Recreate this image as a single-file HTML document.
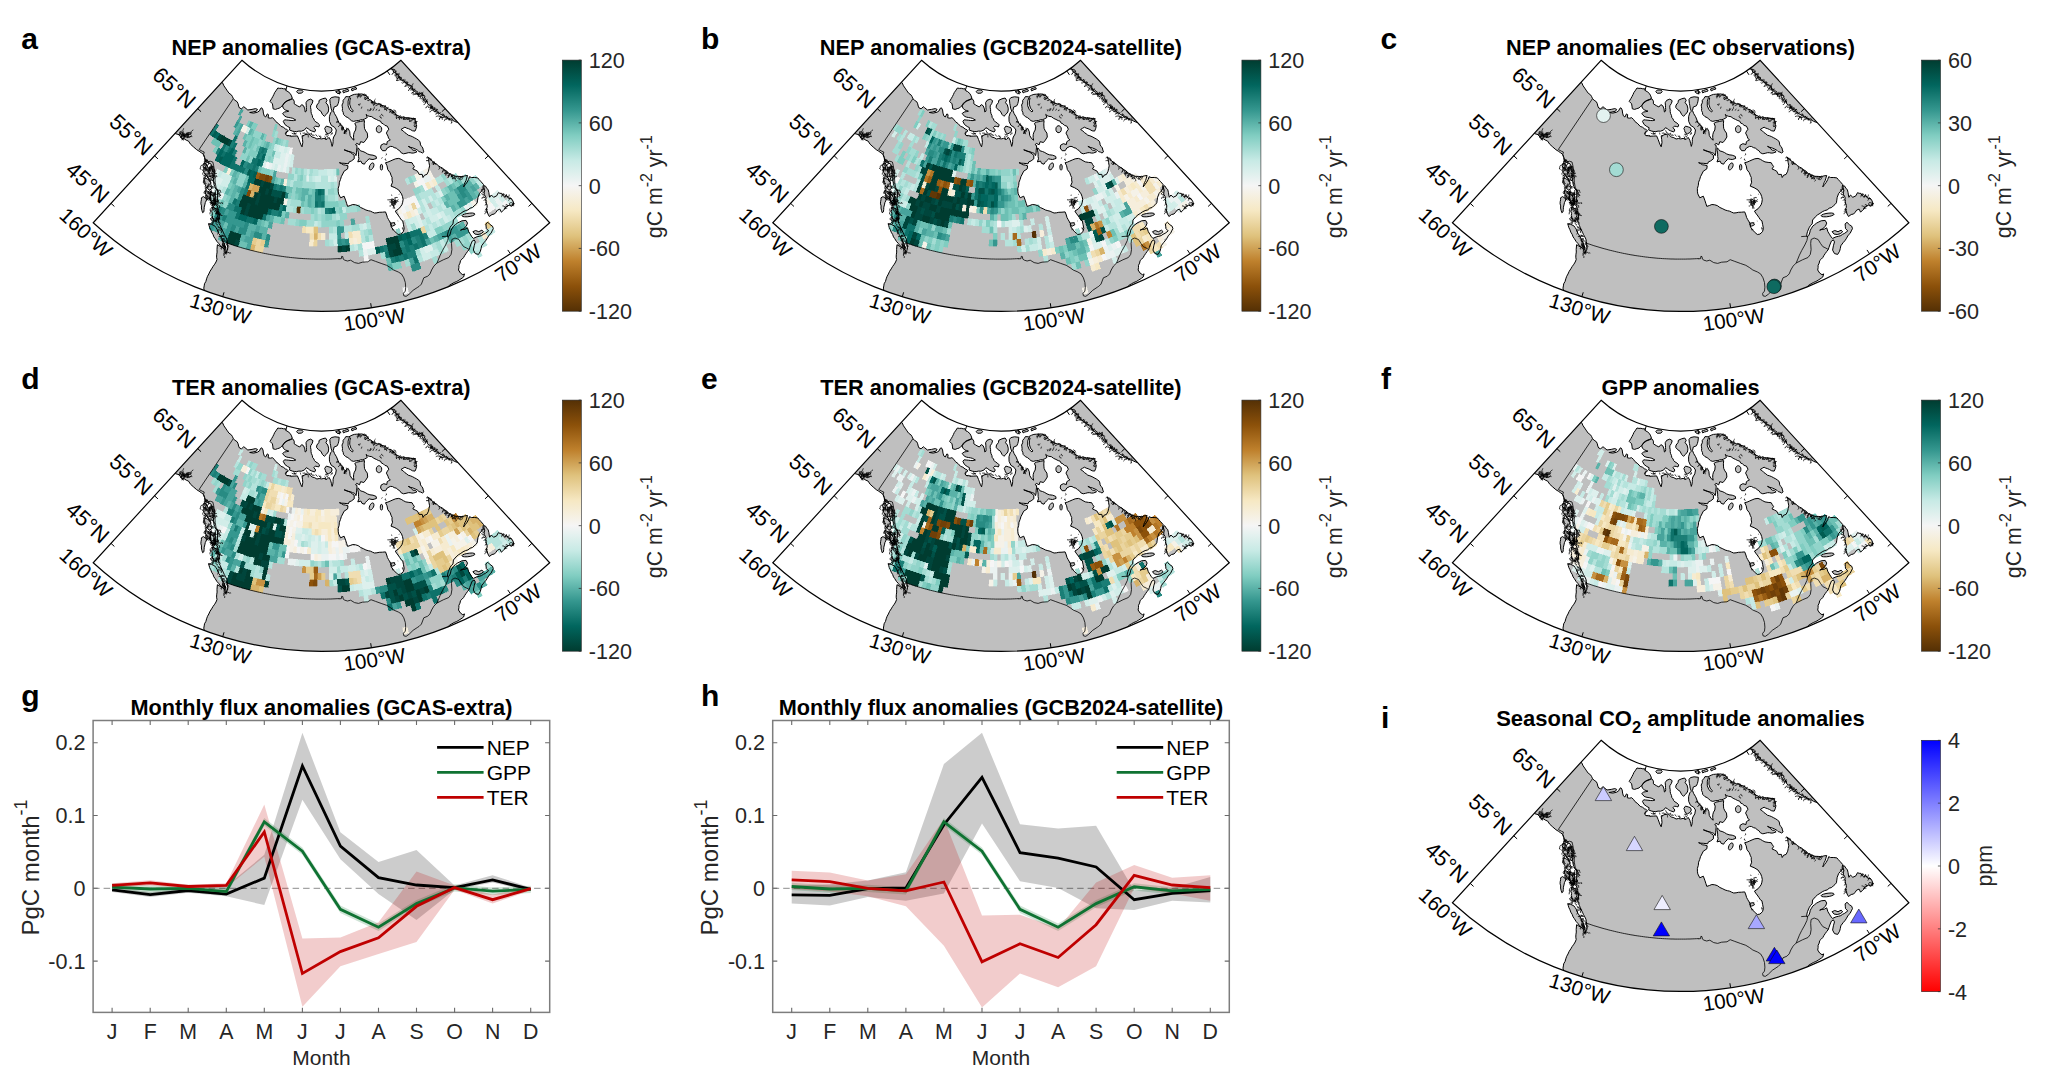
<!DOCTYPE html>
<html lang="en"><head><meta charset="utf-8"><title>Figure</title>
<style>html,body{margin:0;padding:0;background:#fff}body{width:2048px;height:1076px;overflow:hidden}svg{display:block}</style></head>
<body>
<svg width="2048" height="1076" viewBox="0 0 2048 1076" font-family="'Liberation Sans', Arial, sans-serif">
<rect width="2048" height="1076" fill="#fff"/>
<defs>
<clipPath id="fc"><path d="M93.21 222.78A338.09 338.09 0 0 0 549.69 222.78L400.96 60.24A117.78 117.78 0 0 1 241.94 60.24Z"/></clipPath>
<path id="ld" d="M214.5 75.6L216.7 77.2L218.4 79.3L220.4 81.0L222.5 82.7L223.9 85.8L225.5 88.1L227.4 90.9L229.0 93.2L231.3 94.8L232.5 96.7L233.3 98.7L234.9 100.2L237.2 101.8L238.1 103.8L238.6 106.1L239.5 108.0L241.5 108.8L243.8 106.7L245.0 107.7L247.8 110.0L252.0 109.4L255.6 108.6L257.5 109.4L256.3 111.2L252.8 112.0L249.7 112.5L253.6 113.1L257.5 112.2L259.5 110.8L260.6 108.4L261.8 107.8L263.0 110.0L263.4 113.1L264.2 115.9L265.7 117.0L267.3 113.9L268.5 114.7L268.1 117.8L270.4 118.2L272.4 117.7L274.3 119.4L275.9 121.7L278.6 123.7L281.0 126.4L283.3 127.2L285.6 129.1L286.4 129.2L288.4 130.8L285.3 133.5L286.4 135.5L288.8 135.7L291.1 136.2L294.2 136.1L297.4 135.9L298.9 139.4L299.9 142.1L300.9 144.8L302.0 146.8L302.8 142.5L302.5 139.4L302.0 136.2L305.2 134.7L309.1 133.9L310.5 135.6L312.2 137.0L314.7 137.7L316.9 139.0L319.2 138.5L321.6 138.9L323.9 138.4L327.0 139.4L329.0 137.4L330.6 140.2L331.4 143.3L332.1 146.4L332.8 144.1L333.1 141.7L333.1 139.3L333.7 137.0L335.6 133.9L336.3 130.0L334.5 127.3L331.3 125.3L329.5 121.4L329.4 119.1L329.4 116.7L330.6 112.8L332.1 111.2L331.0 108.1L330.7 105.8L330.2 103.4L329.8 99.5L331.3 97.6L334.9 96.8L339.2 97.3L338.8 101.1L338.2 103.5L337.2 105.8L334.1 107.0L333.3 110.5L334.5 113.6L336.4 116.7L338.0 120.6L339.5 123.8L340.9 125.5L342.7 126.9L343.6 129.0L345.0 130.8L344.2 133.9L345.8 130.0L348.1 128.4L349.7 131.6L350.1 135.5L352.0 138.6L354.0 140.2L353.5 137.4L353.6 134.7L354.3 132.2L355.6 130.0L356.0 126.1L354.8 123.4L356.7 122.2L360.6 121.4L364.5 120.6L364.2 123.8L364.3 126.1L364.5 128.4L365.7 130.9L367.3 133.1L367.7 137.0L365.7 140.2L363.8 142.5L360.6 141.7L359.5 144.8L356.7 143.3L355.6 144.8L357.0 145.5L356.9 147.8L356.6 150.2L356.5 152.9L356.0 155.6L354.6 153.3L352.5 152.6L350.3 151.7L347.1 151.1L344.1 149.8L346.2 150.4L348.3 151.4L350.3 152.3L352.3 153.8L354.2 155.2L354.2 158.8L351.5 160.9L349.2 161.9L348.4 163.8L344.1 163.3L341.7 163.2L339.4 162.7L341.4 163.6L343.3 164.8L345.7 165.1L348.0 165.8L347.6 168.9L344.1 171.2L342.7 174.0L341.3 176.7L340.5 179.5L339.4 182.2L339.1 185.4L338.2 188.4L338.2 191.2L338.6 193.9L340.6 197.8L344.1 196.2L345.6 200.2L346.6 203.3L347.6 206.4L350.2 205.5L352.7 204.5L355.5 204.8L358.1 205.6L360.7 207.5L363.6 208.8L365.9 210.0L368.3 210.7L370.5 211.2L372.5 212.2L374.5 213.0L376.9 212.8L379.2 212.3L382.4 212.2L385.5 211.9L386.7 215.0L387.4 217.5L388.6 219.7L389.8 221.8L391.0 224.0L391.3 227.0L393.7 230.2L395.1 231.9L396.8 233.3L398.1 234.5L400.7 234.1L403.3 231.7L404.2 228.6L403.5 224.7L402.7 220.8L401.1 219.7L399.6 217.3L398.0 215.0L396.5 213.1L395.3 211.1L398.8 208.8L400.4 206.8L401.9 204.8L402.7 202.2L403.1 199.4L402.5 196.6L401.5 193.9L400.1 192.0L398.8 190.0L396.8 188.8L394.9 187.7L391.0 186.1L392.5 182.2L392.0 179.9L392.1 177.5L391.0 175.2L390.2 172.8L387.8 169.7L387.0 165.8L385.5 162.7L387.9 162.1L390.2 161.1L392.9 159.9L395.6 158.8L398.8 158.4L401.2 159.3L403.4 160.7L405.8 161.9L408.9 162.4L412.0 162.7L413.1 164.7L414.4 166.6L412.8 168.9L415.2 170.0L417.5 171.2L419.1 174.4L422.2 174.4L423.0 177.5L424.5 175.2L426.9 174.4L428.5 171.2L429.0 168.5L429.6 165.8L429.0 162.7L428.5 159.5L427.7 156.8L429.9 159.1L432.4 161.1L434.4 162.7L436.6 164.2L438.6 165.8L440.4 167.1L442.4 168.1L444.1 169.7L446.1 170.7L447.6 172.4L449.5 173.6L451.5 174.8L453.7 175.5L455.8 176.3L458.9 176.4L462.0 176.7L464.7 175.9L467.5 175.5L466.7 178.1L466.0 180.6L464.9 182.6L464.2 184.7L463.6 186.9L465.4 184.5L467.1 182.2L468.5 179.6L469.5 176.7L471.4 177.5L474.6 177.5L477.7 177.9L479.2 179.7L480.8 181.4L483.5 184.5L483.0 187.0L483.1 189.5L481.3 191.4L479.5 193.4L478.0 197.3L477.6 200.1L477.2 202.8L475.8 204.5L474.1 205.9L472.5 207.5L470.0 208.2L468.0 209.9L465.5 210.6L463.0 211.8L460.8 213.4L458.3 214.9L456.1 216.9L453.4 220.0L453.0 223.9L451.2 225.7L449.9 227.8L448.3 231.7L447.7 234.0L447.5 236.4L447.7 236.8L449.5 235.6L450.5 233.0L451.1 230.2L452.3 228.2L453.5 226.2L455.4 224.7L457.4 223.1L459.7 221.9L462.0 220.8L466.0 220.4L467.5 223.1L466.3 226.2L463.6 228.6L460.5 230.2L462.8 229.4L465.2 229.2L467.5 227.8L468.7 231.7L470.6 234.8L471.8 236.8L473.4 238.4L476.9 236.8L479.2 236.3L481.6 235.6L483.4 234.3L485.5 233.3L488.6 230.9L486.3 228.6L486.1 226.2L485.9 223.9L487.8 222.3L490.2 224.7L492.5 226.2L493.3 228.6L492.1 230.9L491.0 233.3L489.0 235.2L487.0 238.8L485.6 240.8L483.9 242.7L481.6 245.8L481.1 248.5L480.4 251.2L478.5 254.4L475.3 253.6L473.4 250.1L474.2 245.8L475.3 241.9L474.2 239.9L472.2 241.1L470.6 245.0L469.8 247.3L469.1 249.5L467.5 251.5L466.0 253.6L464.7 255.5L463.6 257.5L462.1 259.1L460.5 260.6L460.0 263.1L458.9 265.3L458.9 267.7L458.5 270.0L460.5 273.1L462.8 274.7L464.5 273.9L463.6 277.0L462.0 278.2L458.9 280.2L456.7 281.5L454.2 282.5L451.9 283.8L449.5 285.2L447.2 287.6L446.0 289.7L445.1 292.0L444.1 294.2L443.3 296.6L442.9 298.8L443.1 301.1L442.5 303.4L442.5 305.7L442.7 308.0L442.6 310.3L442.4 312.6L441.7 314.8L441.9 317.2L441.8 319.4L441.3 321.7L441.3 324.0L441.3 326.3L441.1 328.6L440.7 330.9L440.8 333.2L440.5 335.4L440.0 337.7L440.0 340.0L437.8 340.2L435.6 340.5L433.4 340.6L431.2 341.1L429.0 341.0L426.8 341.2L424.6 341.5L422.4 341.8L420.1 341.4L418.0 341.8L415.8 342.2L413.5 342.1L411.3 342.2L409.2 342.9L407.0 343.1L404.8 343.2L402.5 343.0L400.4 343.6L398.1 343.4L395.9 343.6L393.7 343.9L391.5 344.3L389.3 343.9L387.1 344.2L384.9 344.6L382.7 345.0L380.5 344.9L378.3 345.3L376.1 345.3L373.9 345.7L371.7 345.6L369.5 346.2L367.3 346.3L365.0 346.0L362.8 346.2L360.7 346.8L358.4 346.6L356.3 347.2L354.0 346.9L351.8 347.2L349.7 347.7L347.5 348.0L345.3 348.3L343.0 347.9L340.9 348.7L338.6 348.3L336.4 348.4L334.2 348.8L332.0 349.3L329.8 349.0L327.6 349.1L325.4 349.5L323.2 349.8L321.0 350.0L318.8 349.7L316.6 349.4L314.4 349.1L312.2 348.4L310.0 348.2L307.8 348.0L305.6 347.7L303.4 347.0L301.2 346.9L299.0 346.4L296.8 346.1L294.6 345.4L292.4 345.0L290.1 345.2L288.0 344.8L285.8 344.3L283.7 343.5L281.4 343.3L279.2 343.2L277.0 342.9L274.8 342.2L272.6 341.8L270.4 341.3L268.2 341.4L266.0 340.6L263.8 340.4L261.6 340.2L259.5 339.5L257.2 339.6L255.0 338.9L252.8 339.0L250.6 338.6L248.4 337.7L246.2 337.8L244.0 337.1L241.8 336.8L239.6 336.3L237.4 336.3L235.2 335.9L233.0 335.6L230.8 334.8L228.6 334.7L226.5 334.0L224.2 333.7L222.0 333.9L219.8 333.2L217.6 333.2L215.3 332.9L213.2 332.5L211.0 331.6L208.8 331.3L206.6 330.9L204.4 330.8L202.2 330.3L200.0 330.0L200.4 327.8L200.3 325.6L200.7 323.4L200.7 321.2L200.8 319.0L201.1 316.8L201.8 314.6L201.8 312.4L202.2 310.2L202.1 308.0L202.2 305.8L202.8 303.6L203.0 301.4L202.7 299.1L203.4 297.0L203.2 294.7L203.4 292.5L204.2 290.4L203.8 288.1L204.2 285.9L204.5 283.8L205.9 281.4L206.6 278.8L207.5 276.3L208.8 274.0L210.0 271.3L211.6 268.9L213.0 266.5L214.7 264.2L216.0 262.0L217.0 259.5L216.6 257.2L216.7 254.8L217.1 252.1L217.0 249.4L217.2 247.0L217.4 244.7L221.0 246.9L224.1 248.6L226.4 250.9L225.6 253.7L227.4 250.2L227.8 247.4L227.6 244.7L227.2 241.6L226.7 239.1L225.6 236.9L224.3 234.6L223.3 232.2L222.0 229.9L221.0 227.5L220.2 225.4L219.1 223.4L218.6 221.2L219.1 218.1L219.4 215.0L218.5 212.7L217.9 210.4L218.0 207.9L217.0 205.6L217.0 203.0L217.4 200.4L217.4 197.8L217.5 195.2L217.6 192.6L217.8 190.0L216.7 190.3L214.7 186.4L213.8 183.7L213.5 180.9L213.6 177.8L213.1 174.7L213.1 171.5L212.4 168.4L211.9 166.0L210.8 163.8L207.7 162.6L205.3 161.4L204.5 157.5L203.4 154.4L201.4 152.8L199.1 151.2L196.7 149.7L193.6 147.0L190.5 144.2L188.5 141.1L186.3 140.2L184.2 138.8L181.1 138.0L179.5 134.8L175.6 133.7L173.8 132.4L172.2 130.7L170.6 129.0L168.6 127.8L170.1 126.1L171.7 124.5L173.1 122.8L174.4 121.0L176.0 119.4L177.4 117.6L178.9 115.9L180.2 114.2L181.8 112.6L183.7 111.2L184.9 109.3L186.5 107.7L188.0 106.0L189.6 104.4L190.8 102.5L192.2 100.8L193.7 99.1L195.2 97.4L197.0 96.0L198.5 94.3L199.6 92.4L201.1 90.7L202.7 89.1L204.2 87.4L205.7 85.8L207.0 83.9L208.4 82.1L210.0 80.6L211.4 78.8L213.1 77.3ZM277.8 88.0L279.8 88.4L281.7 88.3L283.6 88.8L285.5 88.8L286.4 90.9L288.0 91.6L290.3 93.6L291.5 95.9L292.3 98.3L290.3 99.8L287.2 101.0L284.5 103.0L282.5 105.7L281.0 106.7L279.8 108.0L277.6 108.6L275.5 109.4L273.1 108.8L272.8 106.1L272.4 103.8L270.0 101.4L271.6 98.7L272.8 96.6L273.9 94.4L274.7 92.5L275.9 90.9ZM283.7 103.4L285.6 101.5L288.8 99.9L290.7 99.3L292.7 98.8L294.2 101.1L294.2 103.8L295.8 104.8L297.4 105.8L299.7 107.0L301.7 104.6L303.6 105.8L304.8 108.9L305.2 112.0L306.3 111.2L306.5 109.4L306.3 107.6L306.3 105.8L306.0 102.7L307.5 100.3L310.6 99.1L313.0 100.7L312.2 103.4L310.6 105.8L310.6 107.8L311.0 109.7L311.0 111.7L311.4 113.6L312.3 115.5L312.6 117.5L313.8 118.9L314.5 120.6L315.9 122.0L317.7 123.0L319.6 124.9L318.8 126.9L317.1 126.5L315.3 126.1L313.8 127.7L315.7 130.0L314.5 132.0L311.4 130.8L309.7 130.0L308.3 128.8L306.3 127.7L304.4 130.0L301.3 131.2L298.9 131.1L296.6 131.6L294.6 131.5L292.7 131.2L289.5 130.0L289.9 127.7L287.6 126.5L284.9 124.5L283.3 121.4L284.5 119.8L286.6 120.0L288.8 120.2L291.1 120.5L293.5 120.6L295.8 120.0L292.7 118.3L290.7 117.8L288.8 117.5L286.8 117.1L284.9 116.3L283.8 114.9L282.5 113.6L284.5 112.0L286.6 111.7L288.8 111.2L287.1 110.5L285.3 110.1L283.3 108.1L282.5 105.8ZM316.9 105.0L318.8 102.7L319.2 100.3L322.4 98.8L325.5 98.0L327.0 100.3L325.9 102.7L327.8 105.0L328.6 108.1L328.6 110.1L328.2 112.0L326.3 114.4L324.3 116.3L322.4 114.4L320.8 111.2L318.5 109.7L316.5 107.3ZM324.7 128.4L326.3 126.1L329.0 126.9L331.3 127.7L332.1 130.0L331.0 132.3L328.2 133.9L325.9 132.3L325.4 130.4ZM345.8 96.6L348.9 96.8L352.0 95.2L354.3 94.4L356.7 94.2L359.1 94.2L361.4 93.9L364.5 94.8L367.3 96.8L369.2 99.5L371.0 100.1L372.4 101.5L374.3 102.6L376.3 103.4L378.1 104.2L380.1 104.1L381.7 105.4L384.3 105.9L386.4 107.3L388.5 109.1L391.1 109.7L392.8 110.9L394.6 112.0L395.8 115.2L397.9 115.5L399.7 116.7L401.4 117.7L403.4 116.8L405.2 117.5L407.0 117.8L408.8 117.8L410.6 118.3L412.8 118.7L415.0 118.6L415.4 120.5L415.8 122.5L416.3 124.4L416.6 126.4L416.0 128.8L415.0 131.1L412.5 130.8L410.3 129.5L408.5 128.7L406.6 128.1L404.9 127.2L402.9 128.3L401.0 129.5L403.1 130.8L404.9 132.7L406.6 133.8L408.2 135.2L410.3 135.8L412.5 136.7L414.5 137.8L416.6 138.9L418.2 140.0L419.7 141.2L420.3 143.0L420.5 144.9L421.6 146.4L422.8 148.0L423.2 150.0L423.9 151.9L422.4 153.0L420.8 152.1L419.0 151.6L417.7 150.3L415.4 149.0L413.0 148.0L410.6 147.4L408.3 146.4L410.1 147.2L411.4 148.8L413.0 150.2L415.3 150.3L416.9 151.9L413.8 153.0L411.9 153.1L410.1 152.7L408.3 152.7L406.0 153.3L403.6 153.8L401.2 152.8L399.7 150.7L397.9 149.6L396.3 148.2L394.2 147.6L392.4 146.5L390.3 146.4L387.2 148.0L385.6 150.7L382.5 150.7L380.6 148.0L381.0 145.2L383.7 143.7L386.8 144.5L387.2 141.7L388.7 140.7L390.3 139.8L388.6 138.4L388.0 136.2L386.4 133.1L387.4 131.1L388.8 129.2L387.2 126.1L384.9 125.4L383.3 123.8L381.5 123.1L380.5 121.1L378.6 120.6L376.3 119.4L373.9 118.3L371.8 116.7L369.2 116.3L367.5 115.6L366.1 114.4L367.3 117.5L364.5 119.1L362.7 119.7L360.6 119.8L358.8 120.6L356.7 120.6L353.6 121.4L351.4 120.7L349.7 119.1L347.9 117.6L345.8 116.7L343.5 114.4L343.2 112.3L342.3 110.5L342.5 108.6L342.3 106.8L342.0 105.0L343.1 102.8L343.1 100.3L344.6 98.6ZM381.7 129.2L381.5 130.7L380.7 132.0L379.6 132.6L378.4 132.6L377.3 132.0L376.5 130.7L376.3 129.2L376.5 127.7L377.3 126.5L378.4 125.8L379.6 125.8L380.7 126.5L381.5 127.7ZM358.1 147.8L359.4 149.3L360.5 150.9L362.9 151.5L365.2 152.5L367.4 153.9L369.9 154.8L373.0 155.2L376.1 156.4L376.5 158.4L374.8 159.0L373.0 159.5L371.0 159.3L369.1 158.8L366.7 161.1L365.4 162.5L364.4 164.2L362.0 163.4L360.9 161.1L357.8 161.9L358.9 158.8L358.5 156.4L358.5 154.1L358.3 152.1L357.8 150.2ZM373.4 167.2L372.5 168.6L371.4 169.6L370.4 169.9L369.6 169.5L369.2 168.5L369.3 167.1L369.8 165.6L370.7 164.2L371.7 163.2L372.7 162.9L373.5 163.3L373.9 164.3L373.9 165.7ZM382.6 167.2L382.5 168.5L382.2 169.5L381.7 170.1L381.2 170.1L380.7 169.5L380.4 168.5L380.3 167.2L380.4 165.9L380.7 164.9L381.2 164.3L381.7 164.3L382.2 164.9L382.5 165.9ZM391.0 223.1L394.1 222.7L395.3 224.7L392.5 226.2L390.6 225.1ZM475.0 214.0L474.5 214.8L472.7 215.7L470.2 216.4L467.2 216.8L464.5 216.8L462.6 216.5L461.9 215.8L462.4 215.0L464.2 214.2L466.8 213.5L469.7 213.1L472.4 213.0L474.3 213.4ZM472.9 231.7L475.6 230.5L478.8 231.7L481.9 230.2L483.5 231.7L481.1 233.7L478.0 234.5L474.9 234.1ZM484.2 185.6L483.8 188.0L484.7 190.3L484.2 192.7L484.2 194.5L485.3 196.1L486.0 197.8L485.8 199.7L486.0 201.6L486.4 203.4L487.0 205.2L487.2 207.2L486.2 209.1L487.2 211.3L487.8 213.8L489.3 216.5L492.0 214.5L494.4 214.0L496.0 212.2L497.5 210.1L499.9 209.1L501.4 212.2L503.8 209.8L505.2 208.5L506.1 206.7L509.2 205.2L511.6 206.3L513.9 204.4L513.1 201.2L511.6 198.9L508.5 198.1L506.9 195.8L504.5 196.6L502.8 195.3L501.8 193.4L500.0 193.3L498.3 192.7L496.7 195.8L493.6 197.3L491.3 195.0L489.7 197.3L489.2 195.0L488.9 192.7L488.1 189.5L486.6 188.3L485.8 186.4ZM208.5 223.6L209.1 225.5L209.6 227.5L210.8 229.8L211.6 232.2L213.0 234.4L213.9 236.9L215.0 238.4L216.0 240.0L217.0 241.6L218.7 243.4L220.2 245.5L221.9 246.7L223.3 248.2L225.6 247.8L224.7 245.5L224.1 243.1L222.9 240.8L221.7 238.4L220.8 236.9L220.1 235.2L219.0 233.8L217.8 231.5L217.0 229.1L215.9 227.5L214.7 225.9L211.6 224.4ZM203.4 196.6L205.3 197.9L206.9 199.4L205.3 202.5L204.8 204.9L204.2 207.2L204.1 209.5L203.8 211.9L202.6 212.7L201.9 210.3L201.4 208.0L201.5 205.9L200.9 203.8L201.0 201.7L201.4 199.8L201.4 197.8ZM390.8 68.2L392.9 69.4L393.5 72.0L395.5 73.3L396.8 74.5L398.6 75.2L399.2 77.3L401.0 78.0L401.9 79.8L403.6 80.8L405.0 82.2L406.4 83.4L408.1 84.8L410.2 85.3L411.9 86.6L412.7 89.1L414.2 91.2L416.2 92.4L417.4 94.4L419.8 94.0L422.0 92.8L423.1 94.8L424.4 96.7L424.8 98.6L426.4 100.1L427.1 101.8L427.5 103.8L428.9 104.8L430.4 105.9L431.7 107.1L433.0 108.4L434.3 109.9L436.4 110.4L437.5 112.2L439.2 113.1L440.7 114.4L442.6 115.2L443.9 116.6L445.5 117.8L447.3 118.3L448.9 119.2L450.6 120.0L452.5 120.2L454.2 121.2L456.1 122.0L458.0 122.5L461.1 120.9L460.4 119.1L459.1 117.7L457.7 116.3L457.2 114.3L455.5 113.2L454.5 111.5L453.2 110.1L451.8 108.7L451.3 106.7L449.9 105.3L448.6 103.9L447.5 102.4L446.3 100.9L445.5 99.1L444.1 97.9L443.4 96.1L441.8 95.1L440.8 93.5L439.5 92.3L438.1 91.1L437.0 89.7L436.3 87.9L434.9 86.7L433.5 85.5L432.4 84.0L431.5 82.5L429.9 81.5L428.6 80.2L427.4 78.9L426.5 77.2L425.1 76.0L423.6 75.0L423.1 72.9L421.0 72.5L419.9 70.9L418.9 69.5L418.3 67.6L416.7 66.5L415.2 65.5L414.2 63.9L412.5 62.9L411.0 61.4L408.9 60.9L407.1 59.8L405.3 58.8L403.4 58.0L401.7 56.9L400.2 57.9L398.8 59.2L396.9 59.6L395.3 60.4L394.3 62.3L392.2 62.4L390.7 63.5L389.2 64.7L390.2 66.4ZM296.6 91.7L298.1 90.0L301.7 90.0L303.0 91.6L301.7 93.1L298.1 93.3ZM335.6 91.7L338.8 90.5L341.1 92.5L338.0 93.7ZM342.7 90.9L344.5 90.5L346.3 89.7L348.1 89.4L348.9 90.9L347.1 91.6L345.2 92.0L343.5 92.9ZM351.3 89.0L353.6 88.2L356.0 87.4L356.7 89.0L354.3 89.7L352.0 90.9ZM203.4 163.8L205.7 163.0L206.7 164.9L207.7 166.9L208.1 168.9L207.7 171.1L208.5 173.1L207.9 175.4L207.7 177.8L207.0 175.8L205.3 174.7L204.2 172.5L203.8 170.0L204.2 167.9L202.9 165.9ZM204.2 177.8L206.0 178.4L207.7 179.4L209.5 180.7L210.8 182.5L210.8 184.6L211.7 186.6L211.6 188.8L209.2 190.3L207.9 188.5L206.1 187.2L205.4 184.7L204.2 182.5L203.9 180.2ZM209.2 166.9L211.6 168.4L212.5 170.4L211.9 172.6L212.4 174.7L212.1 176.8L213.3 178.8L212.8 180.9L210.8 179.4L211.1 177.4L210.2 175.7L209.6 173.9L209.0 171.6L209.6 169.2ZM205.3 190.3L207.3 191.1L209.2 191.9L210.9 193.4L212.4 195.0L213.7 197.3L214.7 199.7L215.7 201.7L215.5 204.0L212.4 202.8L211.4 201.0L209.5 199.9L208.5 198.1L207.1 196.2L205.7 194.2L205.2 192.3ZM210.0 191.6L212.2 192.9L214.7 193.1L214.9 195.2L214.9 197.3L215.5 199.4L215.8 201.5L215.0 203.6L214.7 205.6L211.6 204.1L211.3 202.0L210.6 199.9L210.4 197.8L210.4 195.7L210.4 193.6ZM211.6 207.2L213.9 207.9L216.3 208.8L217.3 210.4L216.6 212.4L216.9 214.1L217.8 215.8L216.8 217.5L216.9 219.4L216.7 221.2L213.5 219.7L212.6 217.7L212.1 215.6L212.4 213.4L211.7 211.4L212.4 209.2Z"/><path id="wt" d="M349.3 97.6L348.1 101.1L348.1 105.8L349.7 109.7L352.4 112.0L353.2 110.9L350.9 108.1L349.7 104.2L349.9 100.3L350.5 98.0Z"/><path id="bd" d="M233.3 98.7L199.1 149.5L202.2 151.2L204.2 152.0L203.6 154.4L204.7 157.5L205.5 161.4L207.7 162.0L210.2 161.2L212.8 162.0L213.6 165.3L214.4 170.0L214.8 176.2L215.2 182.5L216.0 187.2L217.5 190.3L218.0 195.0L217.7 197.8M227.2 243.8L226.7 243.0L228.7 243.7L230.7 244.3L232.7 245.0L234.7 245.7L236.8 246.3L238.8 246.9L240.8 247.5L242.8 248.1L244.9 248.7L246.9 249.2L249.0 249.8L251.0 250.3L253.1 250.8L255.1 251.3L257.2 251.8L259.3 252.3L261.3 252.7L263.4 253.2L265.5 253.6L267.6 254.0L269.6 254.4L271.7 254.8L273.8 255.1L275.9 255.5L278.0 255.8L280.1 256.1L282.2 256.4L284.3 256.7L286.4 257.0L288.5 257.2L290.6 257.5L292.7 257.7L294.8 257.9L296.9 258.1L299.0 258.3L301.1 258.4L303.2 258.6L305.4 258.7L307.5 258.8L309.6 258.9L311.7 259.0L313.8 259.0L315.9 259.1L318.1 259.1L320.2 259.1L322.3 259.1L324.4 259.1L326.5 259.1L328.6 259.0L330.8 259.0L332.9 258.9L335.0 258.8L337.1 258.7L339.2 258.6L338.9 258.8L341.3 258.7L341.7 256.3L342.8 256.6L343.2 259.1L344.8 260.2L347.5 261.0L350.6 260.2L354.5 262.6L358.5 263.4L362.4 262.2L367.8 261.8L371.0 259.7L375.6 261.4L381.1 263.4L386.6 265.3L390.5 267.7L393.6 270.0L398.3 272.0L401.4 273.9L403.8 277.8L405.3 282.5L405.7 287.2L405.3 291.1L403.4 293.4L403.8 295.8L406.1 296.4L409.2 294.2L413.1 290.3L417.8 287.2L419.1 286.4L421.4 284.1L423.8 277.8L427.7 276.2L430.0 273.9L431.6 270.0L433.9 266.1L437.0 263.0L438.6 259.1L440.2 255.2L442.5 250.5L445.6 245.0L447.7 240.5L448.5 236.8M437.0 263.0L443.3 259.8L448.8 257.5L451.1 254.4L451.9 249.7L451.5 243.4L451.9 239.5L455.0 238.0L458.9 239.5L461.3 243.4L463.6 246.6L466.7 248.1L469.1 249.5M442.0 236.6L447.7 236.2"/><path id="sc" d="M212.2 192.0L211.0 192.4L211.6 193.0L210.7 193.4M206.2 191.5L205.5 192.2L205.2 193.3L205.9 193.6L206.6 194.3M213.1 167.0L211.6 166.9L211.5 167.7L212.0 168.7L212.8 169.5M207.2 195.5L208.1 195.9L209.3 196.9L209.9 197.8L210.3 199.0L210.9 200.1M206.1 195.6L205.6 196.5L205.8 197.4L206.5 198.5L207.5 199.0L208.3 199.4M207.1 194.6L206.4 194.9L205.3 195.3L206.1 196.4L206.2 197.1L205.7 197.7M213.9 201.7L214.8 202.1L214.1 202.8L212.8 203.4L213.0 204.7L213.1 205.7L213.8 206.6M210.2 173.2L211.1 173.9L212.3 173.4L212.8 174.1L213.7 175.0L215.3 175.1M209.8 193.5L210.6 194.4L210.5 195.7L210.5 196.6L210.1 197.8L209.2 198.8M210.7 165.2L210.8 166.4L210.7 167.9L210.2 168.8L209.5 169.6L208.7 169.6L208.2 170.7M205.1 190.9L205.4 191.6L204.4 191.5L204.0 192.6L204.4 193.8M208.2 173.8L206.9 174.0L205.8 173.9L205.8 175.4L205.8 176.1L205.4 177.2L205.1 178.1M209.8 166.8L211.2 167.0L212.3 166.6L213.5 166.3M208.2 177.6L209.1 178.3L209.0 179.4L209.2 180.3L210.6 180.0L210.3 180.6M212.8 202.2L212.8 202.8L213.3 204.0L213.3 204.9M206.9 185.8L207.7 185.8L207.4 187.1L208.4 187.3M213.2 166.4L213.4 167.9L213.4 169.3L214.0 170.4L213.4 171.5L213.9 172.4L214.1 173.5M207.2 165.2L206.1 165.5L206.0 166.8L206.3 167.4L205.5 167.9L206.3 168.5L206.9 169.3M216.5 203.7L217.4 204.5L218.2 205.0L218.9 205.4L219.9 206.2L219.2 206.7L219.6 207.7M204.6 186.8L205.5 187.4L205.1 188.2L205.9 189.0L207.0 189.6M203.7 163.3L204.0 164.7L205.0 165.3L205.6 166.7L205.9 167.9M210.1 167.3L210.3 168.3L210.0 169.2L211.0 170.0L210.2 171.0L210.0 172.1L209.4 172.7M202.7 166.9L203.3 167.7L204.8 167.7L205.9 167.8L206.3 168.9L206.5 170.0L207.8 169.5M214.2 172.2L214.9 173.4L216.0 173.1L216.8 173.7M205.4 158.7L206.1 159.8L206.3 160.8L207.8 160.5M205.5 159.5L206.2 159.9L206.4 161.0L205.4 161.4L206.1 162.1L206.2 162.8M206.1 159.8L207.5 159.9L207.6 161.4L208.8 161.8M205.2 168.4L206.0 169.1L206.7 170.1L206.3 171.1M214.5 181.8L214.4 182.8L214.5 183.6L215.2 183.9M204.3 161.3L204.3 162.6L205.3 162.8L205.6 164.2M214.5 175.2L213.4 175.7L213.0 176.9L212.2 178.0M213.4 169.9L213.0 170.8L213.7 171.6L214.5 172.4L215.1 173.4L214.2 173.8L213.5 174.0M204.2 166.9L204.6 168.1L205.8 168.2L205.7 169.6L205.6 170.6M209.2 178.0L208.7 179.2L209.7 179.9L210.9 180.3L210.5 181.7M208.5 167.5L209.5 168.1L209.5 169.5L209.3 170.9L210.4 170.8M204.5 168.6L205.2 169.0L204.8 170.1L205.8 171.0M212.2 194.7L213.4 194.9L213.2 196.1L213.4 197.1M210.9 189.6L211.3 190.5L211.4 191.7L212.0 192.1M207.9 184.5L208.3 185.3L207.8 186.3L207.0 187.5L206.1 188.6L205.8 189.6L205.0 190.2M210.9 175.8L212.2 175.9L213.4 175.7L214.8 175.7L215.8 176.4L216.6 175.7L216.9 177.1M203.4 176.7L204.2 177.7L204.8 178.3L205.7 178.9M208.9 161.4L209.1 162.1L208.5 162.8L208.9 164.0L207.9 164.4L207.4 165.8M207.3 197.0L206.3 197.8L205.8 198.7L206.6 199.2L205.9 200.1M207.4 193.3L208.6 193.6L209.4 194.1L208.9 194.9M207.7 192.0L209.1 192.2L208.8 193.1L210.1 193.6L209.8 194.3L210.6 194.9M209.1 167.7L208.5 168.2L208.9 169.6L208.3 170.8L208.7 172.0L209.5 172.8M209.5 175.3L208.9 176.1L210.0 176.3L210.0 177.4M202.6 164.9L201.2 165.5L200.7 166.3L200.7 167.6L199.8 168.4L200.9 168.9L201.1 169.7M208.1 175.8L208.8 176.6L209.6 176.4L210.6 176.0L210.5 176.7M215.5 202.2L215.6 203.1L215.5 204.5L216.2 205.0L216.6 205.8M216.6 199.0L217.7 199.4L218.2 200.5L217.4 201.1L218.2 202.1L219.2 202.7M208.9 180.9L209.9 181.2L210.3 181.9L210.8 182.9L210.0 183.5L209.4 184.9M203.4 178.4L204.3 179.3L204.4 180.3L205.0 181.0L204.7 182.3L205.8 183.0L206.1 184.0M204.5 163.3L204.9 164.4L205.8 164.8L206.8 165.3M204.4 159.9L205.0 160.6L204.8 161.3L204.5 162.5M212.0 186.0L212.3 187.1L213.5 186.8L214.3 187.9M206.6 176.3L207.2 176.9L207.9 177.8L208.8 178.0L208.4 178.6L209.0 179.2L209.4 180.0M204.4 180.3L203.6 180.6L203.7 181.7L202.9 182.1L203.7 182.7L204.1 183.5L204.3 184.6M210.0 190.5L210.4 191.1L210.4 192.4L211.8 192.2M205.0 173.1L205.0 173.8L206.0 174.5L205.3 174.9M214.9 199.2L215.1 200.1L214.3 201.0L214.1 201.9M203.4 175.2L204.5 175.0L204.1 176.0L205.3 176.3L206.0 176.9M212.4 200.2L213.1 200.4L213.7 201.6L214.1 202.4M214.1 169.4L214.9 169.9L214.7 171.4L215.5 171.6M209.4 186.3L208.4 186.7L207.2 187.1L206.7 187.8L207.5 188.6M215.7 198.2L215.7 199.1L215.8 200.1L215.4 200.8L214.9 201.5L216.2 202.0M206.7 195.7L207.3 196.7L206.9 197.9L207.7 198.3L207.0 199.5L208.0 199.8L208.8 200.6M215.5 187.8L215.6 188.6L216.3 189.3L217.1 189.9L218.2 190.0M215.1 194.0L215.0 195.0L214.9 195.8L215.8 196.9L215.8 197.7L214.9 198.5M209.7 186.2L211.0 186.7L211.5 187.4L212.4 187.8L212.9 188.5M207.0 191.4L206.9 192.4L207.6 192.9L209.0 193.1L209.4 194.2M203.7 168.3L203.1 169.4L202.6 170.6L203.7 171.1L203.3 172.4L202.8 173.2L202.7 174.6M212.3 166.0L211.2 166.7L211.6 168.1L211.1 169.2L211.8 170.3L212.5 171.1L212.5 172.0M208.5 183.5L208.6 184.8L209.1 185.6L208.1 186.0M213.9 176.4L215.0 176.8L215.4 177.9L214.8 178.5M217.6 217.6L218.4 217.8L217.4 218.4L218.5 218.5L217.6 219.4L218.7 219.8M216.9 212.3L216.3 212.8L215.4 213.6L216.1 214.2M212.3 222.0L211.4 222.8L210.8 223.7L209.6 224.2L208.6 224.8M213.8 202.0L215.0 201.7L216.0 201.7L217.5 201.6L218.6 201.2M212.7 220.4L213.1 221.2L212.7 222.0L212.5 222.7L212.7 223.5L212.4 224.5M217.5 202.8L218.6 203.3L219.8 202.9L221.0 203.3L221.6 202.6L222.5 202.9L222.4 203.9M218.5 210.6L218.8 211.8L219.6 212.6L220.3 213.4L220.7 214.3L221.2 215.5L222.6 215.6M215.8 222.4L216.2 223.8L217.0 224.8L217.9 224.8M217.7 216.9L218.0 217.8L219.0 218.4L220.1 218.7M214.1 220.2L213.8 221.0L213.5 222.3L213.1 223.0L212.7 223.8M213.9 208.8L213.4 209.6L213.8 210.5L214.5 211.2M213.9 202.5L213.0 203.2L213.7 203.7L215.0 204.4L213.8 204.8M210.4 208.4L210.4 209.3L209.8 210.2L211.0 210.7L210.3 212.0L210.1 212.8L209.9 214.3M215.2 190.2L215.6 191.0L215.5 192.6L215.0 193.8L214.2 194.6L213.2 195.2L212.7 195.8M210.3 202.3L210.6 203.4L210.7 204.5L211.4 205.2L211.9 205.8M218.9 215.2L218.6 216.2L219.5 217.2L218.9 218.1L219.6 219.2L218.4 219.6L217.9 220.5M209.6 202.3L210.8 202.6L211.5 203.5L212.3 202.9M214.1 198.9L214.6 199.8L215.3 201.1L215.4 202.4L214.6 202.9L215.8 203.2M211.1 193.6L210.7 194.7L210.1 195.7L209.0 196.3M218.1 220.2L218.1 221.2L218.8 221.3L218.8 221.9L219.5 222.2L219.9 222.9L220.6 223.5M217.4 206.4L217.0 207.7L217.2 208.5L218.0 208.7L217.9 209.8L219.2 209.9M216.3 194.2L215.4 194.9L214.9 195.5L215.7 196.5L215.7 198.1M211.3 202.5L212.1 203.2L213.3 202.9L213.0 203.6L214.3 203.7L214.7 204.9M213.2 218.0L213.5 219.4L213.5 220.9L214.8 221.5L215.9 221.3L216.8 221.8L217.8 222.4M212.7 216.9L212.3 217.9L211.0 218.1L210.1 218.9L211.3 219.5L211.0 220.1M209.4 197.0L210.2 197.4L209.7 198.5L210.3 198.7L210.1 199.7M214.3 211.5L215.5 212.0L216.9 212.1L217.3 213.5L218.5 213.7L218.8 214.9M213.0 216.4L211.9 216.7L212.5 217.7L212.8 218.7M210.1 193.8L210.9 194.0L211.6 194.6L211.8 195.9M217.1 199.5L216.5 200.0L217.6 200.3L218.8 200.8L218.0 201.5L217.6 202.2M213.4 206.4L214.0 207.2L214.2 208.3L214.2 209.4L215.0 210.4L216.3 210.9M211.6 217.6L212.3 218.4L211.7 219.5L212.4 219.9L211.5 220.9L212.4 220.9M213.8 200.2L213.8 201.4L214.6 202.1L215.4 202.9L216.0 204.1L215.6 205.0M214.4 218.8L215.4 219.5L215.6 220.6L216.5 221.0M214.3 192.4L215.6 192.6L215.2 194.0L215.3 195.4M216.7 190.1L218.1 190.3L219.4 190.2L220.1 190.1L220.5 191.5L221.0 192.8M210.4 191.7L211.2 192.2L212.3 192.8L213.1 193.2L213.8 193.9L213.3 195.3M216.3 211.5L216.7 212.5L217.1 213.7L218.1 214.5M211.5 209.1L212.2 208.6L213.0 208.6L213.8 209.5M214.5 204.6L213.2 204.6L212.5 205.2L212.5 206.3L212.8 207.2M217.2 211.9L217.9 212.6L218.6 213.3L219.1 214.4L219.7 215.0L220.8 214.9M209.4 197.1L209.8 197.9L209.5 198.5L210.0 199.8M212.1 200.8L210.9 201.1L211.5 201.8L212.7 202.3L212.8 203.1L211.7 203.6M215.2 217.9L215.9 218.3L216.9 218.1L217.1 218.8L217.4 219.6M217.8 191.3L219.0 191.9L219.2 193.3L220.0 194.2L219.9 195.5L219.3 196.6L220.1 197.4M215.3 220.9L216.1 220.7L215.9 221.8L216.7 222.0M213.4 199.5L214.1 199.8L214.1 201.3L214.7 201.9M218.5 211.4L217.4 211.8L216.9 212.7L216.2 213.8M215.2 197.6L214.4 198.1L213.4 198.4L214.1 199.4L214.8 200.4L213.4 200.7M213.7 194.2L215.1 194.1L215.8 193.9L216.7 194.6M217.5 192.4L218.1 193.2L218.9 193.7L219.2 194.8L220.1 195.0L221.0 196.0M217.6 211.2L217.4 212.0L217.9 212.8L217.8 213.8M216.8 208.4L215.6 208.8L215.8 209.9L216.4 210.9L217.5 211.7L217.8 212.3L218.4 213.2M212.2 200.0L212.7 200.6L214.2 200.2L214.9 200.5L215.8 201.2L217.2 201.2M211.8 197.4L211.7 198.7L211.3 199.6L210.7 200.0M210.9 196.0L210.5 197.0L210.0 198.3L208.6 198.3L207.7 198.3M218.3 213.8L219.7 213.9L218.8 214.4L219.5 214.5L220.3 215.0M214.4 198.4L214.7 199.4L213.5 199.5L213.6 200.6L212.6 201.2L211.2 201.1M215.5 219.0L216.2 219.3L217.3 219.3L218.7 219.4M212.3 205.1L212.9 206.0L213.8 206.9L213.3 207.8L212.0 208.3M219.0 229.1L218.5 229.9L217.8 230.3L217.9 231.4M227.3 244.1L227.2 245.6L228.5 245.9L229.2 246.4M222.4 244.3L222.8 245.4L223.3 246.4L222.8 247.1M221.3 235.1L222.3 235.5L223.3 235.7L223.2 236.9M223.9 242.9L224.6 243.3L224.4 244.5L225.0 245.6L225.3 247.0L226.1 247.8L225.9 248.7M221.3 229.6L220.6 230.8L221.5 231.4L220.8 232.1L221.6 232.4L222.1 233.1M227.4 246.0L227.8 247.4L227.6 248.4L228.1 249.2M220.6 227.8L221.3 228.0L221.6 229.3L221.5 230.2M219.3 235.8L219.0 236.8L219.7 236.5L221.1 236.5L222.4 236.0L223.5 235.8L224.7 236.8M219.6 229.6L219.0 230.8L218.3 231.3L218.4 232.2L218.1 233.7L217.3 234.2M222.7 235.1L221.8 235.3L222.1 236.1L221.3 237.2L221.0 238.6L221.9 239.6M225.1 247.8L225.6 248.5L224.7 249.2L224.5 250.0L224.0 250.7M222.8 243.0L223.9 243.3L223.3 244.0L223.1 245.4L224.3 245.8L225.3 246.5M224.5 252.4L223.5 253.0L224.3 253.9L223.5 255.0L224.1 255.8L224.7 256.5L224.6 257.9M217.2 225.7L218.2 226.7L219.3 227.2L220.3 227.8L221.1 228.8L221.8 230.1L222.9 230.1M225.1 252.4L226.5 252.2L228.0 252.2L229.2 253.0L230.3 252.9L231.1 253.2M222.1 238.1L222.9 238.9L224.2 238.5L224.3 239.4L224.4 240.7L224.8 241.9M221.8 240.5L222.5 240.8L222.8 242.2L222.8 242.9L222.3 244.1L222.7 245.1M217.9 227.8L219.4 227.7L219.9 228.5L220.3 229.7M223.4 244.7L222.6 245.0L223.1 246.2L222.7 247.5L221.4 247.7L220.9 248.7L222.0 249.2M222.7 246.0L223.7 245.7L223.5 246.9L225.0 246.8L225.7 246.9M221.0 240.1L222.4 239.9L222.9 240.7L223.2 242.0M226.6 248.9L226.1 249.7L225.9 251.1L225.5 252.0L225.0 253.3L224.5 254.5M225.3 246.6L225.6 247.7L224.6 247.6L225.0 248.5L225.1 249.6M223.3 238.8L223.0 240.0L222.3 240.6L222.7 241.8M223.9 245.5L224.6 246.1L224.3 247.5L224.0 248.5L223.8 249.5L224.6 250.1M225.6 240.3L225.9 241.3L226.4 242.1L226.1 242.9L226.1 244.3L227.1 245.2M224.2 252.5L225.2 252.4L226.6 252.3L226.4 252.9L226.7 253.7L226.2 254.5M225.0 248.9L224.5 250.3L223.8 251.3L225.1 251.4M224.7 244.5L224.3 245.3L225.0 245.9L225.0 246.9M180.5 137.0L181.6 136.8L181.0 135.9L182.1 135.2L182.8 134.2M184.6 135.0L184.3 136.2L184.6 137.0L185.3 137.4M181.4 137.9L182.0 138.8L182.8 139.9L183.8 140.1M180.6 137.5L181.9 136.9L182.5 136.3L183.2 135.8L184.3 135.9L184.3 135.2M182.8 133.2L184.0 132.8L184.6 133.5L185.0 134.8L185.6 133.9L187.0 133.7L187.3 134.7M183.5 131.6L182.8 130.5L183.3 129.3L183.7 128.3M182.8 136.6L183.3 136.0L184.1 135.9L183.5 134.7L184.6 135.0L185.6 135.2M185.5 135.2L186.3 135.2L187.3 135.8L188.4 135.1L189.0 135.7M179.7 131.9L180.9 131.9L181.5 131.3L182.6 131.9M186.6 132.7L187.8 132.7L189.2 132.4L190.5 132.9L191.2 131.6L192.2 130.6L193.3 129.9M187.4 133.5L187.6 134.6L186.9 135.3L187.5 136.3L187.2 137.5M185.3 136.7L185.6 135.5L186.0 134.8L186.9 135.0M187.6 135.3L188.1 134.5L189.1 134.3L190.2 134.6L190.9 134.3L191.0 133.2L191.6 132.5M179.4 132.6L180.7 131.9L181.2 132.6L182.3 133.1M188.2 136.6L189.2 137.3L190.0 136.8L191.0 136.5M186.8 133.9L187.5 134.2L187.3 133.5L188.2 133.8L188.9 134.3L188.9 133.1M182.3 133.0L183.6 133.8L183.7 134.7L184.5 134.9M185.3 136.2L186.7 136.6L188.0 137.2L189.4 136.9L190.6 136.5L191.5 135.7L191.9 137.1M182.2 132.8L182.6 133.5L183.3 133.7L183.4 135.0L183.9 135.8M180.0 132.5L180.4 133.6L181.4 134.3L182.7 135.1L184.2 135.3M182.5 131.8L182.8 133.3L182.3 134.4L181.9 135.9L181.6 136.5M184.3 135.0L185.5 134.6L186.7 134.5L187.6 134.7L188.5 134.0M186.1 133.9L187.2 134.1L188.1 134.7L188.4 135.4M187.5 137.5L188.1 136.7L188.2 135.4L188.5 134.0L189.8 134.0L190.5 133.8L191.3 132.9M184.5 135.1L183.6 135.3L184.2 136.6L183.6 137.5L183.0 138.4L183.3 139.1L183.0 139.9M183.3 136.9L184.4 136.8L185.6 136.8L186.8 137.3L187.8 137.7L188.7 137.1M182.8 135.3L181.6 136.1L181.3 137.2L182.2 138.1L182.8 138.6L182.2 139.4L181.7 140.2M180.6 133.0L180.5 134.3L181.5 133.9L182.0 134.9M184.3 135.6L184.9 136.1L184.5 137.3L183.9 137.8L184.9 138.1M179.5 133.1L179.8 134.0L179.7 135.1L178.8 136.1M393.6 69.1L392.7 69.6L391.9 70.1M394.1 70.8L393.6 71.7L393.4 72.7L392.8 73.4L392.2 74.3M395.2 71.0L395.7 71.8L395.4 72.8M396.7 72.1L395.9 71.6L395.8 70.6L395.1 69.8L394.2 69.7M393.4 73.3L392.5 73.8L391.9 74.5M390.4 69.0L391.3 69.4L392.3 69.6L393.3 69.7M391.1 68.1L390.7 67.2L389.7 67.3M395.3 71.3L395.0 72.2L395.7 73.0L396.2 73.8M392.1 67.2L391.5 68.0L391.1 68.9M395.0 70.3L394.1 69.9L393.5 69.1M391.7 67.8L390.7 67.6L389.9 66.9M394.7 74.6L395.0 75.5L395.3 76.5M398.6 77.8L397.6 77.9L397.2 78.9L397.2 79.9L396.4 80.5M398.8 75.9L397.9 76.3L397.2 77.0L396.3 77.4L396.4 78.4M396.8 73.0L397.0 73.9L397.6 74.7M399.5 74.4L398.5 74.7L397.6 75.0L396.6 74.9L395.7 75.3M399.7 76.5L399.5 77.5L398.5 77.7L397.5 77.8M396.8 73.3L396.9 74.3L396.0 74.9L395.0 74.7M397.8 73.5L398.7 73.9L399.5 73.3M396.9 73.9L396.5 74.8L396.2 75.8L396.4 76.8M400.1 78.5L400.7 79.3L401.5 80.0M398.6 77.4L397.9 78.0L397.5 79.0M398.5 76.4L398.6 77.4L399.4 78.0M406.4 81.5L405.8 82.3L405.3 83.2M404.1 81.3L404.1 82.3L403.2 82.8L402.3 83.2L401.5 82.6M399.7 79.5L398.9 80.0L398.0 80.5L397.0 80.6L396.1 80.1M405.5 83.0L404.7 82.4L404.3 81.5M401.0 79.1L400.0 79.0L399.1 78.5L398.6 77.6M401.8 77.4L400.8 77.5L400.0 77.0L399.2 76.3M407.1 81.4L407.2 82.4L407.5 83.4L407.7 84.4L408.6 84.8M400.4 78.9L400.7 79.8L401.1 80.7M405.2 79.6L404.9 80.5L405.1 81.5L405.3 82.5M404.4 79.4L403.4 79.6L403.0 80.5L402.9 81.5M401.4 80.0L402.1 80.8L403.1 80.6M401.0 78.8L400.4 79.6L399.9 80.5M404.2 80.5L404.3 81.4L403.9 82.3M407.0 82.6L406.3 83.4L405.8 84.2M411.4 86.2L410.9 87.0L410.1 87.6M408.1 82.2L407.5 83.1L406.5 83.0L406.0 82.1M410.4 87.6L410.2 88.6L410.1 89.6M409.1 84.1L408.6 85.0L409.1 85.9L410.0 86.4M408.1 86.4L408.4 87.3L409.0 88.2L409.8 88.7M407.3 84.1L407.6 85.1L407.1 85.9L406.1 85.8L405.5 86.6M410.8 88.1L409.9 88.4L409.4 89.2L408.7 90.0L408.5 91.0M406.4 83.7L406.4 84.7L405.6 85.3L404.9 86.0L405.0 87.0M410.8 84.9L410.9 85.9L410.0 86.4M412.7 86.7L411.9 86.1L412.2 85.1L412.8 84.3L413.2 83.4M414.0 90.7L413.8 91.7L412.9 92.1L412.5 93.0L411.5 93.1M412.2 89.8L411.2 89.6L410.6 90.4M415.2 88.9L414.4 89.5L413.5 89.1L412.7 89.6L412.1 90.4M413.2 88.9L412.2 88.9L411.4 88.4M412.3 88.4L412.3 89.4L412.9 90.1L413.0 91.1M414.9 89.0L414.0 89.5L413.9 90.5M412.8 88.6L411.8 88.6L411.1 87.9L411.5 87.0L412.5 86.9M417.0 91.6L416.3 90.9L415.4 90.4L414.9 89.5M416.0 90.7L416.7 91.4L417.6 91.8L417.8 92.8L417.4 93.7M418.2 93.4L417.3 94.0L416.4 94.2L415.8 93.4L414.8 93.3M413.4 92.4L412.4 92.7L411.7 93.3M416.9 93.0L416.6 93.9L415.7 94.4M414.3 94.0L413.6 94.7L412.7 94.6M416.1 93.9L415.2 94.4L414.2 94.3L413.7 93.5L413.1 92.6M418.1 96.2L419.0 96.7L420.0 96.5L420.8 97.1M419.8 91.8L419.9 92.8L420.2 93.8L420.0 94.7L419.1 95.2M420.5 95.4L420.3 96.4L420.6 97.4L420.1 98.2L420.2 99.2M417.4 94.2L418.4 94.3L418.8 93.4L419.6 92.8M419.0 92.9L419.0 93.9L418.1 94.4L417.2 94.7M417.8 95.2L418.8 95.3L419.7 94.8M421.4 92.8L421.0 93.7L421.6 94.5L422.3 95.2L423.2 95.8M417.9 93.1L418.0 94.1L418.4 95.0L418.4 96.0L417.7 96.6M421.9 95.6L422.2 96.6L422.5 97.5L423.3 98.2L423.4 99.2M422.4 95.4L421.6 95.9L420.6 95.9L419.8 96.6M422.8 93.7L422.6 94.7L421.8 95.4L422.1 96.3M421.6 93.7L422.0 94.6L422.6 95.4L423.3 96.1M422.6 97.5L421.8 98.0L421.8 99.0L422.4 99.8M423.4 92.1L422.5 92.6L422.4 93.6M422.6 95.2L421.6 95.0L420.8 94.4M425.3 102.6L425.2 103.6L424.6 104.4L423.6 104.6M424.3 101.0L423.9 100.1L423.3 99.3L423.0 98.3L423.0 97.3M427.4 99.4L426.8 100.2L425.9 100.5L425.4 101.4L424.4 101.4M424.5 101.8L423.6 102.2L422.8 101.5L422.2 100.7M425.2 96.5L424.5 95.7L424.0 94.9M425.0 98.7L424.3 99.4L423.7 100.2L423.1 101.0M427.3 101.9L426.4 101.4L425.4 101.3M427.2 101.4L426.2 101.6L425.4 102.2L425.5 103.2M426.9 100.4L426.0 100.8L425.9 101.8L426.1 102.8M424.7 100.4L423.9 99.8L422.9 99.9M427.9 100.9L427.1 101.4L426.1 101.1M425.4 98.7L424.8 99.5L424.9 100.5M427.7 106.5L428.3 107.3L429.0 108.0M428.2 105.4L427.5 106.1L426.6 106.7L426.4 107.6L425.4 107.8M431.2 106.8L431.3 107.8L430.4 108.2M432.3 106.2L432.7 107.1L433.3 108.0L434.3 108.1L434.9 107.3M431.2 106.3L430.6 107.2L430.5 108.1L429.7 108.8M428.4 106.7L429.3 107.1L430.2 107.5M432.3 108.6L431.4 108.2L431.3 107.2L431.5 106.3L431.1 105.3M431.6 105.4L432.2 106.2L433.2 106.4M433.0 106.4L432.2 107.0L432.4 108.0M431.0 107.3L431.0 108.3L430.4 109.2L429.6 109.7M430.8 106.4L431.2 107.4L431.5 108.3L432.5 108.6M431.7 104.7L430.7 104.7L429.8 104.2M432.3 109.3L431.8 110.2L431.0 110.8L430.5 111.7L429.5 111.9M433.8 109.9L433.5 110.9L434.1 111.7L435.1 111.4L436.0 110.8M433.1 108.4L432.1 108.3L431.3 107.6L431.3 106.6L430.8 105.7M438.8 111.8L438.0 112.3L437.6 113.3L436.7 113.6L436.1 114.4M434.3 108.0L435.1 108.6L435.8 109.3L436.7 109.5L437.7 109.4M437.8 112.3L438.1 113.2L439.1 113.4L440.1 113.2L440.5 112.3M434.3 108.6L433.6 109.3L432.8 109.8L432.6 110.8M436.8 110.9L435.8 111.0L435.2 111.8L434.2 111.6M436.9 111.7L436.8 112.7L436.2 113.5L435.6 114.3M436.8 109.8L436.3 110.7L435.7 111.5L435.9 112.4M434.9 107.9L434.9 108.9L434.6 109.9M438.1 110.4L437.3 109.7L436.6 109.0M434.6 109.6L433.6 109.6L433.2 108.7M442.5 117.2L442.1 118.1L442.5 119.1L442.1 119.9M445.0 116.6L444.1 116.2L443.2 115.8M444.0 117.4L443.0 117.5L442.1 117.1L441.2 117.4L440.2 117.2M443.1 113.8L443.3 114.7L444.3 114.9L444.6 115.9M446.1 116.1L446.7 116.9L447.4 117.6L448.2 118.2M439.7 113.5L438.9 114.2L438.0 114.0M442.9 113.6L442.8 114.6L442.7 115.6L442.0 116.3M442.1 117.5L441.1 117.7L440.1 117.9L439.3 118.5M439.6 115.7L438.6 116.0L437.6 116.0L436.7 116.3L435.8 116.7M442.4 117.7L441.8 116.9L440.8 116.7L439.9 116.3M440.6 116.1L439.6 116.4L438.9 117.1M441.1 116.7L440.3 117.4L439.7 118.1L439.3 119.0L439.3 120.0M446.6 116.3L445.7 116.7L444.7 116.4M447.5 117.0L447.3 117.9L446.9 118.8M451.3 121.5L451.6 122.5L451.0 123.3M445.1 119.6L444.6 120.5L443.9 121.2M450.2 118.9L449.3 118.5L448.3 118.3L447.6 117.7M447.7 117.5L448.0 118.4L448.7 119.2L449.6 119.6M452.2 117.9L451.4 118.6L450.6 119.1L449.7 118.5L448.8 118.8M447.5 119.1L446.5 119.4L445.5 119.3L444.5 119.3M451.9 121.4L451.8 122.4L451.5 123.4M450.2 119.5L449.3 120.1L448.3 119.8M446.1 116.1L446.3 117.1L447.3 117.3L448.0 116.6M452.8 118.8L452.4 119.7L451.6 120.3M358.8 94.3L358.6 95.3L358.1 96.1L358.3 97.1M359.1 93.6L358.5 94.4L358.9 95.3L358.5 96.2L357.9 96.9M358.5 93.5L359.0 94.4L359.8 94.9L360.8 95.1M358.9 95.1L359.2 96.0L360.2 96.3L360.7 95.4M357.4 95.4L357.2 96.4L357.6 97.3L357.6 98.3M362.8 94.8L363.5 95.4L364.5 95.5L365.5 95.3L365.8 94.4M362.7 95.2L361.7 95.2L361.2 96.0L360.9 97.0L359.9 97.2M364.6 93.8L363.7 94.4L362.9 93.8M364.7 96.6L364.8 97.6L364.5 98.6L365.0 99.4L366.0 99.6M366.3 95.0L365.3 95.0L364.3 95.1M365.6 95.4L366.6 95.6L367.0 96.5L367.8 97.0L368.8 97.0M366.6 97.9L365.6 98.0L365.2 97.1M367.9 97.5L367.1 98.1L366.3 98.8M368.2 97.8L367.5 98.4L366.5 98.7L365.5 98.8L365.1 99.7M371.3 102.0L371.9 102.8L372.9 102.8M369.6 99.6L369.1 100.5L368.1 100.6L367.2 100.1M372.4 101.0L372.3 102.0L372.7 102.9L373.0 103.8L373.3 104.8M371.8 100.6L371.8 101.6L371.5 102.5M373.8 103.2L373.0 102.7L372.0 102.7L371.2 103.2M372.6 101.9L371.6 101.8L370.7 102.1M375.4 101.9L374.5 101.7L373.6 102.2M374.8 102.5L374.2 101.6L374.5 100.7L374.8 99.7L375.5 99.0M375.1 102.9L374.3 103.5L374.1 104.5L373.6 105.4L374.1 106.3M376.4 103.3L375.5 103.7L374.5 103.9L374.1 104.8M379.0 103.2L379.7 103.9L380.5 104.4L381.5 104.3M380.4 104.8L380.4 105.8L381.0 106.7L381.6 107.4M377.9 104.7L377.0 105.1L376.0 105.3L375.7 106.2M379.3 104.1L378.4 103.9L378.3 102.9M380.6 103.7L380.8 104.7L381.4 105.5L382.2 106.0M384.8 106.0L385.4 106.8L385.9 107.7M386.0 105.8L385.0 105.8L384.3 106.4M384.5 106.4L384.4 107.3L385.0 108.2L384.8 109.1L384.4 110.1M383.9 107.2L382.9 107.0L382.0 106.5L381.3 105.8M382.1 105.1L381.1 105.3L380.5 106.1L380.7 107.1M389.9 110.6L390.2 111.6L390.9 112.3L391.7 112.9L392.4 113.6M388.5 107.3L387.6 107.8L386.8 108.4L386.1 109.1L385.2 109.6M388.2 108.0L387.3 108.5L386.6 109.1L386.7 110.1L386.5 111.1M386.2 108.3L385.4 109.0L384.5 108.5M390.3 108.9L389.8 109.7L390.2 110.7M391.8 110.4L392.2 111.3L393.2 111.6L393.3 112.6L394.3 112.9M393.3 110.9L393.0 111.9L393.5 112.8M393.2 112.7L392.5 112.0L391.5 112.1L390.8 111.3M393.3 110.9L392.9 111.8L393.5 112.6L393.1 113.5L393.5 114.4M391.1 110.5L390.8 111.4L389.9 111.8L389.7 112.8M395.3 113.6L395.7 114.6L396.7 114.9L397.4 115.6M396.5 113.8L396.0 114.7L395.0 114.8L394.0 114.7M396.1 112.5L395.7 111.6L395.4 110.6L394.5 110.4L393.9 109.5M393.8 112.4L392.8 112.5L391.9 113.0M400.0 115.8L399.2 116.4L398.9 117.4L398.0 117.7M397.3 115.9L396.3 116.3L396.1 117.2L396.6 118.0L396.5 119.0M398.2 116.9L398.7 117.8L399.7 117.7L400.6 117.5L401.6 117.7M397.8 117.2L397.0 117.7L396.1 118.2M400.8 116.6L400.2 117.4L399.4 118.0L399.3 119.0L399.7 119.9M400.4 115.4L401.1 116.2L401.1 117.2L401.1 118.2L401.6 119.1M403.2 116.7L403.6 117.7L403.4 118.6L403.4 119.6M402.4 117.7L403.0 118.5L404.0 118.7L404.6 117.9L404.3 116.9M404.3 118.3L405.0 119.0L405.4 120.0M406.7 118.7L407.6 119.0L408.6 119.0L409.3 118.3L410.2 117.9M408.9 118.9L408.9 119.9L409.7 120.6L410.4 121.2L411.4 121.6M407.8 117.2L408.5 118.0L408.1 118.9L407.3 119.4L406.3 119.1M407.1 118.9L406.2 118.5L405.3 118.9L404.4 119.4L403.4 119.5M410.5 118.3L409.7 118.9L408.7 119.0M414.9 119.8L415.0 120.8L414.9 121.8L414.5 122.7L413.5 122.8M411.0 119.6L410.8 120.6L410.1 121.3L409.1 121.5M412.4 119.0L413.2 119.4L414.2 119.1L415.0 118.5L416.0 118.7M413.2 119.0L412.3 119.2L411.7 120.0L412.1 121.0M414.8 119.3L413.9 119.0L412.9 118.9M416.5 121.8L415.7 122.4L415.2 123.2M416.2 120.9L416.0 121.9L415.9 122.9L416.1 123.9M414.5 118.7L413.8 118.1L412.9 118.4L411.9 118.3L410.9 118.2M415.0 123.1L414.6 124.1L415.1 125.0M415.5 125.8L414.5 125.9L413.6 125.4M416.0 123.5L416.0 122.5L416.5 121.7L417.5 121.5M416.7 125.6L416.0 126.3L415.0 126.5L414.0 126.3M429.7 159.8L428.7 159.9L428.0 160.6L427.0 160.6L426.0 160.7M431.0 159.0L431.3 159.9L430.9 160.8M431.5 159.1L430.6 158.7L429.9 158.1L428.9 158.2M427.7 156.9L426.9 157.6L426.1 158.0M434.3 162.8L433.9 163.7L433.5 164.6M436.6 164.1L435.6 164.3L434.8 163.6L434.4 162.7L433.7 162.0M434.1 161.8L434.4 162.8L434.0 163.7M434.2 163.6L433.7 164.5L432.7 164.4M432.8 161.1L432.8 162.1L432.5 163.1L431.7 163.7M434.5 161.7L433.7 162.3L433.7 163.3L434.2 164.1M438.6 166.5L439.2 167.3L439.9 168.0L439.4 168.9L438.5 169.4M441.0 167.2L441.7 167.9L441.6 168.9M443.8 169.7L443.1 170.4L442.6 171.3M443.1 169.3L443.8 170.1L444.8 170.3M446.1 170.6L446.9 171.3L447.4 172.2M444.3 169.5L443.4 169.2L442.4 168.8M446.8 172.5L447.2 173.4L448.1 173.9M447.2 172.4L446.3 172.9L446.0 173.9L445.0 174.0L444.2 173.3M447.5 171.9L447.5 172.9L448.1 173.7M452.1 174.5L451.5 175.3L451.6 176.3L451.2 177.2M450.2 173.3L449.5 174.0L449.2 175.0L448.3 175.2L447.7 176.1M449.8 173.2L450.5 173.9L451.5 174.2M452.5 175.9L451.9 176.7L450.9 176.5M453.5 175.7L452.8 176.5L451.8 176.2M458.1 176.1L458.5 177.0L459.0 177.9L458.9 178.9L459.3 179.8M462.1 175.9L462.9 176.5L462.8 177.4L462.2 178.2L462.4 179.2M461.8 176.4L461.6 177.4L460.6 177.7L459.8 178.3M460.7 177.4L460.1 178.2L459.9 179.2L460.6 179.8L461.6 179.5M446.5 172.8L445.5 173.1L444.6 173.5M446.7 172.5L445.7 172.5L444.7 172.2M444.4 170.5L445.2 171.0L445.4 172.0M443.7 170.6L442.8 171.0L442.7 172.0L441.8 172.4M447.2 173.5L446.3 173.7L446.0 174.7L445.8 175.7M450.2 175.0L449.5 175.7L448.7 176.4L448.0 177.0L448.1 178.0M452.0 175.9L451.9 176.9L452.7 177.4L453.2 178.2L452.6 179.1M454.3 176.9L453.4 177.4L452.7 178.1L452.4 179.1M450.0 174.3L449.2 174.9L448.4 175.5L448.6 176.5L448.1 177.3M451.0 175.1L451.9 175.5L452.8 175.2L453.8 175.1M455.9 176.3L456.4 177.1L457.2 177.7L457.8 178.6M454.8 176.7L455.1 177.6L454.8 178.6L453.9 179.1M455.3 178.0L455.3 179.0L456.0 179.7L456.1 180.7L455.4 181.4M454.8 176.2L454.6 177.2L453.9 177.9L453.2 178.6M289.0 135.2L288.1 135.7L287.1 135.7M290.2 135.2L290.6 136.1L291.4 136.6M286.7 133.8L285.8 133.5L285.8 132.5L286.5 131.8L286.2 130.8M296.5 133.0L295.8 133.6L294.8 133.6L293.9 134.2M296.4 134.0L295.4 134.0L294.5 133.7L294.2 132.8L294.2 131.8M295.1 133.5L294.2 133.9L293.2 133.8L292.2 133.5L291.5 132.8M302.6 133.1L303.6 133.2L304.6 133.0M300.2 132.6L300.5 133.5L300.7 134.5M301.9 135.2L302.6 135.9L303.0 136.8M304.8 132.7L305.1 133.6L305.5 134.5M308.5 132.8L307.5 132.8L306.9 132.0L306.9 131.0L306.3 130.3M311.3 133.9L310.3 133.9L309.4 133.4M306.8 133.5L306.0 134.0L305.0 134.3M307.5 134.7L308.2 135.4L308.3 136.4L308.3 137.4M313.2 134.8L312.4 135.3L311.6 134.7L311.4 133.7L311.5 132.8M315.7 134.4L316.1 135.3L317.0 135.9L317.6 136.6M312.7 134.7L313.5 135.3L314.5 135.4M324.5 136.3L325.3 137.0L325.4 138.0L325.8 138.9L325.8 139.9M318.6 135.4L319.3 136.0L319.9 136.9M320.1 135.6L320.2 136.6L320.5 137.6M319.9 136.6L320.5 137.4L321.5 137.1M325.7 135.9L326.7 136.2L327.6 136.6L327.7 137.6M325.0 134.1L325.9 134.5L326.9 134.4M326.3 133.7L327.1 134.2L327.8 135.0L328.3 135.8M331.5 133.3L331.4 134.3L330.6 134.8M332.2 132.3L332.4 133.2L332.2 134.2M338.7 123.0L338.1 122.2L337.1 121.9L336.3 122.5M338.8 122.0L338.1 121.2L337.1 121.3L336.4 121.9M341.2 124.4L340.2 124.6L339.7 125.4L338.8 126.0L338.4 126.9M340.5 122.9L340.5 123.9L341.2 124.6M342.8 126.6L342.3 125.7L341.3 125.7L340.4 125.3M342.2 126.7L341.9 127.7L342.5 128.4L342.3 129.4M343.3 127.6L342.8 128.4L343.2 129.3L342.8 130.3M343.4 126.9L343.5 127.9L343.1 128.8L342.5 129.6L342.1 130.5M345.8 130.2L345.1 130.9L344.5 131.7L343.7 132.3M343.0 127.2L342.0 127.2L341.4 128.0L341.7 129.0L341.5 129.9M345.2 131.4L345.7 132.2L345.8 133.2L346.1 134.2M346.8 130.0L346.6 131.0L346.5 132.0M346.0 130.3L346.8 129.7L346.5 128.7L346.3 127.7M358.0 104.6L358.9 104.7L359.4 105.6M361.9 106.7L361.6 107.7L361.3 108.6M360.7 103.8L359.9 104.3L358.9 104.2M371.8 108.7L371.1 109.5L370.5 110.3L369.9 111.1M370.9 108.0L370.5 108.9L370.3 109.9L369.5 110.4L368.7 109.8M367.6 109.4L367.9 110.3L368.1 111.3M380.0 110.0L379.0 110.2L378.6 111.1M374.3 107.3L374.4 108.3L373.6 108.9L373.3 109.9L372.9 110.8M377.2 109.0L376.4 109.6L376.0 110.5M381.7 113.9L381.7 114.9L382.6 115.5L383.4 116.0M380.4 115.5L379.9 116.3L380.3 117.2L380.9 118.0L381.9 118.0M504.3 194.4L503.4 194.8L502.4 194.6L501.5 195.1M503.1 193.5L503.0 194.5L502.3 195.3L502.1 196.2L501.3 196.8M506.9 195.1L505.9 195.2L505.5 196.1L505.2 197.0L504.7 197.9M503.6 193.5L503.7 194.5L504.6 195.0L505.5 195.4M507.6 196.4L506.7 196.2L506.2 195.3L506.4 194.3M509.7 196.9L510.2 197.8L510.7 198.6L511.7 198.8M508.7 198.0L509.3 198.8L509.2 199.8L508.6 200.6M507.0 196.8L508.0 197.1L508.8 196.5L509.1 195.6L509.2 194.6M512.5 202.0L511.7 202.6L510.7 202.8L509.8 202.3M512.4 202.9L513.0 203.8L514.0 203.8L514.6 203.0M511.3 199.1L510.7 198.3L509.7 198.4M513.8 203.4L512.8 203.7L512.3 204.6L512.9 205.4L513.5 206.2M513.6 205.3L513.0 204.5L513.3 203.5M511.8 205.3L510.8 205.4L509.9 205.1L509.6 204.2L509.4 203.2M513.6 205.1L512.8 204.5L512.0 203.9M513.3 204.7L513.4 203.7L513.3 202.7M508.0 205.7L507.2 205.0L506.4 204.5L505.6 205.0M507.9 207.0L507.2 206.2L507.1 205.3M505.6 209.1L505.4 208.1L505.2 207.1M507.2 208.2L506.2 208.1L505.4 207.5L504.5 208.0L504.5 209.0M506.1 207.0L505.1 206.9L504.3 206.4L503.4 206.0L502.4 205.9M484.7 197.5L483.7 197.6L482.8 197.3L481.9 197.8L482.1 198.8M484.2 192.5L483.2 192.4L482.3 192.0L481.7 191.2L481.6 190.2M484.0 189.6L484.1 190.6L483.7 191.5M484.2 194.6L484.2 195.6L483.8 196.5L484.3 197.4L485.0 198.1M484.3 194.0L483.6 194.7L482.6 194.7L481.8 194.1L482.0 193.1M484.1 188.1L483.8 189.1L482.9 189.3L482.0 189.8L481.0 189.7M486.0 201.0L486.1 200.0L485.3 199.4L484.4 199.8L483.8 200.6M486.2 203.9L485.4 204.6L485.1 205.5M486.7 201.5L486.0 202.2L485.7 203.1L486.5 203.7L486.8 204.7M487.7 209.1L486.9 209.7L486.5 210.6L485.6 211.1L484.6 211.2M487.2 209.3L486.2 209.6L485.2 209.3M487.6 213.4L487.0 212.6L487.4 211.7M486.9 211.0L486.6 212.0L485.7 212.4L485.1 213.2L484.8 214.2M391.9 203.1L391.6 203.7L392.6 203.9L392.4 204.7L392.4 205.8M395.4 199.5L395.9 200.0L396.1 200.6L396.6 200.6L397.5 200.4L398.1 201.0M394.2 200.5L395.0 200.7L395.6 201.2L396.5 201.5L397.3 201.7L397.8 201.2L398.5 201.9M393.5 201.9L394.4 202.1L395.3 202.6L394.8 203.4L395.0 204.0L394.8 204.7L394.5 205.4M392.4 201.1L392.4 202.0L391.6 202.1L390.6 202.3L389.8 202.7M394.0 204.3L393.4 204.9L393.6 205.7L393.9 206.7M391.8 199.5L391.1 199.6L390.1 199.7L389.0 199.9L388.4 199.8L387.4 199.8M391.7 200.4L391.8 201.1L392.0 202.0L391.4 202.5M394.8 200.2L395.0 200.8L395.6 201.3L395.6 202.3M392.7 203.3L392.4 204.0L391.3 203.9L391.5 204.4L391.2 205.3L390.4 206.0L389.5 206.0M393.1 203.8L393.2 204.3L392.8 204.7L392.1 205.0M393.3 205.1L393.6 205.9L393.5 206.7L393.3 207.2L393.5 208.1L393.2 208.6M394.4 202.1L394.2 203.1L393.9 204.1L393.4 203.8M392.3 198.8L392.1 199.5L391.6 199.9L391.5 200.9L390.8 201.3L390.2 201.2L389.4 201.8M391.7 198.7L392.1 199.1L392.8 199.4L393.4 199.5L394.1 200.3L394.0 201.2M392.7 199.3L393.6 199.4L394.4 200.2L395.0 200.4L395.8 200.3M393.0 202.2L393.8 201.8L394.6 201.6L395.2 201.8L395.8 202.2L396.1 202.8L396.5 202.0M395.1 203.2L394.8 204.0L395.3 204.8L394.3 204.9M395.7 203.4L394.8 203.7L394.2 203.0L393.3 203.1L392.6 202.9L391.8 202.6M395.4 201.3L394.9 202.1L394.9 202.6L394.3 202.8L393.9 203.5L393.9 204.0M391.4 199.9L391.9 200.2L392.8 200.3L392.9 200.9L393.5 201.6L394.5 201.5L395.0 201.1M393.9 202.4L393.2 202.1L392.2 202.3L392.3 202.9L391.7 202.7M394.3 198.6L395.0 197.9L396.0 197.5L396.8 197.4L397.1 197.9L397.7 197.4M391.8 200.7L391.9 201.4L392.0 202.5L391.5 202.8M393.7 204.5L393.4 205.4L393.3 206.1L393.8 206.6L394.4 207.1L394.7 207.8L394.7 208.8M394.8 199.5L395.1 200.3L395.4 201.0L395.2 201.7L395.7 201.8L395.9 202.5L396.4 203.2M394.7 197.5L394.9 197.9L395.4 198.5M398.8 194.4L399.4 194.2M398.4 199.5L397.8 199.6M391.0 195.3L391.7 195.1L392.2 195.4M402.8 229.4L403.1 230.2M402.3 227.9L402.7 228.2L403.3 228.6M392.4 228.6L392.5 229.5L392.4 230.2M389.9 222.0L390.5 222.2L390.3 222.7M401.9 228.0L402.7 228.0L403.1 228.8M391.7 225.9L391.2 226.5M394.5 222.2L394.7 223.1M394.1 229.9L393.6 230.1M397.7 220.9L398.2 221.1M382.5 157.6L381.8 158.1L381.3 158.4M385.9 153.4L386.4 153.8L386.4 154.8M385.6 158.8L385.0 159.1M385.1 159.1L385.3 160.0L386.0 160.3L386.4 160.4M386.3 154.7L385.8 155.4"/>
</defs>
<g transform="translate(0 0)">
<g clip-path="url(#fc)">
<use href="#ld" fill="#bfbfbf"/><use href="#wt" fill="#fff"/>
<g shape-rendering="crispEdges"><path d="M209.4 134.4l2.4 1.7 3.6-5.4 -2.3-1.6zM221 149.3l2.6 1.5 3.1-5.7 -2.5-1.4zM220.5 156.3l2.8 1.5 3-5.6 -2.7-1.4zM226.3 152.2l2.6 1.4 3-5.7 -2.6-1.4zM232.3 140.9l2.5 1.3 2.9-5.7 -2.4-1.3zM231.9 147.9l2.5 1.3 2.9-5.8 -2.5-1.2zM228.8 167.8l2.9 1.3 2.7-5.8 -2.8-1.3zM231.6 162l2.8 1.3 2.6-5.8 -2.7-1.3zM231.7 169.1l2.9 1.3 2.6-5.8 -2.8-1.3zM234.6 170.4l2.9 1.3 2.5-5.9 -2.8-1.2zM237.5 171.7l3 1.2 2.4-5.9 -2.9-1.2zM240.5 172.9l3 1.2 2.3-6 -2.9-1.1zM231.9 203.8l3.4 1.3 2.3-5.9 -3.4-1.3zM233.1 211.1l3.5 1.3 2.2-6 -3.5-1.3zM250.9 163.3l2.8 1 2.2-6.1 -2.8-.9zM234.5 218.5l3.6 1.2 2.1-6 -3.6-1.3zM236.6 212.4l3.6 1.3 2-6.1 -3.4-1.2zM245.2 188.3l3.2 1.2 2-6.1 -3.1-1.1zM251.6 170.3l2.9 1 2.1-6 -2.9-1zM253.7 164.3l2.9 1 2-6.1 -2.7-1zM255.9 158.2l2.7 1 2.1-6.1 -2.7-.9zM260.7 153.1l2.6 .9 2-6.1 -2.6-.9zM259.4 166.2l2.9 .9 1.8-6.1 -2.7-.9zM245.5 222.1l3.7 1.1 1.8-6.2 -3.6-1zM249.2 223.2l3.7 1 1.7-6.2 -3.6-1zM261.9 219.9l3.6 .9 1.4-6.3 -3.5-.8zM272.6 189.6l3.2 .7 1.3-6.2 -3.1-.7zM279 191l3.2 .6 1.1-6.3 -3.1-.6zM277.7 216.7l3.6 .6 1.1-6.3 -3.6-.6zM314.5 207.8l3.5 0 .1-6.4 -3.4 0zM321.4 207.9l3.5-.1 -.1-6.4 -3.4 .1zM321.4 195.1l3.3 0 -.1-6.4 -3.2 0zM328.6 214.1l3.6-.1 -.3-6.4 -3.5 .2zM380.3 253l4.2-.9 -1.5-6.3 -4 .9zM385.9 258.4l4.2-1 -1.5-6.3 -4.1 1zM395.9 262.6l4.3-1.1 -1.7-6.2 -4.2 1.1zM404.5 260.3l4.2-1.2 -1.9-6.2 -4.1 1.2zM406.8 252.9l4.1-1.3 -1.9-6.2 -4.1 1.3zM404.9 246.7l4.1-1.3 -2-6.1 -4 1.2zM414.9 263.9l4.3-1.4 -2.1-6.2 -4.2 1.4zM415.1 250.2l4.1-1.4 -2.2-6.1 -4 1.4zM410.9 238l3.9-1.4 -2.1-6.1 -3.8 1.4zM414.8 236.6l3.9-1.4 -2.2-6 -3.8 1.3zM423.2 247.3l4.1-1.5 -2.4-6.1 -3.9 1.5zM421 241.2l3.9-1.5 -2.3-6 -3.9 1.5zM418.7 235.2l3.9-1.5 -2.3-6 -3.8 1.5z" fill="#0e726a" stroke="#0e726a" stroke-width="0.35"/><path d="M213.1 129.1l2.3 1.6 3.6-5.3 -2.2-1.5zM215.2 153.3l2.6 1.5 3.2-5.5 -2.6-1.5zM229.3 146.5l2.6 1.4 2.9-5.7 -2.5-1.3zM231.6 154.9l2.7 1.3 2.8-5.7 -2.7-1.3zM216.6 211.3l3.5 1.6 2.5-5.9 -3.4-1.5zM221.3 220.3l3.7 1.4 2.3-5.9 -3.6-1.5zM245.8 168.1l2.9 1.1 2.2-5.9 -2.8-1.1zM235.3 205.1l3.5 1.3 2.1-6 -3.3-1.2zM248.7 169.2l2.9 1.1 2.1-6 -2.8-1zM243 194.4l3.3 1.1 2.1-6 -3.2-1.2zM258 152.2l2.7 .9 2-6.1 -2.5-.9zM254.5 171.3l3 1 1.9-6.1 -2.8-.9zM258.6 159.2l2.8 .9 1.9-6.1 -2.6-.9zM263.3 154l2.7 .8 1.9-6.1 -2.6-.8zM270.5 215.3l3.6 .7 1.2-6.2 -3.5-.7zM275.8 190.3l3.2 .7 1.2-6.3 -3.1-.6zM274.1 216l3.6 .7 1.1-6.3 -3.5-.6zM278.8 210.4l3.6 .6 1-6.3 -3.4-.5zM282.2 191.6l3.3 .6 1-6.3 -3.2-.6zM284.4 198.4l3.4 .6 .9-6.3 -3.2-.5zM314.7 201.4l3.4 0 .1-6.3 -3.3-.1zM314.9 195l3.3 .1 .1-6.4 -3.2-.1zM318 207.8l3.4 .1 0-6.4 -3.3-.1zM318.1 201.4l3.3 .1 0-6.4 -3.2 0zM325 214.2l3.6-.1 -.2-6.3 -3.5 0zM384.5 252.1l4.1-1 -1.5-6.2 -4.1 .9zM391.6 263.7l4.3-1.1 -1.6-6.2 -4.2 1zM400.2 261.5l4.3-1.2 -1.8-6.2 -4.2 1.2zM402.7 254.1l4.1-1.2 -1.9-6.2 -4 1.2zM408.7 259.1l4.2-1.4 -2-6.1 -4.1 1.3zM412.9 257.7l4.2-1.4 -2-6.1 -4.2 1.4zM410.9 251.6l4.2-1.4 -2.1-6.1 -4 1.3zM419.2 248.8l4-1.5 -2.2-6.1 -4 1.5zM417 242.7l4-1.5 -2.3-6 -3.9 1.4zM424.9 239.7l4-1.5 -2.5-6 -3.8 1.5z" fill="#1b7e76" stroke="#1b7e76" stroke-width="0.35"/><path d="M211.8 136.1l2.5 1.6 3.5-5.4 -2.4-1.6zM217.5 161.9l2.8 1.6 3-5.7 -2.8-1.5zM246.4 175.2l3 1.1 2.2-6 -2.9-1.1zM252.5 177.4l3 1 2-6.1 -3-1zM376.2 253.8l4.1-.8 -1.3-6.3 -4.1 .8zM399.1 241.7l3.9-1.2 -1.8-6.2 -3.9 1.2zM407 239.3l3.9-1.3 -2-6.1 -3.9 1.2z" fill="#015c52" stroke="#015c52" stroke-width="0.35"/><path d="M210.8 143l2.5 1.6 3.4-5.4 -2.4-1.5zM213.3 144.6l2.5 1.6 3.4-5.4 -2.5-1.6zM215.8 146.2l2.6 1.6 3.3-5.5 -2.5-1.5zM242.6 138.9l2.4 1.1 2.7-5.8 -2.3-1.1zM213.1 209.8l3.5 1.5 2.6-5.8 -3.5-1.6zM219.2 205.5l3.4 1.5 2.5-5.9 -3.3-1.5zM229.5 182.1l3.1 1.4 2.5-5.9 -3.1-1.3zM250.1 135.2l2.4 1.1 2.5-6 -2.3-1zM227.6 195.2l3.3 1.4 2.4-5.9 -3.2-1.4zM230.1 189.3l3.2 1.4 2.4-6 -3.1-1.2zM235.1 177.6l3 1.2 2.4-5.9 -3-1.2zM247.5 148.1l2.6 1.1 2.4-5.9 -2.5-1.1zM250 142.2l2.5 1.1 2.5-6 -2.5-1zM216.5 232.2l3.8 1.5 2.3-6 -3.7-1.5zM245.3 161.1l2.8 1.1 2.3-6 -2.7-1.1zM222.6 227.7l3.8 1.5 2.2-6.1 -3.6-1.4zM234.2 197.9l3.4 1.3 2.2-6 -3.3-1.3zM244.2 181.2l3.1 1.1 2.1-6 -3-1.1zM255.4 151.2l2.6 1 2.2-6.1 -2.6-.9zM262.7 147l2.6 .9 2-6.1 -2.5-.9zM257.5 172.3l2.9 .9 1.9-6.1 -2.9-.9zM238 246.7l4 1.2 1.8-6.2 -3.9-1.2zM242 247.9l4.1 1.1 1.7-6.2 -4-1.1zM271.4 156.4l2.7 .7 1.6-6.2 -2.6-.7zM274.8 144l2.5 .7 1.7-6.3 -2.5-.6zM260.4 226.1l3.7 .9 1.4-6.2 -3.6-.9zM274 183.4l3.1 .7 1.3-6.3 -3-.6zM280.3 223.7l3.7 .5 .9-6.3 -3.6-.6zM285.5 192.2l3.2 .5 .9-6.3 -3.1-.5zM288.7 192.7l3.3 .4 .8-6.3 -3.2-.4zM295.2 193.5l3.3 .4 .6-6.3 -3.1-.4zM297.8 200.2l3.4 .4 .6-6.4 -3.3-.3zM298.5 193.9l3.3 .3 .5-6.3 -3.2-.3zM300.6 206.9l3.5 .3 .5-6.4 -3.4-.2zM311 207.6l3.5 .2 .2-6.4 -3.4-.2zM311.3 201.2l3.4 .2 .2-6.4 -3.3-.1zM311.6 194.9l3.3 .1 .2-6.4 -3.2-.1zM336.4 175.4l3-.3 -.5-6.3 -2.9 .2zM387.3 264.7l4.3-1 -1.5-6.3 -4.2 1zM431.3 244.2l4-1.7 -2.5-5.9 -3.9 1.6zM450.1 206.7l3.5-1.9 -3.2-5.6 -3.4 1.9zM456.8 210.3l3.4-2 -3.2-5.5 -3.4 2zM453.6 204.8l3.4-2 -3.3-5.5 -3.3 1.9zM450.4 199.2l3.3-1.9 -3.2-5.5 -3.3 1.8zM457 202.8l3.4-2 -3.4-5.5 -3.3 2zM453.7 197.3l3.3-2 -3.3-5.5 -3.2 2zM453.7 189.8l3.2-2 -3.4-5.4 -3.1 2zM460 185.8l3.2-2.1 -3.6-5.3 -3 2.1zM477.3 197.4l3.3-2.3 -3.8-5.3 -3.2 2.3z" fill="#6dc0b4" stroke="#6dc0b4" stroke-width="0.35"/><path d="M214.3 137.7l2.4 1.5 3.4-5.4 -2.3-1.5zM214.7 160.4l2.8 1.5 3-5.6 -2.7-1.5zM217.8 154.8l2.7 1.5 3.1-5.5 -2.6-1.5zM220.3 163.5l2.8 1.4 2.9-5.6 -2.7-1.5zM223.3 157.8l2.7 1.5 2.9-5.7 -2.6-1.4zM223.1 164.9l2.8 1.5 2.9-5.7 -2.8-1.4zM226 159.3l2.8 1.4 2.8-5.8 -2.7-1.3zM228.9 153.6l2.7 1.3 2.8-5.7 -2.5-1.3zM225.9 166.4l2.9 1.4 2.8-5.8 -2.8-1.3zM228.8 160.7l2.8 1.3 2.7-5.8 -2.7-1.3zM240 165.8l2.9 1.2 2.4-5.9 -2.8-1.2zM247.3 182.3l3.1 1.1 2.1-6 -3.1-1.1zM249.4 176.3l3.1 1.1 2-6.1 -2.9-1zM238.1 219.7l3.7 1.2 2-6.1 -3.6-1.1zM250.4 183.4l3.1 1 2-6 -3-1zM256.6 165.3l2.8 .9 2-6.1 -2.8-.9zM241.8 220.9l3.7 1.2 1.9-6.1 -3.6-1.2zM261.4 160.1l2.7 .9 1.9-6.2 -2.7-.8zM252.9 224.2l3.7 1 1.6-6.2 -3.6-1zM266.9 214.5l3.6 .8 1.3-6.2 -3.5-.8zM282.4 211l3.5 .6 .9-6.3 -3.4-.6zM318.2 195.1l3.2 0 0-6.4 -3.1 0zM332.2 214l3.5-.2 -.4-6.4 -3.4 .2zM403 240.5l4-1.2 -2-6.2 -3.8 1.2zM409 245.4l4-1.3 -2.1-6.1 -3.9 1.3z" fill="#01665e" stroke="#01665e" stroke-width="0.35"/><path d="M216.7 139.2l2.5 1.6 3.3-5.5 -2.4-1.5zM226.7 145.1l2.6 1.4 3-5.6 -2.5-1.4zM233.9 245.4l4.1 1.3 1.9-6.2 -4-1.2zM243.8 214.8l3.6 1.2 1.8-6.2 -3.5-1.1zM245.7 208.7l3.5 1.1 1.9-6.1 -3.4-1zM254.5 204.7l3.4 1 1.7-6.1 -3.3-1zM256.3 198.6l3.3 1 1.7-6.2 -3.2-.9zM259.8 186.4l3.2 .8 1.7-6.1 -3.1-.9zM264.6 194.3l3.3 .8 1.5-6.2 -3.2-.8zM269.4 188.9l3.2 .7 1.4-6.2 -3.1-.7zM273.1 202.8l3.4 .7 1.3-6.2 -3.3-.7zM342.1 251.9l4.2-.3 -.6-6.4 -4 .3zM390.1 257.4l4.2-1 -1.6-6.3 -4.1 1zM388.6 251.1l4.1-1 -1.6-6.2 -4 1zM392.7 250.1l4.1-1.1 -1.7-6.2 -4 1.1z" fill="#00463c" stroke="#00463c" stroke-width="0.35"/><path d="M212.5 151.7l2.7 1.6 3.2-5.5 -2.6-1.6zM223.1 172.1l3 1.4 2.7-5.7 -2.9-1.4zM245.9 126.1l2.2 1.1 2.8-5.8 -2.2-1.1zM210.4 215.6l3.6 1.6 2.6-5.9 -3.5-1.5zM229 174.9l3 1.4 2.6-5.9 -2.9-1.3zM245 140l2.5 1.1 2.6-5.9 -2.4-1zM250.4 128.3l2.3 1 2.6-5.9 -2.2-1zM226.9 187.9l3.2 1.4 2.5-5.8 -3.1-1.4zM244.9 147l2.6 1.1 2.5-5.9 -2.5-1.1zM247.5 141.1l2.5 1.1 2.5-5.9 -2.4-1.1zM252.7 129.3l2.3 1 2.6-5.9 -2.3-1zM225.1 201.1l3.4 1.4 2.4-5.9 -3.3-1.4zM247.7 155.1l2.7 1.1 2.3-6 -2.6-1zM250.1 149.2l2.6 1 2.4-5.9 -2.6-1zM252.5 143.3l2.6 1 2.3-6 -2.4-1zM250.4 156.2l2.7 1.1 2.3-6.1 -2.7-1zM255.1 144.3l2.5 .9 2.2-6 -2.4-.9zM253.1 157.3l2.8 .9 2.1-6 -2.6-1zM260.2 146.1l2.5 .9 2.1-6.1 -2.5-.8zM262.3 140.1l2.5 .8 2-6.1 -2.3-.8zM260.4 173.2l3 .9 1.8-6.1 -2.9-.9zM267.9 148.7l2.6 .8 1.8-6.2 -2.5-.8zM273.6 130.2l2.3 .7 1.8-6.3 -2.3-.6zM263.4 174.1l3 .8 1.6-6.1 -2.8-.8zM266.9 161.8l2.8 .8 1.7-6.2 -2.7-.8zM266.4 174.9l3 .8 1.5-6.2 -2.9-.7zM277.3 144.7l2.6 .6 1.5-6.3 -2.4-.6zM264.1 227l3.8 .8 1.3-6.2 -3.7-.8zM277.1 184.1l3.1 .6 1.2-6.2 -3-.7zM272.9 222.3l3.7 .7 1.1-6.3 -3.6-.7zM276.6 223l3.7 .7 1-6.4 -3.6-.6zM281.3 217.3l3.6 .6 1-6.3 -3.5-.6zM287.8 199l3.3 .4 .9-6.3 -3.3-.4zM294.5 199.9l3.3 .3 .7-6.3 -3.3-.4zM299.8 181.2l3.1 .3 .6-6.4 -3-.3zM298.9 226l3.8 .3 .4-6.4 -3.6-.3zM302.7 226.3l3.7 .3 .4-6.4 -3.7-.3zM304.1 207.2l3.5 .2 .3-6.3 -3.3-.3zM304.6 200.8l3.3 .3 .4-6.4 -3.3-.2zM308.3 194.7l3.3 .2 .3-6.4 -3.2-.2zM310.7 214l3.6 .1 .2-6.3 -3.5-.2zM325.1 220.6l3.7-.1 -.2-6.4 -3.6 .1zM324.9 207.8l3.5 0 -.2-6.4 -3.4 0zM328.8 220.5l3.6-.1 -.2-6.4 -3.6 .1zM328.4 207.8l3.5-.2 -.3-6.4 -3.4 .2zM331.9 207.6l3.4-.2 -.3-6.3 -3.4 .1zM336.5 226.6l3.7-.3 -.4-6.4 -3.7 .3zM335.3 207.4l3.5-.2 -.5-6.4 -3.3 .3zM339.3 213.6l3.5-.3 -.5-6.4 -3.5 .3zM393.2 270l4.3-1.1 -1.6-6.3 -4.3 1.1zM397.5 268.9l4.4-1.1 -1.7-6.3 -4.3 1.1zM436.7 234.9l3.8-1.8 -2.7-5.8 -3.7 1.7zM440.5 233.1l3.9-1.8 -2.8-5.8 -3.8 1.8zM443.6 202.9l3.4-1.8 -3.1-5.6 -3.3 1.8zM447.2 193.6l3.3-1.8 -3.3-5.5 -3.2 1.8zM456.9 187.8l3.1-2 -3.4-5.3 -3.1 1.9z" fill="#80cdc1" stroke="#80cdc1" stroke-width="0.35"/><path d="M219.2 140.8l2.5 1.5 3.2-5.6 -2.4-1.4zM221.7 142.3l2.5 1.4 3.2-5.5 -2.5-1.5zM224.2 143.7l2.5 1.4 3.1-5.6 -2.4-1.3zM225.9 242.7l4 1.4 2.1-6.1 -3.9-1.4zM228.1 236.6l3.9 1.4 2-6.1 -3.8-1.4zM238.8 206.4l3.4 1.2 2.1-6.1 -3.4-1.1zM240.9 200.4l3.4 1.1 2-6 -3.3-1.1zM229.9 244.1l4 1.3 2-6.1 -3.9-1.3zM232 238l3.9 1.3 2-6.2 -3.9-1.2zM240.2 213.7l3.6 1.1 1.9-6.1 -3.5-1.1zM242.2 207.6l3.5 1.1 2-6 -3.4-1.2zM244.3 201.5l3.4 1.2 1.9-6.1 -3.3-1.1zM235.9 239.3l4 1.2 1.8-6.2 -3.8-1.2zM247.7 202.7l3.4 1 1.8-6.1 -3.3-1zM253.5 184.4l3.2 1 1.8-6.1 -3-.9zM247.4 216l3.6 1 1.7-6.1 -3.5-1.1zM249.2 209.8l3.5 1.1 1.8-6.2 -3.4-1zM251.1 203.7l3.4 1 1.8-6.1 -3.4-1zM252.9 197.6l3.4 1 1.8-6.1 -3.3-1zM256.7 185.4l3.1 1 1.8-6.2 -3.1-.9zM251 217l3.6 1 1.7-6.1 -3.6-1zM252.7 210.9l3.6 1 1.6-6.2 -3.4-1zM258.1 192.5l3.2 .9 1.7-6.2 -3.2-.8zM254.6 218l3.6 1 1.6-6.2 -3.5-.9zM256.3 211.9l3.5 .9 1.6-6.2 -3.5-.9zM257.9 205.7l3.5 .9 1.6-6.1 -3.4-.9zM259.6 199.6l3.4 .9 1.6-6.2 -3.3-.9zM261.3 193.4l3.3 .9 1.6-6.2 -3.2-.9zM263 187.2l3.2 .9 1.6-6.2 -3.1-.8zM258.2 219l3.7 .9 1.5-6.2 -3.6-.9zM259.8 212.8l3.6 .9 1.5-6.2 -3.5-.9zM261.4 206.6l3.5 .9 1.5-6.2 -3.4-.8zM263 200.5l3.4 .8 1.5-6.2 -3.3-.8zM266.2 188.1l3.2 .8 1.5-6.2 -3.1-.8zM263.4 213.7l3.5 .8 1.4-6.2 -3.4-.8zM264.9 207.5l3.4 .8 1.4-6.2 -3.3-.8zM266.4 201.3l3.3 .8 1.5-6.2 -3.3-.8zM267.9 195.1l3.3 .8 1.4-6.3 -3.2-.7zM268.3 208.3l3.5 .8 1.3-6.3 -3.4-.7zM269.7 202.1l3.4 .7 1.4-6.2 -3.3-.7zM271.8 209.1l3.5 .7 1.2-6.3 -3.4-.7zM275.3 209.8l3.5 .6 1.2-6.2 -3.5-.7zM276.5 203.5l3.5 .7 1.1-6.3 -3.3-.6zM280 204.2l3.4 .5 1-6.3 -3.3-.5zM281.1 197.9l3.3 .5 1.1-6.2 -3.3-.6zM338 252.2l4.1-.3 -.4-6.4 -4.1 .3zM346.3 251.6l4.1-.4 -.7-6.4 -4 .4zM387.1 244.9l4-1 -1.6-6.3 -3.9 1zM394.3 256.4l4.2-1.1 -1.7-6.3 -4.1 1.1zM391.1 243.9l4-1.1 -1.7-6.2 -3.9 1zM398.5 255.3l4.2-1.2 -1.8-6.2 -4.1 1.1zM396.8 249l4.1-1.1 -1.8-6.2 -4 1.1zM395.1 242.8l4-1.1 -1.8-6.2 -3.9 1.1z" fill="#003c30" stroke="#003c30" stroke-width="0.35"/><path d="M238 114.5l2.2 1.3 3.2-5.7 -2-1.2zM236.9 121.4l2.2 1.2 3.2-5.7 -2.1-1.1zM235.3 135.2l2.4 1.3 3-5.8 -2.4-1.2zM238.3 129.5l2.4 1.2 2.9-5.7 -2.2-1.2zM211.4 223.1l3.7 1.6 2.5-5.9 -3.6-1.6zM212.6 230.6l3.9 1.6 2.4-6 -3.8-1.5zM215.1 224.7l3.8 1.5 2.4-5.9 -3.7-1.5zM218.9 226.2l3.7 1.5 2.4-6 -3.7-1.4zM223.7 214.3l3.6 1.5 2.3-6 -3.5-1.4zM220.3 233.7l3.9 1.5 2.2-6 -3.8-1.5zM236.5 191.9l3.3 1.3 2.2-6 -3.2-1.2zM234 231.9l3.9 1.2 1.9-6.1 -3.7-1.2zM243.8 241.7l4 1.1 1.7-6.2 -3.9-1.1zM246.1 249l4.1 1.1 1.6-6.2 -4-1.1zM247.8 242.8l4 1.1 1.6-6.3 -3.9-1zM249.5 236.6l3.9 1 1.6-6.2 -3.8-1zM255 231.4l3.8 1 1.6-6.3 -3.8-.9zM270.9 182.7l3.1 .7 1.4-6.2 -3-.7zM272.4 176.5l3 .7 1.4-6.3 -2.9-.6zM265.5 220.8l3.7 .8 1.3-6.3 -3.6-.8zM267.9 227.8l3.8 .8 1.2-6.3 -3.7-.7zM351.5 225.2l3.7-.4 -.9-6.4 -3.6 .5zM410.6 265.3l4.3-1.4 -2-6.2 -4.2 1.4zM427.3 245.8l4-1.6 -2.4-6 -4 1.5zM439.3 240.8l3.9-1.8 -2.7-5.9 -3.8 1.8zM449.9 243l4-1.9 -2.8-5.8 -3.9 1.9zM458.8 231.3l3.8-2 -3.2-5.7 -3.7 2zM457 195.3l3.3-2.1 -3.4-5.4 -3.2 2zM467.2 204.1l3.4-2.2 -3.6-5.4 -3.3 2.2zM473.6 192.1l3.2-2.3 -3.7-5.2 -3.2 2.3z" fill="#48a49c" stroke="#48a49c" stroke-width="0.35"/><path d="M233.7 127l2.3 1.3 3.1-5.7 -2.2-1.2zM208.8 229l3.8 1.6 2.5-5.9 -3.7-1.6zM217.6 218.8l3.7 1.5 2.4-6 -3.6-1.4zM225 221.7l3.6 1.4 2.3-6 -3.6-1.3zM227.3 215.8l3.6 1.3 2.2-6 -3.5-1.3zM221.9 241.2l4 1.5 2.2-6.1 -3.9-1.4zM224.2 235.2l3.9 1.4 2.1-6.1 -3.8-1.3zM226.4 229.2l3.8 1.3 2.2-6 -3.8-1.4zM228.6 223.1l3.8 1.4 2.1-6 -3.6-1.4zM230.9 217.1l3.6 1.4 2.1-6.1 -3.5-1.3zM232.4 224.5l3.7 1.3 2-6.1 -3.6-1.2zM236.1 225.8l3.7 1.2 2-6.1 -3.7-1.2zM239.8 227l3.8 1.2 1.9-6.1 -3.7-1.2zM263.9 246.7l4.1 .8 1.2-6.3 -4-.8zM337.2 239.4l4-.3 -.5-6.4 -3.8 .3zM336.9 233l3.8-.3 -.5-6.4 -3.7 .3zM341.7 245.5l4-.3 -.6-6.4 -3.9 .3zM340.7 232.7l3.8-.3 -.5-6.4 -3.8 .3zM443.2 239l4-1.8 -2.8-5.9 -3.9 1.8zM451.1 235.3l3.8-2 -2.9-5.7 -3.8 1.9zM457.9 239.1l3.9-2 -3-5.8 -3.9 2zM454.9 233.3l3.9-2 -3.1-5.7 -3.7 2zM461.8 237.1l3.9-2.2 -3.1-5.6 -3.8 2zM465.7 234.9l3.9-2.1 -3.3-5.7 -3.7 2.2zM460.2 208.3l3.5-2.1 -3.3-5.4 -3.4 2zM463.7 206.2l3.5-2.1 -3.5-5.4 -3.3 2.1zM460.4 200.8l3.3-2.1 -3.4-5.5 -3.3 2.1zM470.6 201.9l3.3-2.2 -3.6-5.3 -3.3 2.1zM467 196.5l3.3-2.1 -3.5-5.4 -3.3 2.2z" fill="#35978f" stroke="#35978f" stroke-width="0.35"/><path d="M223.6 150.8l2.7 1.4 3-5.7 -2.6-1.4zM214 217.2l3.6 1.6 2.5-5.9 -3.5-1.6zM220.1 212.9l3.6 1.4 2.4-5.9 -3.5-1.4zM226.1 208.4l3.5 1.4 2.3-6 -3.4-1.3zM242.9 167l2.9 1.1 2.3-5.9 -2.8-1.1zM229.6 209.8l3.5 1.3 2.2-6 -3.4-1.3zM243.5 174.1l2.9 1.1 2.3-6 -2.9-1.1zM237.6 199.2l3.3 1.2 2.1-6 -3.2-1.2zM239.8 193.2l3.2 1.2 2.2-6.1 -3.2-1.1zM230.2 230.5l3.8 1.4 2.1-6.1 -3.7-1.3zM237.9 233.1l3.8 1.2 1.9-6.1 -3.8-1.2zM241.7 234.3l3.9 1.2 1.8-6.2 -3.8-1.1zM243.6 228.2l3.8 1.1 1.8-6.1 -3.7-1.1zM253.4 237.6l3.9 1 1.5-6.2 -3.8-1zM257.3 238.6l4 .9 1.4-6.2 -3.9-.9zM265.2 240.4l4 .8 1.2-6.3 -3.8-.8zM321.4 201.5l3.4-.1 -.1-6.3 -3.3 0zM337.6 245.8l4.1-.3 -.5-6.4 -4 .3zM345.7 245.2l4-.4 -.7-6.4 -3.9 .4zM400.9 247.9l4-1.2 -1.9-6.2 -3.9 1.2zM412.5 271.5l4.4-1.4 -2-6.2 -4.3 1.4zM416.9 270.1l4.4-1.4 -2.1-6.2 -4.3 1.4zM413 244.1l4-1.4 -2.2-6.1 -3.9 1.4zM447.2 237.2l3.9-1.9 -2.9-5.8 -3.8 1.8zM463.7 198.7l3.3-2.2 -3.5-5.3 -3.2 2zM460.3 193.2l3.2-2 -3.5-5.4 -3.1 2zM463.5 191.2l3.3-2.2 -3.6-5.3 -3.2 2.1z" fill="#288b83" stroke="#288b83" stroke-width="0.35"/><path d="M232.9 133.9l2.4 1.3 3-5.7 -2.3-1.2zM236 128.3l2.3 1.2 3.1-5.7 -2.3-1.2zM248.1 127.2l2.3 1.1 2.7-5.9 -2.2-1zM242.4 145.9l2.5 1.1 2.6-5.9 -2.5-1.1zM247.7 134.2l2.4 1 2.6-5.9 -2.3-1zM224.3 193.8l3.3 1.4 2.5-5.9 -3.2-1.4zM232 176.3l3.1 1.3 2.4-5.9 -2.9-1.3zM242.4 152.9l2.6 1.1 2.5-5.9 -2.6-1.1zM232.6 183.5l3.1 1.2 2.4-5.9 -3-1.2zM228.5 202.5l3.4 1.3 2.3-5.9 -3.3-1.3zM230.9 196.6l3.3 1.3 2.3-6 -3.2-1.2zM233.3 190.7l3.2 1.2 2.3-5.9 -3.1-1.3zM218 239.7l3.9 1.5 2.3-6 -3.9-1.5zM242 187.2l3.2 1.1 2.1-6 -3.1-1.1zM259.8 139.2l2.5 .9 2.2-6.1 -2.4-.9zM265.3 147.9l2.6 .8 1.9-6.2 -2.5-.7zM239.9 240.5l3.9 1.2 1.8-6.2 -3.9-1.2zM245.6 235.5l3.9 1.1 1.7-6.2 -3.8-1.1zM247.4 229.3l3.8 1.1 1.7-6.2 -3.7-1zM251.2 230.4l3.8 1 1.6-6.2 -3.7-1zM256.6 225.2l3.8 .9 1.5-6.2 -3.7-.9zM258.8 232.4l3.9 .9 1.4-6.3 -3.7-.9zM261.3 239.5l3.9 .9 1.4-6.3 -3.9-.8zM262.7 233.3l3.9 .8 1.3-6.3 -3.8-.8zM269.2 221.6l3.7 .7 1.2-6.3 -3.6-.7zM280.2 184.7l3.1 .6 1.2-6.3 -3.1-.5zM284.9 217.9l3.7 .5 .8-6.3 -3.5-.5zM301.2 200.6l3.4 .2 .4-6.3 -3.2-.3zM301.8 194.2l3.2 .3 .5-6.4 -3.2-.2zM305 194.5l3.3 .2 .4-6.4 -3.2-.2zM307.6 207.4l3.4 .2 .3-6.4 -3.4-.1zM307.9 201.1l3.4 .1 .3-6.3 -3.3-.2zM388.8 271.1l4.4-1.1 -1.6-6.3 -4.3 1zM435.3 242.5l4-1.7 -2.6-5.9 -3.9 1.7zM453.9 241.1l4-2 -3-5.8 -3.8 2zM446.7 208.6l3.4-1.9 -3.1-5.6 -3.4 1.8zM462.6 229.3l3.7-2.2 -3.2-5.6 -3.7 2.1zM453.2 212.3l3.6-2 -3.2-5.5 -3.5 1.9zM447 201.1l3.4-1.9 -3.2-5.6 -3.3 1.9zM450.5 191.8l3.2-2 -3.3-5.4 -3.2 1.9zM473.9 199.7l3.4-2.3 -3.7-5.3 -3.3 2.3zM470.3 194.4l3.3-2.3 -3.7-5.2 -3.1 2.1zM466.8 189l3.1-2.1 -3.6-5.3 -3.1 2.1zM469.9 186.9l3.2-2.3 -3.7-5.2 -3.1 2.2zM476.8 189.8l3.2-2.3 -3.8-5.1 -3.1 2.2z" fill="#5ab2a8" stroke="#5ab2a8" stroke-width="0.35"/><path d="M211.3 180.4l3.1 1.6 2.9-5.7 -3-1.6zM214.3 174.7l3 1.6 2.9-5.7 -2.9-1.5zM211.4 187.6l3.2 1.7 2.9-5.8 -3.1-1.5zM214.4 182l3.1 1.5 2.8-5.7 -3-1.5zM217.5 183.5l3.1 1.6 2.7-5.8 -3-1.5zM262.3 167.1l2.9 .9 1.7-6.2 -2.8-.8zM270.9 169.5l3 .8 1.5-6.3 -2.9-.7zM272.5 163.3l2.9 .7 1.5-6.2 -2.8-.7zM275.4 164l2.8 .7 1.4-6.2 -2.7-.7zM278.4 151.6l2.6 .6 1.4-6.3 -2.5-.6zM278.2 164.7l2.8 .6 1.4-6.2 -2.8-.6zM279.6 158.5l2.8 .6 1.3-6.3 -2.7-.6zM281 152.2l2.7 .6 1.3-6.3 -2.6-.6zM279.7 171.6l3 .6 1.2-6.3 -2.9-.6zM281 165.3l2.9 .6 1.2-6.3 -2.7-.5zM282.4 159.1l2.7 .5 1.2-6.3 -2.6-.5zM286.3 153.3l2.7 .5 1.2-6.3 -2.6-.5zM286.7 166.4l2.9 .5 1-6.3 -2.7-.5zM287.9 160.1l2.7 .5 1.1-6.3 -2.7-.5zM306 181.8l3.1 .2 .3-6.4 -2.9-.2zM327.6 182.2l3.1-.1 -.2-6.4 -3 .1zM333.8 182l3.1-.2 -.5-6.4 -2.9 .2zM367.8 255.3l4.2-.7 -1.1-6.3 -4.1 .7zM372 254.6l4.2-.8 -1.3-6.3 -4 .8zM425.5 253.4l4.1-1.6 -2.3-6 -4.1 1.5zM429.6 251.8l4.1-1.6 -2.4-6 -4 1.6zM420.3 227.7l3.7-1.5 -2.4-5.9 -3.7 1.4zM417.9 221.7l3.7-1.4 -2.4-6 -3.6 1.5zM438.8 219.7l3.7-1.8 -2.9-5.7 -3.5 1.7zM440.6 197.3l3.3-1.8 -3-5.6 -3.3 1.7zM470.6 209.5l3.5-2.2 -3.5-5.4 -3.4 2.2zM494.9 200.5l3.3-2.6 -4-5.1 -3.2 2.6zM498.2 197.9l3.3-2.7 -4-5 -3.3 2.6z" fill="#def0ed" stroke="#def0ed" stroke-width="0.35"/><path d="M217.3 176.3l3 1.5 2.8-5.7 -2.9-1.5zM209 200.7l3.3 1.7 2.8-5.8 -3.3-1.6zM215.1 196.6l3.3 1.5 2.7-5.8 -3.3-1.5zM217.8 190.8l3.3 1.5 2.6-5.8 -3.1-1.4zM273.1 150.2l2.6 .7 1.6-6.2 -2.5-.7zM274.1 157.1l2.8 .7 1.5-6.2 -2.7-.7zM276.9 157.8l2.7 .7 1.4-6.3 -2.6-.6zM306.5 175.4l2.9 .2 .4-6.4 -2.9-.2zM312.2 182.1l3.1 .1 .1-6.4 -3-.1zM313.9 226.9l3.8 .1 .1-6.4 -3.7-.1zM318.4 175.9l3 0 0-6.4 -2.9 0zM321.4 175.9l3.1 0 -.1-6.4 -3 0zM324.5 175.9l3-.1 -.2-6.4 -2.9 .1zM329.3 239.7l4-.1 -.3-6.4 -3.8 .1zM333.3 239.6l3.9-.2 -.3-6.4 -3.9 .2zM333.5 175.6l2.9-.2 -.4-6.4 -2.9 .2zM345.1 238.8l3.9-.4 -.6-6.4 -3.9 .4zM342.8 213.3l3.6-.4 -.7-6.3 -3.4 .3zM354.5 250.7l4.1-.5 -.9-6.4 -4 .5zM359.9 230.6l3.8-.6 -1.1-6.3 -3.7 .5zM408.9 231.9l3.8-1.4 -2.2-6 -3.7 1.3zM406.8 225.8l3.7-1.3 -2.1-6 -3.6 1.2zM432 257.9l4.2-1.7 -2.5-6 -4.1 1.6zM436.2 256.2l4.2-1.7 -2.6-6 -4.1 1.7zM428.9 238.2l3.9-1.6 -2.5-6 -3.9 1.6zM424 226.2l3.8-1.5 -2.5-5.9 -3.7 1.5zM432.8 236.6l3.9-1.7 -2.6-5.9 -3.8 1.6zM430.3 230.6l3.8-1.6 -2.6-5.9 -3.7 1.6zM425.3 218.8l3.6-1.6 -2.6-5.9 -3.5 1.6zM444.5 252.7l4.1-1.9 -2.7-5.9 -4 1.8zM441.9 246.7l4-1.8 -2.7-5.9 -3.9 1.8zM437.8 227.3l3.8-1.8 -2.8-5.8 -3.6 1.7zM432.5 215.6l3.6-1.7 -2.8-5.8 -3.5 1.7zM436.1 213.9l3.5-1.7 -2.8-5.8 -3.5 1.7zM436.8 206.4l3.4-1.7 -2.9-5.7 -3.4 1.7zM449 221.9l3.7-2 -3-5.6 -3.6 1.8zM443.2 210.4l3.5-1.8 -3.1-5.7 -3.4 1.8zM437.3 199l3.3-1.7 -3-5.7 -3.2 1.7zM437.6 191.6l3.3-1.7 -3.1-5.6 -3.2 1.7zM475.1 252.1l4.2-2.3 -3.3-5.7 -4 2.3zM472 246.4l4-2.3 -3.2-5.7 -4 2.2zM479.3 249.8l4-2.4 -3.3-5.6 -4 2.3zM491.8 234.5l3.8-2.6 -3.6-5.4 -3.8 2.5zM480 187.5l3.2-2.4 -3.9-5.1 -3.1 2.4z" fill="#c7eae5" stroke="#c7eae5" stroke-width="0.35"/><path d="M240.7 130.7l2.3 1.2 2.9-5.8 -2.3-1.1zM243 131.9l2.4 1.2 2.7-5.9 -2.2-1.1zM283.4 204.7l3.4 .6 1-6.3 -3.4-.6zM399.1 214.8l3.6-1.1 -2-6.1 -3.5 1.1zM409.8 211.1l3.5-1.3 -2.3-6 -3.4 1.3zM415.6 215.8l3.6-1.5 -2.4-5.9 -3.5 1.4zM416 187.9l3.2-1.4 -2.7-5.8 -3.1 1.4zM416.5 180.7l3.1-1.4 -2.8-5.8 -2.9 1.4zM419.6 179.3l3-1.5 -2.8-5.7 -3 1.4zM425.6 176.3l3-1.6 -3-5.6 -2.9 1.5zM431.6 180.4l3.1-1.7 -3.1-5.6 -3 1.6zM428.6 174.7l3-1.6 -3.1-5.6 -2.9 1.6zM474.1 207.3l3.4-2.3 -3.6-5.3 -3.3 2.2zM488.1 205.5l3.4-2.5 -3.8-5.2 -3.4 2.5z" fill="#f5f2e8" stroke="#f5f2e8" stroke-width="0.35"/><path d="M211.8 195l3.3 1.6 2.7-5.8 -3.2-1.5zM214.6 189.3l3.2 1.5 2.8-5.7 -3.1-1.6zM220.3 177.8l3 1.5 2.8-5.8 -3-1.4zM212.3 202.4l3.4 1.5 2.7-5.8 -3.3-1.5zM220.6 185.1l3.1 1.4 2.7-5.8 -3.1-1.4zM223.3 179.3l3.1 1.4 2.6-5.8 -2.9-1.4zM245.4 133.1l2.3 1.1 2.7-5.9 -2.3-1.1zM223.7 186.5l3.2 1.4 2.6-5.8 -3.1-1.4zM226.4 180.7l3.1 1.4 2.5-5.8 -3-1.4zM275.7 150.9l2.7 .7 1.5-6.3 -2.6-.6zM273.9 170.3l2.9 .6 1.4-6.2 -2.8-.7zM283.7 152.8l2.6 .5 1.3-6.3 -2.6-.5zM285.6 172.7l3 .5 1-6.3 -2.9-.5zM289.6 166.9l2.9 .5 .9-6.4 -2.8-.4zM290.6 160.6l2.8 .4 1-6.3 -2.7-.4zM315.3 182.2l3.1 .1 0-6.4 -3-.1zM318.4 182.3l3 0 0-6.4 -3 0zM327.5 175.8l3-.1 -.3-6.4 -2.9 .1zM333.6 246l4-.2 -.4-6.4 -3.9 .2zM330.7 182.1l3.1-.1 -.3-6.4 -3 .1zM330.5 175.7l3-.1 -.4-6.4 -2.9 .1zM363.7 230l3.8-.7 -1.2-6.3 -3.7 .7zM423.5 261l4.2-1.5 -2.2-6.1 -4.2 1.5zM421.3 254.9l4.2-1.5 -2.3-6.1 -4 1.5zM410.5 224.5l3.8-1.4 -2.3-6 -3.6 1.4zM427.7 259.5l4.3-1.6 -2.4-6.1 -4.1 1.6zM416.5 229.2l3.8-1.5 -2.4-6 -3.6 1.4zM414.3 223.1l3.6-1.4 -2.3-5.9 -3.6 1.3zM419.2 214.3l3.6-1.4 -2.5-5.9 -3.5 1.4zM431.5 223.1l3.7-1.7 -2.7-5.8 -3.6 1.6zM428.9 217.2l3.6-1.6 -2.7-5.8 -3.5 1.5zM426.3 211.3l3.5-1.5 -2.6-5.9 -3.5 1.6zM423.7 205.5l3.5-1.6 -2.7-5.8 -3.4 1.5zM435.2 221.4l3.6-1.7 -2.7-5.8 -3.6 1.7zM430.6 202.4l3.3-1.7 -2.8-5.7 -3.3 1.6zM445.3 223.7l3.7-1.8 -2.9-5.8 -3.6 1.8zM442.5 217.9l3.6-1.8 -2.9-5.7 -3.6 1.8zM495.3 208.2l3.5-2.6 -3.9-5.1 -3.4 2.5zM491.5 203l3.4-2.5 -3.9-5.1 -3.3 2.4zM502.2 203l3.4-2.7 -4.1-5.1 -3.3 2.7zM509.7 205.3l3.4-2.8 -4.1-5 -3.4 2.8z" fill="#d2ede9" stroke="#d2ede9" stroke-width="0.35"/><path d="M226.1 173.5l2.9 1.4 2.7-5.8 -2.9-1.3zM283.3 185.3l3.2 .6 1-6.3 -3-.6zM353.7 244.3l4-.5 -.8-6.3 -3.9 .5zM404.8 219.7l3.6-1.2 -2.1-6.1 -3.6 1.3zM412 217.1l3.6-1.3 -2.3-6 -3.5 1.3zM431.5 187.6l3.1-1.6 -3-5.6 -3.1 1.6z" fill="#f6eedc" stroke="#f6eedc" stroke-width="0.35"/><path d="M215.7 203.9l3.5 1.6 2.6-5.9 -3.4-1.5zM221.8 199.6l3.3 1.5 2.5-5.9 -3.3-1.4zM239.8 158.7l2.7 1.2 2.5-5.9 -2.6-1.1zM222.6 207l3.5 1.4 2.4-5.9 -3.4-1.4zM242.5 159.9l2.8 1.2 2.4-6 -2.7-1.1zM245 154l2.7 1.1 2.4-5.9 -2.6-1.1zM252.5 136.3l2.5 1 2.4-6 -2.4-1zM235.7 184.7l3.1 1.3 2.4-6 -3.1-1.2zM238.1 178.8l3.1 1.2 2.3-5.9 -3-1.2zM255 137.3l2.4 1 2.3-6.1 -2.3-.9zM238.8 186l3.2 1.2 2.2-6 -3-1.2zM241.2 180l3 1.2 2.2-6 -2.9-1.1zM248.1 162.2l2.8 1.1 2.2-6 -2.7-1.1zM252.7 150.2l2.7 1 2.2-6 -2.5-.9zM257.4 138.3l2.4 .9 2.3-6.1 -2.4-.9zM257.6 145.2l2.6 .9 2.1-6 -2.5-.9zM264.1 161l2.8 .8 1.8-6.2 -2.7-.8zM266 154.8l2.7 .8 1.8-6.1 -2.6-.8zM271.7 136.4l2.4 .7 1.8-6.2 -2.3-.7zM268.7 155.6l2.7 .8 1.7-6.2 -2.6-.7zM270.5 149.5l2.6 .7 1.7-6.2 -2.5-.7zM272.3 143.3l2.5 .7 1.7-6.2 -2.4-.7zM269.7 162.6l2.8 .7 1.6-6.2 -2.7-.7zM269.4 175.7l3 .8 1.5-6.2 -3-.8zM279.9 145.3l2.5 .6 1.5-6.3 -2.5-.6zM285 146.5l2.6 .5 1.2-6.3 -2.5-.6zM287.5 179.6l3.1 .4 .9-6.3 -2.9-.5zM290.6 180l3.1 .5 .8-6.4 -3-.4zM291.1 199.4l3.4 .5 .7-6.4 -3.2-.4zM292 193.1l3.2 .4 .8-6.3 -3.2-.4zM292.8 186.8l3.2 .4 .7-6.3 -3-.4zM294.5 174.1l3 .4 .7-6.3 -2.8-.4zM296 187.2l3.1 .4 .7-6.4 -3.1-.3zM296.7 180.9l3.1 .3 .7-6.4 -3-.3zM295.2 225.7l3.7 .3 .6-6.4 -3.7-.3zM299.1 187.6l3.2 .3 .6-6.4 -3.1-.3zM300.5 174.8l3 .3 .5-6.3 -2.9-.3zM303.6 213.6l3.6 .2 .4-6.4 -3.5-.2zM307.2 213.8l3.5 .2 .3-6.4 -3.4-.2zM314.1 220.5l3.7 .1 .1-6.4 -3.6-.1zM314.3 214.1l3.6 .1 .1-6.4 -3.5 0zM321.4 227l3.8 0 -.1-6.4 -3.7 0zM321.4 220.6l3.7 0 -.1-6.4 -3.6 0zM325.2 227l3.8-.1 -.2-6.4 -3.7 .1zM324.8 201.4l3.4 0 -.2-6.4 -3.3 .1zM329 226.9l3.7-.1 -.3-6.4 -3.6 .1zM328 195l3.3-.1 -.3-6.4 -3.2 .1zM332.7 226.8l3.8-.2 -.4-6.4 -3.7 .2zM331.3 194.9l3.3-.2 -.4-6.4 -3.2 .2zM335.7 213.8l3.6-.2 -.5-6.4 -3.5 .2zM340.2 226.3l3.8-.3 -.6-6.4 -3.6 .3zM339.8 219.9l3.6-.3 -.6-6.3 -3.5 .3zM338.8 207.2l3.5-.3 -.6-6.3 -3.4 .2zM343.4 219.6l3.7-.3 -.7-6.4 -3.6 .4zM342.3 206.9l3.4-.3 -.6-6.4 -3.4 .4zM357 211.6l3.5-.6 -1-6.3 -3.4 .6zM365.7 242.6l4-.7 -1.1-6.3 -3.9 .7zM368.6 235.6l3.9-.7 -1.3-6.3 -3.7 .7zM397.3 235.5l3.9-1.2 -1.9-6.1 -3.8 1.1zM415.3 195.2l3.3-1.4 -2.6-5.9 -3.2 1.4zM410.3 183.5l3.1-1.4 -2.5-5.8 -3.1 1.3zM418.6 193.8l3.2-1.5 -2.6-5.8 -3.2 1.4zM444.4 231.3l3.8-1.8 -2.9-5.8 -3.7 1.8zM448.2 229.5l3.8-1.9 -3-5.7 -3.7 1.8zM463.8 250.7l4.1-2.1 -3-5.8 -4.1 2.1zM452 227.6l3.7-2 -3-5.7 -3.7 2zM471 254.3l4.1-2.2 -3.1-5.7 -4.1 2.2zM467.9 248.6l4.1-2.2 -3.2-5.8 -3.9 2.2zM464.9 242.8l3.9-2.2 -3.1-5.7 -3.9 2.2zM443.9 195.5l3.3-1.9 -3.2-5.5 -3.1 1.8zM463.5 213.9l3.6-2.2 -3.4-5.5 -3.5 2.1zM444 180.8l3-1.9 -3.3-5.4 -3 1.8zM453.5 182.4l3.1-1.9 -3.5-5.4 -3 1.9zM473.1 184.6l3.1-2.2 -3.8-5.2 -3 2.2z" fill="#92d4ca" stroke="#92d4ca" stroke-width="0.35"/><path d="M218.4 198.1l3.4 1.5 2.5-5.8 -3.2-1.5zM268 168.8l2.9 .7 1.6-6.2 -2.8-.7zM276.8 170.9l2.9 .7 1.3-6.3 -2.8-.6zM282.7 172.2l2.9 .5 1.1-6.3 -2.8-.5zM283.9 165.9l2.8 .5 1.2-6.3 -2.8-.5zM285.1 159.6l2.8 .5 1.1-6.3 -2.7-.5zM363.7 256l4.1-.7 -1-6.3 -4.1 .6zM406.3 212.4l3.5-1.3 -2.2-6 -3.5 1.3zM425.4 183.5l3.1-1.5 -2.9-5.7 -3 1.5zM422.6 177.8l3-1.5 -2.9-5.7 -2.9 1.5zM428.5 182l3.1-1.6 -3-5.7 -3 1.6zM467.1 211.7l3.5-2.2 -3.4-5.4 -3.5 2.1zM499.2 213.4l3.5-2.6 -3.9-5.2 -3.5 2.6zM502.7 210.8l3.5-2.7 -4-5.1 -3.4 2.6zM498.8 205.6l3.4-2.6 -4-5.1 -3.3 2.6z" fill="#eaf2f1" stroke="#eaf2f1" stroke-width="0.35"/><path d="M221.1 192.3l3.2 1.5 2.6-5.9 -3.2-1.4zM285.9 211.6l3.5 .5 .9-6.3 -3.5-.5zM286.8 205.3l3.5 .5 .8-6.4 -3.3-.4zM289.6 186.4l3.2 .4 .9-6.3 -3.1-.5zM291.5 173.7l3 .4 .9-6.3 -2.9-.4zM289.4 212.1l3.6 .4 .7-6.3 -3.4-.4zM293.7 180.5l3 .4 .8-6.4 -3-.4zM303.5 175.1l3 .3 .4-6.4 -2.9-.2zM309.1 182l3.1 .1 .2-6.4 -3-.1zM312.4 175.7l3 .1 .2-6.4 -2.9-.1zM315.1 188.6l3.2 .1 .1-6.4 -3.1-.1zM315.4 175.8l3 .1 .1-6.4 -2.9-.1zM317.7 227l3.7 0 0-6.4 -3.6 0zM317.9 214.2l3.5 0 0-6.3 -3.4-.1zM318.3 188.7l3.1 0 0-6.4 -3 0zM321.4 188.7l3.2 0 -.1-6.4 -3.1 0zM321.4 182.3l3.1 0 0-6.4 -3.1 0zM324.7 195.1l3.3-.1 -.2-6.4 -3.2 .1zM324.6 188.7l3.2-.1 -.2-6.4 -3.1 .1zM324.5 182.3l3.1-.1 -.1-6.4 -3 .1zM329.5 246.1l4.1-.1 -.3-6.4 -4 .1zM327.8 188.6l3.2-.1 -.3-6.4 -3.1 .1zM333 233.2l3.9-.2 -.4-6.4 -3.8 .2zM336.1 220.2l3.7-.3 -.5-6.3 -3.6 .2zM335 201.1l3.3-.3 -.4-6.3 -3.3 .2zM334.2 188.3l3.2-.2 -.5-6.3 -3.1 .2zM344.5 232.4l3.9-.4 -.7-6.3 -3.7 .3zM350.4 251.2l4.1-.5 -.8-6.4 -4 .5zM348.4 232l3.8-.4 -.7-6.4 -3.8 .5zM359.5 256.6l4.2-.6 -1-6.4 -4.1 .6zM361.7 243.3l4-.7 -1-6.3 -3.9 .6zM360.8 236.9l3.9-.6 -1-6.3 -3.8 .6zM369.7 241.9l4-.7 -1.2-6.3 -3.9 .7zM367.5 229.3l3.7-.7 -1.2-6.3 -3.7 .7zM419.2 262.5l4.3-1.5 -2.2-6.1 -4.2 1.4zM433.7 250.2l4.1-1.7 -2.5-6 -4 1.7zM426.4 232.2l3.9-1.6 -2.5-5.9 -3.8 1.5zM407.2 184.7l3.1-1.2 -2.5-5.9 -3 1.2zM427.8 224.7l3.7-1.6 -2.6-5.9 -3.6 1.6zM422.8 212.9l3.5-1.6 -2.6-5.8 -3.4 1.5zM420.3 207l3.4-1.5 -2.6-5.9 -3.3 1.5zM434.1 229l3.7-1.7 -2.6-5.9 -3.7 1.7zM421.1 199.6l3.4-1.5 -2.7-5.8 -3.2 1.5zM427.2 203.9l3.4-1.5 -2.8-5.8 -3.3 1.5zM424.5 198.1l3.3-1.5 -2.7-5.8 -3.3 1.5zM441.6 225.5l3.7-1.8 -2.8-5.8 -3.7 1.8zM433.3 208.1l3.5-1.7 -2.9-5.7 -3.3 1.7zM427.8 196.6l3.3-1.6 -2.8-5.7 -3.2 1.5zM439.6 212.2l3.6-1.8 -3-5.7 -3.4 1.7zM433.9 200.7l3.4-1.7 -2.9-5.7 -3.3 1.7zM431.1 195l3.3-1.7 -2.9-5.7 -3.2 1.7zM446.1 216.1l3.6-1.8 -3-5.7 -3.5 1.8zM440.2 204.7l3.4-1.8 -3-5.6 -3.3 1.7zM452.7 219.9l3.6-1.9 -3.1-5.7 -3.5 2zM449.7 214.3l3.5-2 -3.1-5.6 -3.4 1.9zM478.3 257.8l4.2-2.3 -3.2-5.7 -4.2 2.3zM437.8 184.3l3.1-1.8 -3.2-5.5 -3 1.7zM440.9 182.5l3.1-1.7 -3.3-5.5 -3 1.7zM483.3 247.4l4.1-2.4 -3.4-5.6 -4 2.4zM480 241.8l4-2.4 -3.4-5.6 -3.9 2.4zM450.4 184.4l3.1-2 -3.4-5.4 -3.1 1.9zM487.9 237l3.9-2.5 -3.6-5.5 -3.8 2.4zM476.2 182.4l3.1-2.4 -3.9-5 -3 2.2z" fill="#b5e3dc" stroke="#b5e3dc" stroke-width="0.35"/><path d="M246.3 195.5l3.3 1.1 2-6.1 -3.2-1zM258.5 179.3l3.1 .9 1.8-6.1 -3-.9zM261.6 180.2l3.1 .9 1.7-6.2 -3-.8zM267.8 181.9l3.1 .8 1.5-6.2 -3-.8z" fill="#7e4909" stroke="#7e4909" stroke-width="0.35"/><path d="M248.4 189.5l3.2 1 1.9-6.1 -3.1-1zM249.6 196.6l3.3 1 1.9-6.1 -3.2-1zM250.2 250.1l4.1 1 1.5-6.2 -4-1zM313.6 239.7l3.9 .1 .1-6.4 -3.9-.1z" fill="#d7b269" stroke="#d7b269" stroke-width="0.35"/><path d="M251.6 190.5l3.2 1 1.9-6.1 -3.2-1zM254.8 191.5l3.3 1 1.7-6.1 -3.1-1z" fill="#cfa255" stroke="#cfa255" stroke-width="0.35"/><path d="M255.5 178.4l3 .9 1.9-6.1 -2.9-.9z" fill="#995d13" stroke="#995d13" stroke-width="0.35"/><path d="M265.2 168l2.8 .8 1.7-6.2 -2.8-.8zM289 153.8l2.7 .5 1-6.4 -2.5-.4zM364.6 262.4l4.3-.7 -1.1-6.4 -4.1 .7zM362.7 249.6l4.1-.6 -1.1-6.4 -4 .7zM366.8 249l4.1-.7 -1.2-6.4 -4 .7zM370.9 248.3l4-.8 -1.2-6.3 -4 .7zM404.1 294.4l4.7-1.3 -1.7-6.4 -4.7 1.3zM401.1 220.9l3.7-1.2 -2.1-6 -3.6 1.1zM397.2 208.7l3.5-1.1 -2.1-6.1 -3.4 1.2zM402.7 213.7l3.6-1.3 -2.2-6 -3.4 1.2zM400.7 207.6l3.4-1.2 -2.1-6 -3.4 1.1zM404.1 206.4l3.5-1.3 -2.3-5.9 -3.3 1.2zM407.6 205.1l3.4-1.3 -2.3-5.9 -3.4 1.3zM411 203.8l3.4-1.3 -2.4-5.9 -3.3 1.3zM416.8 208.4l3.5-1.4 -2.5-5.9 -3.4 1.4zM414.4 202.5l3.4-1.4 -2.5-5.9 -3.3 1.4zM419.2 186.5l3.1-1.4 -2.7-5.8 -3.1 1.4zM425.1 190.8l3.2-1.5 -2.9-5.8 -3.1 1.6zM422.3 185.1l3.1-1.6 -2.8-5.7 -3 1.5zM488.3 213.3l3.5-2.5 -3.7-5.3 -3.5 2.5zM491.8 210.8l3.5-2.6 -3.8-5.2 -3.4 2.5zM506.2 208.1l3.5-2.8 -4.1-5 -3.4 2.7z" fill="#f5f5f5" stroke="#f5f5f5" stroke-width="0.35"/><path d="M274.1 137.1l2.4 .7 1.7-6.3 -2.3-.6zM282.4 145.9l2.6 .6 1.3-6.4 -2.4-.5zM286.5 185.9l3.1 .5 1-6.4 -3.1-.4zM287.7 224.8l3.7 .4 .8-6.3 -3.6-.5zM290.3 205.8l3.4 .4 .8-6.3 -3.4-.5zM291.4 225.2l3.8 .5 .6-6.4 -3.6-.4zM293 212.5l3.5 .4 .7-6.3 -3.5-.4zM293.7 206.2l3.5 .4 .6-6.4 -3.3-.3zM297.5 174.5l3 .3 .6-6.3 -2.9-.3zM297.2 206.6l3.4 .3 .6-6.3 -3.4-.4zM300.1 213.3l3.5 .3 .5-6.4 -3.5-.3zM302.3 187.9l3.2 .2 .5-6.3 -3.1-.3zM302.9 181.5l3.1 .3 .5-6.4 -3-.3zM305.5 188.1l3.2 .2 .4-6.3 -3.1-.2zM306.4 226.6l3.8 .2 .3-6.4 -3.7-.2zM308.7 188.3l3.2 .2 .3-6.4 -3.1-.1zM309.4 175.6l3 .1 .3-6.4 -2.9-.1zM310.2 226.8l3.7 .1 .2-6.4 -3.6-.1zM310.5 220.4l3.6 .1 .2-6.4 -3.6-.1zM311.9 188.5l3.2 .1 .2-6.4 -3.1-.1zM317.8 220.6l3.6 0 0-6.4 -3.5 0zM321.4 214.2l3.6 0 -.1-6.4 -3.5 .1zM325.5 246.2l4-.1 -.2-6.4 -3.9 .1zM329.2 233.3l3.8-.1 -.3-6.4 -3.7 .1zM328.2 201.4l3.4-.2 -.3-6.3 -3.3 .1zM332.4 220.4l3.7-.2 -.4-6.4 -3.5 .2zM331.6 201.2l3.4-.1 -.4-6.4 -3.3 .2zM331 188.5l3.2-.2 -.4-6.3 -3.1 .1zM334.6 194.7l3.3-.2 -.5-6.4 -3.2 .2zM346.4 212.9l3.5-.4 -.7-6.3 -3.5 .4zM352.2 231.6l3.8-.5 -.8-6.3 -3.7 .4zM349.9 212.5l3.6-.4 -.9-6.3 -3.4 .4zM358.6 250.2l4.1-.6 -1-6.3 -4 .5zM356 231.1l3.9-.5 -1-6.4 -3.7 .6zM353.5 212.1l3.5-.5 -.9-6.3 -3.5 .5zM364.7 236.3l3.9-.7 -1.1-6.3 -3.8 .7zM366.3 223l3.7-.7 -1.2-6.3 -3.6 .7zM381.7 259.3l4.2-.9 -1.4-6.3 -4.2 .9zM406.3 266.6l4.3-1.3 -1.9-6.2 -4.2 1.2zM417.1 256.3l4.2-1.4 -2.1-6.1 -4.1 1.4zM412.7 230.5l3.8-1.3 -2.2-6.1 -3.8 1.4zM434.3 263.9l4.3-1.7 -2.4-6 -4.2 1.7zM440.4 254.5l4.1-1.8 -2.6-6 -4.1 1.8zM437.8 248.5l4.1-1.8 -2.6-5.9 -4 1.7zM417.8 201.1l3.3-1.5 -2.5-5.8 -3.3 1.4zM413.4 182.1l3.1-1.4 -2.6-5.8 -3 1.4zM445.9 244.9l4-1.9 -2.7-5.8 -4 1.8zM421.8 192.3l3.3-1.5 -2.8-5.7 -3.1 1.4zM456.8 246.9l4-2 -2.9-5.8 -4 2zM460.8 244.9l4.1-2.1 -3.1-5.7 -3.9 2zM455.7 225.6l3.7-2 -3.1-5.6 -3.6 1.9zM468.8 240.6l4-2.2 -3.2-5.6 -3.9 2.1zM456.3 218l3.6-2.1 -3.1-5.6 -3.6 2zM459.9 215.9l3.6-2 -3.3-5.6 -3.4 2zM447.2 186.3l3.2-1.9 -3.4-5.5 -3 1.9zM456.6 180.5l3-2.1 -3.6-5.3 -2.9 2zM463.2 183.7l3.1-2.1 -3.7-5.2 -3 2zM466.3 181.6l3.1-2.2 -3.8-5.2 -3 2.2z" fill="#a4dcd3" stroke="#a4dcd3" stroke-width="0.35"/><path d="M264.7 181.1l3.1 .8 1.6-6.2 -3-.8z" fill="#704008" stroke="#704008" stroke-width="0.35"/><path d="M251.8 243.9l4 1 1.5-6.3 -3.9-1zM259.9 245.8l4 .9 1.3-6.3 -3.9-.9zM488.2 229l3.8-2.5 -3.6-5.4 -3.7 2.4z" fill="#e5cc8e" stroke="#e5cc8e" stroke-width="0.35"/><path d="M254.3 251.1l4.1 1 1.5-6.3 -4.1-.9zM255.8 244.9l4.1 .9 1.4-6.3 -4-.9zM258.4 252.1l4.2 .9 1.3-6.3 -4-.9zM313.4 246.1l4 .1 .1-6.4 -3.9-.1zM422.6 233.7l3.8-1.5 -2.4-6 -3.7 1.5zM413.3 209.8l3.5-1.4 -2.4-5.9 -3.4 1.3z" fill="#ead5a0" stroke="#ead5a0" stroke-width="0.35"/><path d="M271.2 195.9l3.3 .7 1.3-6.3 -3.2-.7zM274.5 196.6l3.3 .7 1.2-6.3 -3.2-.7zM277.8 197.3l3.3 .6 1.1-6.3 -3.2-.6z" fill="#005147" stroke="#005147" stroke-width="0.35"/><path d="M296.5 212.9l3.6 .4 .5-6.4 -3.4-.3z" fill="#543005" stroke="#543005" stroke-width="0.35"/><path d="M302.2 232.7l3.8 .3 .4-6.4 -3.7-.3zM309.6 239.6l4 .1 .1-6.4 -3.8-.1zM317.5 239.8l3.9 0 0-6.4 -3.8 0zM349 238.4l4-.4 -.8-6.4 -3.8 .4z" fill="#f0deb2" stroke="#f0deb2" stroke-width="0.35"/><path d="M306 233l3.9 .2 .3-6.4 -3.8-.2zM309.9 233.2l3.8 .1 .2-6.4 -3.7-.1zM408.4 218.5l3.6-1.4 -2.2-6 -3.5 1.3zM428.3 189.3l3.2-1.7 -3-5.6 -3.1 1.5z" fill="#f6e8c3" stroke="#f6e8c3" stroke-width="0.35"/><path d="M309.3 246l4.1 .1 .2-6.4 -4-.1zM321.4 239.8l4 0 -.1-6.4 -3.9 0zM349.7 244.8l4-.5 -.7-6.3 -4 .4zM353 238l3.9-.5 -.9-6.4 -3.8 .5zM357.7 243.8l4-.5 -.9-6.4 -3.9 .6zM356.9 237.5l3.9-.6 -.9-6.3 -3.9 .5zM434.6 186l3.2-1.7 -3.1-5.6 -3.1 1.7zM484 239.4l3.9-2.4 -3.5-5.6 -3.8 2.4z" fill="#f6ebd0" stroke="#f6ebd0" stroke-width="0.35"/><path d="M313.7 233.3l3.9 .1 .1-6.4 -3.8-.1z" fill="#dfc27d" stroke="#dfc27d" stroke-width="0.35"/></g>
<g fill="none" stroke="#000" stroke-width="1" stroke-linejoin="round"><use href="#ld"/><use href="#wt"/><use href="#bd" stroke-width="0.8"/><use href="#sc" stroke-width="0.8"/></g>
</g></g>
<path d="M93.21 222.78A338.09 338.09 0 0 0 549.69 222.78L400.96 60.24A117.78 117.78 0 0 1 241.94 60.24Z" fill="none" stroke="#000" stroke-width="1.15"/>
<path d="M110.99 203.35l3.39 3.11M531.91 203.35l-3.39 3.11M154.52 155.78l3.39 3.11M488.38 155.78l-3.39 3.11M197.67 108.62l3.39 3.11M445.23 108.62l-3.39 3.11M222.69 296.7l1.34 -4.4M287.04 86l-1.34 4.4M371.38 307.74l-0.68 -4.55M338.84 89.84l0.68 4.55M510.35 253.75l-2.57 -3.82M387.26 71.03l2.57 3.82" fill="none" stroke="#000" stroke-width="1"/>
<text transform="translate(105.98 198.76) rotate(42.46)" text-anchor="end" dy="0.36em" font-size="22" fill="#000">45°N</text>
<text transform="translate(149.5 151.19) rotate(42.46)" text-anchor="end" dy="0.36em" font-size="22" fill="#000">55°N</text>
<text transform="translate(192.66 104.03) rotate(42.46)" text-anchor="end" dy="0.36em" font-size="22" fill="#000">65°N</text>
<text transform="translate(86.14 232.44) rotate(42.46)" text-anchor="middle" dy="0.36em" font-size="20.7" fill="#000">160°W</text>
<text transform="translate(220.46 308.46) rotate(16.98)" text-anchor="middle" dy="0.36em" font-size="20.7" fill="#000">130°W</text>
<text transform="translate(374.42 319.31) rotate(-8.49)" text-anchor="middle" dy="0.36em" font-size="20.7" fill="#000">100°W</text>
<text transform="translate(518.08 262.89) rotate(-33.97)" text-anchor="middle" dy="0.36em" font-size="20.7" fill="#000">70°W</text>
<text x="321.3" y="55.3" text-anchor="middle" font-size="21.75" font-weight="bold" fill="#000">NEP anomalies (GCAS-extra)</text>
<g transform="translate(679.6 0)">
<g clip-path="url(#fc)">
<use href="#ld" fill="#bfbfbf"/><use href="#wt" fill="#fff"/>
<g shape-rendering="crispEdges"><path d="M213.1 129.1l2.3 1.6 3.6-5.3 -2.2-1.5zM216.7 139.2l2.5 1.6 3.3-5.5 -2.4-1.5zM212.5 151.7l2.7 1.6 3.2-5.5 -2.6-1.6zM215.8 146.2l2.6 1.6 3.3-5.5 -2.5-1.5zM215.2 153.3l2.6 1.5 3.2-5.5 -2.6-1.5zM238 114.5l2.2 1.3 3.2-5.7 -2-1.2zM214.7 160.4l2.8 1.5 3-5.6 -2.7-1.5zM229.3 146.5l2.6 1.4 2.9-5.7 -2.5-1.3zM232.3 140.9l2.5 1.3 2.9-5.7 -2.4-1.3zM228.9 153.6l2.7 1.3 2.8-5.7 -2.5-1.3zM217.5 183.5l3.1 1.6 2.7-5.8 -3-1.5zM228.8 160.7l2.8 1.3 2.7-5.8 -2.7-1.3zM231.6 154.9l2.7 1.3 2.8-5.7 -2.7-1.3zM226.1 173.5l2.9 1.4 2.7-5.8 -2.9-1.3zM215.7 203.9l3.5 1.6 2.6-5.9 -3.4-1.5zM223.7 186.5l3.2 1.4 2.6-5.8 -3.1-1.4zM229 174.9l3 1.4 2.6-5.9 -2.9-1.3zM250.4 128.3l2.3 1 2.6-5.9 -2.2-1zM232 176.3l3.1 1.3 2.4-5.9 -2.9-1.3zM237.2 164.6l2.8 1.2 2.5-5.9 -2.7-1.2zM247.5 141.1l2.5 1.1 2.5-5.9 -2.4-1.1zM250.1 135.2l2.4 1.1 2.5-6 -2.3-1zM252.7 129.3l2.3 1 2.6-5.9 -2.3-1zM225.1 201.1l3.4 1.4 2.4-5.9 -3.3-1.4zM237.5 171.7l3 1.2 2.4-5.9 -2.9-1.2zM255 137.3l2.4 1 2.3-6.1 -2.3-.9zM259.8 139.2l2.5 .9 2.2-6.1 -2.4-.9zM273.6 130.2l2.3 .7 1.8-6.3 -2.3-.6zM251.8 243.9l4 1 1.5-6.3 -3.9-1zM282.4 145.9l2.6 .6 1.3-6.4 -2.4-.5zM266.6 234.1l3.8 .8 1.3-6.3 -3.8-.8zM283.7 152.8l2.6 .5 1.3-6.3 -2.6-.5zM285 146.5l2.6 .5 1.2-6.3 -2.5-.6zM282.7 172.2l2.9 .5 1.1-6.3 -2.8-.5zM283.9 165.9l2.8 .5 1.2-6.3 -2.8-.5zM285.1 159.6l2.8 .5 1.1-6.3 -2.7-.5zM286.3 153.3l2.7 .5 1.2-6.3 -2.6-.5zM288.6 173.2l2.9 .5 1-6.3 -2.9-.5zM289.6 166.9l2.9 .5 .9-6.4 -2.8-.4zM302.2 232.7l3.8 .3 .4-6.4 -3.7-.3zM306 233l3.9 .2 .3-6.4 -3.8-.2zM310.2 226.8l3.7 .1 .2-6.4 -3.6-.1zM321.4 182.3l3.1 0 0-6.4 -3.1 0zM324.5 182.3l3.1-.1 -.1-6.4 -3 .1zM327.6 182.2l3.1-.1 -.2-6.4 -3 .1zM333.6 246l4-.2 -.4-6.4 -3.9 .2zM332.4 220.4l3.7-.2 -.4-6.4 -3.5 .2zM331 188.5l3.2-.2 -.4-6.3 -3.1 .1zM330.7 182.1l3.1-.1 -.3-6.4 -3 .1zM330.5 175.7l3-.1 -.4-6.4 -2.9 .1zM338 252.2l4.1-.3 -.4-6.4 -4.1 .3zM340.7 232.7l3.8-.3 -.5-6.4 -3.8 .3zM336.4 175.4l3-.3 -.5-6.3 -2.9 .2zM346.3 251.6l4.1-.4 -.7-6.4 -4 .4zM349.7 244.8l4-.5 -.7-6.3 -4 .4zM393.2 270l4.3-1.1 -1.6-6.3 -4.3 1.1zM397.3 235.5l3.9-1.2 -1.9-6.1 -3.8 1.1zM424 226.2l3.8-1.5 -2.5-5.9 -3.7 1.5zM439.3 240.8l3.9-1.8 -2.7-5.9 -3.8 1.8zM436.7 234.9l3.8-1.8 -2.7-5.8 -3.7 1.7zM428.9 217.2l3.6-1.6 -2.7-5.8 -3.5 1.5zM443.2 239l4-1.8 -2.8-5.9 -3.9 1.8zM451.1 235.3l3.8-2 -2.9-5.7 -3.8 1.9z" fill="#a4dcd3" stroke="#a4dcd3" stroke-width="0.35"/><path d="M211.8 136.1l2.5 1.6 3.5-5.4 -2.4-1.6zM236 128.3l2.3 1.2 3.1-5.7 -2.3-1.2zM211.3 180.4l3.1 1.6 2.9-5.7 -3-1.6zM214.3 174.7l3 1.6 2.9-5.7 -2.9-1.5zM222.6 207l3.5 1.4 2.4-5.9 -3.4-1.4zM325.2 227l3.8-.1 -.2-6.4 -3.7 .1zM329.2 233.3l3.8-.1 -.3-6.4 -3.7 .1zM329 226.9l3.7-.1 -.3-6.4 -3.6 .1zM342.1 251.9l4.2-.3 -.6-6.4 -4 .3zM348.4 232l3.8-.4 -.7-6.4 -3.8 .5zM358.6 250.2l4.1-.6 -1-6.3 -4 .5zM357.7 243.8l4-.5 -.9-6.4 -3.9 .6zM367.5 229.3l3.7-.7 -1.2-6.3 -3.7 .7zM366.3 223l3.7-.7 -1.2-6.3 -3.6 .7zM413 244.1l4-1.4 -2.2-6.1 -3.9 1.4zM407.6 205.1l3.4-1.3 -2.3-5.9 -3.4 1.3zM434.3 263.9l4.3-1.7 -2.4-6 -4.2 1.7zM411 203.8l3.4-1.3 -2.4-5.9 -3.3 1.3zM425.3 218.8l3.6-1.6 -2.6-5.9 -3.5 1.6zM410.3 183.5l3.1-1.4 -2.5-5.8 -3.1 1.3zM418.6 193.8l3.2-1.5 -2.6-5.8 -3.2 1.4zM413.4 182.1l3.1-1.4 -2.6-5.8 -3 1.4zM440.5 233.1l3.9-1.8 -2.8-5.8 -3.8 1.8zM437.8 227.3l3.8-1.8 -2.8-5.8 -3.6 1.7zM435.2 221.4l3.6-1.7 -2.7-5.8 -3.6 1.7zM427.2 203.9l3.4-1.5 -2.8-5.8 -3.3 1.5zM421.8 192.3l3.3-1.5 -2.8-5.7 -3.1 1.4zM438.8 219.7l3.7-1.8 -2.9-5.7 -3.5 1.7zM433.3 208.1l3.5-1.7 -2.9-5.7 -3.3 1.7zM430.6 202.4l3.3-1.7 -2.8-5.7 -3.3 1.6zM433.9 200.7l3.4-1.7 -2.9-5.7 -3.3 1.7zM431.1 195l3.3-1.7 -2.9-5.7 -3.2 1.7zM422.6 177.8l3-1.5 -2.9-5.7 -2.9 1.5zM449 221.9l3.7-2 -3-5.6 -3.6 1.8zM443.2 210.4l3.5-1.8 -3.1-5.7 -3.4 1.8zM452.7 219.9l3.6-1.9 -3.1-5.7 -3.5 2zM431.6 180.4l3.1-1.7 -3.1-5.6 -3 1.6zM491.8 210.8l3.5-2.6 -3.8-5.2 -3.4 2.5zM488.1 205.5l3.4-2.5 -3.8-5.2 -3.4 2.5zM495.3 208.2l3.5-2.6 -3.9-5.1 -3.4 2.5zM498.2 197.9l3.3-2.7 -4-5 -3.3 2.6z" fill="#d2ede9" stroke="#d2ede9" stroke-width="0.35"/><path d="M215.4 130.7l2.4 1.6 3.5-5.4 -2.3-1.5zM217.8 132.3l2.3 1.5 3.5-5.4 -2.3-1.5zM218.4 147.8l2.6 1.5 3.2-5.6 -2.5-1.4zM236.9 121.4l2.2 1.2 3.2-5.7 -2.1-1.1zM226.3 152.2l2.6 1.4 3-5.7 -2.6-1.4zM226 159.3l2.8 1.4 2.8-5.8 -2.7-1.3zM223.1 172.1l3 1.4 2.7-5.7 -2.9-1.4zM217.8 190.8l3.3 1.5 2.6-5.8 -3.1-1.4zM234.3 156.2l2.7 1.3 2.7-5.8 -2.6-1.2zM218.4 198.1l3.4 1.5 2.5-5.8 -3.2-1.5zM245 140l2.5 1.1 2.6-5.9 -2.4-1zM208.8 229l3.8 1.6 2.5-5.9 -3.7-1.6zM234.6 170.4l2.9 1.3 2.5-5.9 -2.8-1.2zM226.1 208.4l3.5 1.4 2.3-6 -3.4-1.3zM257.4 138.3l2.4 .9 2.3-6.1 -2.4-.9zM262.3 140.1l2.5 .8 2-6.1 -2.3-.8zM267.9 148.7l2.6 .8 1.8-6.2 -2.5-.8zM243.8 241.7l4 1.1 1.7-6.2 -3.9-1.1zM274.1 137.1l2.4 .7 1.7-6.3 -2.3-.6zM251.2 230.4l3.8 1 1.6-6.2 -3.7-1zM274.8 144l2.5 .7 1.7-6.3 -2.5-.6zM250.2 250.1l4.1 1 1.5-6.2 -4-1zM258.4 252.1l4.2 .9 1.3-6.3 -4-.9zM259.9 245.8l4 .9 1.3-6.3 -3.9-.9zM289 153.8l2.7 .5 1-6.4 -2.5-.4zM290.6 160.6l2.8 .4 1-6.3 -2.7-.4zM294.5 174.1l3 .4 .7-6.3 -2.8-.4zM298.9 226l3.8 .3 .4-6.4 -3.6-.3zM315.4 175.8l3 .1 .1-6.4 -2.9-.1zM321.4 214.2l3.6 0 -.1-6.4 -3.5 .1zM321.4 188.7l3.2 0 -.1-6.4 -3.1 0zM321.4 175.9l3.1 0 -.1-6.4 -3 0zM324.6 188.7l3.2-.1 -.2-6.4 -3.1 .1zM324.5 175.9l3-.1 -.2-6.4 -2.9 .1zM327.5 175.8l3-.1 -.3-6.4 -2.9 .1zM333.8 182l3.1-.2 -.5-6.4 -2.9 .2zM359.5 256.6l4.2-.6 -1-6.4 -4.1 .6zM353.5 212.1l3.5-.5 -.9-6.3 -3.5 .5zM385.9 258.4l4.2-1 -1.5-6.3 -4.1 1zM395.9 262.6l4.3-1.1 -1.7-6.2 -4.2 1.1zM406.3 266.6l4.3-1.3 -1.9-6.2 -4.2 1.2zM431.3 244.2l4-1.7 -2.5-5.9 -3.9 1.6zM427.8 224.7l3.7-1.6 -2.6-5.9 -3.6 1.6zM415.3 195.2l3.3-1.4 -2.6-5.9 -3.2 1.4z" fill="#92d4ca" stroke="#92d4ca" stroke-width="0.35"/><path d="M219.2 140.8l2.5 1.5 3.2-5.6 -2.4-1.4zM222.5 135.3l2.4 1.4 3.3-5.5 -2.3-1.4zM211.4 187.6l3.2 1.7 2.9-5.8 -3.1-1.5zM234.8 142.2l2.5 1.2 2.8-5.7 -2.4-1.2zM214.6 189.3l3.2 1.5 2.8-5.7 -3.1-1.6zM220.3 177.8l3 1.5 2.8-5.8 -3-1.4zM225.9 166.4l2.9 1.4 2.8-5.8 -2.8-1.3zM220.6 185.1l3.1 1.4 2.7-5.8 -3.1-1.4zM248.1 127.2l2.3 1.1 2.7-5.9 -2.2-1zM221.1 192.3l3.2 1.5 2.6-5.9 -3.2-1.4zM234.4 163.3l2.8 1.3 2.6-5.9 -2.8-1.2zM221.8 199.6l3.3 1.5 2.5-5.9 -3.3-1.4zM226.9 187.9l3.2 1.4 2.5-5.8 -3.1-1.4zM235.1 177.6l3 1.2 2.4-5.9 -3-1.2zM233.3 190.7l3.2 1.2 2.3-5.9 -3.1-1.3zM235.7 184.7l3.1 1.3 2.4-6 -3.1-1.2zM285.6 172.7l3 .5 1-6.3 -2.9-.5zM286.7 166.4l2.9 .5 1-6.3 -2.7-.5zM287.9 160.1l2.7 .5 1.1-6.3 -2.7-.5zM287.7 224.8l3.7 .4 .8-6.3 -3.6-.5zM295.2 225.7l3.7 .3 .6-6.4 -3.7-.3zM302.7 226.3l3.7 .3 .4-6.4 -3.7-.3zM313.7 233.3l3.9 .1 .1-6.4 -3.8-.1zM313.9 226.9l3.8 .1 .1-6.4 -3.7-.1zM321.4 239.8l4 0 -.1-6.4 -3.9 0zM321.4 227l3.8 0 -.1-6.4 -3.7 0zM325.5 246.2l4-.1 -.2-6.4 -3.9 .1zM329.5 246.1l4.1-.1 -.3-6.4 -4 .1zM327.8 188.6l3.2-.1 -.3-6.4 -3.1 .1zM337.2 239.4l4-.3 -.5-6.4 -3.8 .3zM336.9 233l3.8-.3 -.5-6.4 -3.7 .3zM340.2 226.3l3.8-.3 -.6-6.4 -3.6 .3zM345.7 245.2l4-.4 -.7-6.4 -3.9 .4zM353.7 244.3l4-.5 -.8-6.3 -3.9 .5zM364.6 262.4l4.3-.7 -1.1-6.4 -4.1 .7zM359.9 230.6l3.8-.6 -1.1-6.3 -3.7 .5zM366.8 249l4.1-.7 -1.2-6.4 -4 .7zM365.7 242.6l4-.7 -1.1-6.3 -3.9 .7zM403 240.5l4-1.2 -2-6.2 -3.8 1.2zM407 239.3l3.9-1.3 -2-6.1 -3.9 1.2zM417.9 221.7l3.7-1.4 -2.4-6 -3.6 1.5zM415.6 215.8l3.6-1.5 -2.4-5.9 -3.5 1.4zM407.2 184.7l3.1-1.2 -2.5-5.9 -3 1.2zM430.3 230.6l3.8-1.6 -2.6-5.9 -3.7 1.6zM434.1 229l3.7-1.7 -2.6-5.9 -3.7 1.7zM426.3 211.3l3.5-1.5 -2.6-5.9 -3.5 1.6zM432.5 215.6l3.6-1.7 -2.8-5.8 -3.5 1.7zM449.9 243l4-1.9 -2.8-5.8 -3.9 1.9zM444.4 231.3l3.8-1.8 -2.9-5.8 -3.7 1.8zM427.8 196.6l3.3-1.6 -2.8-5.7 -3.2 1.5zM452 227.6l3.7-2 -3-5.7 -3.7 2zM502.2 203l3.4-2.7 -4.1-5.1 -3.3 2.7z" fill="#b5e3dc" stroke="#b5e3dc" stroke-width="0.35"/><path d="M227.4 138.2l2.4 1.3 3.1-5.6 -2.4-1.3zM229.8 139.5l2.5 1.4 3-5.7 -2.4-1.3zM211.8 195l3.3 1.6 2.7-5.8 -3.2-1.5zM219.2 205.5l3.4 1.5 2.5-5.9 -3.3-1.5zM224.3 193.8l3.3 1.4 2.5-5.9 -3.2-1.4zM239.8 158.7l2.7 1.2 2.5-5.9 -2.6-1.1zM244.9 147l2.6 1.1 2.5-5.9 -2.5-1.1zM230.1 189.3l3.2 1.4 2.4-6 -3.1-1.2zM272.3 143.3l2.5 .7 1.7-6.2 -2.4-.7zM291.4 225.2l3.8 .5 .6-6.4 -3.6-.4zM329.3 239.7l4-.1 -.3-6.4 -3.8 .1zM333 233.2l3.9-.2 -.4-6.4 -3.8 .2zM350.4 251.2l4.1-.5 -.8-6.4 -4 .5zM354.5 250.7l4.1-.5 -.9-6.4 -4 .5zM351.5 225.2l3.7-.4 -.9-6.4 -3.6 .5zM370.9 248.3l4-.8 -1.2-6.3 -4 .7zM368.6 235.6l3.9-.7 -1.3-6.3 -3.7 .7zM402.7 213.7l3.6-1.3 -2.2-6 -3.4 1.2zM400.7 207.6l3.4-1.2 -2.1-6 -3.4 1.1zM427.3 245.8l4-1.6 -2.4-6 -4 1.5zM426.4 232.2l3.9-1.6 -2.5-5.9 -3.8 1.5zM420.3 207l3.4-1.5 -2.6-5.9 -3.3 1.5zM444.5 252.7l4.1-1.9 -2.7-5.9 -4 1.8zM431.5 223.1l3.7-1.7 -2.7-5.8 -3.6 1.6zM419.2 186.5l3.1-1.4 -2.7-5.8 -3.1 1.4zM441.6 225.5l3.7-1.8 -2.8-5.8 -3.7 1.8zM436.1 213.9l3.5-1.7 -2.8-5.8 -3.5 1.7zM419.6 179.3l3-1.5 -2.8-5.7 -3 1.4zM448.2 229.5l3.8-1.9 -3-5.7 -3.7 1.8zM445.3 223.7l3.7-1.8 -2.9-5.8 -3.6 1.8zM439.6 212.2l3.6-1.8 -3-5.7 -3.4 1.7zM436.8 206.4l3.4-1.7 -2.9-5.7 -3.4 1.7zM440.2 204.7l3.4-1.8 -3-5.6 -3.3 1.7z" fill="#c7eae5" stroke="#c7eae5" stroke-width="0.35"/><path d="M233.7 127l2.3 1.3 3.1-5.7 -2.2-1.2zM240.2 115.8l2.1 1.1 3.1-5.6 -2-1.2zM217.5 161.9l2.8 1.6 3-5.7 -2.8-1.5zM220.5 156.3l2.8 1.5 3-5.6 -2.7-1.4zM220.3 163.5l2.8 1.4 2.9-5.6 -2.7-1.5zM245.9 126.1l2.2 1.1 2.8-5.8 -2.2-1.1zM212.3 202.4l3.4 1.5 2.7-5.8 -3.3-1.5zM231.6 162l2.8 1.3 2.6-5.8 -2.7-1.3zM242.6 138.9l2.4 1.1 2.7-5.8 -2.3-1.1zM252.5 136.3l2.5 1 2.4-6 -2.4-1zM238.1 178.8l3.1 1.2 2.3-5.9 -3-1.2zM221.9 241.2l4 1.5 2.2-6.1 -3.9-1.4zM237.9 233.1l3.8 1.2 1.9-6.1 -3.8-1.2zM247.8 242.8l4 1.1 1.6-6.3 -3.9-1zM254.3 251.1l4.1 1 1.5-6.3 -4.1-.9zM255.8 244.9l4.1 .9 1.4-6.3 -4-.9zM279.9 145.3l2.5 .6 1.5-6.3 -2.5-.6zM263.9 246.7l4.1 .8 1.2-6.3 -4-.8zM279.7 171.6l3 .6 1.2-6.3 -2.9-.6zM291.7 154.3l2.7 .4 .9-6.4 -2.6-.4zM296.5 212.9l3.6 .4 .5-6.4 -3.4-.3zM300.5 174.8l3 .3 .5-6.3 -2.9-.3zM303.5 175.1l3 .3 .4-6.4 -2.9-.2zM306.4 226.6l3.8 .2 .3-6.4 -3.7-.2zM309.4 175.6l3 .1 .3-6.4 -2.9-.1zM312.4 175.7l3 .1 .2-6.4 -2.9-.1zM313.6 239.7l3.9 .1 .1-6.4 -3.9-.1zM314.1 220.5l3.7 .1 .1-6.4 -3.6-.1zM318.4 175.9l3 0 0-6.4 -2.9 0zM328.8 220.5l3.6-.1 -.2-6.4 -3.6 .1zM328.6 214.1l3.6-.1 -.3-6.4 -3.5 .2zM328 195l3.3-.1 -.3-6.4 -3.2 .1zM335.3 207.4l3.5-.2 -.5-6.4 -3.3 .3zM335 201.1l3.3-.3 -.4-6.3 -3.3 .2zM334.2 188.3l3.2-.2 -.5-6.3 -3.1 .2zM339.8 219.9l3.6-.3 -.6-6.3 -3.5 .3zM339.3 213.6l3.5-.3 -.5-6.4 -3.5 .3zM342.8 213.3l3.6-.4 -.7-6.3 -3.4 .3zM376.2 253.8l4.1-.8 -1.3-6.3 -4.1 .8zM384.5 252.1l4.1-1 -1.5-6.2 -4.1 .9zM391.6 263.7l4.3-1.1 -1.6-6.2 -4.2 1zM390.1 257.4l4.2-1 -1.6-6.3 -4.1 1zM399.1 241.7l3.9-1.2 -1.8-6.2 -3.9 1.2zM406.8 252.9l4.1-1.3 -1.9-6.2 -4.1 1.3zM435.3 242.5l4-1.7 -2.6-5.9 -3.9 1.7zM447.2 237.2l3.9-1.9 -2.9-5.8 -3.8 1.8z" fill="#80cdc1" stroke="#80cdc1" stroke-width="0.35"/><path d="M214.4 182l3.1 1.5 2.8-5.7 -3-1.5zM317.7 227l3.7 0 0-6.4 -3.6 0zM410.9 251.6l4.2-1.4 -2.1-6.1 -4 1.3zM423.5 261l4.2-1.5 -2.2-6.1 -4.2 1.5zM423.2 247.3l4.1-1.5 -2.4-6.1 -3.9 1.5zM437.8 248.5l4.1-1.8 -2.6-5.9 -4 1.7zM460.4 200.8l3.3-2.1 -3.4-5.5 -3.3 2.1zM460 185.8l3.2-2.1 -3.6-5.3 -3 2.1zM509.7 205.3l3.4-2.8 -4.1-5 -3.4 2.8z" fill="#f5f5f5" stroke="#f5f5f5" stroke-width="0.35"/><path d="M245.4 133.1l2.3 1.1 2.7-5.9 -2.3-1.1zM241.2 180l3 1.2 2.2-6 -2.9-1.1zM228.6 223.1l3.8 1.4 2.1-6 -3.6-1.4zM248.7 169.2l2.9 1.1 2.1-6 -2.8-1zM240.2 213.7l3.6 1.1 1.9-6.1 -3.5-1.1zM246.3 195.5l3.3 1.1 2-6.1 -3.2-1zM263.3 154l2.7 .8 1.9-6.1 -2.6-.8zM251 217l3.6 1 1.7-6.1 -3.6-1zM254.5 204.7l3.4 1 1.7-6.1 -3.3-1zM252.9 224.2l3.7 1 1.6-6.2 -3.6-1zM272.6 189.6l3.2 .7 1.3-6.2 -3.1-.7zM274.5 196.6l3.3 .7 1.2-6.3 -3.2-.7zM275.8 190.3l3.2 .7 1.2-6.3 -3.1-.6zM275.3 209.8l3.5 .6 1.2-6.2 -3.5-.7zM277.8 197.3l3.3 .6 1.1-6.3 -3.2-.6zM284.4 198.4l3.4 .6 .9-6.3 -3.2-.5zM297.2 206.6l3.4 .3 .6-6.3 -3.4-.4zM298.5 193.9l3.3 .3 .5-6.3 -3.2-.3zM301.8 194.2l3.2 .3 .5-6.4 -3.2-.2zM311 207.6l3.5 .2 .2-6.4 -3.4-.2zM311.6 194.9l3.3 .1 .2-6.4 -3.2-.1zM408.9 231.9l3.8-1.4 -2.2-6 -3.7 1.3zM417 242.7l4-1.5 -2.3-6 -3.9 1.4zM422.6 233.7l3.8-1.5 -2.4-6 -3.7 1.5z" fill="#005147" stroke="#005147" stroke-width="0.35"/><path d="M210.4 215.6l3.6 1.6 2.6-5.9 -3.5-1.5zM211.4 223.1l3.7 1.6 2.5-5.9 -3.6-1.6zM216.6 211.3l3.5 1.6 2.5-5.9 -3.4-1.5zM215.1 224.7l3.8 1.5 2.4-5.9 -3.7-1.5zM217.6 218.8l3.7 1.5 2.4-6 -3.6-1.4zM221.3 220.3l3.7 1.4 2.3-5.9 -3.6-1.5zM234 231.9l3.9 1.2 1.9-6.1 -3.7-1.2zM236.1 225.8l3.7 1.2 2-6.1 -3.7-1.2zM245.6 235.5l3.9 1.1 1.7-6.2 -3.8-1.1zM247.4 229.3l3.8 1.1 1.7-6.2 -3.7-1zM249.5 236.6l3.9 1 1.6-6.2 -3.8-1zM255 231.4l3.8 1 1.6-6.3 -3.8-.9zM258.8 232.4l3.9 .9 1.4-6.3 -3.7-.9zM292.8 186.8l3.2 .4 .7-6.3 -3-.4zM293.7 180.5l3 .4 .8-6.4 -3-.4zM297.5 174.5l3 .3 .6-6.3 -2.9-.3zM299.8 181.2l3.1 .3 .6-6.4 -3-.3zM306.5 175.4l2.9 .2 .4-6.4 -2.9-.2zM310.5 220.4l3.6 .1 .2-6.4 -3.6-.1zM324.9 207.8l3.5 0 -.2-6.4 -3.4 0zM324.7 195.1l3.3-.1 -.2-6.4 -3.2 .1zM334.6 194.7l3.3-.2 -.5-6.4 -3.2 .2zM343.4 219.6l3.7-.3 -.7-6.4 -3.6 .4zM381.7 259.3l4.2-.9 -1.4-6.3 -4.2 .9zM398.5 255.3l4.2-1.2 -1.8-6.2 -4.1 1.1zM402.7 254.1l4.1-1.2 -1.9-6.2 -4 1.2zM400.9 247.9l4-1.2 -1.9-6.2 -3.9 1.2zM442.5 217.9l3.6-1.8 -2.9-5.7 -3.6 1.8zM434.6 186l3.2-1.7 -3.1-5.6 -3.1 1.7z" fill="#5ab2a8" stroke="#5ab2a8" stroke-width="0.35"/><path d="M213.1 209.8l3.5 1.5 2.6-5.8 -3.5-1.6zM218 239.7l3.9 1.5 2.3-6 -3.9-1.5zM239.8 227l3.8 1.2 1.9-6.1 -3.7-1.2zM238 246.7l4 1.2 1.8-6.2 -3.9-1.2zM239.9 240.5l3.9 1.2 1.8-6.2 -3.9-1.2zM243.6 228.2l3.8 1.1 1.8-6.1 -3.7-1.1zM246.1 249l4.1 1.1 1.6-6.2 -4-1.1zM253.4 237.6l3.9 1 1.5-6.2 -3.8-1zM277.3 144.7l2.6 .6 1.5-6.3 -2.4-.6zM262.7 233.3l3.9 .8 1.3-6.3 -3.8-.8zM276.8 170.9l2.9 .7 1.3-6.3 -2.8-.6zM267.9 227.8l3.8 .8 1.2-6.3 -3.7-.7zM287.5 179.6l3.1 .4 .9-6.3 -2.9-.5zM291.5 173.7l3 .4 .9-6.3 -2.9-.4zM292.5 167.4l2.9 .4 .8-6.4 -2.8-.4zM309.3 246l4.1 .1 .2-6.4 -4-.1zM309.9 233.2l3.8 .1 .2-6.4 -3.7-.1zM317.9 214.2l3.5 0 0-6.3 -3.4-.1zM321.4 220.6l3.7 0 -.1-6.4 -3.6 0zM325.1 220.6l3.7-.1 -.2-6.4 -3.6 .1zM325 214.2l3.6-.1 -.2-6.3 -3.5 0zM328.4 207.8l3.5-.2 -.3-6.4 -3.4 .2zM332.2 214l3.5-.2 -.4-6.4 -3.4 .2zM331.9 207.6l3.4-.2 -.3-6.3 -3.4 .1zM331.6 201.2l3.4-.1 -.4-6.4 -3.3 .2zM331.3 194.9l3.3-.2 -.4-6.4 -3.2 .2zM335.7 213.8l3.6-.2 -.5-6.4 -3.5 .2zM333.5 175.6l2.9-.2 -.4-6.4 -2.9 .2zM338.8 207.2l3.5-.3 -.6-6.3 -3.4 .2zM342.3 206.9l3.4-.3 -.6-6.4 -3.4 .4zM346.4 212.9l3.5-.4 -.7-6.3 -3.5 .4zM349.9 212.5l3.6-.4 -.9-6.3 -3.4 .4zM357 211.6l3.5-.6 -1-6.3 -3.4 .6zM380.3 253l4.2-.9 -1.5-6.3 -4 .9zM387.3 264.7l4.3-1 -1.5-6.3 -4.2 1zM397.5 268.9l4.4-1.1 -1.7-6.3 -4.3 1.1zM394.3 256.4l4.2-1.1 -1.7-6.3 -4.1 1.1zM400.2 261.5l4.3-1.2 -1.8-6.2 -4.2 1.2zM396.8 249l4.1-1.1 -1.8-6.2 -4 1.1zM404.5 260.3l4.2-1.2 -1.9-6.2 -4.1 1.2zM404.9 246.7l4.1-1.3 -2-6.1 -4 1.2zM432.8 236.6l3.9-1.7 -2.6-5.9 -3.8 1.6z" fill="#6dc0b4" stroke="#6dc0b4" stroke-width="0.35"/><path d="M247.7 134.2l2.4 1 2.6-5.9 -2.3-1zM268.7 155.6l2.7 .8 1.7-6.2 -2.6-.7zM278.2 164.7l2.8 .6 1.4-6.2 -2.8-.6zM285.5 192.2l3.2 .5 .9-6.3 -3.1-.5zM297.8 200.2l3.4 .4 .6-6.4 -3.3-.3zM300.6 206.9l3.5 .3 .5-6.4 -3.4-.2zM306 181.8l3.1 .2 .3-6.4 -2.9-.2zM308.3 194.7l3.3 .2 .3-6.4 -3.2-.2zM315.1 188.6l3.2 .1 .1-6.4 -3.1-.1zM414.8 236.6l3.9-1.4 -2.2-6 -3.8 1.3zM428.3 189.3l3.2-1.7 -3-5.6 -3.1 1.5z" fill="#015c52" stroke="#015c52" stroke-width="0.35"/><path d="M214 217.2l3.6 1.6 2.5-5.9 -3.5-1.6zM212.6 230.6l3.9 1.6 2.4-6 -3.8-1.5zM247.5 148.1l2.6 1.1 2.4-5.9 -2.5-1.1zM247.7 155.1l2.7 1.1 2.3-6 -2.6-1zM250.4 156.2l2.7 1.1 2.3-6.1 -2.7-1zM258 152.2l2.7 .9 2-6.1 -2.5-.9zM260.7 153.1l2.6 .9 2-6.1 -2.6-.9zM265.2 168l2.8 .8 1.7-6.2 -2.8-.8zM269.7 162.6l2.8 .7 1.6-6.2 -2.7-.7zM271.4 156.4l2.7 .7 1.6-6.2 -2.6-.7zM257.3 238.6l4 .9 1.4-6.2 -3.9-.9zM275.4 164l2.8 .7 1.4-6.2 -2.7-.7zM281 152.2l2.7 .6 1.3-6.3 -2.6-.6zM272.9 222.3l3.7 .7 1.1-6.3 -3.6-.7zM300.1 213.3l3.5 .3 .5-6.4 -3.5-.3zM310.7 214l3.6 .1 .2-6.3 -3.5-.2zM312.2 182.1l3.1 .1 .1-6.4 -3-.1zM321.4 201.5l3.4-.1 -.1-6.3 -3.3 0zM391.1 243.9l4-1.1 -1.7-6.2 -3.9 1zM395.1 242.8l4-1.1 -1.8-6.2 -3.9 1.1z" fill="#288b83" stroke="#288b83" stroke-width="0.35"/><path d="M220.1 212.9l3.6 1.4 2.4-5.9 -3.5-1.4zM245 154l2.7 1.1 2.4-5.9 -2.6-1.1zM218.9 226.2l3.7 1.5 2.4-6 -3.7-1.4zM223.7 214.3l3.6 1.5 2.3-6 -3.5-1.4zM242.9 167l2.9 1.1 2.3-5.9 -2.8-1.1zM250.1 149.2l2.6 1 2.4-5.9 -2.6-1zM227.3 215.8l3.6 1.3 2.2-6 -3.5-1.3zM255.1 144.3l2.5 .9 2.2-6 -2.4-.9zM250.9 163.3l2.8 1 2.2-6.1 -2.8-.9zM255.4 151.2l2.6 1 2.2-6.1 -2.6-.9zM253.7 164.3l2.9 1 2-6.1 -2.7-1zM255.9 158.2l2.7 1 2.1-6.1 -2.7-.9zM260.2 146.1l2.5 .9 2.1-6.1 -2.5-.8zM241.7 234.3l3.9 1.2 1.8-6.2 -3.8-1.1zM268 168.8l2.9 .7 1.6-6.2 -2.8-.7zM265.2 240.4l4 .8 1.2-6.3 -3.8-.8zM296.7 180.9l3.1 .3 .7-6.4 -3-.3zM307.2 213.8l3.5 .2 .3-6.4 -3.4-.2zM318.1 201.4l3.3 .1 0-6.4 -3.2 0zM328.2 201.4l3.4-.2 -.3-6.3 -3.3 .1zM388.6 251.1l4.1-1 -1.6-6.2 -4 1zM387.1 244.9l4-1 -1.6-6.3 -3.9 1zM392.7 250.1l4.1-1.1 -1.7-6.2 -4 1.1zM446.1 216.1l3.6-1.8 -3-5.7 -3.5 1.8zM449.7 214.3l3.5-2 -3.1-5.6 -3.4 1.9zM446.7 208.6l3.4-1.9 -3.1-5.6 -3.4 1.8zM478.3 257.8l4.2-2.3 -3.2-5.7 -4.2 2.3z" fill="#48a49c" stroke="#48a49c" stroke-width="0.35"/><path d="M240 165.8l2.9 1.2 2.4-5.9 -2.8-1.2zM224.2 235.2l3.9 1.4 2.1-6.1 -3.8-1.3zM226.4 229.2l3.8 1.3 2.2-6 -3.8-1.4zM230.2 230.5l3.8 1.4 2.1-6.1 -3.7-1.3zM261.4 160.1l2.7 .9 1.9-6.2 -2.7-.8zM262.3 167.1l2.9 .9 1.7-6.2 -2.8-.8zM266.9 161.8l2.8 .8 1.7-6.2 -2.7-.8zM274.1 157.1l2.8 .7 1.5-6.2 -2.7-.7zM281 165.3l2.9 .6 1.2-6.3 -2.7-.5zM280.3 223.7l3.7 .5 .9-6.3 -3.6-.6zM294.5 199.9l3.3 .3 .7-6.3 -3.3-.4zM295.2 193.5l3.3 .4 .6-6.3 -3.1-.4zM296 187.2l3.1 .4 .7-6.4 -3.1-.3zM302.3 187.9l3.2 .2 .5-6.3 -3.1-.3zM305 194.5l3.3 .2 .4-6.4 -3.2-.2zM307.6 207.4l3.4 .2 .3-6.4 -3.4-.1zM307.9 201.1l3.4 .1 .3-6.3 -3.3-.2zM308.7 188.3l3.2 .2 .3-6.4 -3.1-.1zM309.1 182l3.1 .1 .2-6.4 -3-.1zM311.3 201.2l3.4 .2 .2-6.4 -3.3-.1z" fill="#0e726a" stroke="#0e726a" stroke-width="0.35"/><path d="M250 142.2l2.5 1.1 2.5-6 -2.5-1zM225.9 242.7l4 1.4 2.1-6.1 -3.9-1.4zM228.1 236.6l3.9 1.4 2-6.1 -3.8-1.4zM235.9 239.3l4 1.2 1.8-6.2 -3.8-1.2zM264.1 161l2.8 .8 1.8-6.2 -2.7-.8zM273.9 170.3l2.9 .6 1.4-6.2 -2.8-.7zM301.2 200.6l3.4 .2 .4-6.3 -3.2-.3zM304.1 207.2l3.5 .2 .3-6.3 -3.3-.3zM304.6 200.8l3.3 .3 .4-6.4 -3.3-.2zM305.5 188.1l3.2 .2 .4-6.3 -3.1-.2zM311.9 188.5l3.2 .1 .2-6.4 -3.1-.1zM314.5 207.8l3.5 0 .1-6.4 -3.4 0zM314.7 201.4l3.4 0 .1-6.3 -3.3-.1zM314.9 195l3.3 .1 .1-6.4 -3.2-.1z" fill="#01665e" stroke="#01665e" stroke-width="0.35"/><path d="M216.5 232.2l3.8 1.5 2.3-6 -3.7-1.5zM245.3 161.1l2.8 1.1 2.3-6 -2.7-1.1zM252.5 143.3l2.6 1 2.3-6 -2.4-1zM220.3 233.7l3.9 1.5 2.2-6 -3.8-1.5zM252.7 150.2l2.7 1 2.2-6 -2.5-.9zM253.1 157.3l2.8 .9 2.1-6 -2.6-1zM262.7 147l2.6 .9 2-6.1 -2.5-.9zM259.4 166.2l2.9 .9 1.8-6.1 -2.7-.9zM265.3 147.9l2.6 .8 1.9-6.2 -2.5-.7zM270.5 149.5l2.6 .7 1.7-6.2 -2.5-.7zM270.9 169.5l3 .8 1.5-6.3 -2.9-.7zM261.3 239.5l3.9 .9 1.4-6.3 -3.9-.8zM290.6 180l3.1 .5 .8-6.4 -3-.4zM291.1 199.4l3.4 .5 .7-6.4 -3.2-.4zM293.7 206.2l3.5 .4 .6-6.4 -3.3-.3zM302.9 181.5l3.1 .3 .5-6.4 -3-.3zM313.4 246.1l4 .1 .1-6.4 -3.9-.1zM314.3 214.1l3.6 .1 .1-6.4 -3.5 0zM315.3 182.2l3.1 .1 0-6.4 -3-.1zM318 207.8l3.4 .1 0-6.4 -3.3-.1zM318.3 188.7l3.1 0 0-6.4 -3 0zM318.4 182.3l3 0 0-6.4 -3 0zM321.4 207.9l3.5-.1 -.1-6.4 -3.4 .1zM321.4 195.1l3.3 0 -.1-6.4 -3.2 0zM324.8 201.4l3.4 0 -.2-6.4 -3.3 .1z" fill="#35978f" stroke="#35978f" stroke-width="0.35"/><path d="M228.5 202.5l3.4 1.3 2.3-5.9 -3.3-1.3zM229.6 209.8l3.5 1.3 2.2-6 -3.4-1.3zM231.9 203.8l3.4 1.3 2.3-5.9 -3.4-1.3zM236.5 191.9l3.3 1.3 2.2-6 -3.2-1.2zM245.8 168.1l2.9 1.1 2.2-5.9 -2.8-1.1zM230.9 217.1l3.6 1.4 2.1-6.1 -3.5-1.3zM233.1 211.1l3.5 1.3 2.2-6 -3.5-1.3zM237.6 199.2l3.3 1.2 2.1-6 -3.2-1.2zM238.8 206.4l3.4 1.2 2.1-6.1 -3.4-1.1zM243 194.4l3.3 1.1 2.1-6 -3.2-1.2zM251.6 170.3l2.9 1 2.1-6 -2.9-1zM229.9 244.1l4 1.3 2-6.1 -3.9-1.3zM244.3 201.5l3.4 1.2 1.9-6.1 -3.3-1.1zM248.4 189.5l3.2 1 1.9-6.1 -3.1-1zM250.4 183.4l3.1 1 2-6 -3-1zM252.5 177.4l3 1 2-6.1 -3-1zM254.5 171.3l3 1 1.9-6.1 -2.8-.9zM241.8 220.9l3.7 1.2 1.9-6.1 -3.6-1.2zM247.7 202.7l3.4 1 1.8-6.1 -3.3-1zM251.6 190.5l3.2 1 1.9-6.1 -3.2-1zM253.5 184.4l3.2 1 1.8-6.1 -3-.9zM255.5 178.4l3 .9 1.9-6.1 -2.9-.9zM257.5 172.3l2.9 .9 1.9-6.1 -2.9-.9zM245.5 222.1l3.7 1.1 1.8-6.2 -3.6-1zM249.2 209.8l3.5 1.1 1.8-6.2 -3.4-1zM258.5 179.3l3.1 .9 1.8-6.1 -3-.9zM260.4 173.2l3 .9 1.8-6.1 -2.9-.9zM252.7 210.9l3.6 1 1.6-6.2 -3.4-1zM261.6 180.2l3.1 .9 1.7-6.2 -3-.8zM263.4 174.1l3 .8 1.6-6.1 -2.8-.8zM254.6 218l3.6 1 1.6-6.2 -3.5-.9zM257.9 205.7l3.5 .9 1.6-6.1 -3.4-.9zM259.6 199.6l3.4 .9 1.6-6.2 -3.3-.9zM261.3 193.4l3.3 .9 1.6-6.2 -3.2-.9zM264.7 181.1l3.1 .8 1.6-6.2 -3-.8zM266.4 174.9l3 .8 1.5-6.2 -2.9-.7zM258.2 219l3.7 .9 1.5-6.2 -3.6-.9zM259.8 212.8l3.6 .9 1.5-6.2 -3.5-.9zM263 200.5l3.4 .8 1.5-6.2 -3.3-.8zM264.6 194.3l3.3 .8 1.5-6.2 -3.2-.8zM267.8 181.9l3.1 .8 1.5-6.2 -3-.8zM269.4 175.7l3 .8 1.5-6.2 -3-.8zM260.4 226.1l3.7 .9 1.4-6.2 -3.6-.9zM261.9 219.9l3.6 .9 1.4-6.3 -3.5-.8zM263.4 213.7l3.5 .8 1.4-6.2 -3.4-.8zM266.4 201.3l3.3 .8 1.5-6.2 -3.3-.8zM270.9 182.7l3.1 .7 1.4-6.2 -3-.7zM265.5 220.8l3.7 .8 1.3-6.3 -3.6-.8zM266.9 214.5l3.6 .8 1.3-6.2 -3.5-.8zM269.7 202.1l3.4 .7 1.4-6.2 -3.3-.7zM270.5 215.3l3.6 .7 1.2-6.2 -3.5-.7zM271.8 209.1l3.5 .7 1.2-6.3 -3.4-.7zM274.1 216l3.6 .7 1.1-6.3 -3.5-.6zM276.5 203.5l3.5 .7 1.1-6.3 -3.3-.6zM279 191l3.2 .6 1.1-6.3 -3.1-.6zM280.2 184.7l3.1 .6 1.2-6.3 -3.1-.5zM277.7 216.7l3.6 .6 1.1-6.3 -3.6-.6zM281.1 197.9l3.3 .5 1.1-6.2 -3.3-.6zM283.3 185.3l3.2 .6 1-6.3 -3-.6zM281.3 217.3l3.6 .6 1-6.3 -3.5-.6zM284.9 217.9l3.7 .5 .8-6.3 -3.5-.5zM285.9 211.6l3.5 .5 .9-6.3 -3.5-.5zM286.8 205.3l3.5 .5 .8-6.4 -3.3-.4zM287.8 199l3.3 .4 .9-6.3 -3.3-.4zM290.3 205.8l3.4 .4 .8-6.3 -3.4-.5zM401.1 220.9l3.7-1.2 -2.1-6 -3.6 1.1zM404.8 219.7l3.6-1.2 -2.1-6.1 -3.6 1.3zM408.4 218.5l3.6-1.4 -2.2-6 -3.5 1.3zM412 217.1l3.6-1.3 -2.3-6 -3.5 1.3z" fill="#003c30" stroke="#003c30" stroke-width="0.35"/><path d="M240.5 172.9l3 1.2 2.3-6 -2.9-1.1zM222.6 227.7l3.8 1.5 2.2-6.1 -3.6-1.4zM225 221.7l3.6 1.4 2.3-6 -3.6-1.3zM238.8 186l3.2 1.2 2.2-6 -3-1.2zM243.5 174.1l2.9 1.1 2.3-6 -2.9-1.1zM235.3 205.1l3.5 1.3 2.1-6 -3.3-1.2zM232.4 224.5l3.7 1.3 2-6.1 -3.6-1.2zM234.5 218.5l3.6 1.2 2.1-6 -3.6-1.3zM236.6 212.4l3.6 1.3 2-6.1 -3.4-1.2zM240.9 200.4l3.4 1.1 2-6 -3.3-1.1zM245.2 188.3l3.2 1.2 2-6.1 -3.1-1.1zM232 238l3.9 1.3 2-6.2 -3.9-1.2zM238.1 219.7l3.7 1.2 2-6.1 -3.6-1.1zM242.2 207.6l3.5 1.1 2-6 -3.4-1.2zM233.9 245.4l4.1 1.3 1.9-6.2 -4-1.2zM243.8 214.8l3.6 1.2 1.8-6.2 -3.5-1.1zM245.7 208.7l3.5 1.1 1.9-6.1 -3.4-1zM247.4 216l3.6 1 1.7-6.1 -3.5-1.1zM251.1 203.7l3.4 1 1.8-6.1 -3.4-1zM254.8 191.5l3.3 1 1.7-6.1 -3.1-1zM266 154.8l2.7 .8 1.8-6.1 -2.6-.8zM249.2 223.2l3.7 1 1.7-6.2 -3.6-1zM256.3 211.9l3.5 .9 1.6-6.2 -3.5-.9zM273.1 150.2l2.6 .7 1.6-6.2 -2.5-.7zM256.6 225.2l3.8 .9 1.5-6.2 -3.7-.9zM261.4 206.6l3.5 .9 1.5-6.2 -3.4-.8zM275.7 150.9l2.7 .7 1.5-6.3 -2.6-.6zM264.9 207.5l3.4 .8 1.4-6.2 -3.3-.8zM278.4 151.6l2.6 .6 1.4-6.3 -2.5-.6zM264.1 227l3.8 .8 1.3-6.2 -3.7-.8zM268.3 208.3l3.5 .8 1.3-6.3 -3.4-.7zM273.1 202.8l3.4 .7 1.3-6.2 -3.3-.7zM278.8 210.4l3.6 .6 1-6.3 -3.4-.5zM280 204.2l3.4 .5 1-6.3 -3.3-.5zM282.2 191.6l3.3 .6 1-6.3 -3.2-.6zM283.4 204.7l3.4 .6 1-6.3 -3.4-.6zM406.8 225.8l3.7-1.3 -2.1-6 -3.6 1.2zM410.5 224.5l3.8-1.4 -2.3-6 -3.6 1.4zM421 241.2l3.9-1.5 -2.3-6 -3.9 1.5zM431.5 187.6l3.1-1.6 -3-5.6 -3.1 1.6z" fill="#00463c" stroke="#00463c" stroke-width="0.35"/><path d="M248.1 162.2l2.8 1.1 2.2-6 -2.7-1.1zM257.6 145.2l2.6 .9 2.1-6 -2.5-.9zM256.6 165.3l2.8 .9 2-6.1 -2.8-.9zM258.6 159.2l2.8 .9 1.9-6.1 -2.6-.9zM272.5 163.3l2.9 .7 1.5-6.2 -2.8-.7zM276.9 157.8l2.7 .7 1.4-6.3 -2.6-.6zM279.6 158.5l2.8 .6 1.3-6.3 -2.7-.6zM269.2 221.6l3.7 .7 1.2-6.3 -3.6-.7zM282.4 159.1l2.7 .5 1.2-6.3 -2.6-.5zM276.6 223l3.7 .7 1-6.4 -3.6-.6zM299.1 187.6l3.2 .3 .6-6.4 -3.1-.3zM318.2 195.1l3.2 0 0-6.4 -3.1 0z" fill="#1b7e76" stroke="#1b7e76" stroke-width="0.35"/><path d="M239.8 193.2l3.2 1.2 2.2-6.1 -3.2-1.1zM259.8 186.4l3.2 .8 1.7-6.1 -3.1-.9zM333.3 239.6l3.9-.2 -.3-6.4 -3.9 .2zM337.6 245.8l4.1-.3 -.5-6.4 -4 .3z" fill="#a6691c" stroke="#a6691c" stroke-width="0.35"/><path d="M242 187.2l3.2 1.1 2.1-6 -3.1-1.1zM267.9 195.1l3.3 .8 1.4-6.3 -3.2-.7zM363.7 256l4.1-.7 -1-6.3 -4.1 .6zM372 254.6l4.2-.8 -1.3-6.3 -4 .8zM412.5 271.5l4.4-1.4 -2-6.2 -4.3 1.4zM419.2 262.5l4.3-1.5 -2.2-6.1 -4.2 1.4zM464.9 242.8l3.9-2.2 -3.1-5.7 -3.9 2.2zM443.6 202.9l3.4-1.8 -3.1-5.6 -3.3 1.8zM440.6 197.3l3.3-1.8 -3-5.6 -3.3 1.7zM456.3 218l3.6-2.1 -3.1-5.6 -3.6 2zM450.4 199.2l3.3-1.9 -3.2-5.5 -3.3 1.8zM457 202.8l3.4-2 -3.4-5.5 -3.3 2zM450.5 191.8l3.2-2 -3.3-5.4 -3.2 1.9zM444 180.8l3-1.9 -3.3-5.4 -3 1.8zM470.6 209.5l3.5-2.2 -3.5-5.4 -3.4 2.2zM460.3 193.2l3.2-2 -3.5-5.4 -3.1 2zM456.9 187.8l3.1-2 -3.4-5.3 -3.1 1.9zM488.2 229l3.8-2.5 -3.6-5.4 -3.7 2.4zM470.6 201.9l3.3-2.2 -3.6-5.3 -3.3 2.1zM473.9 199.7l3.4-2.3 -3.7-5.3 -3.3 2.3zM463.2 183.7l3.1-2.1 -3.7-5.2 -3 2zM473.1 184.6l3.1-2.2 -3.8-5.2 -3 2.2zM480 187.5l3.2-2.4 -3.9-5.1 -3.1 2.4z" fill="#f6ebd0" stroke="#f6ebd0" stroke-width="0.35"/><path d="M244.2 181.2l3.1 1.1 2.1-6 -3-1.1zM249.4 176.3l3.1 1.1 2-6.1 -2.9-1zM416.5 229.2l3.8-1.5 -2.4-6 -3.6 1.4zM463.8 250.7l4.1-2.1 -3-5.8 -4.1 2.1z" fill="#b27524" stroke="#b27524" stroke-width="0.35"/><path d="M246.4 175.2l3 1.1 2.2-6 -2.9-1.1zM420.3 227.7l3.7-1.5 -2.4-5.9 -3.7 1.4zM467.9 248.6l4.1-2.2 -3.2-5.8 -3.9 2.2z" fill="#c79141" stroke="#c79141" stroke-width="0.35"/><path d="M247.3 182.3l3.1 1.1 2.1-6 -3.1-1.1zM256.7 185.4l3.1 1 1.8-6.2 -3.1-.9zM266.2 188.1l3.2 .8 1.5-6.2 -3.1-.8zM286.5 185.9l3.1 .5 1-6.4 -3.1-.4zM418.7 235.2l3.9-1.5 -2.3-6 -3.8 1.5z" fill="#995d13" stroke="#995d13" stroke-width="0.35"/><path d="M249.6 196.6l3.3 1 1.9-6.1 -3.2-1zM252.9 197.6l3.4 1 1.8-6.1 -3.3-1z" fill="#623806" stroke="#623806" stroke-width="0.35"/><path d="M242 247.9l4.1 1.1 1.7-6.2 -4-1.1zM269.4 188.9l3.2 .7 1.4-6.2 -3.1-.7zM289.4 212.1l3.6 .4 .7-6.3 -3.4-.4zM404.1 294.4l4.7-1.3 -1.7-6.4 -4.7 1.3zM410.6 265.3l4.3-1.4 -2-6.2 -4.2 1.4zM409 245.4l4-1.3 -2.1-6.1 -3.9 1.3zM437.6 191.6l3.3-1.7 -3.1-5.6 -3.2 1.7zM447 201.1l3.4-1.9 -3.2-5.6 -3.3 1.9zM483.3 247.4l4.1-2.4 -3.4-5.6 -4 2.4zM453.7 197.3l3.3-2 -3.3-5.5 -3.2 2zM484 239.4l3.9-2.4 -3.5-5.6 -3.8 2.4zM457 195.3l3.3-2.1 -3.4-5.4 -3.2 2zM487.9 237l3.9-2.5 -3.6-5.5 -3.8 2.4zM467.2 204.1l3.4-2.2 -3.6-5.4 -3.3 2.2zM453.5 182.4l3.1-1.9 -3.5-5.4 -3 1.9zM491.8 234.5l3.8-2.6 -3.6-5.4 -3.8 2.5zM463.5 191.2l3.3-2.2 -3.6-5.3 -3.2 2.1zM456.6 180.5l3-2.1 -3.6-5.3 -2.9 2zM477.3 197.4l3.3-2.3 -3.8-5.3 -3.2 2.3zM476.8 189.8l3.2-2.3 -3.8-5.1 -3.1 2.2zM476.2 182.4l3.1-2.4 -3.9-5 -3 2.2zM502.7 210.8l3.5-2.7 -4-5.1 -3.4 2.6zM506.2 208.1l3.5-2.8 -4.1-5 -3.4 2.7z" fill="#f5f2e8" stroke="#f5f2e8" stroke-width="0.35"/><path d="M256.3 198.6l3.3 1 1.7-6.2 -3.2-.9zM353 238l3.9-.5 -.9-6.4 -3.8 .5z" fill="#543005" stroke="#543005" stroke-width="0.35"/><path d="M258.1 192.5l3.2 .9 1.7-6.2 -3.2-.8zM263 187.2l3.2 .9 1.6-6.2 -3.1-.8zM274 183.4l3.1 .7 1.3-6.3 -3-.6zM289.6 186.4l3.2 .4 .9-6.3 -3.1-.5zM406.3 212.4l3.5-1.3 -2.2-6 -3.5 1.3z" fill="#8c510a" stroke="#8c510a" stroke-width="0.35"/><path d="M272.4 176.5l3 .7 1.4-6.3 -2.9-.6zM332.7 226.8l3.8-.2 -.4-6.4 -3.7 .2zM336.5 226.6l3.7-.3 -.4-6.4 -3.7 .3zM344.5 232.4l3.9-.4 -.7-6.3 -3.7 .3zM369.7 241.9l4-.7 -1.2-6.3 -3.9 .7zM408.7 259.1l4.2-1.4 -2-6.1 -4.1 1.3zM415.1 250.2l4.1-1.4 -2.2-6.1 -4 1.4zM419.2 248.8l4-1.5 -2.2-6.1 -4 1.5zM404.1 206.4l3.5-1.3 -2.3-5.9 -3.3 1.2zM429.6 251.8l4.1-1.6 -2.4-6 -4 1.6zM413.3 209.8l3.5-1.4 -2.4-5.9 -3.4 1.3zM436.2 256.2l4.2-1.7 -2.6-6 -4.1 1.7zM419.2 214.3l3.6-1.4 -2.5-5.9 -3.5 1.4zM416.8 208.4l3.5-1.4 -2.5-5.9 -3.4 1.4zM414.4 202.5l3.4-1.4 -2.5-5.9 -3.3 1.4zM440.4 254.5l4.1-1.8 -2.6-6 -4.1 1.8zM422.8 212.9l3.5-1.6 -2.6-5.8 -3.4 1.5zM416 187.9l3.2-1.4 -2.7-5.8 -3.1 1.4zM424.5 198.1l3.3-1.5 -2.7-5.8 -3.3 1.5zM425.1 190.8l3.2-1.5 -2.9-5.8 -3.1 1.6zM422.3 185.1l3.1-1.6 -2.8-5.7 -3 1.5zM425.4 183.5l3.1-1.5 -2.9-5.7 -3 1.5zM428.5 182l3.1-1.6 -3-5.7 -3 1.6zM425.6 176.3l3-1.6 -3-5.6 -2.9 1.5zM437.8 184.3l3.1-1.8 -3.2-5.5 -3 1.7zM488.3 213.3l3.5-2.5 -3.7-5.3 -3.5 2.5z" fill="#def0ed" stroke="#def0ed" stroke-width="0.35"/><path d="M271.2 195.9l3.3 .7 1.3-6.3 -3.2-.7zM282.4 211l3.5 .6 .9-6.3 -3.4-.6zM293 212.5l3.5 .4 .7-6.3 -3.5-.4zM360.8 236.9l3.9-.6 -1-6.3 -3.8 .6zM367.8 255.3l4.2-.7 -1.1-6.3 -4.1 .7zM414.9 263.9l4.3-1.4 -2.1-6.2 -4.2 1.4zM453.2 212.3l3.6-2 -3.2-5.5 -3.5 1.9zM450.1 206.7l3.5-1.9 -3.2-5.6 -3.4 1.9zM459.9 215.9l3.6-2 -3.3-5.6 -3.4 2zM456.8 210.3l3.4-2 -3.2-5.5 -3.4 2zM453.6 204.8l3.4-2 -3.3-5.5 -3.3 1.9zM447.2 193.6l3.3-1.8 -3.3-5.5 -3.2 1.8zM440.9 182.5l3.1-1.7 -3.3-5.5 -3 1.7zM480 241.8l4-2.4 -3.4-5.6 -3.9 2.4zM460.2 208.3l3.5-2.1 -3.3-5.4 -3.4 2zM447.2 186.3l3.2-1.9 -3.4-5.5 -3 1.9zM463.7 206.2l3.5-2.1 -3.5-5.4 -3.3 2.1zM450.4 184.4l3.1-2 -3.4-5.4 -3.1 1.9zM463.7 198.7l3.3-2.2 -3.5-5.3 -3.2 2zM474.1 207.3l3.4-2.3 -3.6-5.3 -3.3 2.2zM467 196.5l3.3-2.1 -3.5-5.4 -3.3 2.2zM466.3 181.6l3.1-2.2 -3.8-5.2 -3 2.2zM480.6 195.1l3.2-2.4 -3.8-5.2 -3.2 2.3z" fill="#f6eedc" stroke="#f6eedc" stroke-width="0.35"/><path d="M277.1 184.1l3.1 .6 1.2-6.2 -3-.7z" fill="#7e4909" stroke="#7e4909" stroke-width="0.35"/><path d="M303.6 213.6l3.6 .2 .4-6.4 -3.5-.2zM412.9 257.7l4.2-1.4 -2-6.1 -4.2 1.4zM457.9 239.1l3.9-2 -3-5.8 -3.9 2zM454.9 233.3l3.9-2 -3.1-5.7 -3.7 2zM458.8 231.3l3.8-2 -3.2-5.7 -3.7 2zM472 246.4l4-2.3 -3.2-5.7 -4 2.2zM443.9 195.5l3.3-1.9 -3.2-5.5 -3.1 1.8zM479.3 249.8l4-2.4 -3.3-5.6 -4 2.3zM467.1 211.7l3.5-2.2 -3.4-5.4 -3.5 2.1zM470.3 194.4l3.3-2.3 -3.7-5.2 -3.1 2.1zM466.8 189l3.1-2.1 -3.6-5.3 -3.1 2.1zM473.6 192.1l3.2-2.3 -3.7-5.2 -3.2 2.3zM469.9 186.9l3.2-2.3 -3.7-5.2 -3.1 2.2z" fill="#f0deb2" stroke="#f0deb2" stroke-width="0.35"/><path d="M416.9 270.1l4.4-1.4 -2.1-6.2 -4.3 1.4zM475.1 252.1l4.2-2.3 -3.3-5.7 -4 2.3zM468.8 240.6l4-2.2 -3.2-5.6 -3.9 2.1zM462.6 229.3l3.7-2.2 -3.2-5.6 -3.7 2.1zM463.5 213.9l3.6-2.2 -3.4-5.5 -3.5 2.1zM453.7 189.8l3.2-2 -3.4-5.4 -3.1 2z" fill="#f6e8c3" stroke="#f6e8c3" stroke-width="0.35"/><path d="M417.1 256.3l4.2-1.4 -2.1-6.1 -4.1 1.4zM460.8 244.9l4.1-2.1 -3.1-5.7 -3.9 2zM471 254.3l4.1-2.2 -3.1-5.7 -4.1 2.2zM461.8 237.1l3.9-2.2 -3.1-5.6 -3.8 2z" fill="#ead5a0" stroke="#ead5a0" stroke-width="0.35"/><path d="M410.9 238l3.9-1.4 -2.1-6.1 -3.8 1.4zM427.7 259.5l4.3-1.6 -2.4-6.1 -4.1 1.6zM425.5 253.4l4.1-1.6 -2.3-6 -4.1 1.5zM432 257.9l4.2-1.7 -2.5-6 -4.1 1.6zM433.7 250.2l4.1-1.7 -2.5-6 -4 1.7zM417.8 201.1l3.3-1.5 -2.5-5.8 -3.3 1.4zM421.1 199.6l3.4-1.5 -2.7-5.8 -3.2 1.5zM416.5 180.7l3.1-1.4 -2.8-5.8 -2.9 1.4zM437.3 199l3.3-1.7 -3-5.7 -3.2 1.7zM428.6 174.7l3-1.6 -3.1-5.6 -2.9 1.6zM499.2 213.4l3.5-2.6 -3.9-5.2 -3.5 2.6zM491.5 203l3.4-2.5 -3.9-5.1 -3.3 2.4zM498.8 205.6l3.4-2.6 -4-5.1 -3.3 2.6zM494.9 200.5l3.3-2.6 -4-5.1 -3.2 2.6z" fill="#eaf2f1" stroke="#eaf2f1" stroke-width="0.35"/><path d="M421.3 254.9l4.2-1.5 -2.3-6.1 -4 1.5zM412.7 230.5l3.8-1.3 -2.2-6.1 -3.8 1.4z" fill="#d7b269" stroke="#d7b269" stroke-width="0.35"/><path d="M428.9 238.2l3.9-1.6 -2.5-6 -3.9 1.6z" fill="#bf812d" stroke="#bf812d" stroke-width="0.35"/><path d="M456.8 246.9l4-2 -2.9-5.8 -4 2zM453.9 241.1l4-2 -3-5.8 -3.8 2z" fill="#dfc27d" stroke="#dfc27d" stroke-width="0.35"/><path d="M465.7 234.9l3.9-2.1 -3.3-5.7 -3.7 2.2z" fill="#e5cc8e" stroke="#e5cc8e" stroke-width="0.35"/></g>
<g fill="none" stroke="#000" stroke-width="1" stroke-linejoin="round"><use href="#ld"/><use href="#wt"/><use href="#bd" stroke-width="0.8"/><use href="#sc" stroke-width="0.8"/></g>
</g></g>
<path d="M772.81 222.78A338.09 338.09 0 0 0 1229.29 222.78L1080.56 60.24A117.78 117.78 0 0 1 921.54 60.24Z" fill="none" stroke="#000" stroke-width="1.15"/>
<path d="M790.59 203.35l3.39 3.11M1211.51 203.35l-3.39 3.11M834.12 155.78l3.39 3.11M1167.98 155.78l-3.39 3.11M877.27 108.62l3.39 3.11M1124.83 108.62l-3.39 3.11M902.29 296.7l1.34 -4.4M966.64 86l-1.34 4.4M1050.98 307.74l-0.68 -4.55M1018.44 89.84l0.68 4.55M1189.95 253.75l-2.57 -3.82M1066.86 71.03l2.57 3.82" fill="none" stroke="#000" stroke-width="1"/>
<text transform="translate(785.58 198.76) rotate(42.46)" text-anchor="end" dy="0.36em" font-size="22" fill="#000">45°N</text>
<text transform="translate(829.1 151.19) rotate(42.46)" text-anchor="end" dy="0.36em" font-size="22" fill="#000">55°N</text>
<text transform="translate(872.26 104.03) rotate(42.46)" text-anchor="end" dy="0.36em" font-size="22" fill="#000">65°N</text>
<text transform="translate(765.74 232.44) rotate(42.46)" text-anchor="middle" dy="0.36em" font-size="20.7" fill="#000">160°W</text>
<text transform="translate(900.06 308.46) rotate(16.98)" text-anchor="middle" dy="0.36em" font-size="20.7" fill="#000">130°W</text>
<text transform="translate(1054.02 319.31) rotate(-8.49)" text-anchor="middle" dy="0.36em" font-size="20.7" fill="#000">100°W</text>
<text transform="translate(1197.68 262.89) rotate(-33.97)" text-anchor="middle" dy="0.36em" font-size="20.7" fill="#000">70°W</text>
<text x="1000.9" y="55.3" text-anchor="middle" font-size="21.75" font-weight="bold" fill="#000">NEP anomalies (GCB2024-satellite)</text>
<g transform="translate(1359.2 0)">
<g clip-path="url(#fc)">
<use href="#ld" fill="#bfbfbf"/><use href="#wt" fill="#fff"/>
<g fill="none" stroke="#000" stroke-width="1" stroke-linejoin="round"><use href="#ld"/><use href="#wt"/><use href="#bd" stroke-width="0.8"/><use href="#sc" stroke-width="0.8"/></g>
<circle cx="244.3" cy="115.6" r="6.9" fill="#e3f2f0" stroke="#111" stroke-width="0.6"/>
<circle cx="257.2" cy="169.7" r="6.9" fill="#a3dbd3" stroke="#111" stroke-width="0.6"/>
<circle cx="302.2" cy="226.4" r="6.9" fill="#0f6b61" stroke="#111" stroke-width="0.6"/>
<circle cx="415.3" cy="286.0" r="6.9" fill="#0f6b61" stroke="#111" stroke-width="0.6"/>
<circle cx="414.6" cy="286.7" r="6.9" fill="#0e6a60" stroke="#111" stroke-width="0.6"/>
</g></g>
<path d="M1452.41 222.78A338.09 338.09 0 0 0 1908.89 222.78L1760.16 60.24A117.78 117.78 0 0 1 1601.14 60.24Z" fill="none" stroke="#000" stroke-width="1.15"/>
<path d="M1470.19 203.35l3.39 3.11M1891.11 203.35l-3.39 3.11M1513.72 155.78l3.39 3.11M1847.58 155.78l-3.39 3.11M1556.87 108.62l3.39 3.11M1804.43 108.62l-3.39 3.11M1581.89 296.7l1.34 -4.4M1646.24 86l-1.34 4.4M1730.58 307.74l-0.68 -4.55M1698.04 89.84l0.68 4.55M1869.55 253.75l-2.57 -3.82M1746.46 71.03l2.57 3.82" fill="none" stroke="#000" stroke-width="1"/>
<text transform="translate(1465.18 198.76) rotate(42.46)" text-anchor="end" dy="0.36em" font-size="22" fill="#000">45°N</text>
<text transform="translate(1508.7 151.19) rotate(42.46)" text-anchor="end" dy="0.36em" font-size="22" fill="#000">55°N</text>
<text transform="translate(1551.86 104.03) rotate(42.46)" text-anchor="end" dy="0.36em" font-size="22" fill="#000">65°N</text>
<text transform="translate(1445.34 232.44) rotate(42.46)" text-anchor="middle" dy="0.36em" font-size="20.7" fill="#000">160°W</text>
<text transform="translate(1579.66 308.46) rotate(16.98)" text-anchor="middle" dy="0.36em" font-size="20.7" fill="#000">130°W</text>
<text transform="translate(1733.62 319.31) rotate(-8.49)" text-anchor="middle" dy="0.36em" font-size="20.7" fill="#000">100°W</text>
<text transform="translate(1877.28 262.89) rotate(-33.97)" text-anchor="middle" dy="0.36em" font-size="20.7" fill="#000">70°W</text>
<text x="1680.5" y="55.3" text-anchor="middle" font-size="21.75" font-weight="bold" fill="#000">NEP anomalies (EC observations)</text>
<g transform="translate(0 340)">
<g clip-path="url(#fc)">
<use href="#ld" fill="#bfbfbf"/><use href="#wt" fill="#fff"/>
<g shape-rendering="crispEdges"><path d="M209.4 134.4l2.4 1.7 3.6-5.4 -2.3-1.6zM214.3 137.7l2.4 1.5 3.4-5.4 -2.3-1.5zM217.8 154.8l2.7 1.5 3.1-5.5 -2.6-1.5zM221 149.3l2.6 1.5 3.1-5.7 -2.5-1.4zM220.5 156.3l2.8 1.5 3-5.6 -2.7-1.4zM223.3 157.8l2.7 1.5 2.9-5.7 -2.6-1.4zM231.9 147.9l2.5 1.3 2.9-5.8 -2.5-1.2zM231.7 169.1l2.9 1.3 2.6-5.8 -2.8-1.3zM232.6 183.5l3.1 1.2 2.4-5.9 -3-1.2zM235.1 177.6l3 1.2 2.4-5.9 -3-1.2zM228.5 202.5l3.4 1.3 2.3-5.9 -3.3-1.3zM225 221.7l3.6 1.4 2.3-6 -3.6-1.3zM229.6 209.8l3.5 1.3 2.2-6 -3.4-1.3zM230.9 217.1l3.6 1.4 2.1-6.1 -3.5-1.3zM255.4 151.2l2.6 1 2.2-6.1 -2.6-.9zM255.9 158.2l2.7 1 2.1-6.1 -2.7-.9zM260.7 153.1l2.6 .9 2-6.1 -2.6-.9zM263.3 154l2.7 .8 1.9-6.1 -2.6-.8zM380.3 253l4.2-.9 -1.5-6.3 -4 .9zM387.3 264.7l4.3-1 -1.5-6.3 -4.2 1zM384.5 252.1l4.1-1 -1.5-6.2 -4.1 .9zM417 242.7l4-1.5 -2.3-6 -3.9 1.4zM421 241.2l3.9-1.5 -2.3-6 -3.9 1.5zM428.9 238.2l3.9-1.6 -2.5-6 -3.9 1.6zM444.5 252.7l4.1-1.9 -2.7-5.9 -4 1.8zM445.9 244.9l4-1.9 -2.7-5.8 -4 1.8zM449.9 243l4-1.9 -2.8-5.8 -3.9 1.9zM456.8 246.9l4-2 -2.9-5.8 -4 2zM454.9 233.3l3.9-2 -3.1-5.7 -3.7 2zM479.3 249.8l4-2.4 -3.3-5.6 -4 2.3z" fill="#288b83" stroke="#288b83" stroke-width="0.35"/><path d="M213.1 129.1l2.3 1.6 3.6-5.3 -2.2-1.5zM211.8 136.1l2.5 1.6 3.5-5.4 -2.4-1.6zM226.1 173.5l2.9 1.4 2.7-5.8 -2.9-1.3zM229 174.9l3 1.4 2.6-5.9 -2.9-1.3zM229.5 182.1l3.1 1.4 2.5-5.9 -3.1-1.3zM233.3 190.7l3.2 1.2 2.3-5.9 -3.1-1.3zM414.8 236.6l3.9-1.4 -2.2-6 -3.8 1.3zM427.7 259.5l4.3-1.6 -2.4-6.1 -4.1 1.6zM429.6 251.8l4.1-1.6 -2.4-6 -4 1.6zM443.2 239l4-1.8 -2.8-5.9 -3.9 1.8zM453.9 241.1l4-2 -3-5.8 -3.8 2zM464.9 242.8l3.9-2.2 -3.1-5.7 -3.9 2.2z" fill="#1b7e76" stroke="#1b7e76" stroke-width="0.35"/><path d="M210.8 143l2.5 1.6 3.4-5.4 -2.4-1.5zM212.5 151.7l2.7 1.6 3.2-5.5 -2.6-1.6zM215.8 146.2l2.6 1.6 3.3-5.5 -2.5-1.5zM232.9 133.9l2.4 1.3 3-5.7 -2.3-1.2zM235.3 135.2l2.4 1.3 3-5.8 -2.4-1.2zM213.1 209.8l3.5 1.5 2.6-5.8 -3.5-1.6zM245 140l2.5 1.1 2.6-5.9 -2.4-1zM250.4 128.3l2.3 1 2.6-5.9 -2.2-1zM226.9 187.9l3.2 1.4 2.5-5.8 -3.1-1.4zM244.9 147l2.6 1.1 2.5-5.9 -2.5-1.1zM252.7 129.3l2.3 1 2.6-5.9 -2.3-1zM215.1 224.7l3.8 1.5 2.4-5.9 -3.7-1.5zM250 142.2l2.5 1.1 2.5-6 -2.5-1zM252.5 136.3l2.5 1 2.4-6 -2.4-1zM216.5 232.2l3.8 1.5 2.3-6 -3.7-1.5zM221.3 220.3l3.7 1.4 2.3-5.9 -3.6-1.5zM247.7 155.1l2.7 1.1 2.3-6 -2.6-1zM252.5 143.3l2.6 1 2.3-6 -2.4-1zM250.4 156.2l2.7 1.1 2.3-6.1 -2.7-1zM224.2 235.2l3.9 1.4 2.1-6.1 -3.8-1.3zM233.1 211.1l3.5 1.3 2.2-6 -3.5-1.3zM257.6 145.2l2.6 .9 2.1-6 -2.5-.9zM259.8 139.2l2.5 .9 2.2-6.1 -2.4-.9zM262.3 140.1l2.5 .8 2-6.1 -2.3-.8zM262.7 147l2.6 .9 2-6.1 -2.5-.9zM241.8 220.9l3.7 1.2 1.9-6.1 -3.6-1.2zM243.6 228.2l3.8 1.1 1.8-6.1 -3.7-1.1zM271.7 136.4l2.4 .7 1.8-6.2 -2.3-.7zM247.4 229.3l3.8 1.1 1.7-6.2 -3.7-1zM272.3 143.3l2.5 .7 1.7-6.2 -2.4-.7zM249.5 236.6l3.9 1 1.6-6.2 -3.8-1zM251.2 230.4l3.8 1 1.6-6.2 -3.7-1zM274.8 144l2.5 .7 1.7-6.3 -2.5-.6zM272.4 176.5l3 .7 1.4-6.3 -2.9-.6zM279.9 145.3l2.5 .6 1.5-6.3 -2.5-.6zM282.4 145.9l2.6 .6 1.3-6.4 -2.4-.5zM276.6 223l3.7 .7 1-6.4 -3.6-.6zM280.3 223.7l3.7 .5 .9-6.3 -3.6-.6zM300.6 206.9l3.5 .3 .5-6.4 -3.4-.2zM313.9 226.9l3.8 .1 .1-6.4 -3.7-.1zM329.5 246.1l4.1-.1 -.3-6.4 -4 .1zM336.9 233l3.8-.3 -.5-6.4 -3.7 .3zM340.2 226.3l3.8-.3 -.6-6.4 -3.6 .3zM433.7 250.2l4.1-1.7 -2.5-6 -4 1.7zM426.4 232.2l3.9-1.6 -2.5-5.9 -3.8 1.5zM441.9 246.7l4-1.8 -2.7-5.9 -3.9 1.8zM488.2 229l3.8-2.5 -3.6-5.4 -3.7 2.4z" fill="#a4dcd3" stroke="#a4dcd3" stroke-width="0.35"/><path d="M213.3 144.6l2.5 1.6 3.4-5.4 -2.5-1.6zM236 128.3l2.3 1.2 3.1-5.7 -2.3-1.2zM238.3 129.5l2.4 1.2 2.9-5.7 -2.2-1.2zM242.6 138.9l2.4 1.1 2.7-5.8 -2.3-1.1zM248.1 127.2l2.3 1.1 2.7-5.9 -2.2-1zM242.4 145.9l2.5 1.1 2.6-5.9 -2.5-1.1zM247.7 134.2l2.4 1 2.6-5.9 -2.3-1zM247.5 141.1l2.5 1.1 2.5-5.9 -2.4-1.1zM212.6 230.6l3.9 1.6 2.4-6 -3.8-1.5zM247.5 148.1l2.6 1.1 2.4-5.9 -2.5-1.1zM257.4 138.3l2.4 .9 2.3-6.1 -2.4-.9zM260.2 146.1l2.5 .9 2.1-6.1 -2.5-.8zM245.5 222.1l3.7 1.1 1.8-6.2 -3.6-1zM258.8 232.4l3.9 .9 1.4-6.3 -3.7-.9zM310.2 226.8l3.7 .1 .2-6.4 -3.6-.1zM321.4 227l3.8 0 -.1-6.4 -3.7 0zM408.9 231.9l3.8-1.4 -2.2-6 -3.7 1.3zM410.5 224.5l3.8-1.4 -2.3-6 -3.6 1.4zM408.4 218.5l3.6-1.4 -2.2-6 -3.5 1.3zM416.5 229.2l3.8-1.5 -2.4-6 -3.6 1.4zM417.9 221.7l3.7-1.4 -2.4-6 -3.6 1.5zM431.3 244.2l4-1.7 -2.5-5.9 -3.9 1.6zM424 226.2l3.8-1.5 -2.5-5.9 -3.7 1.5zM437.8 248.5l4.1-1.8 -2.6-5.9 -4 1.7zM435.3 242.5l4-1.7 -2.6-5.9 -3.9 1.7zM439.3 240.8l3.9-1.8 -2.7-5.9 -3.8 1.8z" fill="#92d4ca" stroke="#92d4ca" stroke-width="0.35"/><path d="M216.7 139.2l2.5 1.6 3.3-5.5 -2.4-1.5zM219.2 140.8l2.5 1.5 3.2-5.6 -2.4-1.4zM221.7 142.3l2.5 1.4 3.2-5.5 -2.5-1.5zM224.2 143.7l2.5 1.4 3.1-5.6 -2.4-1.3zM240.5 172.9l3 1.2 2.3-6 -2.9-1.1zM245.3 161.1l2.8 1.1 2.3-6 -2.7-1.1zM243.5 174.1l2.9 1.1 2.3-6 -2.9-1.1zM245.8 168.1l2.9 1.1 2.2-5.9 -2.8-1.1zM248.1 162.2l2.8 1.1 2.2-6 -2.7-1.1zM244.2 181.2l3.1 1.1 2.1-6 -3-1.1zM246.4 175.2l3 1.1 2.2-6 -2.9-1.1zM250.9 163.3l2.8 1 2.2-6.1 -2.8-.9zM236.6 212.4l3.6 1.3 2-6.1 -3.4-1.2zM238.8 206.4l3.4 1.2 2.1-6.1 -3.4-1.1zM243 194.4l3.3 1.1 2.1-6 -3.2-1.2zM245.2 188.3l3.2 1.2 2-6.1 -3.1-1.1zM247.3 182.3l3.1 1.1 2.1-6 -3.1-1.1zM249.4 176.3l3.1 1.1 2-6.1 -2.9-1zM251.6 170.3l2.9 1 2.1-6 -2.9-1zM229.9 244.1l4 1.3 2-6.1 -3.9-1.3zM232 238l3.9 1.3 2-6.2 -3.9-1.2zM240.2 213.7l3.6 1.1 1.9-6.1 -3.5-1.1zM242.2 207.6l3.5 1.1 2-6 -3.4-1.2zM244.3 201.5l3.4 1.2 1.9-6.1 -3.3-1.1zM246.3 195.5l3.3 1.1 2-6.1 -3.2-1zM250.4 183.4l3.1 1 2-6 -3-1zM254.5 171.3l3 1 1.9-6.1 -2.8-.9zM233.9 245.4l4.1 1.3 1.9-6.2 -4-1.2zM237.9 233.1l3.8 1.2 1.9-6.1 -3.8-1.2zM243.8 214.8l3.6 1.2 1.8-6.2 -3.5-1.1zM245.7 208.7l3.5 1.1 1.9-6.1 -3.4-1zM247.7 202.7l3.4 1 1.8-6.1 -3.3-1zM253.5 184.4l3.2 1 1.8-6.1 -3-.9zM255.5 178.4l3 .9 1.9-6.1 -2.9-.9zM257.5 172.3l2.9 .9 1.9-6.1 -2.9-.9zM238 246.7l4 1.2 1.8-6.2 -3.9-1.2zM247.4 216l3.6 1 1.7-6.1 -3.5-1.1zM249.2 209.8l3.5 1.1 1.8-6.2 -3.4-1zM251.1 203.7l3.4 1 1.8-6.1 -3.4-1zM252.9 197.6l3.4 1 1.8-6.1 -3.3-1zM256.7 185.4l3.1 1 1.8-6.2 -3.1-.9zM242 247.9l4.1 1.1 1.7-6.2 -4-1.1zM243.8 241.7l4 1.1 1.7-6.2 -3.9-1.1zM245.6 235.5l3.9 1.1 1.7-6.2 -3.8-1.1zM251 217l3.6 1 1.7-6.1 -3.6-1zM252.7 210.9l3.6 1 1.6-6.2 -3.4-1zM258.1 192.5l3.2 .9 1.7-6.2 -3.2-.8zM259.8 186.4l3.2 .8 1.7-6.1 -3.1-.9zM246.1 249l4.1 1.1 1.6-6.2 -4-1.1zM247.8 242.8l4 1.1 1.6-6.3 -3.9-1zM252.9 224.2l3.7 1 1.6-6.2 -3.6-1zM254.6 218l3.6 1 1.6-6.2 -3.5-.9zM256.3 211.9l3.5 .9 1.6-6.2 -3.5-.9zM257.9 205.7l3.5 .9 1.6-6.1 -3.4-.9zM259.6 199.6l3.4 .9 1.6-6.2 -3.3-.9zM263 187.2l3.2 .9 1.6-6.2 -3.1-.8zM256.6 225.2l3.8 .9 1.5-6.2 -3.7-.9zM259.8 212.8l3.6 .9 1.5-6.2 -3.5-.9zM261.4 206.6l3.5 .9 1.5-6.2 -3.4-.8zM263 200.5l3.4 .8 1.5-6.2 -3.3-.8zM261.9 219.9l3.6 .9 1.4-6.3 -3.5-.8zM263.4 213.7l3.5 .8 1.4-6.2 -3.4-.8zM264.9 207.5l3.4 .8 1.4-6.2 -3.3-.8zM266.4 201.3l3.3 .8 1.5-6.2 -3.3-.8zM267.9 195.1l3.3 .8 1.4-6.3 -3.2-.7zM269.4 188.9l3.2 .7 1.4-6.2 -3.1-.7zM261.3 239.5l3.9 .9 1.4-6.3 -3.9-.8zM262.7 233.3l3.9 .8 1.3-6.3 -3.8-.8zM265.5 220.8l3.7 .8 1.3-6.3 -3.6-.8zM269.7 202.1l3.4 .7 1.4-6.2 -3.3-.7zM271.2 195.9l3.3 .7 1.3-6.3 -3.2-.7zM274 183.4l3.1 .7 1.3-6.3 -3-.6zM263.9 246.7l4.1 .8 1.2-6.3 -4-.8zM273.1 202.8l3.4 .7 1.3-6.2 -3.3-.7zM277.1 184.1l3.1 .6 1.2-6.2 -3-.7zM276.5 203.5l3.5 .7 1.1-6.3 -3.3-.6zM279 191l3.2 .6 1.1-6.3 -3.1-.6zM280 204.2l3.4 .5 1-6.3 -3.3-.5zM282.2 191.6l3.3 .6 1-6.3 -3.2-.6zM342.1 251.9l4.2-.3 -.6-6.4 -4 .3zM346.3 251.6l4.1-.4 -.7-6.4 -4 .4zM387.1 244.9l4-1 -1.6-6.3 -3.9 1zM394.3 256.4l4.2-1.1 -1.7-6.3 -4.1 1.1zM400.2 261.5l4.3-1.2 -1.8-6.2 -4.2 1.2zM406.3 266.6l4.3-1.3 -1.9-6.2 -4.2 1.2zM412.5 271.5l4.4-1.4 -2-6.2 -4.3 1.4zM410.6 265.3l4.3-1.4 -2-6.2 -4.2 1.4zM406.8 252.9l4.1-1.3 -1.9-6.2 -4.1 1.3zM404.9 246.7l4.1-1.3 -2-6.1 -4 1.2zM410.9 251.6l4.2-1.4 -2.1-6.1 -4 1.3zM409 245.4l4-1.3 -2.1-6.1 -3.9 1.3zM419.2 262.5l4.3-1.5 -2.2-6.1 -4.2 1.4zM417.1 256.3l4.2-1.4 -2.1-6.1 -4.1 1.4zM425.5 253.4l4.1-1.6 -2.3-6 -4.1 1.5zM415.6 215.8l3.6-1.5 -2.4-5.9 -3.5 1.4z" fill="#003c30" stroke="#003c30" stroke-width="0.35"/><path d="M215.2 153.3l2.6 1.5 3.2-5.5 -2.6-1.5zM223.6 150.8l2.7 1.4 3-5.7 -2.6-1.4zM220.3 163.5l2.8 1.4 2.9-5.6 -2.7-1.5zM226.3 152.2l2.6 1.4 3-5.7 -2.6-1.4zM232.3 140.9l2.5 1.3 2.9-5.7 -2.4-1.3zM231.6 162l2.8 1.3 2.6-5.8 -2.7-1.3zM232 176.3l3.1 1.3 2.4-5.9 -2.9-1.3zM220.1 212.9l3.6 1.4 2.4-5.9 -3.5-1.4zM225.1 201.1l3.4 1.4 2.4-5.9 -3.3-1.4zM227.6 195.2l3.3 1.4 2.4-5.9 -3.2-1.4zM237.5 171.7l3 1.2 2.4-5.9 -2.9-1.2zM226.1 208.4l3.5 1.4 2.3-6 -3.4-1.3zM230.9 196.6l3.3 1.3 2.3-6 -3.2-1.2zM234.2 197.9l3.4 1.3 2.2-6 -3.3-1.3zM236.5 191.9l3.3 1.3 2.2-6 -3.2-1.2zM226.4 229.2l3.8 1.3 2.2-6 -3.8-1.4zM228.6 223.1l3.8 1.4 2.1-6 -3.6-1.4zM242 187.2l3.2 1.1 2.1-6 -3.1-1.1zM258 152.2l2.7 .9 2-6.1 -2.5-.9zM256.6 165.3l2.8 .9 2-6.1 -2.8-.9zM271.8 209.1l3.5 .7 1.2-6.3 -3.4-.7zM275.3 209.8l3.5 .6 1.2-6.2 -3.5-.7zM281.3 217.3l3.6 .6 1-6.3 -3.5-.6zM376.2 253.8l4.1-.8 -1.3-6.3 -4.1 .8zM397.5 268.9l4.4-1.1 -1.7-6.3 -4.3 1.1zM413 244.1l4-1.4 -2.2-6.1 -3.9 1.4zM424.9 239.7l4-1.5 -2.5-6 -3.8 1.5zM447.2 237.2l3.9-1.9 -2.9-5.8 -3.8 1.8zM451.1 235.3l3.8-2 -2.9-5.7 -3.8 1.9zM472 246.4l4-2.3 -3.2-5.7 -4 2.2z" fill="#35978f" stroke="#35978f" stroke-width="0.35"/><path d="M238 114.5l2.2 1.3 3.2-5.7 -2-1.2zM236.9 121.4l2.2 1.2 3.2-5.7 -2.1-1.1zM212.3 202.4l3.4 1.5 2.7-5.8 -3.3-1.5zM223.3 179.3l3.1 1.4 2.6-5.8 -2.9-1.4zM226.4 180.7l3.1 1.4 2.5-5.8 -3-1.4zM221.8 199.6l3.3 1.5 2.5-5.9 -3.3-1.4zM224.3 193.8l3.3 1.4 2.5-5.9 -3.2-1.4zM239.8 158.7l2.7 1.2 2.5-5.9 -2.6-1.1zM217.6 218.8l3.7 1.5 2.4-6 -3.6-1.4zM242.5 159.9l2.8 1.2 2.4-6 -2.7-1.1zM245 154l2.7 1.1 2.4-5.9 -2.6-1.1zM218.9 226.2l3.7 1.5 2.4-6 -3.7-1.4zM255 137.3l2.4 1 2.3-6.1 -2.3-.9zM222.6 227.7l3.8 1.5 2.2-6.1 -3.6-1.4zM221.9 241.2l4 1.5 2.2-6.1 -3.9-1.4zM237.6 199.2l3.3 1.2 2.1-6 -3.2-1.2zM239.8 193.2l3.2 1.2 2.2-6.1 -3.2-1.1zM265.3 147.9l2.6 .8 1.9-6.2 -2.5-.7zM266.4 174.9l3 .8 1.5-6.2 -2.9-.7zM301.8 194.2l3.2 .3 .5-6.4 -3.2-.2zM305 194.5l3.3 .2 .4-6.4 -3.2-.2zM307.6 207.4l3.4 .2 .3-6.4 -3.4-.1zM307.9 201.1l3.4 .1 .3-6.3 -3.3-.2zM318.1 201.4l3.3 .1 0-6.4 -3.2 0zM324.9 207.8l3.5 0 -.2-6.4 -3.4 0zM329 226.9l3.7-.1 -.3-6.4 -3.6 .1zM333.6 246l4-.2 -.4-6.4 -3.9 .2zM340.7 232.7l3.8-.3 -.5-6.4 -3.8 .3zM344.5 232.4l3.9-.4 -.7-6.3 -3.7 .3zM350.4 251.2l4.1-.5 -.8-6.4 -4 .5zM351.5 225.2l3.7-.4 -.9-6.4 -3.6 .5zM356 231.1l3.9-.5 -1-6.4 -3.7 .6zM364.6 262.4l4.3-.7 -1.1-6.4 -4.1 .7zM363.7 256l4.1-.7 -1-6.3 -4.1 .6zM367.8 255.3l4.2-.7 -1.1-6.3 -4.1 .7zM365.7 242.6l4-.7 -1.1-6.3 -3.9 .7zM401.1 220.9l3.7-1.2 -2.1-6 -3.6 1.1zM430.3 230.6l3.8-1.6 -2.6-5.9 -3.7 1.6zM499.2 213.4l3.5-2.6 -3.9-5.2 -3.5 2.6zM502.7 210.8l3.5-2.7 -4-5.1 -3.4 2.6zM502.2 203l3.4-2.7 -4.1-5.1 -3.3 2.7z" fill="#c7eae5" stroke="#c7eae5" stroke-width="0.35"/><path d="M214.7 160.4l2.8 1.5 3-5.6 -2.7-1.5zM217.5 161.9l2.8 1.6 3-5.7 -2.8-1.5zM229.3 146.5l2.6 1.4 2.9-5.7 -2.5-1.3zM223.1 164.9l2.8 1.5 2.9-5.7 -2.8-1.4zM226 159.3l2.8 1.4 2.8-5.8 -2.7-1.3zM228.9 153.6l2.7 1.3 2.8-5.7 -2.5-1.3zM228.8 160.7l2.8 1.3 2.7-5.8 -2.7-1.3zM231.6 154.9l2.7 1.3 2.8-5.7 -2.7-1.3zM228.8 167.8l2.9 1.3 2.7-5.8 -2.8-1.3zM234.6 170.4l2.9 1.3 2.5-5.9 -2.8-1.2zM222.6 207l3.5 1.4 2.4-5.9 -3.4-1.4zM230.1 189.3l3.2 1.4 2.4-6 -3.1-1.2zM223.7 214.3l3.6 1.5 2.3-6 -3.5-1.4zM238.1 178.8l3.1 1.2 2.3-5.9 -3-1.2zM227.3 215.8l3.6 1.3 2.2-6 -3.5-1.3zM231.9 203.8l3.4 1.3 2.3-5.9 -3.4-1.3zM241.2 180l3 1.2 2.2-6 -2.9-1.1zM232.4 224.5l3.7 1.3 2-6.1 -3.6-1.2zM253.7 164.3l2.9 1 2-6.1 -2.7-1zM236.1 225.8l3.7 1.2 2-6.1 -3.7-1.2zM258.6 159.2l2.8 .9 1.9-6.1 -2.6-.9zM259.4 166.2l2.9 .9 1.8-6.1 -2.7-.9zM261.4 160.1l2.7 .9 1.9-6.2 -2.7-.8zM269.2 221.6l3.7 .7 1.2-6.3 -3.6-.7zM272.9 222.3l3.7 .7 1.1-6.3 -3.6-.7zM274.1 216l3.6 .7 1.1-6.3 -3.5-.6zM333.3 239.6l3.9-.2 -.3-6.4 -3.9 .2zM393.2 270l4.3-1.1 -1.6-6.3 -4.3 1.1zM427.3 245.8l4-1.6 -2.4-6 -4 1.5zM471 254.3l4.1-2.2 -3.1-5.7 -4.1 2.2zM467.9 248.6l4.1-2.2 -3.2-5.8 -3.9 2.2zM480 241.8l4-2.4 -3.4-5.6 -3.9 2.4zM484 239.4l3.9-2.4 -3.5-5.6 -3.8 2.4z" fill="#48a49c" stroke="#48a49c" stroke-width="0.35"/><path d="M233.7 127l2.3 1.3 3.1-5.7 -2.2-1.2zM223.1 172.1l3 1.4 2.7-5.7 -2.9-1.4zM245.9 126.1l2.2 1.1 2.8-5.8 -2.2-1.1zM215.7 203.9l3.5 1.6 2.6-5.9 -3.4-1.5zM208.8 229l3.8 1.6 2.5-5.9 -3.7-1.6zM214 217.2l3.6 1.6 2.5-5.9 -3.5-1.6zM250.1 135.2l2.4 1.1 2.5-6 -2.3-1zM250.1 149.2l2.6 1 2.4-5.9 -2.6-1zM218 239.7l3.9 1.5 2.3-6 -3.9-1.5zM220.3 233.7l3.9 1.5 2.2-6 -3.8-1.5zM252.7 150.2l2.7 1 2.2-6 -2.5-.9zM255.1 144.3l2.5 .9 2.2-6 -2.4-.9zM235.3 205.1l3.5 1.3 2.1-6 -3.3-1.2zM253.1 157.3l2.8 .9 2.1-6 -2.6-1zM234.5 218.5l3.6 1.2 2.1-6 -3.6-1.3zM234 231.9l3.9 1.2 1.9-6.1 -3.7-1.2zM249.2 223.2l3.7 1 1.7-6.2 -3.6-1zM274.1 137.1l2.4 .7 1.7-6.3 -2.3-.6zM253.4 237.6l3.9 1 1.5-6.2 -3.8-1zM255 231.4l3.8 1 1.6-6.3 -3.8-.9zM277.3 144.7l2.6 .6 1.5-6.3 -2.4-.6zM257.3 238.6l4 .9 1.4-6.2 -3.9-.9zM265.2 240.4l4 .8 1.2-6.3 -3.8-.8zM267.9 227.8l3.8 .8 1.2-6.3 -3.7-.7zM285 146.5l2.6 .5 1.2-6.3 -2.5-.6zM283.3 185.3l3.2 .6 1-6.3 -3-.6zM304.1 207.2l3.5 .2 .3-6.3 -3.3-.3zM317.7 227l3.7 0 0-6.4 -3.6 0zM332.7 226.8l3.8-.2 -.4-6.4 -3.7 .2zM337.2 239.4l4-.3 -.5-6.4 -3.8 .3zM336.5 226.6l3.7-.3 -.4-6.4 -3.7 .3zM345.1 238.8l3.9-.4 -.6-6.4 -3.9 .4zM359.5 256.6l4.2-.6 -1-6.4 -4.1 .6zM359.9 230.6l3.8-.6 -1.1-6.3 -3.7 .5zM372 254.6l4.2-.8 -1.3-6.3 -4 .8zM436.7 234.9l3.8-1.8 -2.7-5.8 -3.7 1.7zM488.1 205.5l3.4-2.5 -3.8-5.2 -3.4 2.5zM495.3 208.2l3.5-2.6 -3.9-5.1 -3.4 2.5zM491.5 203l3.4-2.5 -3.9-5.1 -3.3 2.4zM498.8 205.6l3.4-2.6 -4-5.1 -3.3 2.6zM494.9 200.5l3.3-2.6 -4-5.1 -3.2 2.6zM498.2 197.9l3.3-2.7 -4-5 -3.3 2.6zM509.7 205.3l3.4-2.8 -4.1-5 -3.4 2.8z" fill="#b5e3dc" stroke="#b5e3dc" stroke-width="0.35"/><path d="M226.7 145.1l2.6 1.4 3-5.6 -2.5-1.4zM240 165.8l2.9 1.2 2.4-5.9 -2.8-1.2zM242.9 167l2.9 1.1 2.3-5.9 -2.8-1.1zM248.7 169.2l2.9 1.1 2.1-6 -2.8-1zM225.9 242.7l4 1.4 2.1-6.1 -3.9-1.4zM228.1 236.6l3.9 1.4 2-6.1 -3.8-1.4zM240.9 200.4l3.4 1.1 2-6 -3.3-1.1zM252.5 177.4l3 1 2-6.1 -3-1zM235.9 239.3l4 1.2 1.8-6.2 -3.8-1.2zM239.9 240.5l3.9 1.2 1.8-6.2 -3.9-1.2zM241.7 234.3l3.9 1.2 1.8-6.2 -3.8-1.1zM254.5 204.7l3.4 1 1.7-6.1 -3.3-1zM256.3 198.6l3.3 1 1.7-6.2 -3.2-.9zM264.7 181.1l3.1 .8 1.6-6.2 -3-.8zM258.2 219l3.7 .9 1.5-6.2 -3.6-.9zM264.6 194.3l3.3 .8 1.5-6.2 -3.2-.8zM267.8 181.9l3.1 .8 1.5-6.2 -3-.8zM260.4 226.1l3.7 .9 1.4-6.2 -3.6-.9zM270.9 182.7l3.1 .7 1.4-6.2 -3-.7zM264.1 227l3.8 .8 1.3-6.2 -3.7-.8zM280.2 184.7l3.1 .6 1.2-6.3 -3.1-.5zM281.1 197.9l3.3 .5 1.1-6.2 -3.3-.6zM337.6 245.8l4.1-.3 -.5-6.4 -4 .3zM341.7 245.5l4-.3 -.6-6.4 -3.9 .3zM385.9 258.4l4.2-1 -1.5-6.3 -4.1 1zM395.9 262.6l4.3-1.1 -1.7-6.2 -4.2 1.1zM391.1 243.9l4-1.1 -1.7-6.2 -3.9 1zM396.8 249l4.1-1.1 -1.8-6.2 -4 1.1zM395.1 242.8l4-1.1 -1.8-6.2 -3.9 1.1zM402.7 254.1l4.1-1.2 -1.9-6.2 -4 1.2zM400.9 247.9l4-1.2 -1.9-6.2 -3.9 1.2zM399.1 241.7l3.9-1.2 -1.8-6.2 -3.9 1.2zM408.7 259.1l4.2-1.4 -2-6.1 -4.1 1.3zM414.9 263.9l4.3-1.4 -2.1-6.2 -4.2 1.4zM421.3 254.9l4.2-1.5 -2.3-6.1 -4 1.5zM461.8 237.1l3.9-2.2 -3.1-5.6 -3.8 2z" fill="#00463c" stroke="#00463c" stroke-width="0.35"/><path d="M211.3 180.4l3.1 1.6 2.9-5.7 -3-1.6zM217.3 176.3l3 1.5 2.8-5.7 -2.9-1.5zM209 200.7l3.3 1.7 2.8-5.8 -3.3-1.6zM211.8 195l3.3 1.6 2.7-5.8 -3.2-1.5zM214.6 189.3l3.2 1.5 2.8-5.7 -3.1-1.6zM220.3 177.8l3 1.5 2.8-5.8 -3-1.4zM248.4 189.5l3.2 1 1.9-6.1 -3.1-1zM251.6 190.5l3.2 1 1.9-6.1 -3.2-1zM272.6 189.6l3.2 .7 1.3-6.2 -3.1-.7zM295.2 193.5l3.3 .4 .6-6.3 -3.1-.4zM295.2 225.7l3.7 .3 .6-6.4 -3.7-.3zM298.5 193.9l3.3 .3 .5-6.3 -3.2-.3zM301.2 200.6l3.4 .2 .4-6.3 -3.2-.3zM310.7 214l3.6 .1 .2-6.3 -3.5-.2zM311 207.6l3.5 .2 .2-6.4 -3.4-.2zM314.3 214.1l3.6 .1 .1-6.4 -3.5 0zM314.5 207.8l3.5 0 .1-6.4 -3.4 0zM314.7 201.4l3.4 0 .1-6.3 -3.3-.1zM321.4 214.2l3.6 0 -.1-6.4 -3.5 .1zM321.4 207.9l3.5-.1 -.1-6.4 -3.4 .1zM325 214.2l3.6-.1 -.2-6.3 -3.5 0zM329.3 239.7l4-.1 -.3-6.4 -3.8 .1zM362.7 249.6l4.1-.6 -1.1-6.4 -4 .7zM361.7 243.3l4-.7 -1-6.3 -3.9 .6zM366.8 249l4.1-.7 -1.2-6.4 -4 .7zM364.7 236.3l3.9-.7 -1.1-6.3 -3.8 .7zM370.9 248.3l4-.8 -1.2-6.3 -4 .7zM467.2 204.1l3.4-2.2 -3.6-5.4 -3.3 2.2z" fill="#def0ed" stroke="#def0ed" stroke-width="0.35"/><path d="M214.3 174.7l3 1.6 2.9-5.7 -2.9-1.5zM211.4 187.6l3.2 1.7 2.9-5.8 -3.1-1.5zM214.4 182l3.1 1.5 2.8-5.7 -3-1.5zM217.5 183.5l3.1 1.6 2.7-5.8 -3-1.5zM215.1 196.6l3.3 1.5 2.7-5.8 -3.3-1.5zM220.6 185.1l3.1 1.4 2.7-5.8 -3.1-1.4zM218.4 198.1l3.4 1.5 2.5-5.8 -3.2-1.5zM223.7 186.5l3.2 1.4 2.6-5.8 -3.1-1.4zM242.4 152.9l2.6 1.1 2.5-5.9 -2.6-1.1zM238.1 219.7l3.7 1.2 2-6.1 -3.6-1.1zM249.6 196.6l3.3 1 1.9-6.1 -3.2-1zM273.6 130.2l2.3 .7 1.8-6.3 -2.3-.6zM269.4 175.7l3 .8 1.5-6.2 -3-.8zM294.5 199.9l3.3 .3 .7-6.3 -3.3-.4zM297.2 206.6l3.4 .3 .6-6.3 -3.4-.4zM297.8 200.2l3.4 .4 .6-6.4 -3.3-.3zM298.9 226l3.8 .3 .4-6.4 -3.6-.3zM302.7 226.3l3.7 .3 .4-6.4 -3.7-.3zM304.6 200.8l3.3 .3 .4-6.4 -3.3-.2zM306.4 226.6l3.8 .2 .3-6.4 -3.7-.2zM308.3 194.7l3.3 .2 .3-6.4 -3.2-.2zM311.3 201.2l3.4 .2 .2-6.4 -3.3-.1zM317.9 214.2l3.5 0 0-6.3 -3.4-.1zM318 207.8l3.4 .1 0-6.4 -3.3-.1zM329.2 233.3l3.8-.1 -.3-6.4 -3.7 .1zM333 233.2l3.9-.2 -.4-6.4 -3.8 .2zM348.4 232l3.8-.4 -.7-6.4 -3.8 .5zM354.5 250.7l4.1-.5 -.9-6.4 -4 .5zM352.2 231.6l3.8-.5 -.8-6.3 -3.7 .4zM358.6 250.2l4.1-.6 -1-6.3 -4 .5zM360.8 236.9l3.9-.6 -1-6.3 -3.8 .6zM369.7 241.9l4-.7 -1.2-6.3 -3.9 .7zM368.6 235.6l3.9-.7 -1.3-6.3 -3.7 .7zM397.3 235.5l3.9-1.2 -1.9-6.1 -3.8 1.1zM415.3 195.2l3.3-1.4 -2.6-5.9 -3.2 1.4zM506.2 208.1l3.5-2.8 -4.1-5 -3.4 2.7z" fill="#d2ede9" stroke="#d2ede9" stroke-width="0.35"/><path d="M240.7 130.7l2.3 1.2 2.9-5.8 -2.3-1.1zM243 131.9l2.4 1.2 2.7-5.9 -2.2-1.1zM260.4 173.2l3 .9 1.8-6.1 -2.9-.9zM282.4 159.1l2.7 .5 1.2-6.3 -2.6-.5zM283.4 204.7l3.4 .6 1-6.3 -3.4-.6zM284.4 198.4l3.4 .6 .9-6.3 -3.2-.5zM286.8 205.3l3.5 .5 .8-6.4 -3.3-.4zM291.1 199.4l3.4 .5 .7-6.4 -3.2-.4zM294.5 174.1l3 .4 .7-6.3 -2.8-.4zM293 212.5l3.5 .4 .7-6.3 -3.5-.4zM296.7 180.9l3.1 .3 .7-6.4 -3-.3zM309.4 175.6l3 .1 .3-6.4 -2.9-.1zM312.4 175.7l3 .1 .2-6.4 -2.9-.1zM314.1 220.5l3.7 .1 .1-6.4 -3.6-.1zM321.4 195.1l3.3 0 -.1-6.4 -3.2 0zM321.4 182.3l3.1 0 0-6.4 -3.1 0zM324.8 201.4l3.4 0 -.2-6.4 -3.3 .1zM324.7 195.1l3.3-.1 -.2-6.4 -3.2 .1zM328.6 214.1l3.6-.1 -.3-6.4 -3.5 .2zM328.4 207.8l3.5-.2 -.3-6.4 -3.4 .2zM331.6 201.2l3.4-.1 -.4-6.4 -3.3 .2zM331.3 194.9l3.3-.2 -.4-6.4 -3.2 .2zM330.5 175.7l3-.1 -.4-6.4 -2.9 .1zM333.5 175.6l2.9-.2 -.4-6.4 -2.9 .2zM336.4 175.4l3-.3 -.5-6.3 -2.9 .2zM404.1 294.4l4.7-1.3 -1.7-6.4 -4.7 1.3zM427.8 224.7l3.7-1.6 -2.6-5.9 -3.6 1.6zM420.3 207l3.4-1.5 -2.6-5.9 -3.3 1.5zM417.8 201.1l3.3-1.5 -2.5-5.8 -3.3 1.4zM436.1 213.9l3.5-1.7 -2.8-5.8 -3.5 1.7zM439.6 212.2l3.6-1.8 -3-5.7 -3.4 1.7zM452.7 219.9l3.6-1.9 -3.1-5.7 -3.5 2zM449.7 214.3l3.5-2 -3.1-5.6 -3.4 1.9zM450.4 199.2l3.3-1.9 -3.2-5.5 -3.3 1.8zM457 202.8l3.4-2 -3.4-5.5 -3.3 2zM453.7 197.3l3.3-2 -3.3-5.5 -3.2 2zM470.6 209.5l3.5-2.2 -3.5-5.4 -3.4 2.2zM491.8 210.8l3.5-2.6 -3.8-5.2 -3.4 2.5z" fill="#f6eedc" stroke="#f6eedc" stroke-width="0.35"/><path d="M225.9 166.4l2.9 1.4 2.8-5.8 -2.8-1.3zM210.4 215.6l3.6 1.6 2.6-5.9 -3.5-1.5zM216.6 211.3l3.5 1.6 2.5-5.9 -3.4-1.5zM235.7 184.7l3.1 1.3 2.4-6 -3.1-1.2zM238.8 186l3.2 1.2 2.2-6 -3-1.2zM230.2 230.5l3.8 1.4 2.1-6.1 -3.7-1.3zM266.9 214.5l3.6 .8 1.3-6.2 -3.5-.8zM270.5 215.3l3.6 .7 1.2-6.2 -3.5-.7zM463.8 250.7l4.1-2.1 -3-5.8 -4.1 2.1zM475.1 252.1l4.2-2.3 -3.3-5.7 -4 2.3zM483.3 247.4l4.1-2.4 -3.4-5.6 -4 2.4zM487.9 237l3.9-2.5 -3.6-5.5 -3.8 2.4zM491.8 234.5l3.8-2.6 -3.6-5.4 -3.8 2.5z" fill="#5ab2a8" stroke="#5ab2a8" stroke-width="0.35"/><path d="M217.8 190.8l3.3 1.5 2.6-5.8 -3.1-1.4zM281 165.3l2.9 .6 1.2-6.3 -2.7-.5zM287.5 179.6l3.1 .4 .9-6.3 -2.9-.5zM291.5 173.7l3 .4 .9-6.3 -2.9-.4zM287.7 224.8l3.7 .4 .8-6.3 -3.6-.5zM291.4 225.2l3.8 .5 .6-6.4 -3.6-.4zM300.5 174.8l3 .3 .5-6.3 -2.9-.3zM321.4 220.6l3.7 0 -.1-6.4 -3.6 0zM325.1 220.6l3.7-.1 -.2-6.4 -3.6 .1zM336.1 220.2l3.7-.3 -.5-6.3 -3.6 .2zM335.7 213.8l3.6-.2 -.5-6.4 -3.5 .2zM343.4 219.6l3.7-.3 -.7-6.4 -3.6 .4zM342.8 213.3l3.6-.4 -.7-6.3 -3.4 .3zM346.4 212.9l3.5-.4 -.7-6.3 -3.5 .4zM367.5 229.3l3.7-.7 -1.2-6.3 -3.7 .7zM366.3 223l3.7-.7 -1.2-6.3 -3.6 .7zM450.1 206.7l3.5-1.9 -3.2-5.6 -3.4 1.9zM447 201.1l3.4-1.9 -3.2-5.6 -3.3 1.9z" fill="#eaf2f1" stroke="#eaf2f1" stroke-width="0.35"/><path d="M245.4 133.1l2.3 1.1 2.7-5.9 -2.3-1.1zM221.1 192.3l3.2 1.5 2.6-5.9 -3.2-1.4zM278.2 164.7l2.8 .6 1.4-6.2 -2.8-.6zM279.6 158.5l2.8 .6 1.3-6.3 -2.7-.6zM285.1 159.6l2.8 .5 1.1-6.3 -2.7-.5zM285.6 172.7l3 .5 1-6.3 -2.9-.5zM286.5 185.9l3.1 .5 1-6.4 -3.1-.4zM284.9 217.9l3.7 .5 .8-6.3 -3.5-.5zM285.9 211.6l3.5 .5 .9-6.3 -3.5-.5zM287.8 199l3.3 .4 .9-6.3 -3.3-.4zM288.7 192.7l3.3 .4 .8-6.3 -3.2-.4zM290.6 180l3.1 .5 .8-6.4 -3-.4zM292.8 186.8l3.2 .4 .7-6.3 -3-.4zM293.7 206.2l3.5 .4 .6-6.4 -3.3-.3zM296.5 212.9l3.6 .4 .5-6.4 -3.4-.3zM299.8 181.2l3.1 .3 .6-6.4 -3-.3zM303.6 213.6l3.6 .2 .4-6.4 -3.5-.2zM310.5 220.4l3.6 .1 .2-6.4 -3.6-.1zM321.4 201.5l3.4-.1 -.1-6.3 -3.3 0zM328.8 220.5l3.6-.1 -.2-6.4 -3.6 .1zM332.4 220.4l3.7-.2 -.4-6.4 -3.5 .2zM331.9 207.6l3.4-.2 -.3-6.3 -3.4 .1zM335.3 207.4l3.5-.2 -.5-6.4 -3.3 .3zM339.8 219.9l3.6-.3 -.6-6.3 -3.5 .3zM349.9 212.5l3.6-.4 -.9-6.3 -3.4 .4zM353.5 212.1l3.5-.5 -.9-6.3 -3.5 .5zM357 211.6l3.5-.6 -1-6.3 -3.4 .6zM363.7 230l3.8-.7 -1.2-6.3 -3.7 .7zM430.6 202.4l3.3-1.7 -2.8-5.7 -3.3 1.6zM460.4 200.8l3.3-2.1 -3.4-5.5 -3.3 2.1zM470.6 201.9l3.3-2.2 -3.6-5.3 -3.3 2.1z" fill="#f5f5f5" stroke="#f5f5f5" stroke-width="0.35"/><path d="M211.4 223.1l3.7 1.6 2.5-5.9 -3.6-1.6zM404.8 219.7l3.6-1.2 -2.1-6.1 -3.6 1.3zM412.7 230.5l3.8-1.3 -2.2-6.1 -3.8 1.4zM478.3 257.8l4.2-2.3 -3.2-5.7 -4.2 2.3z" fill="#80cdc1" stroke="#80cdc1" stroke-width="0.35"/><path d="M219.2 205.5l3.4 1.5 2.5-5.9 -3.3-1.5zM268.3 208.3l3.5 .8 1.3-6.3 -3.4-.7zM277.7 216.7l3.6 .6 1.1-6.3 -3.6-.6zM278.8 210.4l3.6 .6 1-6.3 -3.4-.5zM282.4 211l3.5 .6 .9-6.3 -3.4-.6zM325.2 227l3.8-.1 -.2-6.4 -3.7 .1zM406.8 225.8l3.7-1.3 -2.1-6 -3.6 1.2zM414.3 223.1l3.6-1.4 -2.3-5.9 -3.6 1.3zM422.6 233.7l3.8-1.5 -2.4-6 -3.7 1.5zM420.3 227.7l3.7-1.5 -2.4-5.9 -3.7 1.4z" fill="#6dc0b4" stroke="#6dc0b4" stroke-width="0.35"/><path d="M239.8 227l3.8 1.2 1.9-6.1 -3.7-1.2zM261.3 193.4l3.3 .9 1.6-6.2 -3.2-.9zM266.2 188.1l3.2 .8 1.5-6.2 -3.1-.8zM274.5 196.6l3.3 .7 1.2-6.3 -3.2-.7zM275.8 190.3l3.2 .7 1.2-6.3 -3.1-.6zM277.8 197.3l3.3 .6 1.1-6.3 -3.2-.6zM338 252.2l4.1-.3 -.4-6.4 -4.1 .3zM345.7 245.2l4-.4 -.7-6.4 -3.9 .4zM391.6 263.7l4.3-1.1 -1.6-6.2 -4.2 1zM390.1 257.4l4.2-1 -1.6-6.3 -4.1 1zM388.6 251.1l4.1-1 -1.6-6.2 -4 1zM392.7 250.1l4.1-1.1 -1.7-6.2 -4 1.1zM398.5 255.3l4.2-1.2 -1.8-6.2 -4.1 1.1zM404.5 260.3l4.2-1.2 -1.9-6.2 -4.1 1.2zM412.9 257.7l4.2-1.4 -2-6.1 -4.2 1.4zM415.1 250.2l4.1-1.4 -2.2-6.1 -4 1.4zM419.2 248.8l4-1.5 -2.2-6.1 -4 1.5zM423.2 247.3l4.1-1.5 -2.4-6.1 -3.9 1.5zM412 217.1l3.6-1.3 -2.3-6 -3.5 1.3zM458.8 231.3l3.8-2 -3.2-5.7 -3.7 2z" fill="#005147" stroke="#005147" stroke-width="0.35"/><path d="M254.8 191.5l3.3 1 1.7-6.1 -3.1-1zM416 187.9l3.2-1.4 -2.7-5.8 -3.1 1.4zM419.2 186.5l3.1-1.4 -2.7-5.8 -3.1 1.4z" fill="#bf812d" stroke="#bf812d" stroke-width="0.35"/><path d="M258.5 179.3l3.1 .9 1.8-6.1 -3-.9zM456.6 180.5l3-2.1 -3.6-5.3 -2.9 2z" fill="#b27524" stroke="#b27524" stroke-width="0.35"/><path d="M262.3 167.1l2.9 .9 1.7-6.2 -2.8-.8zM267.9 148.7l2.6 .8 1.8-6.2 -2.5-.8zM263.4 174.1l3 .8 1.6-6.1 -2.8-.8zM273.1 150.2l2.6 .7 1.6-6.2 -2.5-.7zM275.7 150.9l2.7 .7 1.5-6.3 -2.6-.6zM273.9 170.3l2.9 .6 1.4-6.2 -2.8-.7zM278.4 151.6l2.6 .6 1.4-6.3 -2.5-.6zM276.8 170.9l2.9 .7 1.3-6.3 -2.8-.6zM283.7 152.8l2.6 .5 1.3-6.3 -2.6-.5zM286.7 166.4l2.9 .5 1-6.3 -2.7-.5zM289.6 166.9l2.9 .5 .9-6.4 -2.8-.4zM302.3 187.9l3.2 .2 .5-6.3 -3.1-.3zM305.5 188.1l3.2 .2 .4-6.3 -3.1-.2zM306.5 175.4l2.9 .2 .4-6.4 -2.9-.2zM311.6 194.9l3.3 .1 .2-6.4 -3.2-.1zM315.3 182.2l3.1 .1 0-6.4 -3-.1zM315.4 175.8l3 .1 .1-6.4 -2.9-.1zM318.2 195.1l3.2 0 0-6.4 -3.1 0zM318.3 188.7l3.1 0 0-6.4 -3 0zM318.4 175.9l3 0 0-6.4 -2.9 0zM321.4 188.7l3.2 0 -.1-6.4 -3.1 0zM324.6 188.7l3.2-.1 -.2-6.4 -3.1 .1zM328.2 201.4l3.4-.2 -.3-6.3 -3.3 .1zM328 195l3.3-.1 -.3-6.4 -3.2 .1zM327.8 188.6l3.2-.1 -.3-6.4 -3.1 .1zM335 201.1l3.3-.3 -.4-6.3 -3.3 .2zM334.2 188.3l3.2-.2 -.5-6.3 -3.1 .2zM399.1 214.8l3.6-1.1 -2-6.1 -3.5 1.1zM453.2 212.3l3.6-2 -3.2-5.5 -3.5 1.9zM459.9 215.9l3.6-2 -3.3-5.6 -3.4 2zM463.5 213.9l3.6-2.2 -3.4-5.5 -3.5 2.1z" fill="#f6e8c3" stroke="#f6e8c3" stroke-width="0.35"/><path d="M264.1 161l2.8 .8 1.8-6.2 -2.7-.8zM266 154.8l2.7 .8 1.8-6.1 -2.6-.8zM265.2 168l2.8 .8 1.7-6.2 -2.8-.8zM270.5 149.5l2.6 .7 1.7-6.2 -2.5-.7zM268 168.8l2.9 .7 1.6-6.2 -2.8-.7zM269.7 162.6l2.8 .7 1.6-6.2 -2.7-.7zM272.5 163.3l2.9 .7 1.5-6.2 -2.8-.7zM279.7 171.6l3 .6 1.2-6.3 -2.9-.6zM353.7 244.3l4-.5 -.8-6.3 -3.9 .5zM402.7 213.7l3.6-1.3 -2.2-6 -3.4 1.2zM400.7 207.6l3.4-1.2 -2.1-6 -3.4 1.1zM406.3 212.4l3.5-1.3 -2.2-6 -3.5 1.3zM409.8 211.1l3.5-1.3 -2.3-6 -3.4 1.3zM413.3 209.8l3.5-1.4 -2.4-5.9 -3.4 1.3zM416.8 208.4l3.5-1.4 -2.5-5.9 -3.4 1.4zM414.4 202.5l3.4-1.4 -2.5-5.9 -3.3 1.4zM434.1 229l3.7-1.7 -2.6-5.9 -3.7 1.7zM431.5 223.1l3.7-1.7 -2.7-5.8 -3.6 1.6zM428.9 217.2l3.6-1.6 -2.7-5.8 -3.5 1.5zM431.1 195l3.3-1.7 -2.9-5.7 -3.2 1.7zM449 221.9l3.7-2 -3-5.6 -3.6 1.8zM443.9 195.5l3.3-1.9 -3.2-5.5 -3.1 1.8zM437.8 184.3l3.1-1.8 -3.2-5.5 -3 1.7zM447.2 193.6l3.3-1.8 -3.3-5.5 -3.2 1.8zM444 180.8l3-1.9 -3.3-5.4 -3 1.8zM460.3 193.2l3.2-2 -3.5-5.4 -3.1 2zM467 196.5l3.3-2.1 -3.5-5.4 -3.3 2.2z" fill="#ead5a0" stroke="#ead5a0" stroke-width="0.35"/><path d="M261.6 180.2l3.1 .9 1.7-6.2 -3-.8zM313.6 239.7l3.9 .1 .1-6.4 -3.9-.1z" fill="#a6691c" stroke="#a6691c" stroke-width="0.35"/><path d="M266.9 161.8l2.8 .8 1.7-6.2 -2.7-.8zM268.7 155.6l2.7 .8 1.7-6.2 -2.6-.7zM271.4 156.4l2.7 .7 1.6-6.2 -2.6-.7zM270.9 169.5l3 .8 1.5-6.3 -2.9-.7zM274.1 157.1l2.8 .7 1.5-6.2 -2.7-.7zM282.7 172.2l2.9 .5 1.1-6.3 -2.8-.5zM286.3 153.3l2.7 .5 1.2-6.3 -2.6-.5zM287.9 160.1l2.7 .5 1.1-6.3 -2.7-.5zM289 153.8l2.7 .5 1-6.4 -2.5-.4zM308.7 188.3l3.2 .2 .3-6.4 -3.1-.1zM314.9 195l3.3 .1 .1-6.4 -3.2-.1zM334.6 194.7l3.3-.2 -.5-6.4 -3.2 .2zM349 238.4l4-.4 -.8-6.4 -3.8 .4zM353 238l3.9-.5 -.9-6.4 -3.8 .5zM357.7 243.8l4-.5 -.9-6.4 -3.9 .6zM356.9 237.5l3.9-.6 -.9-6.3 -3.9 .5zM397.2 208.7l3.5-1.1 -2.1-6.1 -3.4 1.2zM411 203.8l3.4-1.3 -2.4-5.9 -3.3 1.3zM440.2 204.7l3.4-1.8 -3-5.6 -3.3 1.7z" fill="#f0deb2" stroke="#f0deb2" stroke-width="0.35"/><path d="M250.2 250.1l4.1 1 1.5-6.2 -4-1zM254.3 251.1l4.1 1 1.5-6.3 -4.1-.9zM325.5 246.2l4-.1 -.2-6.4 -3.9 .1zM421.8 192.3l3.3-1.5 -2.8-5.7 -3.1 1.4zM419.6 179.3l3-1.5 -2.8-5.7 -3 1.4zM428.5 182l3.1-1.6 -3-5.7 -3 1.6zM431.6 180.4l3.1-1.7 -3.1-5.6 -3 1.6zM456.9 187.8l3.1-2 -3.4-5.3 -3.1 1.9zM470.3 194.4l3.3-2.3 -3.7-5.2 -3.1 2.1zM473.1 184.6l3.1-2.2 -3.8-5.2 -3 2.2zM480 187.5l3.2-2.4 -3.9-5.1 -3.1 2.4zM476.2 182.4l3.1-2.4 -3.9-5 -3 2.2z" fill="#d7b269" stroke="#d7b269" stroke-width="0.35"/><path d="M251.8 243.9l4 1 1.5-6.3 -3.9-1zM258.4 252.1l4.2 .9 1.3-6.3 -4-.9zM407.6 205.1l3.4-1.3 -2.3-5.9 -3.4 1.3zM407.2 184.7l3.1-1.2 -2.5-5.9 -3 1.2zM410.3 183.5l3.1-1.4 -2.5-5.8 -3.1 1.3zM413.4 182.1l3.1-1.4 -2.6-5.8 -3 1.4zM435.2 221.4l3.6-1.7 -2.7-5.8 -3.6 1.7zM416.5 180.7l3.1-1.4 -2.8-5.8 -2.9 1.4zM444.4 231.3l3.8-1.8 -2.9-5.8 -3.7 1.8zM438.8 219.7l3.7-1.8 -2.9-5.7 -3.5 1.7zM425.1 190.8l3.2-1.5 -2.9-5.8 -3.1 1.6zM445.3 223.7l3.7-1.8 -2.9-5.8 -3.6 1.8zM442.5 217.9l3.6-1.8 -2.9-5.7 -3.6 1.8zM428.3 189.3l3.2-1.7 -3-5.6 -3.1 1.5zM422.6 177.8l3-1.5 -2.9-5.7 -2.9 1.5zM431.5 187.6l3.1-1.6 -3-5.6 -3.1 1.6zM437.6 191.6l3.3-1.7 -3.1-5.6 -3.2 1.7zM434.6 186l3.2-1.7 -3.1-5.6 -3.1 1.7zM447.2 186.3l3.2-1.9 -3.4-5.5 -3 1.9zM453.7 189.8l3.2-2 -3.4-5.4 -3.1 2zM463.5 191.2l3.3-2.2 -3.6-5.3 -3.2 2.1zM460 185.8l3.2-2.1 -3.6-5.3 -3 2.1zM473.9 199.7l3.4-2.3 -3.7-5.3 -3.3 2.3zM463.2 183.7l3.1-2.1 -3.7-5.2 -3 2zM473.6 192.1l3.2-2.3 -3.7-5.2 -3.2 2.3zM469.9 186.9l3.2-2.3 -3.7-5.2 -3.1 2.2zM466.3 181.6l3.1-2.2 -3.8-5.2 -3 2.2zM476.8 189.8l3.2-2.3 -3.8-5.1 -3.1 2.2z" fill="#dfc27d" stroke="#dfc27d" stroke-width="0.35"/><path d="M255.8 244.9l4.1 .9 1.4-6.3 -4-.9zM259.9 245.8l4 .9 1.3-6.3 -3.9-.9zM302.2 232.7l3.8 .3 .4-6.4 -3.7-.3zM422.3 185.1l3.1-1.6 -2.8-5.7 -3 1.5zM453.5 182.4l3.1-1.9 -3.5-5.4 -3 1.9z" fill="#c79141" stroke="#c79141" stroke-width="0.35"/><path d="M275.4 164l2.8 .7 1.4-6.2 -2.7-.7zM281 152.2l2.7 .6 1.3-6.3 -2.6-.6zM290.6 160.6l2.8 .4 1-6.3 -2.7-.4zM302.9 181.5l3.1 .3 .5-6.4 -3-.3zM303.5 175.1l3 .3 .4-6.4 -2.9-.2zM306 181.8l3.1 .2 .3-6.4 -2.9-.2zM307.2 213.8l3.5 .2 .3-6.4 -3.4-.2zM309.1 182l3.1 .1 .2-6.4 -3-.1zM311.9 188.5l3.2 .1 .2-6.4 -3.1-.1zM312.2 182.1l3.1 .1 .1-6.4 -3-.1zM315.1 188.6l3.2 .1 .1-6.4 -3.1-.1zM318.4 182.3l3 0 0-6.4 -3 0zM324.5 182.3l3.1-.1 -.1-6.4 -3 .1zM324.5 175.9l3-.1 -.2-6.4 -2.9 .1zM327.6 182.2l3.1-.1 -.2-6.4 -3 .1zM327.5 175.8l3-.1 -.3-6.4 -2.9 .1zM331 188.5l3.2-.2 -.4-6.3 -3.1 .1zM330.7 182.1l3.1-.1 -.3-6.4 -3 .1zM333.8 182l3.1-.2 -.5-6.4 -2.9 .2zM419.2 214.3l3.6-1.4 -2.5-5.9 -3.5 1.4zM426.3 211.3l3.5-1.5 -2.6-5.9 -3.5 1.6zM423.7 205.5l3.5-1.6 -2.7-5.8 -3.4 1.5zM432.5 215.6l3.6-1.7 -2.8-5.8 -3.5 1.7zM424.5 198.1l3.3-1.5 -2.7-5.8 -3.3 1.5zM427.8 196.6l3.3-1.6 -2.8-5.7 -3.2 1.5zM433.9 200.7l3.4-1.7 -2.9-5.7 -3.3 1.7zM452 227.6l3.7-2 -3-5.7 -3.7 2zM446.1 216.1l3.6-1.8 -3-5.7 -3.5 1.8zM443.2 210.4l3.5-1.8 -3.1-5.7 -3.4 1.8zM437.3 199l3.3-1.7 -3-5.7 -3.2 1.7zM446.7 208.6l3.4-1.9 -3.1-5.6 -3.4 1.8zM443.6 202.9l3.4-1.8 -3.1-5.6 -3.3 1.8zM456.3 218l3.6-2.1 -3.1-5.6 -3.6 2zM467.1 211.7l3.5-2.2 -3.4-5.4 -3.5 2.1z" fill="#f6ebd0" stroke="#f6ebd0" stroke-width="0.35"/><path d="M276.9 157.8l2.7 .7 1.4-6.3 -2.6-.6zM283.9 165.9l2.8 .5 1.2-6.3 -2.8-.5zM285.5 192.2l3.2 .5 .9-6.3 -3.1-.5zM289.6 186.4l3.2 .4 .9-6.3 -3.1-.5zM289.4 212.1l3.6 .4 .7-6.3 -3.4-.4zM290.3 205.8l3.4 .4 .8-6.3 -3.4-.5zM292 193.1l3.2 .4 .8-6.3 -3.2-.4zM293.7 180.5l3 .4 .8-6.4 -3-.4zM296 187.2l3.1 .4 .7-6.4 -3.1-.3zM297.5 174.5l3 .3 .6-6.3 -2.9-.3zM299.1 187.6l3.2 .3 .6-6.4 -3.1-.3zM300.1 213.3l3.5 .3 .5-6.4 -3.5-.3zM317.8 220.6l3.6 0 0-6.4 -3.5 0zM321.4 175.9l3.1 0 -.1-6.4 -3 0zM332.2 214l3.5-.2 -.4-6.4 -3.4 .2zM339.3 213.6l3.5-.3 -.5-6.4 -3.5 .3zM338.8 207.2l3.5-.3 -.6-6.3 -3.4 .2zM342.3 206.9l3.4-.3 -.6-6.4 -3.4 .4zM425.3 218.8l3.6-1.6 -2.6-5.9 -3.5 1.6zM422.8 212.9l3.5-1.6 -2.6-5.8 -3.4 1.5zM421.1 199.6l3.4-1.5 -2.7-5.8 -3.2 1.5zM427.2 203.9l3.4-1.5 -2.8-5.8 -3.3 1.5zM433.3 208.1l3.5-1.7 -2.9-5.7 -3.3 1.7zM436.8 206.4l3.4-1.7 -2.9-5.7 -3.4 1.7zM455.7 225.6l3.7-2 -3.1-5.6 -3.6 1.9zM456.8 210.3l3.4-2 -3.2-5.5 -3.4 2zM453.6 204.8l3.4-2 -3.3-5.5 -3.3 1.9zM460.2 208.3l3.5-2.1 -3.3-5.4 -3.4 2zM463.7 206.2l3.5-2.1 -3.5-5.4 -3.3 2.1zM463.7 198.7l3.3-2.2 -3.5-5.3 -3.2 2zM474.1 207.3l3.4-2.3 -3.6-5.3 -3.3 2.2zM488.3 213.3l3.5-2.5 -3.7-5.3 -3.5 2.5z" fill="#f5f2e8" stroke="#f5f2e8" stroke-width="0.35"/><path d="M306 233l3.9 .2 .3-6.4 -3.8-.2zM309.6 239.6l4 .1 .1-6.4 -3.8-.1zM309.9 233.2l3.8 .1 .2-6.4 -3.7-.1zM321.4 239.8l4 0 -.1-6.4 -3.9 0zM349.7 244.8l4-.5 -.7-6.3 -4 .4zM404.1 206.4l3.5-1.3 -2.3-5.9 -3.3 1.2zM440.5 233.1l3.9-1.8 -2.8-5.8 -3.8 1.8zM437.8 227.3l3.8-1.8 -2.8-5.8 -3.6 1.7zM441.6 225.5l3.7-1.8 -2.8-5.8 -3.7 1.8zM448.2 229.5l3.8-1.9 -3-5.7 -3.7 1.8zM425.6 176.3l3-1.6 -3-5.6 -2.9 1.5zM440.6 197.3l3.3-1.8 -3-5.6 -3.3 1.7zM428.6 174.7l3-1.6 -3.1-5.6 -2.9 1.6zM440.9 182.5l3.1-1.7 -3.3-5.5 -3 1.7zM450.5 191.8l3.2-2 -3.3-5.4 -3.2 1.9zM450.4 184.4l3.1-2 -3.4-5.4 -3.1 1.9zM466.8 189l3.1-2.1 -3.6-5.3 -3.1 2.1zM477.3 197.4l3.3-2.3 -3.8-5.3 -3.2 2.3z" fill="#e5cc8e" stroke="#e5cc8e" stroke-width="0.35"/><path d="M309.3 246l4.1 .1 .2-6.4 -4-.1z" fill="#8c510a" stroke="#8c510a" stroke-width="0.35"/><path d="M313.4 246.1l4 .1 .1-6.4 -3.9-.1z" fill="#7e4909" stroke="#7e4909" stroke-width="0.35"/><path d="M313.7 233.3l3.9 .1 .1-6.4 -3.8-.1z" fill="#995d13" stroke="#995d13" stroke-width="0.35"/><path d="M317.5 239.8l3.9 0 0-6.4 -3.8 0zM418.6 193.8l3.2-1.5 -2.6-5.8 -3.2 1.4zM425.4 183.5l3.1-1.5 -2.9-5.7 -3 1.5zM457 195.3l3.3-2.1 -3.4-5.4 -3.2 2z" fill="#cfa255" stroke="#cfa255" stroke-width="0.35"/><path d="M381.7 259.3l4.2-.9 -1.4-6.3 -4.2 .9zM388.8 271.1l4.4-1.1 -1.6-6.3 -4.3 1zM403 240.5l4-1.2 -2-6.2 -3.8 1.2zM416.9 270.1l4.4-1.4 -2.1-6.2 -4.3 1.4zM407 239.3l3.9-1.3 -2-6.1 -3.9 1.2zM423.5 261l4.2-1.5 -2.2-6.1 -4.2 1.5zM418.7 235.2l3.9-1.5 -2.3-6 -3.8 1.5zM434.3 263.9l4.3-1.7 -2.4-6 -4.2 1.7zM432 257.9l4.2-1.7 -2.5-6 -4.1 1.6zM436.2 256.2l4.2-1.7 -2.6-6 -4.1 1.7zM440.4 254.5l4.1-1.8 -2.6-6 -4.1 1.8zM432.8 236.6l3.9-1.7 -2.6-5.9 -3.8 1.6z" fill="#0e726a" stroke="#0e726a" stroke-width="0.35"/><path d="M410.9 238l3.9-1.4 -2.1-6.1 -3.8 1.4zM460.8 244.9l4.1-2.1 -3.1-5.7 -3.9 2zM465.7 234.9l3.9-2.1 -3.3-5.7 -3.7 2.2zM462.6 229.3l3.7-2.2 -3.2-5.6 -3.7 2.1z" fill="#01665e" stroke="#01665e" stroke-width="0.35"/><path d="M457.9 239.1l3.9-2 -3-5.8 -3.9 2zM468.8 240.6l4-2.2 -3.2-5.6 -3.9 2.1z" fill="#015c52" stroke="#015c52" stroke-width="0.35"/></g>
<g fill="none" stroke="#000" stroke-width="1" stroke-linejoin="round"><use href="#ld"/><use href="#wt"/><use href="#bd" stroke-width="0.8"/><use href="#sc" stroke-width="0.8"/></g>
</g></g>
<path d="M93.21 562.78A338.09 338.09 0 0 0 549.69 562.78L400.96 400.24A117.78 117.78 0 0 1 241.94 400.24Z" fill="none" stroke="#000" stroke-width="1.15"/>
<path d="M110.99 543.35l3.39 3.11M531.91 543.35l-3.39 3.11M154.52 495.78l3.39 3.11M488.38 495.78l-3.39 3.11M197.67 448.62l3.39 3.11M445.23 448.62l-3.39 3.11M222.69 636.7l1.34 -4.4M287.04 426l-1.34 4.4M371.38 647.74l-0.68 -4.55M338.84 429.84l0.68 4.55M510.35 593.75l-2.57 -3.82M387.26 411.03l2.57 3.82" fill="none" stroke="#000" stroke-width="1"/>
<text transform="translate(105.98 538.76) rotate(42.46)" text-anchor="end" dy="0.36em" font-size="22" fill="#000">45°N</text>
<text transform="translate(149.5 491.19) rotate(42.46)" text-anchor="end" dy="0.36em" font-size="22" fill="#000">55°N</text>
<text transform="translate(192.66 444.03) rotate(42.46)" text-anchor="end" dy="0.36em" font-size="22" fill="#000">65°N</text>
<text transform="translate(86.14 572.44) rotate(42.46)" text-anchor="middle" dy="0.36em" font-size="20.7" fill="#000">160°W</text>
<text transform="translate(220.46 648.46) rotate(16.98)" text-anchor="middle" dy="0.36em" font-size="20.7" fill="#000">130°W</text>
<text transform="translate(374.42 659.31) rotate(-8.49)" text-anchor="middle" dy="0.36em" font-size="20.7" fill="#000">100°W</text>
<text transform="translate(518.08 602.89) rotate(-33.97)" text-anchor="middle" dy="0.36em" font-size="20.7" fill="#000">70°W</text>
<text x="321.3" y="395.3" text-anchor="middle" font-size="21.75" font-weight="bold" fill="#000">TER anomalies (GCAS-extra)</text>
<g transform="translate(679.6 340)">
<g clip-path="url(#fc)">
<use href="#ld" fill="#bfbfbf"/><use href="#wt" fill="#fff"/>
<g shape-rendering="crispEdges"><path d="M213.1 129.1l2.3 1.6 3.6-5.3 -2.2-1.5zM215.8 146.2l2.6 1.6 3.3-5.5 -2.5-1.5zM222.5 135.3l2.4 1.4 3.3-5.5 -2.3-1.4zM214.7 160.4l2.8 1.5 3-5.6 -2.7-1.5zM227.4 138.2l2.4 1.3 3.1-5.6 -2.4-1.3zM226.3 152.2l2.6 1.4 3-5.7 -2.6-1.4zM232.3 140.9l2.5 1.3 2.9-5.7 -2.4-1.3zM225.9 166.4l2.9 1.4 2.8-5.8 -2.8-1.3zM218.4 198.1l3.4 1.5 2.5-5.8 -3.2-1.5zM234.4 163.3l2.8 1.3 2.6-5.9 -2.8-1.2zM226.9 187.9l3.2 1.4 2.5-5.8 -3.1-1.4zM234.6 170.4l2.9 1.3 2.5-5.9 -2.8-1.2zM237.2 164.6l2.8 1.2 2.5-5.9 -2.7-1.2zM252.7 129.3l2.3 1 2.6-5.9 -2.3-1zM259.8 139.2l2.5 .9 2.2-6.1 -2.4-.9zM277.3 144.7l2.6 .6 1.5-6.3 -2.4-.6zM279.9 145.3l2.5 .6 1.5-6.3 -2.5-.6zM285 146.5l2.6 .5 1.2-6.3 -2.5-.6zM282.7 172.2l2.9 .5 1.1-6.3 -2.8-.5zM285.1 159.6l2.8 .5 1.1-6.3 -2.7-.5zM286.7 166.4l2.9 .5 1-6.3 -2.7-.5zM287.9 160.1l2.7 .5 1.1-6.3 -2.7-.5zM289.6 166.9l2.9 .5 .9-6.4 -2.8-.4zM291.7 154.3l2.7 .4 .9-6.4 -2.6-.4zM292.5 167.4l2.9 .4 .8-6.4 -2.8-.4zM310.7 214l3.6 .1 .2-6.3 -3.5-.2zM321.4 239.8l4 0 -.1-6.4 -3.9 0zM321.4 227l3.8 0 -.1-6.4 -3.7 0zM332.7 226.8l3.8-.2 -.4-6.4 -3.7 .2zM336.5 226.6l3.7-.3 -.4-6.4 -3.7 .3zM335.7 213.8l3.6-.2 -.5-6.4 -3.5 .2zM339.3 213.6l3.5-.3 -.5-6.4 -3.5 .3zM344.5 232.4l3.9-.4 -.7-6.3 -3.7 .3zM346.4 212.9l3.5-.4 -.7-6.3 -3.5 .4zM351.5 225.2l3.7-.4 -.9-6.4 -3.6 .5zM349.9 212.5l3.6-.4 -.9-6.3 -3.4 .4zM358.6 250.2l4.1-.6 -1-6.3 -4 .5zM366.8 249l4.1-.7 -1.2-6.4 -4 .7zM365.7 242.6l4-.7 -1.1-6.3 -3.9 .7zM367.5 229.3l3.7-.7 -1.2-6.3 -3.7 .7zM406.3 266.6l4.3-1.3 -1.9-6.2 -4.2 1.2zM403 240.5l4-1.2 -2-6.2 -3.8 1.2zM407 239.3l3.9-1.3 -2-6.1 -3.9 1.2zM423.5 261l4.2-1.5 -2.2-6.1 -4.2 1.5zM434.3 263.9l4.3-1.7 -2.4-6 -4.2 1.7zM436.2 256.2l4.2-1.7 -2.6-6 -4.1 1.7zM440.4 254.5l4.1-1.8 -2.6-6 -4.1 1.8zM434.1 229l3.7-1.7 -2.6-5.9 -3.7 1.7zM444.4 231.3l3.8-1.8 -2.9-5.8 -3.7 1.8zM434.6 186l3.2-1.7 -3.1-5.6 -3.1 1.7zM488.1 205.5l3.4-2.5 -3.8-5.2 -3.4 2.5zM498.8 205.6l3.4-2.6 -4-5.1 -3.3 2.6zM506.2 208.1l3.5-2.8 -4.1-5 -3.4 2.7zM498.2 197.9l3.3-2.7 -4-5 -3.3 2.6zM509.7 205.3l3.4-2.8 -4.1-5 -3.4 2.8z" fill="#d2ede9" stroke="#d2ede9" stroke-width="0.35"/><path d="M211.8 136.1l2.5 1.6 3.5-5.4 -2.4-1.6zM218.4 147.8l2.6 1.5 3.2-5.6 -2.5-1.4zM217.5 161.9l2.8 1.6 3-5.7 -2.8-1.5zM220.3 163.5l2.8 1.4 2.9-5.6 -2.7-1.5zM226 159.3l2.8 1.4 2.8-5.8 -2.7-1.3zM228.9 153.6l2.7 1.3 2.8-5.7 -2.5-1.3zM228.8 160.7l2.8 1.3 2.7-5.8 -2.7-1.3zM239.8 158.7l2.7 1.2 2.5-5.9 -2.6-1.1zM243.6 228.2l3.8 1.1 1.8-6.1 -3.7-1.1zM329.5 246.1l4.1-.1 -.3-6.4 -4 .1zM329.2 233.3l3.8-.1 -.3-6.4 -3.7 .1zM328.8 220.5l3.6-.1 -.2-6.4 -3.6 .1zM333 233.2l3.9-.2 -.4-6.4 -3.8 .2zM336.9 233l3.8-.3 -.5-6.4 -3.7 .3zM335.3 207.4l3.5-.2 -.5-6.4 -3.3 .3zM342.8 213.3l3.6-.4 -.7-6.3 -3.4 .3zM349.7 244.8l4-.5 -.7-6.3 -4 .4zM348.4 232l3.8-.4 -.7-6.4 -3.8 .5zM359.5 256.6l4.2-.6 -1-6.4 -4.1 .6zM363.7 256l4.1-.7 -1-6.3 -4.1 .6zM367.8 255.3l4.2-.7 -1.1-6.3 -4.1 .7zM370.9 248.3l4-.8 -1.2-6.3 -4 .7zM369.7 241.9l4-.7 -1.2-6.3 -3.9 .7zM410.6 265.3l4.3-1.4 -2-6.2 -4.2 1.4zM414.9 263.9l4.3-1.4 -2.1-6.2 -4.2 1.4zM432 257.9l4.2-1.7 -2.5-6 -4.1 1.6zM433.7 250.2l4.1-1.7 -2.5-6 -4 1.7zM428.9 238.2l3.9-1.6 -2.5-6 -3.9 1.6zM432.8 236.6l3.9-1.7 -2.6-5.9 -3.8 1.6zM471 254.3l4.1-2.2 -3.1-5.7 -4.1 2.2zM491.5 203l3.4-2.5 -3.9-5.1 -3.3 2.4zM494.9 200.5l3.3-2.6 -4-5.1 -3.2 2.6z" fill="#def0ed" stroke="#def0ed" stroke-width="0.35"/><path d="M215.4 130.7l2.4 1.6 3.5-5.4 -2.3-1.5zM216.7 139.2l2.5 1.6 3.3-5.5 -2.4-1.5zM212.5 151.7l2.7 1.6 3.2-5.5 -2.6-1.6zM219.2 140.8l2.5 1.5 3.2-5.6 -2.4-1.4zM233.7 127l2.3 1.3 3.1-5.7 -2.2-1.2zM229.8 139.5l2.5 1.4 3-5.7 -2.4-1.3zM231.6 154.9l2.7 1.3 2.8-5.7 -2.7-1.3zM231.6 162l2.8 1.3 2.6-5.8 -2.7-1.3zM247.7 134.2l2.4 1 2.6-5.9 -2.3-1zM250.4 128.3l2.3 1 2.6-5.9 -2.2-1zM290.6 160.6l2.8 .4 1-6.3 -2.7-.4zM291.4 225.2l3.8 .5 .6-6.4 -3.6-.4zM309.9 233.2l3.8 .1 .2-6.4 -3.7-.1zM313.6 239.7l3.9 .1 .1-6.4 -3.9-.1zM313.7 233.3l3.9 .1 .1-6.4 -3.8-.1zM313.9 226.9l3.8 .1 .1-6.4 -3.7-.1zM321.4 214.2l3.6 0 -.1-6.4 -3.5 .1zM321.4 195.1l3.3 0 -.1-6.4 -3.2 0zM325 214.2l3.6-.1 -.2-6.3 -3.5 0zM324.9 207.8l3.5 0 -.2-6.4 -3.4 0zM329.3 239.7l4-.1 -.3-6.4 -3.8 .1zM329 226.9l3.7-.1 -.3-6.4 -3.6 .1zM333.6 246l4-.2 -.4-6.4 -3.9 .2zM340.2 226.3l3.8-.3 -.6-6.4 -3.6 .3zM372 254.6l4.2-.8 -1.3-6.3 -4 .8zM368.6 235.6l3.9-.7 -1.3-6.3 -3.7 .7zM416.9 270.1l4.4-1.4 -2.1-6.2 -4.3 1.4zM419.2 262.5l4.3-1.5 -2.2-6.1 -4.2 1.4zM475.1 252.1l4.2-2.3 -3.3-5.7 -4 2.3zM479.3 249.8l4-2.4 -3.3-5.6 -4 2.3zM502.7 210.8l3.5-2.7 -4-5.1 -3.4 2.6z" fill="#eaf2f1" stroke="#eaf2f1" stroke-width="0.35"/><path d="M217.8 132.3l2.3 1.5 3.5-5.4 -2.3-1.5zM215.2 153.3l2.6 1.5 3.2-5.5 -2.6-1.5zM236.9 121.4l2.2 1.2 3.2-5.7 -2.1-1.1zM229.3 146.5l2.6 1.4 2.9-5.7 -2.5-1.3zM214.4 182l3.1 1.5 2.8-5.7 -3-1.5zM212.3 202.4l3.4 1.5 2.7-5.8 -3.3-1.5zM217.8 190.8l3.3 1.5 2.6-5.8 -3.1-1.4zM234.3 156.2l2.7 1.3 2.7-5.8 -2.6-1.2zM215.7 203.9l3.5 1.6 2.6-5.9 -3.4-1.5zM244.9 147l2.6 1.1 2.5-5.9 -2.5-1.1zM252.5 136.3l2.5 1 2.4-6 -2.4-1zM235.7 184.7l3.1 1.3 2.4-6 -3.1-1.2zM238.1 178.8l3.1 1.2 2.3-5.9 -3-1.2zM228.6 223.1l3.8 1.4 2.1-6 -3.6-1.4zM262.3 140.1l2.5 .8 2-6.1 -2.3-.8zM267.9 148.7l2.6 .8 1.8-6.2 -2.5-.8zM272.3 143.3l2.5 .7 1.7-6.2 -2.4-.7zM274.1 137.1l2.4 .7 1.7-6.3 -2.3-.6zM249.5 236.6l3.9 1 1.6-6.2 -3.8-1zM283.7 152.8l2.6 .5 1.3-6.3 -2.6-.5zM283.9 165.9l2.8 .5 1.2-6.3 -2.8-.5zM286.3 153.3l2.7 .5 1.2-6.3 -2.6-.5zM289 153.8l2.7 .5 1-6.4 -2.5-.4zM313.4 246.1l4 .1 .1-6.4 -3.9-.1zM321.4 220.6l3.7 0 -.1-6.4 -3.6 0zM325.5 246.2l4-.1 -.2-6.4 -3.9 .1zM332.4 220.4l3.7-.2 -.4-6.4 -3.5 .2zM339.8 219.9l3.6-.3 -.6-6.3 -3.5 .3zM338.8 207.2l3.5-.3 -.6-6.3 -3.4 .2zM345.7 245.2l4-.4 -.7-6.4 -3.9 .4zM343.4 219.6l3.7-.3 -.7-6.4 -3.6 .4zM342.3 206.9l3.4-.3 -.6-6.4 -3.4 .4zM353.5 212.1l3.5-.5 -.9-6.3 -3.5 .5zM359.9 230.6l3.8-.6 -1.1-6.3 -3.7 .5zM366.3 223l3.7-.7 -1.2-6.3 -3.6 .7zM376.2 253.8l4.1-.8 -1.3-6.3 -4.1 .8zM393.2 270l4.3-1.1 -1.6-6.3 -4.3 1.1zM397.5 268.9l4.4-1.1 -1.7-6.3 -4.3 1.1zM429.6 251.8l4.1-1.6 -2.4-6 -4 1.6zM411 203.8l3.4-1.3 -2.4-5.9 -3.3 1.3zM437.8 248.5l4.1-1.8 -2.6-5.9 -4 1.7zM435.3 242.5l4-1.7 -2.6-5.9 -3.9 1.7zM427.8 224.7l3.7-1.6 -2.6-5.9 -3.6 1.6zM436.7 234.9l3.8-1.8 -2.7-5.8 -3.7 1.7zM440.5 233.1l3.9-1.8 -2.8-5.8 -3.8 1.8zM480 241.8l4-2.4 -3.4-5.6 -3.9 2.4z" fill="#c7eae5" stroke="#c7eae5" stroke-width="0.35"/><path d="M238 114.5l2.2 1.3 3.2-5.7 -2-1.2zM214.3 174.7l3 1.6 2.9-5.7 -2.9-1.5zM234.8 142.2l2.5 1.2 2.8-5.7 -2.4-1.2zM220.6 185.1l3.1 1.4 2.7-5.8 -3.1-1.4zM210.4 215.6l3.6 1.6 2.6-5.9 -3.5-1.5zM208.8 229l3.8 1.6 2.5-5.9 -3.7-1.6zM232 176.3l3.1 1.3 2.4-5.9 -2.9-1.3zM247.5 141.1l2.5 1.1 2.5-5.9 -2.4-1.1zM220.1 212.9l3.6 1.4 2.4-5.9 -3.5-1.4zM230.1 189.3l3.2 1.4 2.4-6 -3.1-1.2zM237.5 171.7l3 1.2 2.4-5.9 -2.9-1.2zM221.3 220.3l3.7 1.4 2.3-5.9 -3.6-1.5zM233.3 190.7l3.2 1.2 2.3-5.9 -3.1-1.3zM255 137.3l2.4 1 2.3-6.1 -2.3-.9zM225 221.7l3.6 1.4 2.3-6 -3.6-1.3zM257.4 138.3l2.4 .9 2.3-6.1 -2.4-.9zM273.6 130.2l2.3 .7 1.8-6.3 -2.3-.6zM245.6 235.5l3.9 1.1 1.7-6.2 -3.8-1.1zM247.8 242.8l4 1.1 1.6-6.3 -3.9-1zM274.8 144l2.5 .7 1.7-6.3 -2.5-.6zM263 200.5l3.4 .8 1.5-6.2 -3.3-.8zM276.8 170.9l2.9 .7 1.3-6.3 -2.8-.6zM282.4 145.9l2.6 .6 1.3-6.4 -2.4-.5zM279.7 171.6l3 .6 1.2-6.3 -2.9-.6zM285.6 172.7l3 .5 1-6.3 -2.9-.5zM314.1 220.5l3.7 .1 .1-6.4 -3.6-.1zM325.1 220.6l3.7-.1 -.2-6.4 -3.6 .1zM338 252.2l4.1-.3 -.4-6.4 -4.1 .3zM346.3 251.6l4.1-.4 -.7-6.4 -4 .4zM364.6 262.4l4.3-.7 -1.1-6.4 -4.1 .7zM410.9 238l3.9-1.4 -2.1-6.1 -3.8 1.4zM404.1 206.4l3.5-1.3 -2.3-5.9 -3.3 1.2zM427.7 259.5l4.3-1.6 -2.4-6.1 -4.1 1.6zM414.4 202.5l3.4-1.4 -2.5-5.9 -3.3 1.4zM430.3 230.6l3.8-1.6 -2.6-5.9 -3.7 1.6zM452 227.6l3.7-2 -3-5.7 -3.7 2zM491.8 234.5l3.8-2.6 -3.6-5.4 -3.8 2.5zM502.2 203l3.4-2.7 -4.1-5.1 -3.3 2.7z" fill="#b5e3dc" stroke="#b5e3dc" stroke-width="0.35"/><path d="M240.2 115.8l2.1 1.1 3.1-5.6 -2-1.2zM211.3 180.4l3.1 1.6 2.9-5.7 -3-1.6zM211.4 187.6l3.2 1.7 2.9-5.8 -3.1-1.5zM211.8 195l3.3 1.6 2.7-5.8 -3.2-1.5zM214.6 189.3l3.2 1.5 2.8-5.7 -3.1-1.6zM217.5 183.5l3.1 1.6 2.7-5.8 -3-1.5zM220.3 177.8l3 1.5 2.8-5.8 -3-1.4zM223.1 172.1l3 1.4 2.7-5.7 -2.9-1.4zM226.1 173.5l2.9 1.4 2.7-5.8 -2.9-1.3zM213.1 209.8l3.5 1.5 2.6-5.8 -3.5-1.6zM221.1 192.3l3.2 1.5 2.6-5.9 -3.2-1.4zM223.7 186.5l3.2 1.4 2.6-5.8 -3.1-1.4zM224.3 193.8l3.3 1.4 2.5-5.9 -3.2-1.4zM222.6 207l3.5 1.4 2.4-5.9 -3.4-1.4zM225.1 201.1l3.4 1.4 2.4-5.9 -3.3-1.4zM235.1 177.6l3 1.2 2.4-5.9 -3-1.2zM226.4 229.2l3.8 1.3 2.2-6 -3.8-1.4zM230.9 217.1l3.6 1.4 2.1-6.1 -3.5-1.3zM232.4 224.5l3.7 1.3 2-6.1 -3.6-1.2zM239.8 227l3.8 1.2 1.9-6.1 -3.7-1.2zM238 246.7l4 1.2 1.8-6.2 -3.9-1.2zM241.7 234.3l3.9 1.2 1.8-6.2 -3.8-1.1zM243.8 241.7l4 1.1 1.7-6.2 -3.9-1.1zM251.8 243.9l4 1 1.5-6.3 -3.9-1zM264.6 194.3l3.3 .8 1.5-6.2 -3.2-.8zM266.4 201.3l3.3 .8 1.5-6.2 -3.3-.8zM267.9 195.1l3.3 .8 1.4-6.3 -3.2-.7zM269.7 202.1l3.4 .7 1.4-6.2 -3.3-.7zM266.6 234.1l3.8 .8 1.3-6.3 -3.8-.8zM267.9 227.8l3.8 .8 1.2-6.3 -3.7-.7zM288.6 173.2l2.9 .5 1-6.3 -2.9-.5zM297.5 174.5l3 .3 .6-6.3 -2.9-.3zM297.8 200.2l3.4 .4 .6-6.4 -3.3-.3zM307.6 207.4l3.4 .2 .3-6.4 -3.4-.1zM310.5 220.4l3.6 .1 .2-6.4 -3.6-.1zM311.9 188.5l3.2 .1 .2-6.4 -3.1-.1zM312.2 182.1l3.1 .1 .1-6.4 -3-.1zM332.2 214l3.5-.2 -.4-6.4 -3.4 .2zM350.4 251.2l4.1-.5 -.8-6.4 -4 .5zM354.5 250.7l4.1-.5 -.9-6.4 -4 .5zM357 211.6l3.5-.6 -1-6.3 -3.4 .6zM397.3 235.5l3.9-1.2 -1.9-6.1 -3.8 1.1zM402.7 213.7l3.6-1.3 -2.2-6 -3.4 1.2zM400.7 207.6l3.4-1.2 -2.1-6 -3.4 1.1zM407.6 205.1l3.4-1.3 -2.3-5.9 -3.4 1.3zM417.9 221.7l3.7-1.4 -2.4-6 -3.6 1.5zM413.3 209.8l3.5-1.4 -2.4-5.9 -3.4 1.3zM483.3 247.4l4.1-2.4 -3.4-5.6 -4 2.4zM487.9 237l3.9-2.5 -3.6-5.5 -3.8 2.4zM488.2 229l3.8-2.5 -3.6-5.4 -3.7 2.4z" fill="#a4dcd3" stroke="#a4dcd3" stroke-width="0.35"/><path d="M220.5 156.3l2.8 1.5 3-5.6 -2.7-1.4zM245.9 126.1l2.2 1.1 2.8-5.8 -2.2-1.1zM248.1 127.2l2.3 1.1 2.7-5.9 -2.2-1zM310.2 226.8l3.7 .1 .2-6.4 -3.6-.1zM315.3 182.2l3.1 .1 0-6.4 -3-.1zM321.4 188.7l3.2 0 -.1-6.4 -3.1 0zM325.2 227l3.8-.1 -.2-6.4 -3.7 .1zM324.5 182.3l3.1-.1 -.1-6.4 -3 .1zM331 188.5l3.2-.2 -.4-6.3 -3.1 .1zM340.7 232.7l3.8-.3 -.5-6.4 -3.8 .3zM444.5 252.7l4.1-1.9 -2.7-5.9 -4 1.8z" fill="#f5f5f5" stroke="#f5f5f5" stroke-width="0.35"/><path d="M236 128.3l2.3 1.2 3.1-5.7 -2.3-1.2zM245 140l2.5 1.1 2.6-5.9 -2.4-1zM242 187.2l3.2 1.1 2.1-6 -3.1-1.1zM302.2 232.7l3.8 .3 .4-6.4 -3.7-.3zM309.3 246l4.1 .1 .2-6.4 -4-.1zM314.5 207.8l3.5 0 .1-6.4 -3.4 0zM315.4 175.8l3 .1 .1-6.4 -2.9-.1zM317.7 227l3.7 0 0-6.4 -3.6 0zM318 207.8l3.4 .1 0-6.4 -3.3-.1zM318.1 201.4l3.3 .1 0-6.4 -3.2 0zM318.3 188.7l3.1 0 0-6.4 -3 0zM321.4 207.9l3.5-.1 -.1-6.4 -3.4 .1zM321.4 201.5l3.4-.1 -.1-6.3 -3.3 0zM321.4 182.3l3.1 0 0-6.4 -3.1 0zM335 201.1l3.3-.3 -.4-6.3 -3.3 .2zM334.6 194.7l3.3-.2 -.5-6.4 -3.2 .2zM360.8 236.9l3.9-.6 -1-6.3 -3.8 .6zM495.3 208.2l3.5-2.6 -3.9-5.1 -3.4 2.5z" fill="#f5f2e8" stroke="#f5f2e8" stroke-width="0.35"/><path d="M242.6 138.9l2.4 1.1 2.7-5.8 -2.3-1.1zM287.7 224.8l3.7 .4 .8-6.3 -3.6-.5zM289.4 212.1l3.6 .4 .7-6.3 -3.4-.4zM293 212.5l3.5 .4 .7-6.3 -3.5-.4zM306 233l3.9 .2 .3-6.4 -3.8-.2zM314.3 214.1l3.6 .1 .1-6.4 -3.5 0zM317.9 214.2l3.5 0 0-6.3 -3.4-.1zM321.4 175.9l3.1 0 -.1-6.4 -3 0zM328.4 207.8l3.5-.2 -.3-6.4 -3.4 .2zM327.8 188.6l3.2-.1 -.3-6.4 -3.1 .1zM327.6 182.2l3.1-.1 -.2-6.4 -3 .1zM331.6 201.2l3.4-.1 -.4-6.4 -3.3 .2zM331.3 194.9l3.3-.2 -.4-6.4 -3.2 .2zM333.8 182l3.1-.2 -.5-6.4 -2.9 .2zM412.5 271.5l4.4-1.4 -2-6.2 -4.3 1.4zM407.2 184.7l3.1-1.2 -2.5-5.9 -3 1.2zM463.8 250.7l4.1-2.1 -3-5.8 -4.1 2.1zM428.5 182l3.1-1.6 -3-5.7 -3 1.6zM431.6 180.4l3.1-1.7 -3.1-5.6 -3 1.6zM463.5 213.9l3.6-2.2 -3.4-5.5 -3.5 2.1zM467.1 211.7l3.5-2.2 -3.4-5.4 -3.5 2.1zM470.3 194.4l3.3-2.3 -3.7-5.2 -3.1 2.1zM488.3 213.3l3.5-2.5 -3.7-5.3 -3.5 2.5zM473.6 192.1l3.2-2.3 -3.7-5.2 -3.2 2.3z" fill="#f6ebd0" stroke="#f6ebd0" stroke-width="0.35"/><path d="M245.4 133.1l2.3 1.1 2.7-5.9 -2.3-1.1zM228.5 202.5l3.4 1.3 2.3-5.9 -3.3-1.3zM252.5 143.3l2.6 1 2.3-6 -2.4-1zM244.2 181.2l3.1 1.1 2.1-6 -3-1.1zM242.2 207.6l3.5 1.1 2-6 -3.4-1.2zM247.7 202.7l3.4 1 1.8-6.1 -3.3-1zM263.3 154l2.7 .8 1.9-6.1 -2.6-.8zM239.9 240.5l3.9 1.2 1.8-6.2 -3.9-1.2zM258.5 179.3l3.1 .9 1.8-6.1 -3-.9zM251 217l3.6 1 1.7-6.1 -3.6-1zM261.6 180.2l3.1 .9 1.7-6.2 -3-.8zM263.4 174.1l3 .8 1.6-6.1 -2.8-.8zM262.7 233.3l3.9 .8 1.3-6.3 -3.8-.8zM268.3 208.3l3.5 .8 1.3-6.3 -3.4-.7zM281 165.3l2.9 .6 1.2-6.3 -2.7-.5zM275.3 209.8l3.5 .6 1.2-6.2 -3.5-.7zM276.5 203.5l3.5 .7 1.1-6.3 -3.3-.6zM280.2 184.7l3.1 .6 1.2-6.3 -3.1-.5zM283.3 185.3l3.2 .6 1-6.3 -3-.6zM387.1 244.9l4-1 -1.6-6.3 -3.9 1zM400.9 247.9l4-1.2 -1.9-6.2 -3.9 1.2zM404.9 246.7l4.1-1.3 -2-6.1 -4 1.2zM401.1 220.9l3.7-1.2 -2.1-6 -3.6 1.1zM408.9 231.9l3.8-1.4 -2.2-6 -3.7 1.3zM406.8 225.8l3.7-1.3 -2.1-6 -3.6 1.2zM414.8 236.6l3.9-1.4 -2.2-6 -3.8 1.3zM410.5 224.5l3.8-1.4 -2.3-6 -3.6 1.4zM431.5 187.6l3.1-1.6 -3-5.6 -3.1 1.6z" fill="#005147" stroke="#005147" stroke-width="0.35"/><path d="M229 174.9l3 1.4 2.6-5.9 -2.9-1.3zM214 217.2l3.6 1.6 2.5-5.9 -3.5-1.6zM219.2 205.5l3.4 1.5 2.5-5.9 -3.3-1.5zM221.8 199.6l3.3 1.5 2.5-5.9 -3.3-1.4zM222.6 227.7l3.8 1.5 2.2-6.1 -3.6-1.4zM221.9 241.2l4 1.5 2.2-6.1 -3.9-1.4zM230.2 230.5l3.8 1.4 2.1-6.1 -3.7-1.3zM234 231.9l3.9 1.2 1.9-6.1 -3.7-1.2zM236.1 225.8l3.7 1.2 2-6.1 -3.7-1.2zM266.9 161.8l2.8 .8 1.7-6.2 -2.7-.8zM259.6 199.6l3.4 .9 1.6-6.2 -3.3-.9zM250.2 250.1l4.1 1 1.5-6.2 -4-1zM270.9 169.5l3 .8 1.5-6.3 -2.9-.7zM272.5 163.3l2.9 .7 1.5-6.2 -2.8-.7zM254.3 251.1l4.1 1 1.5-6.3 -4.1-.9zM287.5 179.6l3.1 .4 .9-6.3 -2.9-.5zM291.5 173.7l3 .4 .9-6.3 -2.9-.4zM290.3 205.8l3.4 .4 .8-6.3 -3.4-.5zM291.1 199.4l3.4 .5 .7-6.4 -3.2-.4zM293.7 180.5l3 .4 .8-6.4 -3-.4zM294.5 174.1l3 .4 .7-6.3 -2.8-.4zM294.5 199.9l3.3 .3 .7-6.3 -3.3-.4zM303.5 175.1l3 .3 .4-6.4 -2.9-.2zM304.1 207.2l3.5 .2 .3-6.3 -3.3-.3zM304.6 200.8l3.3 .3 .4-6.4 -3.3-.2zM307.2 213.8l3.5 .2 .3-6.4 -3.4-.2zM331.9 207.6l3.4-.2 -.3-6.3 -3.4 .1zM342.1 251.9l4.2-.3 -.6-6.4 -4 .3zM424 226.2l3.8-1.5 -2.5-5.9 -3.7 1.5zM449.9 243l4-1.9 -2.8-5.8 -3.9 1.9zM484 239.4l3.9-2.4 -3.5-5.6 -3.8 2.4z" fill="#92d4ca" stroke="#92d4ca" stroke-width="0.35"/><path d="M211.4 223.1l3.7 1.6 2.5-5.9 -3.6-1.6zM216.6 211.3l3.5 1.6 2.5-5.9 -3.4-1.5zM217.6 218.8l3.7 1.5 2.4-6 -3.6-1.4zM245 154l2.7 1.1 2.4-5.9 -2.6-1.1zM218 239.7l3.9 1.5 2.3-6 -3.9-1.5zM257.6 145.2l2.6 .9 2.1-6 -2.5-.9zM237.9 233.1l3.8 1.2 1.9-6.1 -3.8-1.2zM264.1 161l2.8 .8 1.8-6.2 -2.7-.8zM242 247.9l4.1 1.1 1.7-6.2 -4-1.1zM265.2 168l2.8 .8 1.7-6.2 -2.8-.8zM268 168.8l2.9 .7 1.6-6.2 -2.8-.7zM255.8 244.9l4.1 .9 1.4-6.3 -4-.9zM276.9 157.8l2.7 .7 1.4-6.3 -2.6-.6zM271.2 195.9l3.3 .7 1.3-6.3 -3.2-.7zM269.2 221.6l3.7 .7 1.2-6.3 -3.6-.7zM272.9 222.3l3.7 .7 1.1-6.3 -3.6-.7zM285.9 211.6l3.5 .5 .9-6.3 -3.5-.5zM290.6 180l3.1 .5 .8-6.4 -3-.4zM292.8 186.8l3.2 .4 .7-6.3 -3-.4zM295.2 193.5l3.3 .4 .6-6.3 -3.1-.4zM300.5 174.8l3 .3 .5-6.3 -2.9-.3zM301.2 200.6l3.4 .2 .4-6.3 -3.2-.3zM305 194.5l3.3 .2 .4-6.4 -3.2-.2zM311 207.6l3.5 .2 .2-6.4 -3.4-.2zM311.3 201.2l3.4 .2 .2-6.4 -3.3-.1zM312.4 175.7l3 .1 .2-6.4 -2.9-.1zM439.3 240.8l3.9-1.8 -2.7-5.9 -3.8 1.8zM443.2 239l4-1.8 -2.8-5.9 -3.9 1.8z" fill="#80cdc1" stroke="#80cdc1" stroke-width="0.35"/><path d="M250.1 135.2l2.4 1.1 2.5-6 -2.3-1zM298.9 226l3.8 .3 .4-6.4 -3.6-.3zM306.4 226.6l3.8 .2 .3-6.4 -3.7-.2zM314.9 195l3.3 .1 .1-6.4 -3.2-.1zM315.1 188.6l3.2 .1 .1-6.4 -3.1-.1zM318.4 182.3l3 0 0-6.4 -3 0zM318.4 175.9l3 0 0-6.4 -2.9 0zM324.8 201.4l3.4 0 -.2-6.4 -3.3 .1zM324.7 195.1l3.3-.1 -.2-6.4 -3.2 .1zM324.6 188.7l3.2-.1 -.2-6.4 -3.1 .1zM328.6 214.1l3.6-.1 -.3-6.4 -3.5 .2zM328.2 201.4l3.4-.2 -.3-6.3 -3.3 .1zM328 195l3.3-.1 -.3-6.4 -3.2 .1zM330.7 182.1l3.1-.1 -.3-6.4 -3 .1zM334.2 188.3l3.2-.2 -.5-6.3 -3.1 .2zM333.5 175.6l2.9-.2 -.4-6.4 -2.9 .2zM404.1 294.4l4.7-1.3 -1.7-6.4 -4.7 1.3zM410.3 183.5l3.1-1.4 -2.5-5.8 -3.1 1.3zM467.9 248.6l4.1-2.2 -3.2-5.8 -3.9 2.2zM458.8 231.3l3.8-2 -3.2-5.7 -3.7 2zM472 246.4l4-2.3 -3.2-5.7 -4 2.2zM468.8 240.6l4-2.2 -3.2-5.6 -3.9 2.1z" fill="#f6eedc" stroke="#f6eedc" stroke-width="0.35"/><path d="M212.6 230.6l3.9 1.6 2.4-6 -3.8-1.5zM390.1 257.4l4.2-1 -1.6-6.3 -4.1 1zM415.1 250.2l4.1-1.4 -2.2-6.1 -4 1.4zM413 244.1l4-1.4 -2.2-6.1 -3.9 1.4zM419.2 248.8l4-1.5 -2.2-6.1 -4 1.5zM425.5 253.4l4.1-1.6 -2.3-6 -4.1 1.5zM419.2 214.3l3.6-1.4 -2.5-5.9 -3.5 1.4zM462.6 229.3l3.7-2.2 -3.2-5.6 -3.7 2.1z" fill="#0e726a" stroke="#0e726a" stroke-width="0.35"/><path d="M215.1 224.7l3.8 1.5 2.4-5.9 -3.7-1.5zM216.5 232.2l3.8 1.5 2.3-6 -3.7-1.5zM296 187.2l3.1 .4 .7-6.4 -3.1-.3zM296.7 180.9l3.1 .3 .7-6.4 -3-.3zM299.1 187.6l3.2 .3 .6-6.4 -3.1-.3zM302.3 187.9l3.2 .2 .5-6.3 -3.1-.3zM302.9 181.5l3.1 .3 .5-6.4 -3-.3zM306 181.8l3.1 .2 .3-6.4 -2.9-.2zM387.3 264.7l4.3-1 -1.5-6.3 -4.2 1zM404.5 260.3l4.2-1.2 -1.9-6.2 -4.1 1.2zM416.8 208.4l3.5-1.4 -2.5-5.9 -3.4 1.4zM478.3 257.8l4.2-2.3 -3.2-5.7 -4.2 2.3z" fill="#288b83" stroke="#288b83" stroke-width="0.35"/><path d="M240 165.8l2.9 1.2 2.4-5.9 -2.8-1.2zM245.3 161.1l2.8 1.1 2.3-6 -2.7-1.1zM250.1 149.2l2.6 1 2.4-5.9 -2.6-1zM250.4 156.2l2.7 1.1 2.3-6.1 -2.7-1zM252.7 150.2l2.7 1 2.2-6 -2.5-.9zM250.9 163.3l2.8 1 2.2-6.1 -2.8-.9zM255.4 151.2l2.6 1 2.2-6.1 -2.6-.9zM255.9 158.2l2.7 1 2.1-6.1 -2.7-.9zM260.2 146.1l2.5 .9 2.1-6.1 -2.5-.8zM275.4 164l2.8 .7 1.4-6.2 -2.7-.7zM308.7 188.3l3.2 .2 .3-6.4 -3.1-.1zM337.2 239.4l4-.3 -.5-6.4 -3.8 .3zM400.2 261.5l4.3-1.2 -1.8-6.2 -4.2 1.2zM410.9 251.6l4.2-1.4 -2.1-6.1 -4 1.3z" fill="#48a49c" stroke="#48a49c" stroke-width="0.35"/><path d="M247.5 148.1l2.6 1.1 2.4-5.9 -2.5-1.1zM242.9 167l2.9 1.1 2.3-5.9 -2.8-1.1zM248.1 162.2l2.8 1.1 2.2-6 -2.7-1.1zM255.1 144.3l2.5 .9 2.2-6 -2.4-.9zM258 152.2l2.7 .9 2-6.1 -2.5-.9zM262.7 147l2.6 .9 2-6.1 -2.5-.9zM268.7 155.6l2.7 .8 1.7-6.2 -2.6-.7zM271.4 156.4l2.7 .7 1.6-6.2 -2.6-.7zM273.1 150.2l2.6 .7 1.6-6.2 -2.5-.7zM274.1 157.1l2.8 .7 1.5-6.2 -2.7-.7zM273.9 170.3l2.9 .6 1.4-6.2 -2.8-.7zM279.6 158.5l2.8 .6 1.3-6.3 -2.7-.6zM270.5 215.3l3.6 .7 1.2-6.2 -3.5-.7zM276.6 223l3.7 .7 1-6.4 -3.6-.6zM300.6 206.9l3.5 .3 .5-6.4 -3.4-.2zM302.7 226.3l3.7 .3 .4-6.4 -3.7-.3zM308.3 194.7l3.3 .2 .3-6.4 -3.2-.2zM447.2 237.2l3.9-1.9 -2.9-5.8 -3.8 1.8z" fill="#5ab2a8" stroke="#5ab2a8" stroke-width="0.35"/><path d="M250 142.2l2.5 1.1 2.5-6 -2.5-1zM260.7 153.1l2.6 .9 2-6.1 -2.6-.9zM266 154.8l2.7 .8 1.8-6.1 -2.6-.8zM293.7 206.2l3.5 .4 .6-6.4 -3.3-.3zM296.5 212.9l3.6 .4 .5-6.4 -3.4-.3zM297.2 206.6l3.4 .3 .6-6.3 -3.4-.4zM298.5 193.9l3.3 .3 .5-6.3 -3.2-.3zM391.1 243.9l4-1.1 -1.7-6.2 -3.9 1zM415.6 215.8l3.6-1.5 -2.4-5.9 -3.5 1.4zM428.3 189.3l3.2-1.7 -3-5.6 -3.1 1.5z" fill="#01665e" stroke="#01665e" stroke-width="0.35"/><path d="M218.9 226.2l3.7 1.5 2.4-6 -3.7-1.4zM381.7 259.3l4.2-.9 -1.4-6.3 -4.2 .9zM380.3 253l4.2-.9 -1.5-6.3 -4 .9zM412.9 257.7l4.2-1.4 -2-6.1 -4.2 1.4zM423.2 247.3l4.1-1.5 -2.4-6.1 -3.9 1.5zM427.3 245.8l4-1.6 -2.4-6 -4 1.5z" fill="#1b7e76" stroke="#1b7e76" stroke-width="0.35"/><path d="M223.7 214.3l3.6 1.5 2.3-6 -3.5-1.4zM236.5 191.9l3.3 1.3 2.2-6 -3.2-1.2zM241.2 180l3 1.2 2.2-6 -2.9-1.1zM234.5 218.5l3.6 1.2 2.1-6 -3.6-1.3zM240.2 213.7l3.6 1.1 1.9-6.1 -3.5-1.1zM244.3 201.5l3.4 1.2 1.9-6.1 -3.3-1.1zM246.3 195.5l3.3 1.1 2-6.1 -3.2-1zM253.5 184.4l3.2 1 1.8-6.1 -3-.9zM255.5 178.4l3 .9 1.9-6.1 -2.9-.9zM257.5 172.3l2.9 .9 1.9-6.1 -2.9-.9zM245.5 222.1l3.7 1.1 1.8-6.2 -3.6-1zM249.2 209.8l3.5 1.1 1.8-6.2 -3.4-1zM251.1 203.7l3.4 1 1.8-6.1 -3.4-1zM260.4 173.2l3 .9 1.8-6.1 -2.9-.9zM247.4 229.3l3.8 1.1 1.7-6.2 -3.7-1zM249.2 223.2l3.7 1 1.7-6.2 -3.6-1zM275.7 150.9l2.7 .7 1.5-6.3 -2.6-.6zM258.8 232.4l3.9 .9 1.4-6.3 -3.7-.9zM265.5 220.8l3.7 .8 1.3-6.3 -3.6-.8zM273.1 202.8l3.4 .7 1.3-6.2 -3.3-.7zM278.8 210.4l3.6 .6 1-6.3 -3.4-.5zM281.1 197.9l3.3 .5 1.1-6.2 -3.3-.6zM282.2 191.6l3.3 .6 1-6.3 -3.2-.6zM286.8 205.3l3.5 .5 .8-6.4 -3.3-.4zM287.8 199l3.3 .4 .9-6.3 -3.3-.4zM394.3 256.4l4.2-1.1 -1.7-6.3 -4.1 1.1zM392.7 250.1l4.1-1.1 -1.7-6.2 -4 1.1zM395.1 242.8l4-1.1 -1.8-6.2 -3.9 1.1zM402.7 254.1l4.1-1.2 -1.9-6.2 -4 1.2zM404.8 219.7l3.6-1.2 -2.1-6.1 -3.6 1.3zM408.4 218.5l3.6-1.4 -2.2-6 -3.5 1.3zM412 217.1l3.6-1.3 -2.3-6 -3.5 1.3z" fill="#00463c" stroke="#00463c" stroke-width="0.35"/><path d="M226.1 208.4l3.5 1.4 2.3-6 -3.4-1.3zM240.5 172.9l3 1.2 2.3-6 -2.9-1.1zM227.3 215.8l3.6 1.3 2.2-6 -3.5-1.3zM229.6 209.8l3.5 1.3 2.2-6 -3.4-1.3zM231.9 203.8l3.4 1.3 2.3-5.9 -3.4-1.3zM238.8 186l3.2 1.2 2.2-6 -3-1.2zM243.5 174.1l2.9 1.1 2.3-6 -2.9-1.1zM245.8 168.1l2.9 1.1 2.2-5.9 -2.8-1.1zM224.2 235.2l3.9 1.4 2.1-6.1 -3.8-1.3zM233.1 211.1l3.5 1.3 2.2-6 -3.5-1.3zM235.3 205.1l3.5 1.3 2.1-6 -3.3-1.2zM237.6 199.2l3.3 1.2 2.1-6 -3.2-1.2zM248.7 169.2l2.9 1.1 2.1-6 -2.8-1zM225.9 242.7l4 1.4 2.1-6.1 -3.9-1.4zM228.1 236.6l3.9 1.4 2-6.1 -3.8-1.4zM236.6 212.4l3.6 1.3 2-6.1 -3.4-1.2zM238.8 206.4l3.4 1.2 2.1-6.1 -3.4-1.1zM240.9 200.4l3.4 1.1 2-6 -3.3-1.1zM243 194.4l3.3 1.1 2.1-6 -3.2-1.2zM251.6 170.3l2.9 1 2.1-6 -2.9-1zM229.9 244.1l4 1.3 2-6.1 -3.9-1.3zM232 238l3.9 1.3 2-6.2 -3.9-1.2zM238.1 219.7l3.7 1.2 2-6.1 -3.6-1.1zM250.4 183.4l3.1 1 2-6 -3-1zM252.5 177.4l3 1 2-6.1 -3-1zM254.5 171.3l3 1 1.9-6.1 -2.8-.9zM233.9 245.4l4.1 1.3 1.9-6.2 -4-1.2zM235.9 239.3l4 1.2 1.8-6.2 -3.8-1.2zM241.8 220.9l3.7 1.2 1.9-6.1 -3.6-1.2zM243.8 214.8l3.6 1.2 1.8-6.2 -3.5-1.1zM245.7 208.7l3.5 1.1 1.9-6.1 -3.4-1zM251.6 190.5l3.2 1 1.9-6.1 -3.2-1zM247.4 216l3.6 1 1.7-6.1 -3.5-1.1zM254.8 191.5l3.3 1 1.7-6.1 -3.1-1zM254.5 204.7l3.4 1 1.7-6.1 -3.3-1zM251.2 230.4l3.8 1 1.6-6.2 -3.7-1zM252.9 224.2l3.7 1 1.6-6.2 -3.6-1zM254.6 218l3.6 1 1.6-6.2 -3.5-.9zM256.3 211.9l3.5 .9 1.6-6.2 -3.5-.9zM257.9 205.7l3.5 .9 1.6-6.1 -3.4-.9zM264.7 181.1l3.1 .8 1.6-6.2 -3-.8zM266.4 174.9l3 .8 1.5-6.2 -2.9-.7zM253.4 237.6l3.9 1 1.5-6.2 -3.8-1zM255 231.4l3.8 1 1.6-6.3 -3.8-.9zM256.6 225.2l3.8 .9 1.5-6.2 -3.7-.9zM258.2 219l3.7 .9 1.5-6.2 -3.6-.9zM259.8 212.8l3.6 .9 1.5-6.2 -3.5-.9zM261.4 206.6l3.5 .9 1.5-6.2 -3.4-.8zM267.8 181.9l3.1 .8 1.5-6.2 -3-.8zM269.4 175.7l3 .8 1.5-6.2 -3-.8zM257.3 238.6l4 .9 1.4-6.2 -3.9-.9zM260.4 226.1l3.7 .9 1.4-6.2 -3.6-.9zM261.9 219.9l3.6 .9 1.4-6.3 -3.5-.8zM263.4 213.7l3.5 .8 1.4-6.2 -3.4-.8zM264.9 207.5l3.4 .8 1.4-6.2 -3.3-.8zM269.4 188.9l3.2 .7 1.4-6.2 -3.1-.7zM270.9 182.7l3.1 .7 1.4-6.2 -3-.7zM272.4 176.5l3 .7 1.4-6.3 -2.9-.6zM258.4 252.1l4.2 .9 1.3-6.3 -4-.9zM259.9 245.8l4 .9 1.3-6.3 -3.9-.9zM261.3 239.5l3.9 .9 1.4-6.3 -3.9-.8zM264.1 227l3.8 .8 1.3-6.2 -3.7-.8zM266.9 214.5l3.6 .8 1.3-6.2 -3.5-.8zM272.6 189.6l3.2 .7 1.3-6.2 -3.1-.7zM263.9 246.7l4.1 .8 1.2-6.3 -4-.8zM265.2 240.4l4 .8 1.2-6.3 -3.8-.8zM271.8 209.1l3.5 .7 1.2-6.3 -3.4-.7zM274.5 196.6l3.3 .7 1.2-6.3 -3.2-.7zM275.8 190.3l3.2 .7 1.2-6.3 -3.1-.6zM277.8 197.3l3.3 .6 1.1-6.3 -3.2-.6zM279 191l3.2 .6 1.1-6.3 -3.1-.6zM280 204.2l3.4 .5 1-6.3 -3.3-.5zM283.4 204.7l3.4 .6 1-6.3 -3.4-.6zM284.4 198.4l3.4 .6 .9-6.3 -3.2-.5zM285.5 192.2l3.2 .5 .9-6.3 -3.1-.5zM388.6 251.1l4.1-1 -1.6-6.2 -4 1zM398.5 255.3l4.2-1.2 -1.8-6.2 -4.1 1.1zM399.1 241.7l3.9-1.2 -1.8-6.2 -3.9 1.2zM408.7 259.1l4.2-1.4 -2-6.1 -4.1 1.3zM406.8 252.9l4.1-1.3 -1.9-6.2 -4.1 1.3zM417 242.7l4-1.5 -2.3-6 -3.9 1.4zM421 241.2l3.9-1.5 -2.3-6 -3.9 1.5zM422.6 233.7l3.8-1.5 -2.4-6 -3.7 1.5zM426.4 232.2l3.9-1.6 -2.5-5.9 -3.8 1.5z" fill="#003c30" stroke="#003c30" stroke-width="0.35"/><path d="M247.7 155.1l2.7 1.1 2.3-6 -2.6-1zM253.1 157.3l2.8 .9 2.1-6 -2.6-1zM253.7 164.3l2.9 1 2-6.1 -2.7-1zM256.6 165.3l2.8 .9 2-6.1 -2.8-.9zM261.4 160.1l2.7 .9 1.9-6.2 -2.7-.8zM265.3 147.9l2.6 .8 1.9-6.2 -2.5-.7zM262.3 167.1l2.9 .9 1.7-6.2 -2.8-.8zM270.5 149.5l2.6 .7 1.7-6.2 -2.5-.7zM246.1 249l4.1 1.1 1.6-6.2 -4-1.1zM269.7 162.6l2.8 .7 1.6-6.2 -2.7-.7zM278.2 164.7l2.8 .6 1.4-6.2 -2.8-.6zM281 152.2l2.7 .6 1.3-6.3 -2.6-.6zM274.1 216l3.6 .7 1.1-6.3 -3.5-.6zM277.7 216.7l3.6 .6 1.1-6.3 -3.6-.6zM280.3 223.7l3.7 .5 .9-6.3 -3.6-.6zM281.3 217.3l3.6 .6 1-6.3 -3.5-.6zM300.1 213.3l3.5 .3 .5-6.4 -3.5-.3zM306.5 175.4l2.9 .2 .4-6.4 -2.9-.2zM307.9 201.1l3.4 .1 .3-6.3 -3.3-.2zM309.4 175.6l3 .1 .3-6.4 -2.9-.1zM311.6 194.9l3.3 .1 .2-6.4 -3.2-.1zM451.1 235.3l3.8-2 -2.9-5.7 -3.8 1.9z" fill="#6dc0b4" stroke="#6dc0b4" stroke-width="0.35"/><path d="M220.3 233.7l3.9 1.5 2.2-6 -3.8-1.5zM258.6 159.2l2.8 .9 1.9-6.1 -2.6-.9zM259.4 166.2l2.9 .9 1.8-6.1 -2.7-.9zM299.8 181.2l3.1 .3 .6-6.4 -3-.3zM305.5 188.1l3.2 .2 .4-6.3 -3.1-.2zM309.1 182l3.1 .1 .2-6.4 -3-.1zM385.9 258.4l4.2-1 -1.5-6.3 -4.1 1zM384.5 252.1l4.1-1 -1.5-6.2 -4.1 .9zM391.6 263.7l4.3-1.1 -1.6-6.2 -4.2 1zM395.9 262.6l4.3-1.1 -1.7-6.2 -4.2 1.1zM409 245.4l4-1.3 -2.1-6.1 -3.9 1.3zM417.1 256.3l4.2-1.4 -2.1-6.1 -4.1 1.4zM421.3 254.9l4.2-1.5 -2.3-6.1 -4 1.5z" fill="#35978f" stroke="#35978f" stroke-width="0.35"/><path d="M239.8 193.2l3.2 1.2 2.2-6.1 -3.2-1.1zM295.2 225.7l3.7 .3 .6-6.4 -3.7-.3zM445.3 223.7l3.7-1.8 -2.9-5.8 -3.6 1.8zM447.2 193.6l3.3-1.8 -3.3-5.5 -3.2 1.8zM453.7 197.3l3.3-2 -3.3-5.5 -3.2 2zM450.5 191.8l3.2-2 -3.3-5.4 -3.2 1.9zM447.2 186.3l3.2-1.9 -3.4-5.5 -3 1.9zM453.7 189.8l3.2-2 -3.4-5.4 -3.1 2zM470.6 201.9l3.3-2.2 -3.6-5.3 -3.3 2.1zM480.6 195.1l3.2-2.4 -3.8-5.2 -3.2 2.3zM480 187.5l3.2-2.4 -3.9-5.1 -3.1 2.4zM476.2 182.4l3.1-2.4 -3.9-5 -3 2.2z" fill="#bf812d" stroke="#bf812d" stroke-width="0.35"/><path d="M246.4 175.2l3 1.1 2.2-6 -2.9-1.1zM282.4 211l3.5 .6 .9-6.3 -3.4-.6zM456.8 246.9l4-2 -2.9-5.8 -4 2zM449 221.9l3.7-2 -3-5.6 -3.6 1.8z" fill="#d7b269" stroke="#d7b269" stroke-width="0.35"/><path d="M245.2 188.3l3.2 1.2 2-6.1 -3.1-1.1zM303.6 213.6l3.6 .2 .4-6.4 -3.5-.2zM450.4 184.4l3.1-2 -3.4-5.4 -3.1 1.9zM467.2 204.1l3.4-2.2 -3.6-5.4 -3.3 2.2z" fill="#a6691c" stroke="#a6691c" stroke-width="0.35"/><path d="M247.3 182.3l3.1 1.1 2.1-6 -3.1-1.1zM286.5 185.9l3.1 .5 1-6.4 -3.1-.4zM337.6 245.8l4.1-.3 -.5-6.4 -4 .3zM412.7 230.5l3.8-1.3 -2.2-6.1 -3.8 1.4zM466.3 181.6l3.1-2.2 -3.8-5.2 -3 2.2z" fill="#995d13" stroke="#995d13" stroke-width="0.35"/><path d="M249.4 176.3l3.1 1.1 2-6.1 -2.9-1zM333.3 239.6l3.9-.2 -.3-6.4 -3.9 .2zM417.8 201.1l3.3-1.5 -2.5-5.8 -3.3 1.4zM428.9 217.2l3.6-1.6 -2.7-5.8 -3.5 1.5zM427.2 203.9l3.4-1.5 -2.8-5.8 -3.3 1.5zM436.1 213.9l3.5-1.7 -2.8-5.8 -3.5 1.7zM448.2 229.5l3.8-1.9 -3-5.7 -3.7 1.8zM440.2 204.7l3.4-1.8 -3-5.6 -3.3 1.7zM437.3 199l3.3-1.7 -3-5.7 -3.2 1.7zM464.9 242.8l3.9-2.2 -3.1-5.7 -3.9 2.2zM461.8 237.1l3.9-2.2 -3.1-5.6 -3.8 2zM452.7 219.9l3.6-1.9 -3.1-5.7 -3.5 2zM446.7 208.6l3.4-1.9 -3.1-5.6 -3.4 1.8zM440.6 197.3l3.3-1.8 -3-5.6 -3.3 1.7zM465.7 234.9l3.9-2.1 -3.3-5.7 -3.7 2.2zM447 201.1l3.4-1.9 -3.2-5.6 -3.3 1.9zM453.6 204.8l3.4-2 -3.3-5.5 -3.3 1.9zM450.4 199.2l3.3-1.9 -3.2-5.5 -3.3 1.8z" fill="#e5cc8e" stroke="#e5cc8e" stroke-width="0.35"/><path d="M248.4 189.5l3.2 1 1.9-6.1 -3.1-1zM258.1 192.5l3.2 .9 1.7-6.2 -3.2-.8zM274 183.4l3.1 .7 1.3-6.3 -3-.6zM406.3 212.4l3.5-1.3 -2.2-6 -3.5 1.3zM416.5 229.2l3.8-1.5 -2.4-6 -3.6 1.4zM420.3 227.7l3.7-1.5 -2.4-5.9 -3.7 1.4zM463.7 198.7l3.3-2.2 -3.5-5.3 -3.2 2zM456.9 187.8l3.1-2 -3.4-5.3 -3.1 1.9zM467 196.5l3.3-2.1 -3.5-5.4 -3.3 2.2zM463.5 191.2l3.3-2.2 -3.6-5.3 -3.2 2.1zM460 185.8l3.2-2.1 -3.6-5.3 -3 2.1zM463.2 183.7l3.1-2.1 -3.7-5.2 -3 2zM469.9 186.9l3.2-2.3 -3.7-5.2 -3.1 2.2z" fill="#8c510a" stroke="#8c510a" stroke-width="0.35"/><path d="M249.6 196.6l3.3 1 1.9-6.1 -3.2-1zM252.9 197.6l3.4 1 1.8-6.1 -3.3-1zM259.8 186.4l3.2 .8 1.7-6.1 -3.1-.9zM263 187.2l3.2 .9 1.6-6.2 -3.1-.8zM277.1 184.1l3.1 .6 1.2-6.2 -3-.7zM289.6 186.4l3.2 .4 .9-6.3 -3.1-.5z" fill="#704008" stroke="#704008" stroke-width="0.35"/><path d="M256.7 185.4l3.1 1 1.8-6.2 -3.1-.9zM256.3 198.6l3.3 1 1.7-6.2 -3.2-.9zM266.2 188.1l3.2 .8 1.5-6.2 -3.1-.8zM460.3 193.2l3.2-2 -3.5-5.4 -3.1 2zM466.8 189l3.1-2.1 -3.6-5.3 -3.1 2.1z" fill="#7e4909" stroke="#7e4909" stroke-width="0.35"/><path d="M252.7 210.9l3.6 1 1.6-6.2 -3.4-1zM261.3 193.4l3.3 .9 1.6-6.2 -3.2-.9zM278.4 151.6l2.6 .6 1.4-6.3 -2.5-.6zM282.4 159.1l2.7 .5 1.2-6.3 -2.6-.5zM284.9 217.9l3.7 .5 .8-6.3 -3.5-.5zM301.8 194.2l3.2 .3 .5-6.4 -3.2-.2zM396.8 249l4.1-1.1 -1.8-6.2 -4 1.1z" fill="#015c52" stroke="#015c52" stroke-width="0.35"/><path d="M314.7 201.4l3.4 0 .1-6.3 -3.3-.1zM318.2 195.1l3.2 0 0-6.4 -3.1 0zM327.5 175.8l3-.1 -.3-6.4 -2.9 .1zM336.4 175.4l3-.3 -.5-6.3 -2.9 .2zM353.7 244.3l4-.5 -.8-6.3 -3.9 .5zM357.7 243.8l4-.5 -.9-6.4 -3.9 .6zM415.3 195.2l3.3-1.4 -2.6-5.9 -3.2 1.4zM416 187.9l3.2-1.4 -2.7-5.8 -3.1 1.4zM421.8 192.3l3.3-1.5 -2.8-5.7 -3.1 1.4zM419.2 186.5l3.1-1.4 -2.7-5.8 -3.1 1.4zM453.9 241.1l4-2 -3-5.8 -3.8 2zM456.3 218l3.6-2.1 -3.1-5.6 -3.6 2zM491.8 210.8l3.5-2.6 -3.8-5.2 -3.4 2.5zM499.2 213.4l3.5-2.6 -3.9-5.2 -3.5 2.6z" fill="#f6e8c3" stroke="#f6e8c3" stroke-width="0.35"/><path d="M324.5 175.9l3-.1 -.2-6.4 -2.9 .1zM425.3 218.8l3.6-1.6 -2.6-5.9 -3.5 1.6zM422.8 212.9l3.5-1.6 -2.6-5.8 -3.4 1.5zM431.5 223.1l3.7-1.7 -2.7-5.8 -3.6 1.6zM421.1 199.6l3.4-1.5 -2.7-5.8 -3.2 1.5zM418.6 193.8l3.2-1.5 -2.6-5.8 -3.2 1.4zM424.5 198.1l3.3-1.5 -2.7-5.8 -3.3 1.5zM422.3 185.1l3.1-1.6 -2.8-5.7 -3 1.5zM419.6 179.3l3-1.5 -2.8-5.7 -3 1.4zM442.5 217.9l3.6-1.8 -2.9-5.7 -3.6 1.8zM433.9 200.7l3.4-1.7 -2.9-5.7 -3.3 1.7zM422.6 177.8l3-1.5 -2.9-5.7 -2.9 1.5zM460.8 244.9l4.1-2.1 -3.1-5.7 -3.9 2zM446.1 216.1l3.6-1.8 -3-5.7 -3.5 1.8zM443.2 210.4l3.5-1.8 -3.1-5.7 -3.4 1.8zM449.7 214.3l3.5-2 -3.1-5.6 -3.4 1.9zM443.6 202.9l3.4-1.8 -3.1-5.6 -3.3 1.8zM428.6 174.7l3-1.6 -3.1-5.6 -2.9 1.6zM443.9 195.5l3.3-1.9 -3.2-5.5 -3.1 1.8zM459.9 215.9l3.6-2 -3.3-5.6 -3.4 2zM456.8 210.3l3.4-2 -3.2-5.5 -3.4 2zM474.1 207.3l3.4-2.3 -3.6-5.3 -3.3 2.2z" fill="#ead5a0" stroke="#ead5a0" stroke-width="0.35"/><path d="M330.5 175.7l3-.1 -.4-6.4 -2.9 .1zM431.3 244.2l4-1.7 -2.5-5.9 -3.9 1.6zM420.3 207l3.4-1.5 -2.6-5.9 -3.3 1.5zM426.3 211.3l3.5-1.5 -2.6-5.9 -3.5 1.6zM413.4 182.1l3.1-1.4 -2.6-5.8 -3 1.4zM432.5 215.6l3.6-1.7 -2.8-5.8 -3.5 1.7zM430.6 202.4l3.3-1.7 -2.8-5.7 -3.3 1.6zM457.9 239.1l3.9-2 -3-5.8 -3.9 2zM454.9 233.3l3.9-2 -3.1-5.7 -3.7 2zM425.6 176.3l3-1.6 -3-5.6 -2.9 1.5zM453.2 212.3l3.6-2 -3.2-5.5 -3.5 1.9zM460.2 208.3l3.5-2.1 -3.3-5.4 -3.4 2zM463.7 206.2l3.5-2.1 -3.5-5.4 -3.3 2.1z" fill="#f0deb2" stroke="#f0deb2" stroke-width="0.35"/><path d="M353 238l3.9-.5 -.9-6.4 -3.8 .5z" fill="#543005" stroke="#543005" stroke-width="0.35"/><path d="M418.7 235.2l3.9-1.5 -2.3-6 -3.8 1.5zM437.8 227.3l3.8-1.8 -2.8-5.8 -3.6 1.7zM435.2 221.4l3.6-1.7 -2.7-5.8 -3.6 1.7zM438.8 219.7l3.7-1.8 -2.9-5.7 -3.5 1.7zM437.8 184.3l3.1-1.8 -3.2-5.5 -3 1.7zM440.9 182.5l3.1-1.7 -3.3-5.5 -3 1.7zM444 180.8l3-1.9 -3.3-5.4 -3 1.8zM460.4 200.8l3.3-2.1 -3.4-5.5 -3.3 2.1zM457 195.3l3.3-2.1 -3.4-5.4 -3.2 2zM473.9 199.7l3.4-2.3 -3.7-5.3 -3.3 2.3zM473.1 184.6l3.1-2.2 -3.8-5.2 -3 2.2z" fill="#c79141" stroke="#c79141" stroke-width="0.35"/><path d="M416.5 180.7l3.1-1.4 -2.8-5.8 -2.9 1.4zM433.3 208.1l3.5-1.7 -2.9-5.7 -3.3 1.7zM427.8 196.6l3.3-1.6 -2.8-5.7 -3.2 1.5zM425.1 190.8l3.2-1.5 -2.9-5.8 -3.1 1.6zM439.6 212.2l3.6-1.8 -3-5.7 -3.4 1.7zM436.8 206.4l3.4-1.7 -2.9-5.7 -3.4 1.7zM431.1 195l3.3-1.7 -2.9-5.7 -3.2 1.7zM425.4 183.5l3.1-1.5 -2.9-5.7 -3 1.5zM450.1 206.7l3.5-1.9 -3.2-5.6 -3.4 1.9zM457 202.8l3.4-2 -3.4-5.5 -3.3 2zM470.6 209.5l3.5-2.2 -3.5-5.4 -3.4 2.2z" fill="#dfc27d" stroke="#dfc27d" stroke-width="0.35"/><path d="M441.6 225.5l3.7-1.8 -2.8-5.8 -3.7 1.8z" fill="#cfa255" stroke="#cfa255" stroke-width="0.35"/><path d="M437.6 191.6l3.3-1.7 -3.1-5.6 -3.2 1.7zM453.5 182.4l3.1-1.9 -3.5-5.4 -3 1.9zM456.6 180.5l3-2.1 -3.6-5.3 -2.9 2zM477.3 197.4l3.3-2.3 -3.8-5.3 -3.2 2.3zM476.8 189.8l3.2-2.3 -3.8-5.1 -3.1 2.2z" fill="#b27524" stroke="#b27524" stroke-width="0.35"/></g>
<g fill="none" stroke="#000" stroke-width="1" stroke-linejoin="round"><use href="#ld"/><use href="#wt"/><use href="#bd" stroke-width="0.8"/><use href="#sc" stroke-width="0.8"/></g>
</g></g>
<path d="M772.81 562.78A338.09 338.09 0 0 0 1229.29 562.78L1080.56 400.24A117.78 117.78 0 0 1 921.54 400.24Z" fill="none" stroke="#000" stroke-width="1.15"/>
<path d="M790.59 543.35l3.39 3.11M1211.51 543.35l-3.39 3.11M834.12 495.78l3.39 3.11M1167.98 495.78l-3.39 3.11M877.27 448.62l3.39 3.11M1124.83 448.62l-3.39 3.11M902.29 636.7l1.34 -4.4M966.64 426l-1.34 4.4M1050.98 647.74l-0.68 -4.55M1018.44 429.84l0.68 4.55M1189.95 593.75l-2.57 -3.82M1066.86 411.03l2.57 3.82" fill="none" stroke="#000" stroke-width="1"/>
<text transform="translate(785.58 538.76) rotate(42.46)" text-anchor="end" dy="0.36em" font-size="22" fill="#000">45°N</text>
<text transform="translate(829.1 491.19) rotate(42.46)" text-anchor="end" dy="0.36em" font-size="22" fill="#000">55°N</text>
<text transform="translate(872.26 444.03) rotate(42.46)" text-anchor="end" dy="0.36em" font-size="22" fill="#000">65°N</text>
<text transform="translate(765.74 572.44) rotate(42.46)" text-anchor="middle" dy="0.36em" font-size="20.7" fill="#000">160°W</text>
<text transform="translate(900.06 648.46) rotate(16.98)" text-anchor="middle" dy="0.36em" font-size="20.7" fill="#000">130°W</text>
<text transform="translate(1054.02 659.31) rotate(-8.49)" text-anchor="middle" dy="0.36em" font-size="20.7" fill="#000">100°W</text>
<text transform="translate(1197.68 602.89) rotate(-33.97)" text-anchor="middle" dy="0.36em" font-size="20.7" fill="#000">70°W</text>
<text x="1000.9" y="395.3" text-anchor="middle" font-size="21.75" font-weight="bold" fill="#000">TER anomalies (GCB2024-satellite)</text>
<g transform="translate(1359.2 340)">
<g clip-path="url(#fc)">
<use href="#ld" fill="#bfbfbf"/><use href="#wt" fill="#fff"/>
<g shape-rendering="crispEdges"><path d="M213.1 129.1l2.3 1.6 3.6-5.3 -2.2-1.5zM222.5 135.3l2.4 1.4 3.3-5.5 -2.3-1.4zM211.3 180.4l3.1 1.6 2.9-5.7 -3-1.6zM220.3 163.5l2.8 1.4 2.9-5.6 -2.7-1.5zM226.3 152.2l2.6 1.4 3-5.7 -2.6-1.4zM229.3 146.5l2.6 1.4 2.9-5.7 -2.5-1.3zM214.4 182l3.1 1.5 2.8-5.7 -3-1.5zM211.8 195l3.3 1.6 2.7-5.8 -3.2-1.5zM220.3 177.8l3 1.5 2.8-5.8 -3-1.4zM231.6 162l2.8 1.3 2.6-5.8 -2.7-1.3zM223.7 186.5l3.2 1.4 2.6-5.8 -3.1-1.4zM223.7 214.3l3.6 1.5 2.3-6 -3.5-1.4zM225 221.7l3.6 1.4 2.3-6 -3.6-1.3zM221.9 241.2l4 1.5 2.2-6.1 -3.9-1.4zM225.9 242.7l4 1.4 2.1-6.1 -3.9-1.4zM236.6 212.4l3.6 1.3 2-6.1 -3.4-1.2zM240.2 213.7l3.6 1.1 1.9-6.1 -3.5-1.1zM242 247.9l4.1 1.1 1.7-6.2 -4-1.1zM259.8 186.4l3.2 .8 1.7-6.1 -3.1-.9zM253.4 237.6l3.9 1 1.5-6.2 -3.8-1zM264.6 194.3l3.3 .8 1.5-6.2 -3.2-.8zM254.3 251.1l4.1 1 1.5-6.3 -4.1-.9zM258.4 252.1l4.2 .9 1.3-6.3 -4-.9zM268.3 208.3l3.5 .8 1.3-6.3 -3.4-.7zM281.1 197.9l3.3 .5 1.1-6.2 -3.3-.6zM314.1 220.5l3.7 .1 .1-6.4 -3.6-.1zM336.9 233l3.8-.3 -.5-6.4 -3.7 .3zM336.5 226.6l3.7-.3 -.4-6.4 -3.7 .3zM340.2 226.3l3.8-.3 -.6-6.4 -3.6 .3zM351.5 225.2l3.7-.4 -.9-6.4 -3.6 .5zM353.5 212.1l3.5-.5 -.9-6.3 -3.5 .5zM416.9 270.1l4.4-1.4 -2.1-6.2 -4.3 1.4zM432 257.9l4.2-1.7 -2.5-6 -4.1 1.6zM436.2 256.2l4.2-1.7 -2.6-6 -4.1 1.7zM498.2 197.9l3.3-2.7 -4-5 -3.3 2.6z" fill="#eaf2f1" stroke="#eaf2f1" stroke-width="0.35"/><path d="M211.8 136.1l2.5 1.6 3.5-5.4 -2.4-1.6zM217.8 132.3l2.3 1.5 3.5-5.4 -2.3-1.5zM212.5 151.7l2.7 1.6 3.2-5.5 -2.6-1.6zM215.8 146.2l2.6 1.6 3.3-5.5 -2.5-1.5zM238 114.5l2.2 1.3 3.2-5.7 -2-1.2zM236.9 121.4l2.2 1.2 3.2-5.7 -2.1-1.1zM240.2 115.8l2.1 1.1 3.1-5.6 -2-1.2zM228.9 153.6l2.7 1.3 2.8-5.7 -2.5-1.3zM228.8 160.7l2.8 1.3 2.7-5.8 -2.7-1.3zM217.8 190.8l3.3 1.5 2.6-5.8 -3.1-1.4zM221.1 192.3l3.2 1.5 2.6-5.9 -3.2-1.4zM234.6 170.4l2.9 1.3 2.5-5.9 -2.8-1.2zM252.5 136.3l2.5 1 2.4-6 -2.4-1zM226.1 208.4l3.5 1.4 2.3-6 -3.4-1.3zM235.7 184.7l3.1 1.3 2.4-6 -3.1-1.2zM238.1 178.8l3.1 1.2 2.3-5.9 -3-1.2zM218 239.7l3.9 1.5 2.3-6 -3.9-1.5zM229.6 209.8l3.5 1.3 2.2-6 -3.4-1.3zM255.1 144.3l2.5 .9 2.2-6 -2.4-.9zM224.2 235.2l3.9 1.4 2.1-6.1 -3.8-1.3zM226.4 229.2l3.8 1.3 2.2-6 -3.8-1.4zM233.1 211.1l3.5 1.3 2.2-6 -3.5-1.3zM250.9 163.3l2.8 1 2.2-6.1 -2.8-.9zM228.1 236.6l3.9 1.4 2-6.1 -3.8-1.4zM253.7 164.3l2.9 1 2-6.1 -2.7-1zM255.9 158.2l2.7 1 2.1-6.1 -2.7-.9zM258 152.2l2.7 .9 2-6.1 -2.5-.9zM229.9 244.1l4 1.3 2-6.1 -3.9-1.3zM260.7 153.1l2.6 .9 2-6.1 -2.6-.9zM264.8 140.9l2.5 .9 1.9-6.2 -2.4-.8zM256.7 185.4l3.1 1 1.8-6.2 -3.1-.9zM266 154.8l2.7 .8 1.8-6.1 -2.6-.8zM263.4 174.1l3 .8 1.6-6.1 -2.8-.8zM265.2 168l2.8 .8 1.7-6.2 -2.8-.8zM274.1 137.1l2.4 .7 1.7-6.3 -2.3-.6zM266.4 174.9l3 .8 1.5-6.2 -2.9-.7zM269.4 175.7l3 .8 1.5-6.2 -3-.8zM276.8 170.9l2.9 .7 1.3-6.3 -2.8-.6zM306.4 226.6l3.8 .2 .3-6.4 -3.7-.2zM317.7 227l3.7 0 0-6.4 -3.6 0zM325.2 227l3.8-.1 -.2-6.4 -3.7 .1zM329.3 239.7l4-.1 -.3-6.4 -3.8 .1zM329 226.9l3.7-.1 -.3-6.4 -3.6 .1zM338.8 207.2l3.5-.3 -.6-6.3 -3.4 .2zM342.8 213.3l3.6-.4 -.7-6.3 -3.4 .3zM353 238l3.9-.5 -.9-6.4 -3.8 .5zM431.3 244.2l4-1.7 -2.5-5.9 -3.9 1.6zM420.3 207l3.4-1.5 -2.6-5.9 -3.3 1.5zM424.5 198.1l3.3-1.5 -2.7-5.8 -3.3 1.5zM467.1 211.7l3.5-2.2 -3.4-5.4 -3.5 2.1zM499.2 213.4l3.5-2.6 -3.9-5.2 -3.5 2.6z" fill="#d2ede9" stroke="#d2ede9" stroke-width="0.35"/><path d="M215.4 130.7l2.4 1.6 3.5-5.4 -2.3-1.5zM250 142.2l2.5 1.1 2.5-6 -2.5-1zM250.1 149.2l2.6 1 2.4-5.9 -2.6-1zM255 137.3l2.4 1 2.3-6.1 -2.3-.9zM257.4 138.3l2.4 .9 2.3-6.1 -2.4-.9zM255.4 151.2l2.6 1 2.2-6.1 -2.6-.9zM232.4 224.5l3.7 1.3 2-6.1 -3.6-1.2zM234 231.9l3.9 1.2 1.9-6.1 -3.7-1.2zM258.6 159.2l2.8 .9 1.9-6.1 -2.6-.9zM262.7 147l2.6 .9 2-6.1 -2.5-.9zM237.9 233.1l3.8 1.2 1.9-6.1 -3.8-1.2zM259.4 166.2l2.9 .9 1.8-6.1 -2.7-.9zM265.3 147.9l2.6 .8 1.9-6.2 -2.5-.7zM262.3 167.1l2.9 .9 1.7-6.2 -2.8-.8zM264.1 161l2.8 .8 1.8-6.2 -2.7-.8zM273.6 130.2l2.3 .7 1.8-6.3 -2.3-.6zM272.3 143.3l2.5 .7 1.7-6.2 -2.4-.7zM275.9 130.9l2.3 .6 1.7-6.2 -2.2-.7zM274.8 144l2.5 .7 1.7-6.3 -2.5-.6zM275.7 150.9l2.7 .7 1.5-6.3 -2.6-.6zM278.4 151.6l2.6 .6 1.4-6.3 -2.5-.6zM273.1 202.8l3.4 .7 1.3-6.2 -3.3-.7zM279.7 171.6l3 .6 1.2-6.3 -2.9-.6zM285 146.5l2.6 .5 1.2-6.3 -2.5-.6zM275.3 209.8l3.5 .6 1.2-6.2 -3.5-.7zM276.5 203.5l3.5 .7 1.1-6.3 -3.3-.6zM283.9 165.9l2.8 .5 1.2-6.3 -2.8-.5zM285.1 159.6l2.8 .5 1.1-6.3 -2.7-.5zM286.3 153.3l2.7 .5 1.2-6.3 -2.6-.5zM278.8 210.4l3.6 .6 1-6.3 -3.4-.5zM285.6 172.7l3 .5 1-6.3 -2.9-.5zM283.4 204.7l3.4 .6 1-6.3 -3.4-.6zM291.5 173.7l3 .4 .9-6.3 -2.9-.4zM293.4 161l2.8 .4 .9-6.3 -2.7-.4zM291.1 199.4l3.4 .5 .7-6.4 -3.2-.4zM293 212.5l3.5 .4 .7-6.3 -3.5-.4zM294.5 199.9l3.3 .3 .7-6.3 -3.3-.4zM297.5 174.5l3 .3 .6-6.3 -2.9-.3zM296.5 212.9l3.6 .4 .5-6.4 -3.4-.3zM297.2 206.6l3.4 .3 .6-6.3 -3.4-.4zM302.2 232.7l3.8 .3 .4-6.4 -3.7-.3zM306 233l3.9 .2 .3-6.4 -3.8-.2zM309.4 175.6l3 .1 .3-6.4 -2.9-.1zM310.5 220.4l3.6 .1 .2-6.4 -3.6-.1zM312.4 175.7l3 .1 .2-6.4 -2.9-.1zM335.7 213.8l3.6-.2 -.5-6.4 -3.5 .2zM339.8 219.9l3.6-.3 -.6-6.3 -3.5 .3zM387.3 264.7l4.3-1 -1.5-6.3 -4.2 1zM397.3 235.5l3.9-1.2 -1.9-6.1 -3.8 1.1zM419.2 214.3l3.6-1.4 -2.5-5.9 -3.5 1.4zM417.8 201.1l3.3-1.5 -2.5-5.8 -3.3 1.4zM426.3 211.3l3.5-1.5 -2.6-5.9 -3.5 1.6zM427.2 203.9l3.4-1.5 -2.8-5.8 -3.3 1.5zM430.6 202.4l3.3-1.7 -2.8-5.7 -3.3 1.6zM419.6 179.3l3-1.5 -2.8-5.7 -3 1.4zM439.6 212.2l3.6-1.8 -3-5.7 -3.4 1.7zM436.8 206.4l3.4-1.7 -2.9-5.7 -3.4 1.7zM431.1 195l3.3-1.7 -2.9-5.7 -3.2 1.7z" fill="#b5e3dc" stroke="#b5e3dc" stroke-width="0.35"/><path d="M216.7 139.2l2.5 1.6 3.3-5.5 -2.4-1.5zM219.2 140.8l2.5 1.5 3.2-5.6 -2.4-1.4zM227.4 138.2l2.4 1.3 3.1-5.6 -2.4-1.3zM217.5 183.5l3.1 1.6 2.7-5.8 -3-1.5zM225.9 166.4l2.9 1.4 2.8-5.8 -2.8-1.3zM226.9 187.9l3.2 1.4 2.5-5.8 -3.1-1.4zM230.1 189.3l3.2 1.4 2.4-6 -3.1-1.2zM222.6 227.7l3.8 1.5 2.2-6.1 -3.6-1.4zM238 246.7l4 1.2 1.8-6.2 -3.9-1.2zM251.2 230.4l3.8 1 1.6-6.2 -3.7-1zM261.3 193.4l3.3 .9 1.6-6.2 -3.2-.9zM255.8 244.9l4.1 .9 1.4-6.3 -4-.9zM267.9 195.1l3.3 .8 1.4-6.3 -3.2-.7zM349.7 244.8l4-.5 -.7-6.3 -4 .4zM353.7 244.3l4-.5 -.8-6.3 -3.9 .5zM349.9 212.5l3.6-.4 -.9-6.3 -3.4 .4zM357.7 243.8l4-.5 -.9-6.4 -3.9 .6zM368.6 235.6l3.9-.7 -1.3-6.3 -3.7 .7zM412.5 271.5l4.4-1.4 -2-6.2 -4.3 1.4zM495.3 208.2l3.5-2.6 -3.9-5.1 -3.4 2.5zM502.7 210.8l3.5-2.7 -4-5.1 -3.4 2.6zM506.2 208.1l3.5-2.8 -4.1-5 -3.4 2.7z" fill="#f5f5f5" stroke="#f5f5f5" stroke-width="0.35"/><path d="M215.2 153.3l2.6 1.5 3.2-5.5 -2.6-1.5zM226.1 173.5l2.9 1.4 2.7-5.8 -2.9-1.3zM220.1 212.9l3.6 1.4 2.4-5.9 -3.5-1.4zM222.6 207l3.5 1.4 2.4-5.9 -3.4-1.4zM248.7 169.2l2.9 1.1 2.1-6 -2.8-1zM249.4 176.3l3.1 1.1 2-6.1 -2.9-1zM266.9 214.5l3.6 .8 1.3-6.2 -3.5-.8zM270.5 215.3l3.6 .7 1.2-6.2 -3.5-.7zM276.6 223l3.7 .7 1-6.4 -3.6-.6zM277.7 216.7l3.6 .6 1.1-6.3 -3.6-.6zM280.3 223.7l3.7 .5 .9-6.3 -3.6-.6zM281.3 217.3l3.6 .6 1-6.3 -3.5-.6zM285.5 192.2l3.2 .5 .9-6.3 -3.1-.5zM333.3 239.6l3.9-.2 -.3-6.4 -3.9 .2zM337.6 245.8l4.1-.3 -.5-6.4 -4 .3zM369.7 241.9l4-.7 -1.2-6.3 -3.9 .7zM401.1 220.9l3.7-1.2 -2.1-6 -3.6 1.1z" fill="#f6ebd0" stroke="#f6ebd0" stroke-width="0.35"/><path d="M218.4 147.8l2.6 1.5 3.2-5.6 -2.5-1.4zM214.7 160.4l2.8 1.5 3-5.6 -2.7-1.5zM217.5 161.9l2.8 1.6 3-5.7 -2.8-1.5zM229.8 139.5l2.5 1.4 3-5.7 -2.4-1.3zM214.3 174.7l3 1.6 2.9-5.7 -2.9-1.5zM211.4 187.6l3.2 1.7 2.9-5.8 -3.1-1.5zM226 159.3l2.8 1.4 2.8-5.8 -2.7-1.3zM223.1 172.1l3 1.4 2.7-5.7 -2.9-1.4zM231.6 154.9l2.7 1.3 2.8-5.7 -2.7-1.3zM245.9 126.1l2.2 1.1 2.8-5.8 -2.2-1.1zM220.6 185.1l3.1 1.4 2.7-5.8 -3.1-1.4zM234.3 156.2l2.7 1.3 2.7-5.8 -2.6-1.2zM234.4 163.3l2.8 1.3 2.6-5.9 -2.8-1.2zM237.2 164.6l2.8 1.2 2.5-5.9 -2.7-1.2zM252.7 129.3l2.3 1 2.6-5.9 -2.3-1zM212.6 230.6l3.9 1.6 2.4-6 -3.8-1.5zM216.5 232.2l3.8 1.5 2.3-6 -3.7-1.5zM220.3 233.7l3.9 1.5 2.2-6 -3.8-1.5zM252.7 150.2l2.7 1 2.2-6 -2.5-.9zM253.1 157.3l2.8 .9 2.1-6 -2.6-1zM230.2 230.5l3.8 1.4 2.1-6.1 -3.7-1.3zM243.8 214.8l3.6 1.2 1.8-6.2 -3.5-1.1zM263.3 154l2.7 .8 1.9-6.1 -2.6-.8zM247.4 216l3.6 1 1.7-6.1 -3.5-1.1zM246.1 249l4.1 1.1 1.6-6.2 -4-1.1zM247.8 242.8l4 1.1 1.6-6.3 -3.9-1zM263 187.2l3.2 .9 1.6-6.2 -3.1-.8zM250.2 250.1l4.1 1 1.5-6.2 -4-1zM277.3 144.7l2.6 .6 1.5-6.3 -2.4-.6zM272.4 176.5l3 .7 1.4-6.3 -2.9-.6zM269.7 202.1l3.4 .7 1.4-6.2 -3.3-.7zM267.9 227.8l3.8 .8 1.2-6.3 -3.7-.7zM321.4 227l3.8 0 -.1-6.4 -3.7 0zM329.2 233.3l3.8-.1 -.3-6.4 -3.7 .1zM333.6 246l4-.2 -.4-6.4 -3.9 .2zM333 233.2l3.9-.2 -.4-6.4 -3.8 .2zM332.7 226.8l3.8-.2 -.4-6.4 -3.7 .2zM340.7 232.7l3.8-.3 -.5-6.4 -3.8 .3zM344.5 232.4l3.9-.4 -.7-6.3 -3.7 .3zM342.3 206.9l3.4-.3 -.6-6.4 -3.4 .4zM350.4 251.2l4.1-.5 -.8-6.4 -4 .5zM359.5 256.6l4.2-.6 -1-6.4 -4.1 .6zM366.3 223l3.7-.7 -1.2-6.3 -3.6 .7zM440.4 254.5l4.1-1.8 -2.6-6 -4.1 1.8zM422.8 212.9l3.5-1.6 -2.6-5.8 -3.4 1.5zM488.3 213.3l3.5-2.5 -3.7-5.3 -3.5 2.5zM491.8 210.8l3.5-2.6 -3.8-5.2 -3.4 2.5zM494.9 200.5l3.3-2.6 -4-5.1 -3.2 2.6zM502.2 203l3.4-2.7 -4.1-5.1 -3.3 2.7z" fill="#def0ed" stroke="#def0ed" stroke-width="0.35"/><path d="M220.5 156.3l2.8 1.5 3-5.6 -2.7-1.4zM242.6 138.9l2.4 1.1 2.7-5.8 -2.3-1.1zM245 140l2.5 1.1 2.6-5.9 -2.4-1zM239.8 158.7l2.7 1.2 2.5-5.9 -2.6-1.1zM235.1 177.6l3 1.2 2.4-5.9 -3-1.2zM237.5 171.7l3 1.2 2.4-5.9 -2.9-1.2zM240.5 172.9l3 1.2 2.3-6 -2.9-1.1zM247.7 155.1l2.7 1.1 2.3-6 -2.6-1zM252.5 143.3l2.6 1 2.3-6 -2.4-1zM248.1 162.2l2.8 1.1 2.2-6 -2.7-1.1zM259.8 139.2l2.5 .9 2.2-6.1 -2.4-.9zM260.2 146.1l2.5 .9 2.1-6.1 -2.5-.8zM233.9 245.4l4.1 1.3 1.9-6.2 -4-1.2zM260.4 173.2l3 .9 1.8-6.1 -2.9-.9zM267.9 148.7l2.6 .8 1.8-6.2 -2.5-.8zM247.4 229.3l3.8 1.1 1.7-6.2 -3.7-1zM270.5 149.5l2.6 .7 1.7-6.2 -2.5-.7zM273.1 150.2l2.6 .7 1.6-6.2 -2.5-.7zM279.9 145.3l2.5 .6 1.5-6.3 -2.5-.6zM282.4 145.9l2.6 .6 1.3-6.4 -2.4-.5zM266.6 234.1l3.8 .8 1.3-6.3 -3.8-.8zM271.8 209.1l3.5 .7 1.2-6.3 -3.4-.7zM280 204.2l3.4 .5 1-6.3 -3.3-.5zM284.5 179l3 .6 1.1-6.4 -3-.5zM286.7 166.4l2.9 .5 1-6.3 -2.7-.5zM289.6 166.9l2.9 .5 .9-6.4 -2.8-.4zM290.6 160.6l2.8 .4 1-6.3 -2.7-.4zM291.7 154.3l2.7 .4 .9-6.4 -2.6-.4zM287.8 199l3.3 .4 .9-6.3 -3.3-.4zM302.7 226.3l3.7 .3 .4-6.4 -3.7-.3zM306.5 175.4l2.9 .2 .4-6.4 -2.9-.2zM310.2 226.8l3.7 .1 .2-6.4 -3.6-.1zM313.9 226.9l3.8 .1 .1-6.4 -3.7-.1zM315.4 175.8l3 .1 .1-6.4 -2.9-.1zM321.4 239.8l4 0 -.1-6.4 -3.9 0zM339.3 213.6l3.5-.3 -.5-6.4 -3.5 .3zM346.3 251.6l4.1-.4 -.7-6.4 -4 .4zM345.7 245.2l4-.4 -.7-6.4 -3.9 .4zM348.4 232l3.8-.4 -.7-6.4 -3.8 .5zM346.4 212.9l3.5-.4 -.7-6.3 -3.5 .4zM360.8 236.9l3.9-.6 -1-6.3 -3.8 .6zM359.9 230.6l3.8-.6 -1.1-6.3 -3.7 .5zM357 211.6l3.5-.6 -1-6.3 -3.4 .6zM393.2 270l4.3-1.1 -1.6-6.3 -4.3 1.1zM391.6 263.7l4.3-1.1 -1.6-6.2 -4.2 1zM407.2 184.7l3.1-1.2 -2.5-5.9 -3 1.2zM430.3 230.6l3.8-1.6 -2.6-5.9 -3.7 1.6zM428.9 217.2l3.6-1.6 -2.7-5.8 -3.5 1.5zM421.1 199.6l3.4-1.5 -2.7-5.8 -3.2 1.5zM433.3 208.1l3.5-1.7 -2.9-5.7 -3.3 1.7zM433.9 200.7l3.4-1.7 -2.9-5.7 -3.3 1.7zM470.6 209.5l3.5-2.2 -3.5-5.4 -3.4 2.2zM474.1 207.3l3.4-2.3 -3.6-5.3 -3.3 2.2zM498.8 205.6l3.4-2.6 -4-5.1 -3.3 2.6z" fill="#c7eae5" stroke="#c7eae5" stroke-width="0.35"/><path d="M236 128.3l2.3 1.2 3.1-5.7 -2.3-1.2zM234.8 142.2l2.5 1.2 2.8-5.7 -2.4-1.2zM279.6 158.5l2.8 .6 1.3-6.3 -2.7-.6zM282.4 159.1l2.7 .5 1.2-6.3 -2.6-.5zM287.7 224.8l3.7 .4 .8-6.3 -3.6-.5zM299.1 187.6l3.2 .3 .6-6.4 -3.1-.3zM298.9 226l3.8 .3 .4-6.4 -3.6-.3zM300.6 206.9l3.5 .3 .5-6.4 -3.4-.2zM304.1 207.2l3.5 .2 .3-6.3 -3.3-.3zM305.5 188.1l3.2 .2 .4-6.3 -3.1-.2zM307.2 213.8l3.5 .2 .3-6.4 -3.4-.2zM308.7 188.3l3.2 .2 .3-6.4 -3.1-.1zM309.1 182l3.1 .1 .2-6.4 -3-.1zM311 207.6l3.5 .2 .2-6.4 -3.4-.2zM315.1 188.6l3.2 .1 .1-6.4 -3.1-.1zM315.3 182.2l3.1 .1 0-6.4 -3-.1zM318.4 175.9l3 0 0-6.4 -2.9 0zM321.4 195.1l3.3 0 -.1-6.4 -3.2 0zM324.6 188.7l3.2-.1 -.2-6.4 -3.1 .1zM324.5 182.3l3.1-.1 -.1-6.4 -3 .1zM328.4 207.8l3.5-.2 -.3-6.4 -3.4 .2zM328 195l3.3-.1 -.3-6.4 -3.2 .1zM331.9 207.6l3.4-.2 -.3-6.3 -3.4 .1zM413.3 209.8l3.5-1.4 -2.4-5.9 -3.4 1.3zM437.8 184.3l3.1-1.8 -3.2-5.5 -3 1.7zM450.4 199.2l3.3-1.9 -3.2-5.5 -3.3 1.8zM450.5 191.8l3.2-2 -3.3-5.4 -3.2 1.9zM457 195.3l3.3-2.1 -3.4-5.4 -3.2 2zM456.9 187.8l3.1-2 -3.4-5.3 -3.1 1.9zM470.6 201.9l3.3-2.2 -3.6-5.3 -3.3 2.1zM469.9 186.9l3.2-2.3 -3.7-5.2 -3.1 2.2z" fill="#5ab2a8" stroke="#5ab2a8" stroke-width="0.35"/><path d="M232.3 140.9l2.5 1.3 2.9-5.7 -2.4-1.3zM248.1 127.2l2.3 1.1 2.7-5.9 -2.2-1zM245.6 235.5l3.9 1.1 1.7-6.2 -3.8-1.1zM271.4 156.4l2.7 .7 1.6-6.2 -2.6-.7zM270.9 169.5l3 .8 1.5-6.3 -2.9-.7zM275.4 164l2.8 .7 1.4-6.2 -2.7-.7zM278.2 164.7l2.8 .6 1.4-6.2 -2.8-.6zM281 165.3l2.9 .6 1.2-6.3 -2.7-.5zM289.6 186.4l3.2 .4 .9-6.3 -3.1-.5zM290.6 180l3.1 .5 .8-6.4 -3-.4zM295.2 193.5l3.3 .4 .6-6.3 -3.1-.4zM302.3 187.9l3.2 .2 .5-6.3 -3.1-.3zM302.9 181.5l3.1 .3 .5-6.4 -3-.3zM305 194.5l3.3 .2 .4-6.4 -3.2-.2zM306 181.8l3.1 .2 .3-6.4 -2.9-.2zM327.8 188.6l3.2-.1 -.3-6.4 -3.1 .1zM332.4 220.4l3.7-.2 -.4-6.4 -3.5 .2zM335.3 207.4l3.5-.2 -.5-6.4 -3.3 .3zM333.8 182l3.1-.2 -.5-6.4 -2.9 .2zM425.3 218.8l3.6-1.6 -2.6-5.9 -3.5 1.6zM410.3 183.5l3.1-1.4 -2.5-5.8 -3.1 1.3zM416 187.9l3.2-1.4 -2.7-5.8 -3.1 1.4zM435.2 221.4l3.6-1.7 -2.7-5.8 -3.6 1.7zM436.1 213.9l3.5-1.7 -2.8-5.8 -3.5 1.7zM446.1 216.1l3.6-1.8 -3-5.7 -3.5 1.8zM443.2 210.4l3.5-1.8 -3.1-5.7 -3.4 1.8zM431.5 187.6l3.1-1.6 -3-5.6 -3.1 1.6zM434.6 186l3.2-1.7 -3.1-5.6 -3.1 1.7zM456.3 218l3.6-2.1 -3.1-5.6 -3.6 2zM453.2 212.3l3.6-2 -3.2-5.5 -3.5 1.9zM443.9 195.5l3.3-1.9 -3.2-5.5 -3.1 1.8zM453.7 197.3l3.3-2 -3.3-5.5 -3.2 2zM463.7 206.2l3.5-2.1 -3.5-5.4 -3.3 2.1zM467.2 204.1l3.4-2.2 -3.6-5.4 -3.3 2.2z" fill="#80cdc1" stroke="#80cdc1" stroke-width="0.35"/><path d="M214.6 189.3l3.2 1.5 2.8-5.7 -3.1-1.6zM211.4 223.1l3.7 1.6 2.5-5.9 -3.6-1.6zM215.1 224.7l3.8 1.5 2.4-5.9 -3.7-1.5zM249.2 223.2l3.7 1 1.7-6.2 -3.6-1zM249.5 236.6l3.9 1 1.6-6.2 -3.8-1zM251.8 243.9l4 1 1.5-6.3 -3.9-1zM263 200.5l3.4 .8 1.5-6.2 -3.3-.8zM272.9 222.3l3.7 .7 1.1-6.3 -3.6-.7zM277.8 197.3l3.3 .6 1.1-6.3 -3.2-.6zM282.4 211l3.5 .6 .9-6.3 -3.4-.6zM284.4 198.4l3.4 .6 .9-6.3 -3.2-.5zM285.9 211.6l3.5 .5 .9-6.3 -3.5-.5zM354.5 250.7l4.1-.5 -.9-6.4 -4 .5zM358.6 250.2l4.1-.6 -1-6.3 -4 .5z" fill="#f5f2e8" stroke="#f5f2e8" stroke-width="0.35"/><path d="M212.3 202.4l3.4 1.5 2.7-5.8 -3.3-1.5zM215.7 203.9l3.5 1.6 2.6-5.9 -3.4-1.5zM218.4 198.1l3.4 1.5 2.5-5.8 -3.2-1.5zM224.3 193.8l3.3 1.4 2.5-5.9 -3.2-1.4zM233.3 190.7l3.2 1.2 2.3-5.9 -3.1-1.3zM242.9 167l2.9 1.1 2.3-5.9 -2.8-1.1zM231.9 203.8l3.4 1.3 2.3-5.9 -3.4-1.3zM237.6 199.2l3.3 1.2 2.1-6 -3.2-1.2zM244.2 181.2l3.1 1.1 2.1-6 -3-1.1zM246.4 175.2l3 1.1 2.2-6 -2.9-1.1zM238.8 206.4l3.4 1.2 2.1-6.1 -3.4-1.1zM240.9 200.4l3.4 1.1 2-6 -3.3-1.1zM245.2 188.3l3.2 1.2 2-6.1 -3.1-1.1zM247.3 182.3l3.1 1.1 2.1-6 -3.1-1.1zM249.2 209.8l3.5 1.1 1.8-6.2 -3.4-1zM252.9 197.6l3.4 1 1.8-6.1 -3.3-1zM254.8 191.5l3.3 1 1.7-6.1 -3.1-1zM251 217l3.6 1 1.7-6.1 -3.6-1zM256.3 198.6l3.3 1 1.7-6.2 -3.2-.9zM258.2 219l3.7 .9 1.5-6.2 -3.6-.9zM266.2 188.1l3.2 .8 1.5-6.2 -3.1-.8zM261.9 219.9l3.6 .9 1.4-6.3 -3.5-.8zM264.9 207.5l3.4 .8 1.4-6.2 -3.3-.8zM269.4 188.9l3.2 .7 1.4-6.2 -3.1-.7zM370.9 248.3l4-.8 -1.2-6.3 -4 .7zM385.9 258.4l4.2-1 -1.5-6.3 -4.1 1zM400.9 247.9l4-1.2 -1.9-6.2 -3.9 1.2zM408.9 231.9l3.8-1.4 -2.2-6 -3.7 1.3zM422.6 233.7l3.8-1.5 -2.4-6 -3.7 1.5zM417.9 221.7l3.7-1.4 -2.4-6 -3.6 1.5zM424 226.2l3.8-1.5 -2.5-5.9 -3.7 1.5zM437.8 248.5l4.1-1.8 -2.6-5.9 -4 1.7zM432.8 236.6l3.9-1.7 -2.6-5.9 -3.8 1.6zM436.7 234.9l3.8-1.8 -2.7-5.8 -3.7 1.7zM448.6 250.8l4.1-1.9 -2.8-5.9 -4 1.9zM440.5 233.1l3.9-1.8 -2.8-5.8 -3.8 1.8zM456.8 246.9l4-2 -2.9-5.8 -4 2zM460.8 244.9l4.1-2.1 -3.1-5.7 -3.9 2zM457.9 239.1l3.9-2 -3-5.8 -3.9 2zM471 254.3l4.1-2.2 -3.1-5.7 -4.1 2.2zM467.9 248.6l4.1-2.2 -3.2-5.8 -3.9 2.2zM491.5 203l3.4-2.5 -3.9-5.1 -3.3 2.4zM509.7 205.3l3.4-2.8 -4.1-5 -3.4 2.8z" fill="#f0deb2" stroke="#f0deb2" stroke-width="0.35"/><path d="M245.4 133.1l2.3 1.1 2.7-5.9 -2.3-1.1zM247.7 134.2l2.4 1 2.6-5.9 -2.3-1zM250.1 135.2l2.4 1.1 2.5-6 -2.3-1zM241.7 234.3l3.9 1.2 1.8-6.2 -3.8-1.1zM266.9 161.8l2.8 .8 1.7-6.2 -2.7-.8zM268.7 155.6l2.7 .8 1.7-6.2 -2.6-.7zM268 168.8l2.9 .7 1.6-6.2 -2.8-.7zM269.7 162.6l2.8 .7 1.6-6.2 -2.7-.7zM272.5 163.3l2.9 .7 1.5-6.2 -2.8-.7zM276.9 157.8l2.7 .7 1.4-6.3 -2.6-.6zM298.5 193.9l3.3 .3 .5-6.3 -3.2-.3zM304.6 200.8l3.3 .3 .4-6.4 -3.3-.2zM307.6 207.4l3.4 .2 .3-6.4 -3.4-.1zM309.9 233.2l3.8 .1 .2-6.4 -3.7-.1zM310.7 214l3.6 .1 .2-6.3 -3.5-.2zM313.6 239.7l3.9 .1 .1-6.4 -3.9-.1zM314.3 214.1l3.6 .1 .1-6.4 -3.5 0zM321.4 182.3l3.1 0 0-6.4 -3.1 0zM327.6 182.2l3.1-.1 -.2-6.4 -3 .1zM331 188.5l3.2-.2 -.4-6.3 -3.1 .1zM335 201.1l3.3-.3 -.4-6.3 -3.3 .2zM412.7 230.5l3.8-1.3 -2.2-6.1 -3.8 1.4zM407.6 205.1l3.4-1.3 -2.3-5.9 -3.4 1.3zM411 203.8l3.4-1.3 -2.4-5.9 -3.3 1.3zM416.8 208.4l3.5-1.4 -2.5-5.9 -3.4 1.4zM431.6 180.4l3.1-1.7 -3.1-5.6 -3 1.6zM450.1 206.7l3.5-1.9 -3.2-5.6 -3.4 1.9zM447 201.1l3.4-1.9 -3.2-5.6 -3.3 1.9zM453.6 204.8l3.4-2 -3.3-5.5 -3.3 1.9zM456.6 180.5l3-2.1 -3.6-5.3 -2.9 2zM476.8 189.8l3.2-2.3 -3.8-5.1 -3.1 2.2zM473.1 184.6l3.1-2.2 -3.8-5.2 -3 2.2zM476.2 182.4l3.1-2.4 -3.9-5 -3 2.2z" fill="#6dc0b4" stroke="#6dc0b4" stroke-width="0.35"/><path d="M210.4 215.6l3.6 1.6 2.6-5.9 -3.5-1.5zM213.1 209.8l3.5 1.5 2.6-5.8 -3.5-1.6zM214 217.2l3.6 1.6 2.5-5.9 -3.5-1.6zM216.6 211.3l3.5 1.6 2.5-5.9 -3.4-1.5zM218.9 226.2l3.7 1.5 2.4-6 -3.7-1.4zM221.3 220.3l3.7 1.4 2.3-5.9 -3.6-1.5zM271.2 195.9l3.3 .7 1.3-6.3 -3.2-.7zM269.2 221.6l3.7 .7 1.2-6.3 -3.6-.7zM274.5 196.6l3.3 .7 1.2-6.3 -3.2-.7zM274.1 216l3.6 .7 1.1-6.3 -3.5-.6zM338 252.2l4.1-.3 -.4-6.4 -4.1 .3zM342.1 251.9l4.2-.3 -.6-6.4 -4 .3zM406.8 225.8l3.7-1.3 -2.1-6 -3.6 1.2z" fill="#f6eedc" stroke="#f6eedc" stroke-width="0.35"/><path d="M229 174.9l3 1.4 2.6-5.9 -2.9-1.3zM232 176.3l3.1 1.3 2.4-5.9 -2.9-1.3zM217.6 218.8l3.7 1.5 2.4-6 -3.6-1.4zM236.5 191.9l3.3 1.3 2.2-6 -3.2-1.2zM241.2 180l3 1.2 2.2-6 -2.9-1.1zM235.3 205.1l3.5 1.3 2.1-6 -3.3-1.2zM242 187.2l3.2 1.1 2.1-6 -3.1-1.1zM251.6 170.3l2.9 1 2.1-6 -2.9-1zM257.5 172.3l2.9 .9 1.9-6.1 -2.9-.9zM252.7 210.9l3.6 1 1.6-6.2 -3.4-1zM258.1 192.5l3.2 .9 1.7-6.2 -3.2-.8zM252.9 224.2l3.7 1 1.6-6.2 -3.6-1zM257.9 205.7l3.5 .9 1.6-6.1 -3.4-.9zM259.6 199.6l3.4 .9 1.6-6.2 -3.3-.9zM261.4 206.6l3.5 .9 1.5-6.2 -3.4-.8zM258.8 232.4l3.9 .9 1.4-6.3 -3.7-.9zM272.6 189.6l3.2 .7 1.3-6.2 -3.1-.7zM274 183.4l3.1 .7 1.3-6.3 -3-.6zM337.2 239.4l4-.3 -.5-6.4 -3.8 .3zM367.5 229.3l3.7-.7 -1.2-6.3 -3.7 .7zM410.9 238l3.9-1.4 -2.1-6.1 -3.8 1.4zM402.7 213.7l3.6-1.3 -2.2-6 -3.4 1.2zM414.8 236.6l3.9-1.4 -2.2-6 -3.8 1.3zM410.5 224.5l3.8-1.4 -2.3-6 -3.6 1.4zM418.7 235.2l3.9-1.5 -2.3-6 -3.8 1.5zM427.3 245.8l4-1.6 -2.4-6 -4 1.5zM420.3 227.7l3.7-1.5 -2.4-5.9 -3.7 1.4zM433.7 250.2l4.1-1.7 -2.5-6 -4 1.7zM478.3 257.8l4.2-2.3 -3.2-5.7 -4.2 2.3zM475.1 252.1l4.2-2.3 -3.3-5.7 -4 2.3zM472 246.4l4-2.3 -3.2-5.7 -4 2.2z" fill="#f6e8c3" stroke="#f6e8c3" stroke-width="0.35"/><path d="M250.4 128.3l2.3 1 2.6-5.9 -2.2-1zM228.6 223.1l3.8 1.4 2.1-6 -3.6-1.4zM230.9 217.1l3.6 1.4 2.1-6.1 -3.5-1.3zM234.5 218.5l3.6 1.2 2.1-6 -3.6-1.3zM236.1 225.8l3.7 1.2 2-6.1 -3.7-1.2zM239.8 227l3.8 1.2 1.9-6.1 -3.7-1.2zM241.8 220.9l3.7 1.2 1.9-6.1 -3.6-1.2zM274.1 157.1l2.8 .7 1.5-6.2 -2.7-.7zM273.9 170.3l2.9 .6 1.4-6.2 -2.8-.7zM283.7 152.8l2.6 .5 1.3-6.3 -2.6-.5zM288.6 218.4l3.6 .5 .8-6.4 -3.6-.4zM289.4 212.1l3.6 .4 .7-6.3 -3.4-.4zM293.7 206.2l3.5 .4 .6-6.4 -3.3-.3zM296 187.2l3.1 .4 .7-6.4 -3.1-.3zM321.4 220.6l3.7 0 -.1-6.4 -3.6 0zM330.7 182.1l3.1-.1 -.3-6.4 -3 .1zM343.4 219.6l3.7-.3 -.7-6.4 -3.6 .4zM400.7 207.6l3.4-1.2 -2.1-6 -3.4 1.1zM414.4 202.5l3.4-1.4 -2.5-5.9 -3.3 1.4zM427.8 224.7l3.7-1.6 -2.6-5.9 -3.6 1.6zM434.1 229l3.7-1.7 -2.6-5.9 -3.7 1.7zM431.5 223.1l3.7-1.7 -2.7-5.8 -3.6 1.6zM418.6 193.8l3.2-1.5 -2.6-5.8 -3.2 1.4zM413.4 182.1l3.1-1.4 -2.6-5.8 -3 1.4zM421.8 192.3l3.3-1.5 -2.8-5.7 -3.1 1.4zM425.4 183.5l3.1-1.5 -2.9-5.7 -3 1.5zM440.2 204.7l3.4-1.8 -3-5.6 -3.3 1.7zM437.3 199l3.3-1.7 -3-5.7 -3.2 1.7zM428.5 182l3.1-1.6 -3-5.7 -3 1.6zM449.7 214.3l3.5-2 -3.1-5.6 -3.4 1.9zM446.7 208.6l3.4-1.9 -3.1-5.6 -3.4 1.8zM443.6 202.9l3.4-1.8 -3.1-5.6 -3.3 1.8zM440.6 197.3l3.3-1.8 -3-5.6 -3.3 1.7zM459.9 215.9l3.6-2 -3.3-5.6 -3.4 2zM456.8 210.3l3.4-2 -3.2-5.5 -3.4 2zM463.5 213.9l3.6-2.2 -3.4-5.5 -3.5 2.1zM460.2 208.3l3.5-2.1 -3.3-5.4 -3.4 2z" fill="#92d4ca" stroke="#92d4ca" stroke-width="0.35"/><path d="M219.2 205.5l3.4 1.5 2.5-5.9 -3.3-1.5zM225.1 201.1l3.4 1.4 2.4-5.9 -3.3-1.4zM243.5 174.1l2.9 1.1 2.3-6 -2.9-1.1zM245.8 168.1l2.9 1.1 2.2-5.9 -2.8-1.1zM239.8 193.2l3.2 1.2 2.2-6.1 -3.2-1.1zM242.2 207.6l3.5 1.1 2-6 -3.4-1.2zM245.7 208.7l3.5 1.1 1.9-6.1 -3.4-1zM257.3 238.6l4 .9 1.4-6.2 -3.9-.9zM266.4 201.3l3.3 .8 1.5-6.2 -3.3-.8zM372 254.6l4.2-.8 -1.3-6.3 -4 .8zM376.2 253.8l4.1-.8 -1.3-6.3 -4.1 .8zM395.1 242.8l4-1.1 -1.8-6.2 -3.9 1.1zM406.3 266.6l4.3-1.3 -1.9-6.2 -4.2 1.2zM410.6 265.3l4.3-1.4 -2-6.2 -4.2 1.4zM429.6 251.8l4.1-1.6 -2.4-6 -4 1.6zM426.4 232.2l3.9-1.6 -2.5-5.9 -3.8 1.5zM444.5 252.7l4.1-1.9 -2.7-5.9 -4 1.8zM454.9 233.3l3.9-2 -3.1-5.7 -3.7 2zM461.8 237.1l3.9-2.2 -3.1-5.6 -3.8 2zM487.9 237l3.9-2.5 -3.6-5.5 -3.8 2.4z" fill="#e5cc8e" stroke="#e5cc8e" stroke-width="0.35"/><path d="M221.8 199.6l3.3 1.5 2.5-5.9 -3.3-1.4zM240 165.8l2.9 1.2 2.4-5.9 -2.8-1.2zM228.5 202.5l3.4 1.3 2.3-5.9 -3.3-1.3zM238.8 186l3.2 1.2 2.2-6 -3-1.2zM248.4 189.5l3.2 1 1.9-6.1 -3.1-1zM254.5 171.3l3 1 1.9-6.1 -2.8-.9zM249.6 196.6l3.3 1 1.9-6.1 -3.2-1zM251.6 190.5l3.2 1 1.9-6.1 -3.2-1zM254.6 218l3.6 1 1.6-6.2 -3.5-.9zM256.3 211.9l3.5 .9 1.6-6.2 -3.5-.9zM255 231.4l3.8 1 1.6-6.3 -3.8-.9zM263.4 213.7l3.5 .8 1.4-6.2 -3.4-.8zM259.9 245.8l4 .9 1.3-6.3 -3.9-.9zM265.5 220.8l3.7 .8 1.3-6.3 -3.6-.8zM275.8 190.3l3.2 .7 1.2-6.3 -3.1-.6zM366.8 249l4.1-.7 -1.2-6.4 -4 .7zM365.7 242.6l4-.7 -1.1-6.3 -3.9 .7zM381.7 259.3l4.2-.9 -1.4-6.3 -4.2 .9zM380.3 253l4.2-.9 -1.5-6.3 -4 .9zM390.1 257.4l4.2-1 -1.6-6.3 -4.1 1zM388.6 251.1l4.1-1 -1.6-6.2 -4 1zM392.7 250.1l4.1-1.1 -1.7-6.2 -4 1.1zM399.1 241.7l3.9-1.2 -1.8-6.2 -3.9 1.2zM404.9 246.7l4.1-1.3 -2-6.1 -4 1.2zM409 245.4l4-1.3 -2.1-6.1 -3.9 1.3zM407 239.3l3.9-1.3 -2-6.1 -3.9 1.2zM408.4 218.5l3.6-1.4 -2.2-6 -3.5 1.3zM406.3 212.4l3.5-1.3 -2.2-6 -3.5 1.3zM427.7 259.5l4.3-1.6 -2.4-6.1 -4.1 1.6zM434.3 263.9l4.3-1.7 -2.4-6 -4.2 1.7zM428.9 238.2l3.9-1.6 -2.5-6 -3.9 1.6zM435.3 242.5l4-1.7 -2.6-5.9 -3.9 1.7zM453.9 241.1l4-2 -3-5.8 -3.8 2zM458.8 231.3l3.8-2 -3.2-5.7 -3.7 2zM479.3 249.8l4-2.4 -3.3-5.6 -4 2.3zM480 241.8l4-2.4 -3.4-5.6 -3.9 2.4zM484 239.4l3.9-2.4 -3.5-5.6 -3.8 2.4zM491.8 234.5l3.8-2.6 -3.6-5.4 -3.8 2.5zM488.1 205.5l3.4-2.5 -3.8-5.2 -3.4 2.5z" fill="#ead5a0" stroke="#ead5a0" stroke-width="0.35"/><path d="M244.9 147l2.6 1.1 2.5-5.9 -2.5-1.1zM247.5 141.1l2.5 1.1 2.5-5.9 -2.4-1.1zM247.5 148.1l2.6 1.1 2.4-5.9 -2.5-1.1zM245.3 161.1l2.8 1.1 2.3-6 -2.7-1.1zM227.3 215.8l3.6 1.3 2.2-6 -3.5-1.3zM250.4 156.2l2.7 1.1 2.3-6.1 -2.7-1zM257.6 145.2l2.6 .9 2.1-6 -2.5-.9zM262.3 140.1l2.5 .8 2-6.1 -2.3-.8zM238.1 219.7l3.7 1.2 2-6.1 -3.6-1.1zM256.6 165.3l2.8 .9 2-6.1 -2.8-.9zM261.4 160.1l2.7 .9 1.9-6.2 -2.7-.8zM243.6 228.2l3.8 1.1 1.8-6.1 -3.7-1.1zM245.5 222.1l3.7 1.1 1.8-6.2 -3.6-1zM281 152.2l2.7 .6 1.3-6.3 -2.6-.6zM282.7 172.2l2.9 .5 1.1-6.3 -2.8-.5zM287.9 160.1l2.7 .5 1.1-6.3 -2.7-.5zM289 153.8l2.7 .5 1-6.4 -2.5-.4zM286.5 185.9l3.1 .5 1-6.4 -3.1-.4zM287.5 179.6l3.1 .4 .9-6.3 -2.9-.5zM288.6 173.2l2.9 .5 1-6.3 -2.9-.5zM286.8 205.3l3.5 .5 .8-6.4 -3.3-.4zM292.5 167.4l2.9 .4 .8-6.4 -2.8-.4zM290.3 205.8l3.4 .4 .8-6.3 -3.4-.5zM292.8 186.8l3.2 .4 .7-6.3 -3-.4zM293.7 180.5l3 .4 .8-6.4 -3-.4zM294.5 174.1l3 .4 .7-6.3 -2.8-.4zM296.7 180.9l3.1 .3 .7-6.4 -3-.3zM299.8 181.2l3.1 .3 .6-6.4 -3-.3zM300.5 174.8l3 .3 .5-6.3 -2.9-.3zM300.1 213.3l3.5 .3 .5-6.4 -3.5-.3zM303.5 175.1l3 .3 .4-6.4 -2.9-.2zM303.6 213.6l3.6 .2 .4-6.4 -3.5-.2zM325.1 220.6l3.7-.1 -.2-6.4 -3.6 .1zM328.8 220.5l3.6-.1 -.2-6.4 -3.6 .1zM336.9 181.8l3.1-.3 -.6-6.4 -3 .3zM404.1 206.4l3.5-1.3 -2.3-5.9 -3.3 1.2zM416.5 229.2l3.8-1.5 -2.4-6 -3.6 1.4zM432.5 215.6l3.6-1.7 -2.8-5.8 -3.5 1.7zM419.2 186.5l3.1-1.4 -2.7-5.8 -3.1 1.4zM416.5 180.7l3.1-1.4 -2.8-5.8 -2.9 1.4zM427.8 196.6l3.3-1.6 -2.8-5.7 -3.2 1.5zM425.1 190.8l3.2-1.5 -2.9-5.8 -3.1 1.6zM422.3 185.1l3.1-1.6 -2.8-5.7 -3 1.5zM428.3 189.3l3.2-1.7 -3-5.6 -3.1 1.5zM422.6 177.8l3-1.5 -2.9-5.7 -2.9 1.5zM425.6 176.3l3-1.6 -3-5.6 -2.9 1.5zM452.7 219.9l3.6-1.9 -3.1-5.7 -3.5 2zM428.6 174.7l3-1.6 -3.1-5.6 -2.9 1.6zM457 202.8l3.4-2 -3.4-5.5 -3.3 2zM480.6 195.1l3.2-2.4 -3.8-5.2 -3.2 2.3zM480 187.5l3.2-2.4 -3.9-5.1 -3.1 2.4z" fill="#a4dcd3" stroke="#a4dcd3" stroke-width="0.35"/><path d="M243 194.4l3.3 1.1 2.1-6 -3.2-1.2zM423.5 261l4.2-1.5 -2.2-6.1 -4.2 1.5zM421.3 254.9l4.2-1.5 -2.3-6.1 -4 1.5z" fill="#623806" stroke="#623806" stroke-width="0.35"/><path d="M232 238l3.9 1.3 2-6.2 -3.9-1.2zM260.4 226.1l3.7 .9 1.4-6.2 -3.6-.9zM264.1 227l3.8 .8 1.3-6.2 -3.7-.8zM262.6 253l4.1 .8 1.3-6.3 -4.1-.8zM447.2 237.2l3.9-1.9 -2.9-5.8 -3.8 1.8zM451.1 235.3l3.8-2 -2.9-5.7 -3.8 1.9z" fill="#c79141" stroke="#c79141" stroke-width="0.35"/><path d="M244.3 201.5l3.4 1.2 1.9-6.1 -3.3-1.1zM252.5 177.4l3 1 2-6.1 -3-1zM264.7 181.1l3.1 .8 1.6-6.2 -3-.8zM256.6 225.2l3.8 .9 1.5-6.2 -3.7-.9zM394.3 256.4l4.2-1.1 -1.7-6.3 -4.1 1.1zM410.9 251.6l4.2-1.4 -2.1-6.1 -4 1.3zM423.2 247.3l4.1-1.5 -2.4-6.1 -3.9 1.5zM421 241.2l3.9-1.5 -2.3-6 -3.9 1.5zM412 217.1l3.6-1.3 -2.3-6 -3.5 1.3zM415.6 215.8l3.6-1.5 -2.4-5.9 -3.5 1.4z" fill="#8c510a" stroke="#8c510a" stroke-width="0.35"/><path d="M246.3 195.5l3.3 1.1 2-6.1 -3.2-1z" fill="#543005" stroke="#543005" stroke-width="0.35"/><path d="M250.4 183.4l3.1 1 2-6 -3-1zM255.5 178.4l3 .9 1.9-6.1 -2.9-.9zM258.5 179.3l3.1 .9 1.8-6.1 -3-.9zM261.6 180.2l3.1 .9 1.7-6.2 -3-.8zM265.2 240.4l4 .8 1.2-6.3 -3.8-.8zM398.5 255.3l4.2-1.2 -1.8-6.2 -4.1 1.1zM408.7 259.1l4.2-1.4 -2-6.1 -4.1 1.3zM406.8 252.9l4.1-1.3 -1.9-6.2 -4.1 1.3zM417.1 256.3l4.2-1.4 -2.1-6.1 -4.1 1.4zM419.2 248.8l4-1.5 -2.2-6.1 -4 1.5zM462.6 229.3l3.7-2.2 -3.2-5.6 -3.7 2.1z" fill="#7e4909" stroke="#7e4909" stroke-width="0.35"/><path d="M235.9 239.3l4 1.2 1.8-6.2 -3.8-1.2zM239.9 240.5l3.9 1.2 1.8-6.2 -3.9-1.2zM251.1 203.7l3.4 1 1.8-6.1 -3.4-1zM254.5 204.7l3.4 1 1.7-6.1 -3.3-1zM259.8 212.8l3.6 .9 1.5-6.2 -3.5-.9zM262.7 233.3l3.9 .8 1.3-6.3 -3.8-.8zM277.1 184.1l3.1 .6 1.2-6.2 -3-.7zM280.2 184.7l3.1 .6 1.2-6.3 -3.1-.5zM282.2 191.6l3.3 .6 1-6.3 -3.2-.6z" fill="#a6691c" stroke="#a6691c" stroke-width="0.35"/><path d="M247.7 202.7l3.4 1 1.8-6.1 -3.3-1zM283.3 185.3l3.2 .6 1-6.3 -3-.6zM400.2 261.5l4.3-1.2 -1.8-6.2 -4.2 1.2z" fill="#b27524" stroke="#b27524" stroke-width="0.35"/><path d="M253.5 184.4l3.2 1 1.8-6.1 -3-.9zM263.9 246.7l4.1 .8 1.2-6.3 -4-.8zM402.7 254.1l4.1-1.2 -1.9-6.2 -4 1.2zM412.9 257.7l4.2-1.4 -2-6.1 -4.2 1.4zM419.2 262.5l4.3-1.5 -2.2-6.1 -4.2 1.4zM415.1 250.2l4.1-1.4 -2.2-6.1 -4 1.4zM417 242.7l4-1.5 -2.3-6 -3.9 1.4zM425.5 253.4l4.1-1.6 -2.3-6 -4.1 1.5z" fill="#704008" stroke="#704008" stroke-width="0.35"/><path d="M243.8 241.7l4 1.1 1.7-6.2 -3.9-1.1zM284.9 217.9l3.7 .5 .8-6.3 -3.5-.5zM443.2 239l4-1.8 -2.8-5.9 -3.9 1.8zM464.9 242.8l3.9-2.2 -3.1-5.7 -3.9 2.2zM468.8 240.6l4-2.2 -3.2-5.6 -3.9 2.1zM488.2 229l3.8-2.5 -3.6-5.4 -3.7 2.4z" fill="#d7b269" stroke="#d7b269" stroke-width="0.35"/><path d="M267.8 181.9l3.1 .8 1.5-6.2 -3-.8zM449.9 243l4-1.9 -2.8-5.8 -3.9 1.9z" fill="#cfa255" stroke="#cfa255" stroke-width="0.35"/><path d="M270.9 182.7l3.1 .7 1.4-6.2 -3-.7z" fill="#bf812d" stroke="#bf812d" stroke-width="0.35"/><path d="M261.3 239.5l3.9 .9 1.4-6.3 -3.9-.8zM279 191l3.2 .6 1.1-6.3 -3.1-.6zM395.9 262.6l4.3-1.1 -1.7-6.2 -4.2 1.1zM404.5 260.3l4.2-1.2 -1.9-6.2 -4.1 1.2zM413 244.1l4-1.4 -2.2-6.1 -3.9 1.4z" fill="#995d13" stroke="#995d13" stroke-width="0.35"/><path d="M291.4 225.2l3.8 .5 .6-6.4 -3.6-.4zM295.2 225.7l3.7 .3 .6-6.4 -3.7-.3zM307.9 201.1l3.4 .1 .3-6.3 -3.3-.2zM321.4 188.7l3.2 0 -.1-6.4 -3.1 0zM328.2 201.4l3.4-.2 -.3-6.3 -3.3 .1zM327.5 175.8l3-.1 -.3-6.4 -2.9 .1zM331.6 201.2l3.4-.1 -.4-6.4 -3.3 .2zM330.5 175.7l3-.1 -.4-6.4 -2.9 .1zM438.8 219.7l3.7-1.8 -2.9-5.7 -3.5 1.7zM448.2 229.5l3.8-1.9 -3-5.7 -3.7 1.8zM442.5 217.9l3.6-1.8 -2.9-5.7 -3.6 1.8zM440.9 182.5l3.1-1.7 -3.3-5.5 -3 1.7zM444 180.8l3-1.9 -3.3-5.4 -3 1.8zM453.7 189.8l3.2-2 -3.4-5.4 -3.1 2zM450.4 184.4l3.1-2 -3.4-5.4 -3.1 1.9zM473.9 199.7l3.4-2.3 -3.7-5.3 -3.3 2.3zM463.2 183.7l3.1-2.1 -3.7-5.2 -3 2zM473.6 192.1l3.2-2.3 -3.7-5.2 -3.2 2.3zM466.3 181.6l3.1-2.2 -3.8-5.2 -3 2.2z" fill="#35978f" stroke="#35978f" stroke-width="0.35"/><path d="M297.8 200.2l3.4 .4 .6-6.4 -3.3-.3zM301.2 200.6l3.4 .2 .4-6.3 -3.2-.3zM301.8 194.2l3.2 .3 .5-6.4 -3.2-.2zM308.3 194.7l3.3 .2 .3-6.4 -3.2-.2zM311.9 188.5l3.2 .1 .2-6.4 -3.1-.1zM312.2 182.1l3.1 .1 .1-6.4 -3-.1zM313.4 246.1l4 .1 .1-6.4 -3.9-.1zM313.7 233.3l3.9 .1 .1-6.4 -3.8-.1zM318.3 188.7l3.1 0 0-6.4 -3 0zM318.4 182.3l3 0 0-6.4 -3 0zM321.4 175.9l3.1 0 -.1-6.4 -3 0zM325.5 246.2l4-.1 -.2-6.4 -3.9 .1zM324.7 195.1l3.3-.1 -.2-6.4 -3.2 .1zM324.5 175.9l3-.1 -.2-6.4 -2.9 .1zM329.5 246.1l4.1-.1 -.3-6.4 -4 .1zM332.2 214l3.5-.2 -.4-6.4 -3.4 .2zM331.3 194.9l3.3-.2 -.4-6.4 -3.2 .2zM334.6 194.7l3.3-.2 -.5-6.4 -3.2 .2zM334.2 188.3l3.2-.2 -.5-6.3 -3.1 .2zM333.5 175.6l2.9-.2 -.4-6.4 -2.9 .2zM336.4 175.4l3-.3 -.5-6.3 -2.9 .2zM444.4 231.3l3.8-1.8 -2.9-5.8 -3.7 1.8zM447.2 186.3l3.2-1.9 -3.4-5.5 -3 1.9zM460.4 200.8l3.3-2.1 -3.4-5.5 -3.3 2.1zM453.5 182.4l3.1-1.9 -3.5-5.4 -3 1.9zM460 185.8l3.2-2.1 -3.6-5.3 -3 2.1zM477.3 197.4l3.3-2.3 -3.8-5.3 -3.2 2.3z" fill="#48a49c" stroke="#48a49c" stroke-width="0.35"/><path d="M309.3 246l4.1 .1 .2-6.4 -4-.1zM311.3 201.2l3.4 .2 .2-6.4 -3.3-.1zM311.6 194.9l3.3 .1 .2-6.4 -3.2-.1zM324.9 207.8l3.5 0 -.2-6.4 -3.4 0zM467 196.5l3.3-2.1 -3.5-5.4 -3.3 2.2zM470.3 194.4l3.3-2.3 -3.7-5.2 -3.1 2.1z" fill="#0e726a" stroke="#0e726a" stroke-width="0.35"/><path d="M314.5 207.8l3.5 0 .1-6.4 -3.4 0zM317.9 214.2l3.5 0 0-6.3 -3.4-.1zM318.2 195.1l3.2 0 0-6.4 -3.1 0zM328.6 214.1l3.6-.1 -.3-6.4 -3.5 .2zM437.8 227.3l3.8-1.8 -2.8-5.8 -3.6 1.7zM452 227.6l3.7-2 -3-5.7 -3.7 2zM447.2 193.6l3.3-1.8 -3.3-5.5 -3.2 1.8z" fill="#288b83" stroke="#288b83" stroke-width="0.35"/><path d="M314.7 201.4l3.4 0 .1-6.3 -3.3-.1zM318 207.8l3.4 .1 0-6.4 -3.3-.1zM318.1 201.4l3.3 .1 0-6.4 -3.2 0zM321.4 201.5l3.4-.1 -.1-6.3 -3.3 0zM324.8 201.4l3.4 0 -.2-6.4 -3.3 .1zM441.6 225.5l3.7-1.8 -2.8-5.8 -3.7 1.8z" fill="#1b7e76" stroke="#1b7e76" stroke-width="0.35"/><path d="M314.9 195l3.3 .1 .1-6.4 -3.2-.1zM463.7 198.7l3.3-2.2 -3.5-5.3 -3.2 2zM463.5 191.2l3.3-2.2 -3.6-5.3 -3.2 2.1z" fill="#015c52" stroke="#015c52" stroke-width="0.35"/><path d="M321.4 214.2l3.6 0 -.1-6.4 -3.5 .1zM321.4 207.9l3.5-.1 -.1-6.4 -3.4 .1zM325 214.2l3.6-.1 -.2-6.3 -3.5 0zM445.3 223.7l3.7-1.8 -2.9-5.8 -3.6 1.8zM449 221.9l3.7-2 -3-5.6 -3.6 1.8zM460.3 193.2l3.2-2 -3.5-5.4 -3.1 2zM466.8 189l3.1-2.1 -3.6-5.3 -3.1 2.1z" fill="#01665e" stroke="#01665e" stroke-width="0.35"/><path d="M364.6 262.4l4.3-.7 -1.1-6.4 -4.1 .7zM363.7 256l4.1-.7 -1-6.3 -4.1 .6zM367.8 255.3l4.2-.7 -1.1-6.3 -4.1 .7zM384.5 252.1l4.1-1 -1.5-6.2 -4.1 .9zM387.1 244.9l4-1 -1.6-6.3 -3.9 1zM397.5 268.9l4.4-1.1 -1.7-6.3 -4.3 1.1zM391.1 243.9l4-1.1 -1.7-6.2 -3.9 1zM396.8 249l4.1-1.1 -1.8-6.2 -4 1.1zM403 240.5l4-1.2 -2-6.2 -3.8 1.2zM414.9 263.9l4.3-1.4 -2.1-6.2 -4.2 1.4zM404.8 219.7l3.6-1.2 -2.1-6.1 -3.6 1.3zM438.6 262.2l4.3-1.7 -2.5-6 -4.2 1.7zM439.3 240.8l3.9-1.8 -2.7-5.9 -3.8 1.8zM465.7 234.9l3.9-2.1 -3.3-5.7 -3.7 2.2zM483.3 247.4l4.1-2.4 -3.4-5.6 -4 2.4z" fill="#dfc27d" stroke="#dfc27d" stroke-width="0.35"/></g>
<g fill="none" stroke="#000" stroke-width="1" stroke-linejoin="round"><use href="#ld"/><use href="#wt"/><use href="#bd" stroke-width="0.8"/><use href="#sc" stroke-width="0.8"/></g>
</g></g>
<path d="M1452.41 562.78A338.09 338.09 0 0 0 1908.89 562.78L1760.16 400.24A117.78 117.78 0 0 1 1601.14 400.24Z" fill="none" stroke="#000" stroke-width="1.15"/>
<path d="M1470.19 543.35l3.39 3.11M1891.11 543.35l-3.39 3.11M1513.72 495.78l3.39 3.11M1847.58 495.78l-3.39 3.11M1556.87 448.62l3.39 3.11M1804.43 448.62l-3.39 3.11M1581.89 636.7l1.34 -4.4M1646.24 426l-1.34 4.4M1730.58 647.74l-0.68 -4.55M1698.04 429.84l0.68 4.55M1869.55 593.75l-2.57 -3.82M1746.46 411.03l2.57 3.82" fill="none" stroke="#000" stroke-width="1"/>
<text transform="translate(1465.18 538.76) rotate(42.46)" text-anchor="end" dy="0.36em" font-size="22" fill="#000">45°N</text>
<text transform="translate(1508.7 491.19) rotate(42.46)" text-anchor="end" dy="0.36em" font-size="22" fill="#000">55°N</text>
<text transform="translate(1551.86 444.03) rotate(42.46)" text-anchor="end" dy="0.36em" font-size="22" fill="#000">65°N</text>
<text transform="translate(1445.34 572.44) rotate(42.46)" text-anchor="middle" dy="0.36em" font-size="20.7" fill="#000">160°W</text>
<text transform="translate(1579.66 648.46) rotate(16.98)" text-anchor="middle" dy="0.36em" font-size="20.7" fill="#000">130°W</text>
<text transform="translate(1733.62 659.31) rotate(-8.49)" text-anchor="middle" dy="0.36em" font-size="20.7" fill="#000">100°W</text>
<text transform="translate(1877.28 602.89) rotate(-33.97)" text-anchor="middle" dy="0.36em" font-size="20.7" fill="#000">70°W</text>
<text x="1680.5" y="395.3" text-anchor="middle" font-size="21.75" font-weight="bold" fill="#000">GPP anomalies</text>
<g transform="translate(1359.2 680)">
<g clip-path="url(#fc)">
<use href="#ld" fill="#bfbfbf"/><use href="#wt" fill="#fff"/>
<g fill="none" stroke="#000" stroke-width="1" stroke-linejoin="round"><use href="#ld"/><use href="#wt"/><use href="#bd" stroke-width="0.8"/><use href="#sc" stroke-width="0.8"/></g>
<path d="M244.2 106.7L252.4 120.6L236.0 120.6Z" fill="#ccccff" stroke="#111" stroke-width="0.6" stroke-linejoin="miter"/>
<path d="M275.3 156.3L283.5 170.6L267.1 170.6Z" fill="#d6d6ff" stroke="#111" stroke-width="0.6" stroke-linejoin="miter"/>
<path d="M303.0 215.4L311.2 229.6L294.8 229.6Z" fill="#eeeeff" stroke="#111" stroke-width="0.6" stroke-linejoin="miter"/>
<path d="M302.2 241.9L310.4 255.9L294.0 255.9Z" fill="#0000ff" stroke="#111" stroke-width="0.6" stroke-linejoin="miter"/>
<path d="M397.2 234.8L405.4 248.6L389.0 248.6Z" fill="#a8a8ff" stroke="#111" stroke-width="0.6" stroke-linejoin="miter"/>
<path d="M499.6 229.0L507.8 242.9L491.4 242.9Z" fill="#6868ff" stroke="#111" stroke-width="0.6" stroke-linejoin="miter"/>
<path d="M415.2 267.3L423.4 281.0L407.0 281.0Z" fill="#0000ff" stroke="#111" stroke-width="0.6" stroke-linejoin="miter"/>
<path d="M417.6 270.0L425.8 283.6L409.4 283.6Z" fill="#0000ff" stroke="#111" stroke-width="0.6" stroke-linejoin="miter"/>
</g></g>
<path d="M1452.41 902.78A338.09 338.09 0 0 0 1908.89 902.78L1760.16 740.24A117.78 117.78 0 0 1 1601.14 740.24Z" fill="none" stroke="#000" stroke-width="1.15"/>
<path d="M1470.19 883.35l3.39 3.11M1891.11 883.35l-3.39 3.11M1513.72 835.78l3.39 3.11M1847.58 835.78l-3.39 3.11M1556.87 788.62l3.39 3.11M1804.43 788.62l-3.39 3.11M1581.89 976.7l1.34 -4.4M1646.24 766l-1.34 4.4M1730.58 987.74l-0.68 -4.55M1698.04 769.84l0.68 4.55M1869.55 933.75l-2.57 -3.82M1746.46 751.03l2.57 3.82" fill="none" stroke="#000" stroke-width="1"/>
<text transform="translate(1465.18 878.76) rotate(42.46)" text-anchor="end" dy="0.36em" font-size="22" fill="#000">45°N</text>
<text transform="translate(1508.7 831.19) rotate(42.46)" text-anchor="end" dy="0.36em" font-size="22" fill="#000">55°N</text>
<text transform="translate(1551.86 784.03) rotate(42.46)" text-anchor="end" dy="0.36em" font-size="22" fill="#000">65°N</text>
<text transform="translate(1445.34 912.44) rotate(42.46)" text-anchor="middle" dy="0.36em" font-size="20.7" fill="#000">160°W</text>
<text transform="translate(1579.66 988.46) rotate(16.98)" text-anchor="middle" dy="0.36em" font-size="20.7" fill="#000">130°W</text>
<text transform="translate(1733.62 999.31) rotate(-8.49)" text-anchor="middle" dy="0.36em" font-size="20.7" fill="#000">100°W</text>
<text transform="translate(1877.28 942.89) rotate(-33.97)" text-anchor="middle" dy="0.36em" font-size="20.7" fill="#000">70°W</text>
<text x="1680.5" y="725.8" text-anchor="middle" font-size="22" font-weight="bold" fill="#000">Seasonal CO<tspan dy="7.5" font-size="16.5">2</tspan><tspan dy="-7.5"> amplitude anomalies</tspan></text>
<text x="21.3" y="48.8" font-size="30" font-weight="bold" fill="#000">a</text>
<text x="701" y="48.8" font-size="30" font-weight="bold" fill="#000">b</text>
<text x="1380.5" y="48.8" font-size="30" font-weight="bold" fill="#000">c</text>
<text x="21.3" y="388.8" font-size="30" font-weight="bold" fill="#000">d</text>
<text x="701" y="388.8" font-size="30" font-weight="bold" fill="#000">e</text>
<text x="1381" y="388.8" font-size="30" font-weight="bold" fill="#000">f</text>
<text x="21.3" y="706" font-size="30" font-weight="bold" fill="#000">g</text>
<text x="701" y="706" font-size="30" font-weight="bold" fill="#000">h</text>
<text x="1381" y="728" font-size="30" font-weight="bold" fill="#000">i</text>
<linearGradient id="ga" x1="0" y1="1" x2="0" y2="0">
<stop offset="0" stop-color="#543005"/>
<stop offset="0.1" stop-color="#8c510a"/>
<stop offset="0.2" stop-color="#bf812d"/>
<stop offset="0.3" stop-color="#dfc27d"/>
<stop offset="0.4" stop-color="#f6e8c3"/>
<stop offset="0.5" stop-color="#f5f5f5"/>
<stop offset="0.6" stop-color="#c7eae5"/>
<stop offset="0.7" stop-color="#80cdc1"/>
<stop offset="0.8" stop-color="#35978f"/>
<stop offset="0.9" stop-color="#01665e"/>
<stop offset="1" stop-color="#003c30"/>
</linearGradient>
<rect x="562.3" y="60.1" width="19" height="251.1" fill="url(#ga)" stroke="#262626" stroke-width="0.6"/>
<text x="588.7" y="60.1" dy="0.37em" font-size="21.6" fill="#262626">120</text>
<text x="588.7" y="122.88" dy="0.37em" font-size="21.6" fill="#262626">60</text>
<text x="588.7" y="185.65" dy="0.37em" font-size="21.6" fill="#262626">0</text>
<text x="588.7" y="248.42" dy="0.37em" font-size="21.6" fill="#262626">-60</text>
<text x="588.7" y="311.2" dy="0.37em" font-size="21.6" fill="#262626">-120</text>
<path d="M581.3 60.1h-2.6M581.3 122.88h-2.6M581.3 185.65h-2.6M581.3 248.42h-2.6M581.3 311.2h-2.6" stroke="#262626" stroke-width="0.7" fill="none"/>
<text transform="translate(662.2 186.7) rotate(-90)" text-anchor="middle" font-size="21.3" fill="#262626">gC m<tspan dy="-10.5" font-size="16">-2</tspan><tspan dy="10.5"> yr</tspan><tspan dy="-10.5" font-size="16">-1</tspan></text>
<linearGradient id="gb" x1="0" y1="1" x2="0" y2="0">
<stop offset="0" stop-color="#543005"/>
<stop offset="0.1" stop-color="#8c510a"/>
<stop offset="0.2" stop-color="#bf812d"/>
<stop offset="0.3" stop-color="#dfc27d"/>
<stop offset="0.4" stop-color="#f6e8c3"/>
<stop offset="0.5" stop-color="#f5f5f5"/>
<stop offset="0.6" stop-color="#c7eae5"/>
<stop offset="0.7" stop-color="#80cdc1"/>
<stop offset="0.8" stop-color="#35978f"/>
<stop offset="0.9" stop-color="#01665e"/>
<stop offset="1" stop-color="#003c30"/>
</linearGradient>
<rect x="1241.9" y="60.1" width="19" height="251.1" fill="url(#gb)" stroke="#262626" stroke-width="0.6"/>
<text x="1268.3" y="60.1" dy="0.37em" font-size="21.6" fill="#262626">120</text>
<text x="1268.3" y="122.88" dy="0.37em" font-size="21.6" fill="#262626">60</text>
<text x="1268.3" y="185.65" dy="0.37em" font-size="21.6" fill="#262626">0</text>
<text x="1268.3" y="248.42" dy="0.37em" font-size="21.6" fill="#262626">-60</text>
<text x="1268.3" y="311.2" dy="0.37em" font-size="21.6" fill="#262626">-120</text>
<path d="M1260.9 60.1h-2.6M1260.9 122.88h-2.6M1260.9 185.65h-2.6M1260.9 248.42h-2.6M1260.9 311.2h-2.6" stroke="#262626" stroke-width="0.7" fill="none"/>
<text transform="translate(1341.8 186.7) rotate(-90)" text-anchor="middle" font-size="21.3" fill="#262626">gC m<tspan dy="-10.5" font-size="16">-2</tspan><tspan dy="10.5"> yr</tspan><tspan dy="-10.5" font-size="16">-1</tspan></text>
<linearGradient id="gc" x1="0" y1="1" x2="0" y2="0">
<stop offset="0" stop-color="#543005"/>
<stop offset="0.1" stop-color="#8c510a"/>
<stop offset="0.2" stop-color="#bf812d"/>
<stop offset="0.3" stop-color="#dfc27d"/>
<stop offset="0.4" stop-color="#f6e8c3"/>
<stop offset="0.5" stop-color="#f5f5f5"/>
<stop offset="0.6" stop-color="#c7eae5"/>
<stop offset="0.7" stop-color="#80cdc1"/>
<stop offset="0.8" stop-color="#35978f"/>
<stop offset="0.9" stop-color="#01665e"/>
<stop offset="1" stop-color="#003c30"/>
</linearGradient>
<rect x="1921.5" y="60.1" width="19" height="251.1" fill="url(#gc)" stroke="#262626" stroke-width="0.6"/>
<text x="1947.9" y="60.1" dy="0.37em" font-size="21.6" fill="#262626">60</text>
<text x="1947.9" y="122.88" dy="0.37em" font-size="21.6" fill="#262626">30</text>
<text x="1947.9" y="185.65" dy="0.37em" font-size="21.6" fill="#262626">0</text>
<text x="1947.9" y="248.42" dy="0.37em" font-size="21.6" fill="#262626">-30</text>
<text x="1947.9" y="311.2" dy="0.37em" font-size="21.6" fill="#262626">-60</text>
<path d="M1940.5 60.1h-2.6M1940.5 122.88h-2.6M1940.5 185.65h-2.6M1940.5 248.42h-2.6M1940.5 311.2h-2.6" stroke="#262626" stroke-width="0.7" fill="none"/>
<text transform="translate(2010.9 186.7) rotate(-90)" text-anchor="middle" font-size="21.3" fill="#262626">gC m<tspan dy="-10.5" font-size="16">-2</tspan><tspan dy="10.5"> yr</tspan><tspan dy="-10.5" font-size="16">-1</tspan></text>
<linearGradient id="gd" x1="0" y1="1" x2="0" y2="0">
<stop offset="0" stop-color="#003c30"/>
<stop offset="0.1" stop-color="#01665e"/>
<stop offset="0.2" stop-color="#35978f"/>
<stop offset="0.3" stop-color="#80cdc1"/>
<stop offset="0.4" stop-color="#c7eae5"/>
<stop offset="0.5" stop-color="#f5f5f5"/>
<stop offset="0.6" stop-color="#f6e8c3"/>
<stop offset="0.7" stop-color="#dfc27d"/>
<stop offset="0.8" stop-color="#bf812d"/>
<stop offset="0.9" stop-color="#8c510a"/>
<stop offset="1" stop-color="#543005"/>
</linearGradient>
<rect x="562.3" y="400.1" width="19" height="251.1" fill="url(#gd)" stroke="#262626" stroke-width="0.6"/>
<text x="588.7" y="400.1" dy="0.37em" font-size="21.6" fill="#262626">120</text>
<text x="588.7" y="462.88" dy="0.37em" font-size="21.6" fill="#262626">60</text>
<text x="588.7" y="525.65" dy="0.37em" font-size="21.6" fill="#262626">0</text>
<text x="588.7" y="588.42" dy="0.37em" font-size="21.6" fill="#262626">-60</text>
<text x="588.7" y="651.2" dy="0.37em" font-size="21.6" fill="#262626">-120</text>
<path d="M581.3 400.1h-2.6M581.3 462.88h-2.6M581.3 525.65h-2.6M581.3 588.42h-2.6M581.3 651.2h-2.6" stroke="#262626" stroke-width="0.7" fill="none"/>
<text transform="translate(662.2 526.7) rotate(-90)" text-anchor="middle" font-size="21.3" fill="#262626">gC m<tspan dy="-10.5" font-size="16">-2</tspan><tspan dy="10.5"> yr</tspan><tspan dy="-10.5" font-size="16">-1</tspan></text>
<linearGradient id="ge" x1="0" y1="1" x2="0" y2="0">
<stop offset="0" stop-color="#003c30"/>
<stop offset="0.1" stop-color="#01665e"/>
<stop offset="0.2" stop-color="#35978f"/>
<stop offset="0.3" stop-color="#80cdc1"/>
<stop offset="0.4" stop-color="#c7eae5"/>
<stop offset="0.5" stop-color="#f5f5f5"/>
<stop offset="0.6" stop-color="#f6e8c3"/>
<stop offset="0.7" stop-color="#dfc27d"/>
<stop offset="0.8" stop-color="#bf812d"/>
<stop offset="0.9" stop-color="#8c510a"/>
<stop offset="1" stop-color="#543005"/>
</linearGradient>
<rect x="1241.9" y="400.1" width="19" height="251.1" fill="url(#ge)" stroke="#262626" stroke-width="0.6"/>
<text x="1268.3" y="400.1" dy="0.37em" font-size="21.6" fill="#262626">120</text>
<text x="1268.3" y="462.88" dy="0.37em" font-size="21.6" fill="#262626">60</text>
<text x="1268.3" y="525.65" dy="0.37em" font-size="21.6" fill="#262626">0</text>
<text x="1268.3" y="588.42" dy="0.37em" font-size="21.6" fill="#262626">-60</text>
<text x="1268.3" y="651.2" dy="0.37em" font-size="21.6" fill="#262626">-120</text>
<path d="M1260.9 400.1h-2.6M1260.9 462.88h-2.6M1260.9 525.65h-2.6M1260.9 588.42h-2.6M1260.9 651.2h-2.6" stroke="#262626" stroke-width="0.7" fill="none"/>
<text transform="translate(1341.8 526.7) rotate(-90)" text-anchor="middle" font-size="21.3" fill="#262626">gC m<tspan dy="-10.5" font-size="16">-2</tspan><tspan dy="10.5"> yr</tspan><tspan dy="-10.5" font-size="16">-1</tspan></text>
<linearGradient id="gf" x1="0" y1="1" x2="0" y2="0">
<stop offset="0" stop-color="#543005"/>
<stop offset="0.1" stop-color="#8c510a"/>
<stop offset="0.2" stop-color="#bf812d"/>
<stop offset="0.3" stop-color="#dfc27d"/>
<stop offset="0.4" stop-color="#f6e8c3"/>
<stop offset="0.5" stop-color="#f5f5f5"/>
<stop offset="0.6" stop-color="#c7eae5"/>
<stop offset="0.7" stop-color="#80cdc1"/>
<stop offset="0.8" stop-color="#35978f"/>
<stop offset="0.9" stop-color="#01665e"/>
<stop offset="1" stop-color="#003c30"/>
</linearGradient>
<rect x="1921.5" y="400.1" width="19" height="251.1" fill="url(#gf)" stroke="#262626" stroke-width="0.6"/>
<text x="1947.9" y="400.1" dy="0.37em" font-size="21.6" fill="#262626">120</text>
<text x="1947.9" y="462.88" dy="0.37em" font-size="21.6" fill="#262626">60</text>
<text x="1947.9" y="525.65" dy="0.37em" font-size="21.6" fill="#262626">0</text>
<text x="1947.9" y="588.42" dy="0.37em" font-size="21.6" fill="#262626">-60</text>
<text x="1947.9" y="651.2" dy="0.37em" font-size="21.6" fill="#262626">-120</text>
<path d="M1940.5 400.1h-2.6M1940.5 462.88h-2.6M1940.5 525.65h-2.6M1940.5 588.42h-2.6M1940.5 651.2h-2.6" stroke="#262626" stroke-width="0.7" fill="none"/>
<text transform="translate(2021.4 526.7) rotate(-90)" text-anchor="middle" font-size="21.3" fill="#262626">gC m<tspan dy="-10.5" font-size="16">-2</tspan><tspan dy="10.5"> yr</tspan><tspan dy="-10.5" font-size="16">-1</tspan></text>
<linearGradient id="gi" x1="0" y1="1" x2="0" y2="0">
<stop offset="0" stop-color="#ff0000"/>
<stop offset="0.5" stop-color="#ffffff"/>
<stop offset="1" stop-color="#0000ff"/>
</linearGradient>
<rect x="1921.5" y="740.3" width="19" height="251.4" fill="url(#gi)" stroke="#262626" stroke-width="0.6"/>
<text x="1947.9" y="740.3" dy="0.37em" font-size="21.6" fill="#262626">4</text>
<text x="1947.9" y="803.15" dy="0.37em" font-size="21.6" fill="#262626">2</text>
<text x="1947.9" y="866" dy="0.37em" font-size="21.6" fill="#262626">0</text>
<text x="1947.9" y="928.85" dy="0.37em" font-size="21.6" fill="#262626">-2</text>
<text x="1947.9" y="991.7" dy="0.37em" font-size="21.6" fill="#262626">-4</text>
<path d="M1940.5 740.3h-2.6M1940.5 803.15h-2.6M1940.5 866h-2.6M1940.5 928.85h-2.6M1940.5 991.7h-2.6" stroke="#262626" stroke-width="0.7" fill="none"/>
<text transform="translate(1991.7 865.8) rotate(-90)" text-anchor="middle" font-size="21.3" fill="#262626">ppm</text>
<path d="M93.1 888.3H549.7" stroke="#8c8c8c" stroke-width="1" stroke-dasharray="6.5 4" fill="none"/>
<polygon points="112.1,887.6 150.2,891.9 188.2,888.3 226.3,886.1 264.3,854.8 302.4,732.8 340.4,832.2 378.5,862.1 416.5,850.1 454.6,885.4 492.6,875.2 530.7,887.6 530.7,891.2 492.6,882.5 454.6,889.8 416.5,919.9 378.5,894.1 340.4,859.2 302.4,799.7 264.3,905 226.3,896.3 188.2,892.7 150.2,897 112.1,891.9" fill="#000" fill-opacity="0.2"/>
<polygon points="112.1,883.6 150.2,885.4 188.2,884.7 226.3,887.9 264.3,818.1 302.4,847.5 340.4,905.6 378.5,923.6 416.5,899.9 454.6,884.3 492.6,887.6 530.7,885.8 530.7,893 492.6,894.9 454.6,891.6 416.5,907.2 378.5,930.9 340.4,912.9 302.4,854.8 264.3,825.4 226.3,895.2 188.2,891.9 150.2,892.7 112.1,890.8" fill="#0f7232" fill-opacity="0.2"/>
<polygon points="112.1,883.2 150.2,880.3 188.2,884.7 226.3,883.2 264.3,804.6 302.4,938.5 340.4,937.6 378.5,922.2 416.5,871.6 454.6,885.4 492.6,894.6 530.7,886.8 530.7,890.5 492.6,903.4 454.6,889.8 416.5,942 378.5,954.1 340.4,966.2 302.4,1006.7 264.3,856.7 226.3,887.6 188.2,888.3 150.2,885.4 112.1,887.6" fill="#bf0000" fill-opacity="0.2"/>
<polyline points="112.1,889.8 150.2,894.6 188.2,890.5 226.3,894.1 264.3,878.1 302.4,766 340.4,846.1 378.5,877.7 416.5,885 454.6,887.6 492.6,879.9 530.7,889.4" fill="none" stroke="#000" stroke-width="2.8" stroke-linejoin="miter"/>
<polyline points="112.1,887.2 150.2,889 188.2,888.3 226.3,891.6 264.3,821.8 302.4,851.2 340.4,909.3 378.5,927.2 416.5,903.6 454.6,887.9 492.6,891.2 530.7,889.4" fill="none" stroke="#0f7232" stroke-width="2.8" stroke-linejoin="miter"/>
<polyline points="112.1,885.4 150.2,882.8 188.2,886.5 226.3,885.4 264.3,832 302.4,973.5 340.4,951.6 378.5,937.8 416.5,906.3 454.6,887.6 492.6,899.7 530.7,888.7" fill="none" stroke="#bf0000" stroke-width="2.8" stroke-linejoin="miter"/>
<rect x="93.1" y="720.5" width="456.6" height="291.9" fill="none" stroke="#7d7d7d" stroke-width="1.5"/>
<path d="M112.1 1012.4v-4.6M112.1 720.5v4.6M150.2 1012.4v-4.6M150.2 720.5v4.6M188.2 1012.4v-4.6M188.2 720.5v4.6M226.3 1012.4v-4.6M226.3 720.5v4.6M264.3 1012.4v-4.6M264.3 720.5v4.6M302.4 1012.4v-4.6M302.4 720.5v4.6M340.4 1012.4v-4.6M340.4 720.5v4.6M378.5 1012.4v-4.6M378.5 720.5v4.6M416.5 1012.4v-4.6M416.5 720.5v4.6M454.6 1012.4v-4.6M454.6 720.5v4.6M492.6 1012.4v-4.6M492.6 720.5v4.6M530.7 1012.4v-4.6M530.7 720.5v4.6M93.1 742.7h4.6M549.7 742.7h-4.6M93.1 815.5h4.6M549.7 815.5h-4.6M93.1 888.3h4.6M549.7 888.3h-4.6M93.1 961.1h4.6M549.7 961.1h-4.6" stroke="#6a6a6a" stroke-width="1.1" fill="none"/>
<text x="112.1" y="1039.4" text-anchor="middle" font-size="21.3" fill="#262626">J</text>
<text x="150.2" y="1039.4" text-anchor="middle" font-size="21.3" fill="#262626">F</text>
<text x="188.2" y="1039.4" text-anchor="middle" font-size="21.3" fill="#262626">M</text>
<text x="226.3" y="1039.4" text-anchor="middle" font-size="21.3" fill="#262626">A</text>
<text x="264.3" y="1039.4" text-anchor="middle" font-size="21.3" fill="#262626">M</text>
<text x="302.4" y="1039.4" text-anchor="middle" font-size="21.3" fill="#262626">J</text>
<text x="340.4" y="1039.4" text-anchor="middle" font-size="21.3" fill="#262626">J</text>
<text x="378.5" y="1039.4" text-anchor="middle" font-size="21.3" fill="#262626">A</text>
<text x="416.5" y="1039.4" text-anchor="middle" font-size="21.3" fill="#262626">S</text>
<text x="454.6" y="1039.4" text-anchor="middle" font-size="21.3" fill="#262626">O</text>
<text x="492.6" y="1039.4" text-anchor="middle" font-size="21.3" fill="#262626">N</text>
<text x="530.7" y="1039.4" text-anchor="middle" font-size="21.3" fill="#262626">D</text>
<text x="85.5" y="742.7" dy="0.345em" text-anchor="end" font-size="21.6" fill="#262626">0.2</text>
<text x="85.5" y="815.5" dy="0.345em" text-anchor="end" font-size="21.6" fill="#262626">0.1</text>
<text x="85.5" y="888.3" dy="0.345em" text-anchor="end" font-size="21.6" fill="#262626">0</text>
<text x="85.5" y="961.1" dy="0.345em" text-anchor="end" font-size="21.6" fill="#262626">-0.1</text>
<text x="321.4" y="1065.2" text-anchor="middle" font-size="21" fill="#262626">Month</text>
<text transform="translate(38.6 867.5) rotate(-90)" text-anchor="middle" font-size="24" fill="#262626">PgC month<tspan dy="-11.5" font-size="18">-1</tspan></text>
<text x="321.4" y="714.8" text-anchor="middle" font-size="21.7" font-weight="bold" fill="#000">Monthly flux anomalies (GCAS-extra)</text>
<path d="M437.1 747.4h46.5" stroke="#000" stroke-width="2.9"/>
<text x="486.7" y="747.4" dy="0.36em" font-size="21" fill="#000">NEP</text>
<path d="M437.1 772.4h46.5" stroke="#0f7232" stroke-width="2.9"/>
<text x="486.7" y="772.4" dy="0.36em" font-size="21" fill="#000">GPP</text>
<path d="M437.1 797.4h46.5" stroke="#bf0000" stroke-width="2.9"/>
<text x="486.7" y="797.4" dy="0.36em" font-size="21" fill="#000">TER</text>
<path d="M772.7 888.3H1229.3" stroke="#8c8c8c" stroke-width="1" stroke-dasharray="6.5 4" fill="none"/>
<polygon points="791.7,885.4 829.8,884.2 867.8,880.6 905.9,872.3 943.9,764 982,732.8 1020,824.3 1058.1,828.4 1096.1,825.8 1134.2,890.5 1172.2,887.9 1210.3,876.9 1210.3,902.6 1172.2,900.7 1134.2,910 1096.1,908.2 1058.1,887.9 1020,881.3 982,823.6 943.9,893.4 905.9,900.7 867.8,897 829.8,905.6 791.7,903.4" fill="#000" fill-opacity="0.2"/>
<polygon points="791.7,882.8 829.8,885.4 867.8,884.7 905.9,887.2 943.9,818.1 982,847.5 1020,905.6 1058.1,923.6 1096.1,899.9 1134.2,883.2 1172.2,887.2 1210.3,885.8 1210.3,893 1172.2,894.5 1134.2,890.5 1096.1,907.2 1058.1,930.9 1020,912.9 982,854.8 943.9,825.4 905.9,894.5 867.8,891.9 829.8,892.7 791.7,890.1" fill="#0f7232" fill-opacity="0.2"/>
<polygon points="791.7,870.7 829.8,872.5 867.8,880.6 905.9,874.3 943.9,819.1 982,915.5 1020,914.8 1058.1,928.3 1096.1,882.5 1134.2,865.1 1172.2,877.7 1210.3,875.2 1210.3,900.7 1172.2,893.4 1134.2,887.9 1096.1,966.2 1058.1,987.2 1020,973.5 982,1007.4 943.9,945.7 905.9,906.3 867.8,896.3 829.8,891.6 791.7,889" fill="#bf0000" fill-opacity="0.2"/>
<polyline points="791.7,894.9 829.8,895.3 867.8,888.7 905.9,887.9 943.9,824.7 982,777.3 1020,852.6 1058.1,858.2 1096.1,867 1134.2,899.7 1172.2,893.4 1210.3,890.5" fill="none" stroke="#000" stroke-width="2.8" stroke-linejoin="miter"/>
<polyline points="791.7,886.5 829.8,889 867.8,888.3 905.9,890.8 943.9,821.8 982,851.2 1020,909.3 1058.1,927.2 1096.1,903.6 1134.2,886.8 1172.2,890.8 1210.3,889.4" fill="none" stroke="#0f7232" stroke-width="2.8" stroke-linejoin="miter"/>
<polyline points="791.7,879.9 829.8,881.7 867.8,888.3 905.9,890.8 943.9,882 982,961.8 1020,943.8 1058.1,957.5 1096.1,924.7 1134.2,875.4 1172.2,885 1210.3,887.6" fill="none" stroke="#bf0000" stroke-width="2.8" stroke-linejoin="miter"/>
<rect x="772.7" y="720.5" width="456.6" height="291.9" fill="none" stroke="#7d7d7d" stroke-width="1.5"/>
<path d="M791.7 1012.4v-4.6M791.7 720.5v4.6M829.8 1012.4v-4.6M829.8 720.5v4.6M867.8 1012.4v-4.6M867.8 720.5v4.6M905.9 1012.4v-4.6M905.9 720.5v4.6M943.9 1012.4v-4.6M943.9 720.5v4.6M982 1012.4v-4.6M982 720.5v4.6M1020 1012.4v-4.6M1020 720.5v4.6M1058.1 1012.4v-4.6M1058.1 720.5v4.6M1096.1 1012.4v-4.6M1096.1 720.5v4.6M1134.2 1012.4v-4.6M1134.2 720.5v4.6M1172.2 1012.4v-4.6M1172.2 720.5v4.6M1210.3 1012.4v-4.6M1210.3 720.5v4.6M772.7 742.7h4.6M1229.3 742.7h-4.6M772.7 815.5h4.6M1229.3 815.5h-4.6M772.7 888.3h4.6M1229.3 888.3h-4.6M772.7 961.1h4.6M1229.3 961.1h-4.6" stroke="#6a6a6a" stroke-width="1.1" fill="none"/>
<text x="791.7" y="1039.4" text-anchor="middle" font-size="21.3" fill="#262626">J</text>
<text x="829.8" y="1039.4" text-anchor="middle" font-size="21.3" fill="#262626">F</text>
<text x="867.8" y="1039.4" text-anchor="middle" font-size="21.3" fill="#262626">M</text>
<text x="905.9" y="1039.4" text-anchor="middle" font-size="21.3" fill="#262626">A</text>
<text x="943.9" y="1039.4" text-anchor="middle" font-size="21.3" fill="#262626">M</text>
<text x="982" y="1039.4" text-anchor="middle" font-size="21.3" fill="#262626">J</text>
<text x="1020" y="1039.4" text-anchor="middle" font-size="21.3" fill="#262626">J</text>
<text x="1058.1" y="1039.4" text-anchor="middle" font-size="21.3" fill="#262626">A</text>
<text x="1096.1" y="1039.4" text-anchor="middle" font-size="21.3" fill="#262626">S</text>
<text x="1134.2" y="1039.4" text-anchor="middle" font-size="21.3" fill="#262626">O</text>
<text x="1172.2" y="1039.4" text-anchor="middle" font-size="21.3" fill="#262626">N</text>
<text x="1210.3" y="1039.4" text-anchor="middle" font-size="21.3" fill="#262626">D</text>
<text x="765.1" y="742.7" dy="0.345em" text-anchor="end" font-size="21.6" fill="#262626">0.2</text>
<text x="765.1" y="815.5" dy="0.345em" text-anchor="end" font-size="21.6" fill="#262626">0.1</text>
<text x="765.1" y="888.3" dy="0.345em" text-anchor="end" font-size="21.6" fill="#262626">0</text>
<text x="765.1" y="961.1" dy="0.345em" text-anchor="end" font-size="21.6" fill="#262626">-0.1</text>
<text x="1001" y="1065.2" text-anchor="middle" font-size="21" fill="#262626">Month</text>
<text transform="translate(718.2 867.5) rotate(-90)" text-anchor="middle" font-size="24" fill="#262626">PgC month<tspan dy="-11.5" font-size="18">-1</tspan></text>
<text x="1001" y="714.8" text-anchor="middle" font-size="21.7" font-weight="bold" fill="#000">Monthly flux anomalies (GCB2024-satellite)</text>
<path d="M1116.7 747.4h46.5" stroke="#000" stroke-width="2.9"/>
<text x="1166.3" y="747.4" dy="0.36em" font-size="21" fill="#000">NEP</text>
<path d="M1116.7 772.4h46.5" stroke="#0f7232" stroke-width="2.9"/>
<text x="1166.3" y="772.4" dy="0.36em" font-size="21" fill="#000">GPP</text>
<path d="M1116.7 797.4h46.5" stroke="#bf0000" stroke-width="2.9"/>
<text x="1166.3" y="797.4" dy="0.36em" font-size="21" fill="#000">TER</text>
</svg>
</body></html>
